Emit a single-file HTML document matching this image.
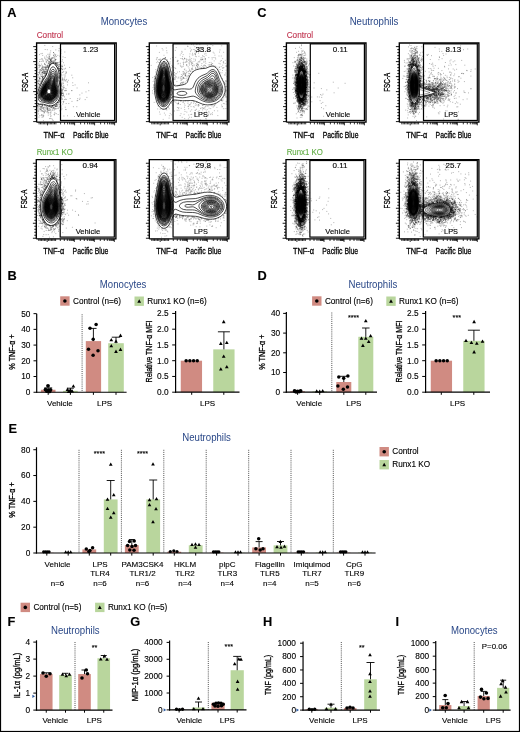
<!DOCTYPE html>
<html><head><meta charset="utf-8"><style>
html,body{margin:0;padding:0;background:#fff;width:520px;height:732px;overflow:hidden}
svg{display:block;will-change:transform}
text{font-family:"Liberation Sans",sans-serif;stroke:#000;stroke-width:0.12px}
.c{stroke-width:0.3px}
.n{stroke:none}
</style></head><body>
<svg width="520" height="732" viewBox="0 0 520 732">
<rect width="520" height="732" fill="#fff"/>
<rect x="0" y="0" width="520" height="1.1" fill="#000"/>
<rect x="0" y="730.9" width="520" height="1.1" fill="#000"/>
<rect x="0" y="0" width="1.1" height="732" fill="#000"/>
<rect x="518.9" y="0" width="1.1" height="732" fill="#000"/>
<text x="7.3" y="16.9" font-size="12.8" font-weight="bold">A</text>
<text x="257.2" y="16.9" font-size="12.8" font-weight="bold">C</text>
<text x="7.5" y="280" font-size="12.8" font-weight="bold">B</text>
<text x="257.5" y="280" font-size="12.8" font-weight="bold">D</text>
<text x="8.6" y="433" font-size="12.8" font-weight="bold">E</text>
<text x="7.6" y="626.3" font-size="12.8" font-weight="bold">F</text>
<text x="130.2" y="626.4" font-size="12.8" font-weight="bold">G</text>
<text x="263" y="626.3" font-size="12.8" font-weight="bold">H</text>
<text x="395.4" y="626.2" font-size="12.8" font-weight="bold">I</text>
<text x="124" y="24.8" font-size="10" text-anchor="middle" fill="#2a4888" class="n" textLength="46.5" lengthAdjust="spacingAndGlyphs">Monocytes</text>
<text x="374" y="24.5" font-size="10" text-anchor="middle" fill="#2a4888" class="n" textLength="48.7" lengthAdjust="spacingAndGlyphs">Neutrophils</text>
<text x="36.7" y="37.9" font-size="9" fill="#c1344f" style="stroke:#c1344f" textLength="26.4" lengthAdjust="spacingAndGlyphs">Control</text>
<text x="286.7" y="37.9" font-size="9" fill="#c1344f" style="stroke:#c1344f" textLength="26.4" lengthAdjust="spacingAndGlyphs">Control</text>
<text x="36.7" y="154.9" font-size="9" fill="#62ad45" style="stroke:#62ad45" textLength="36.1" lengthAdjust="spacingAndGlyphs">Runx1 KO</text>
<text x="286.7" y="154.9" font-size="9" fill="#62ad45" style="stroke:#62ad45" textLength="36.1" lengthAdjust="spacingAndGlyphs">Runx1 KO</text>
<path d="M44.8 45.4h0m7.9 1.1h0m-7.5 3h0m2.1.2h0m8.5.2h0m3.4-1.4h0m2 1.4h0m-10.5 1h0m8.1-.1h0m2 .6h0m-19.8 2.3h0m1.3-.3h0m7.9-.5h0m3.3-.4h0m.1 0h0m.6 1.2h0m6.8-.5h0m3.8-1.2h0m-25.3 2.6h0m3.2.8h0m3.7.5h0m1.5-1.6h0m1.4-.1h0m.8.7h0m3.4.7h0m.2.2h0m.4-1.2h0m1.2.7h0m.4-.9h0m2.1 1h0m-13.1 1.7h0m2.3.1h0m1.2.6h0m.7-1.7h0m.5 1.6h0m0-1.5h0m.2.5h0m2.7 1h0m1.4-.1h0m.9-1.2h0m1.1-.4h0m.7.6h0m3.3-.5h0m3.3.8h0m2.1.6h0m-25.1 2.1h0m1.4-.6h0m.8-.3h0m.5 1.1h0m2.1-1.5h0m1 .8h0m1.3.3h0m1.7-.7h0m.3.7h0m.1-.6h0m0-.6h0m.9 1.4h0m0-1h0m.3 1.1h0m.3.1h0m.1-.1h0m.2-1.5h0m.4 1h0m.3-.6h0m.4-.5h0m0-.1h0m.9.2h0m1.6 0h0m.4-.2h0m.3 1.8h0m0-.3h0m.9-.1h0m6.3.4h0m-22.9 1.8h0m.2-.1h0m1.9-.1h0m1.4-.7h0m.1.9h0m2.7-1.6h0m.1 1.9h0m.6-.5h0m.7-.8h0m.4-.3h0m.8 1.5h0m.2-.7h0m.8.7h0m.2-.1h0m.8-1.3h0m0 .3h0m.1-.1h0m.5.7h0m.3-1.3h0m.1 1.3h0m.1.3h0m.3-1.4h0m.1.9h0m.6.7h0m.5-.6h0m.6-.4h0m.1.7h0m.5-1.3h0m.2 1h0m.8-1.1h0m.2-.1h0m4.5 1.9h0m.5-.7h0m1.5.2h0m-23.2 1.8h0m5.7.2h0m2.2-.7h0m1.5 1.1h0m.6-.2h0m.1-.4h0m.1-.3h0m.1 0h0m.9-.6h0m.1 1.3h0m.4-1.5h0m.2 0h0m.1.2h0m0 .9h0m.1.6h0m.3.1h0m.5-.5h0m.1-1.3h0m.3 1h0m.2-.7h0m.9.9h0m0-.8h0m.3.3h0m.3 0h0m0-.3h0m.4-.1h0m.2.5h0m.6.7h0m.4-1.5h0m.1 1.5h0m0-.9h0m.1 1h0m.1-.5h0m.1.2h0m.1-1h0m0 1.4h0m.1-.2h0m.5-.9h0m0 .3h0m.7.4h0m.4-.8h0m.2.2h0m.2.2h0m1.1-.6h0m4.4.3h0m-24.5 2.5h0m.1.5h0m.2-.8h0m.8.8h0m.4.1h0m.9-1.7h0m.8 1.3h0m2.3-1.2h0m.4 0h0m.5.3h0m1.9 1.2h0m.2-.1h0m.3-.6h0m1.1.7h0m.5-.5h0m.1.5h0m0-.8h0m.1-.3h0m0 .5h0m.1.2h0m0-1.3h0m.5.5h0m.1-.1h0m.2.1h0m4.7-.2h0m.6.2h0m.2.8h0m.7-1.3h0m.1.3h0m.1 0h0m.1.8h0m.1 0h0m.3.6h0m.3-.8h0m.3.6h0m.8-.8h0m.3.1h0m.3-.4h0m.5 1.3h0m.8-.1h0m1.5-.4h0m2.2 0h0m-25.3 2.4h0m.3-.8h0m2.6 1.1h0m.3-1.5h0m.1.9h0m.1-.1h0m1 .2h0m.2-.7h0m.7.9h0m.5-.6h0m.2-.1h0m.3.6h0m.4-1.5h0m0 1.5h0m.4-1.5h0m.4 1.2h0m.2 0h0m.1.1h0m.5-.5h0m.3-.2h0m.2.7h0m.2-1.2h0m.1 1.3h0m.2.5h0m.1-.3h0m.2-.9h0m.3-.5h0m.2.1h0m7.4.1h0m.2.4h0m.7.8h0m.6 0h0m.1.2h0m.3-1.1h0m0-.1h0m.9-.1h0m1.5-.5h0m.1.1h0m.2.6h0m1.2-.2h0m.2.3h0m7 .6h0m-31.9 2.2h0m0-1.4h0m2.4 1.3h0m.3.2h0m1-1h0m0 1.2h0m.3-1.6h0m.9 1.6h0m.3-1.4h0m0 1.3h0m0-.6h0m.2.1h0m1.2.4h0m1-.4h0m0-1h0m.1.8h0m.6-1.1h0m0 1.3h0m.2-.5h0m.1.6h0m.9-.2h0m10.5-1.1h0m.5.9h0m0-.4h0m.4-.3h0m.1.9h0m.2-.5h0m.1 0h0m.3.2h0m.1-.2h0m.5-.4h0m.9 1.4h0m0-1h0m.2 0h0m.5-.4h0m.8 1h0m.1.4h0m.6-.7h0m1.7 0h0m.8-.7h0m-25.9 3.4h0m0-1.5h0m1 .6h0m.4 0h0m.6-.2h0m.8 1.3h0m.5-.1h0m.6-1.8h0m.3 1.5h0m.1-.4h0m.1-.4h0m.1.5h0m.5.2h0m.5.5h0m.5-.3h0m.2-.6h0m.4.2h0m.1-.3h0m.2.5h0m.6-1.3h0m.4.1h0m11.6.1h0m.1-.3h0m0 1.7h0m.2-1.3h0m.3-.2h0m0 .2h0m0 .9h0m.1-.8h0m3.9.9h0m2.4.3h0m-27.7.8h0m1.1.8h0m.2-.8h0m.1-.4h0m.2 1.8h0m1.7-1.2h0m.3.6h0m.4-.5h0m.1-.3h0m.3-.4h0m.1.8h0m.6.1h0m.2.2h0m.4-.3h0m.2.6h0m0 .4h0m0-1.9h0m.3.4h0m0 .7h0m.4.8h0m.4-1.7h0m0 1.2h0m.2-.6h0m.5 1.1h0m.1-.1h0m.3-.4h0m0 .4h0m.3-.6h0m.1-.6h0m12.3.2h0m.2.7h0m.1-.2h0m.8.4h0m.6-.1h0m1.2-1.3h0m.8.1h0m2.5 1.5h0m.7-1h0m.3-.1h0m-28.7 1.7h0m.5.6h0m.5-.3h0m2.2.4h0m.1-.8h0m1.4.1h0m0 1.2h0m2.5 0h0m.4-1.6h0m.1 1.8h0m0-.1h0m.1-.2h0m.1.2h0m.3-1h0m.1-.5h0m.4 0h0m12.9 1.3h0m.3.2h0m.2-1.4h0m.6-.4h0m.6.4h0m.8.6h0m2.2-.1h0m1.2 1h0m6.6-.7h0m-33.6 1.9h0m1 .1h0m.8-.1h0m1.1-.8h0m.5.2h0m.4.1h0m.2-.2h0m.3 1.1h0m.1-.7h0m0 .7h0m.2-.3h0m.2.2h0m.5-.9h0m.1-.3h0m1-.1h0m.1.9h0m0 .4h0m14.2.4h0m.1-.7h0m.1 0h0m.2-.4h0m.4.7h0m.1-.7h0m2-.7h0m.4 1.6h0m2.6-.5h0m7.9.7h0m-33.6 1.8h0m.4-.9h0m.1-.6h0m.3.3h0m.1.1h0m.2.6h0m2-.3h0m.2-.8h0m.2 1.2h0m.1 0h0m0 .2h0m.3-.8h0m.6 0h0m0 .4h0m.1 0h0m.2-.7h0m15.1-.2h0m1 .5h0m0-.3h0m.2.4h0m0-.6h0m.9 1h0m1.4-.6h0m0 1.2h0m.4-.3h0m1.2.3h0m.1-1.4h0m.5 1.5h0m1.9-.4h0m-28.7 2.2h0m.1.2h0m.3-.8h0m.1-.5h0m1.4.9h0m0-.7h0m.2.5h0m1.6.4h0m0-.1h0m.3-1h0m.2-.5h0m.1.1h0m.1 1.1h0m.1-.8h0m.1.6h0m16.5-.6h0m.4.7h0m.1.4h0m2.5-.6h0m.2-.8h0m1.6.8h0m1.5.1h0m.6-.7h0m1.2 1.5h0m1.3-1.5h0m-30.3 3.3h0m.5-.1h0m.3-.4h0m1.5 0h0m.2.5h0m.5-1.5h0m.1.7h0m.1-.5h0m.1.7h0m.6-1h0m17.5.3h0m.4.9h0m.5-.7h0m.3 1.1h0m.1-1.6h0m.1 1.1h0m.8.8h0m.3-1.1h0m1.2.9h0m.1-.7h0m4.3-.9h0m5.1.7h0m15.8 0h0m-49.7 1.3h0m.4 1.7h0m.1-1.3h0m.2.4h0m.1-.4h0m.5 1h0m.5-.4h0m0-1h0m19.4.9h0m.8-.3h0m.2-.7h0m0 1.8h0m.3 0h0m.1-.6h0m.4-.4h0m1.9.9h0m3.8-.8h0m5.5.6h0m2.1-.6h0m-37.4 2.1h0m1.1.7h0m.2-.4h0m0-1.2h0m21.5.5h0m0-.5h0m.4.2h0m.1 1.3h0m.3-.9h0m1.4 0h0m1 1.2h0m.1-.8h0m.4.6h0m-26.4 1.4h0m.3.6h0m.4-.4h0m22.1-1.1h0m.2.2h0m0 .8h0m.1-.8h0m0 .7h0m.1-.6h0m.8 1.2h0m.3 0h0m.3.1h0m.5-1.7h0m.5 1.2h0m2.5-.7h0m11.2-.6h0m-39.1 3.1h0m22.9-.3h0m0 .2h0m.2-.1h0m.5-.9h0m0 .8h0m.6.9h0m.4-1h0m2.3-.2h0m0 .4h0m1.1-.6h0m.2.3h0m5.6-.1h0m0 .2h0m14.2 1.2h0m2.8-1.2h0m-28 3.1h0m.1-.3h0m.2.1h0m.2-1.5h0m.2.8h0m.1.3h0m.1-.2h0m.3-.7h0m.1 1.3h0m.3-.1h0m.2-.3h0m.8-.1h0m5.7.8h0m12.9-.8h0m-21.4 2.4h0m0-.6h0m.1-.4h0m.2-.5h0m.1.4h0m.1 1.1h0m.2-1.2h0m0 .3h0m.3.9h0m.5.4h0m.3-.1h0m.8-.7h0m.2.1h0m.1-1.2h0m3.1.1h0m2-.1h0m11.2.9h0m-19.3 1.4h0m.2 1.2h0m.1-.9h0m0 .4h0m0 .3h0m.9 0h0m2-1.3h0m.8.9h0m22.4.5h0m-27 2.2h0m0-1h0m.3.6h0m.1.6h0m.2-.8h0m0-.1h0m.2-.9h0m.4 1.1h0m.7-.2h0m.2 0h0m.4.3h0m2 .3h0m1.3-.4h0m.5.4h0m4-1h0m7.5.2h0m1.9.7h0m.4-1.2h0m5.2 1.4h0m-26.1 1.1h0m0 .2h0m.1-.5h0m.2 1h0m.3.3h0m.2-1.2h0m.4-.3h0m.2 0h0m.1.7h0m2.6.6h0m.6-.2h0m8.2.1h0m5.1-.7h0m.6-.1h0m-40 2.9h0m.5.4h0m17.9-.3h0m.6.3h0m.6-1.4h0m.1-.1h0m.2 0h0m.2.6h0m.1-.5h0m.1.1h0m.4.4h0m.2-.9h0m1.1.1h0m.9.6h0m.2-.6h0m2.7.4h0m2.7.9h0m2.6 0h0m-31.2 2h0m.1.2h0m.2-.4h0m.2-1.2h0m.5 0h0m.2.7h0m.8-.3h0m.1 1.2h0m.9-1.4h0m.1.1h0m.4-.1h0m.8.1h0m.2 1.2h0m.4-.5h0m0 .7h0m0-1.5h0m.2 1.5h0m.2-.2h0m1.3-1.1h0m.5.9h0m.1 0h0m.5-.2h0m.7.2h0m1.3.1h0m2.2.4h0m.6 0h0m2.3-.1h0m.1-.2h0m.2 0h0m.3.2h0m.1-.4h0m.7-.3h0m.5.1h0m.1.3h0m1 0h0m.4-.5h0m0 .7h0m.3-.9h0m.3.2h0m.2-.6h0m.2-.4h0m.3.9h0m.1-.2h0m1.6 0h0m1.1.3h0m.1-.9h0m2.8 0h0m-25.1 2.2h0m.5.2h0m0 1.2h0m1.8-1h0m.1 0h0m.6.1h0m.2.7h0m.5-.7h0m.4-.3h0m0-.5h0m.2 1.1h0m.9.8h0m.3-.3h0m.6.1h0m1-.6h0m.4.2h0m1.2-.8h0m.2 1.2h0m.4-1.6h0m.3 1.3h0m.2.4h0m.1-1.7h0m1 .5h0m.3.1h0m.3 0h0m.1-.6h0m.5.4h0m.9.5h0m0 .2h0m.4-.6h0m.2.7h0m.3.4h0m0-.5h0m.5-.8h0m.3.4h0m0-.5h0m.7 1.3h0m.6.3h0m0-1h0m.2.9h0m.2-.2h0m.7-1.2h0m.8.3h0m.1-.2h0m.1.1h0m.1-.2h0m.6-.1h0m.3-.2h0m.4 0h0m.5-.1h0m.6 1.8h0m1-1.3h0m.7.9h0m.4-.2h0m.7.6h0m.2-1.8h0m4 1.2h0m8.1-.5h0m3.4 0h0m-38.4 2.4h0m1.5-.8h0m.1.7h0m.1.5h0m.6-.5h0m.1.7h0m.6-.6h0m.1-1.1h0m1.2.4h0m.8.7h0m.4-.7h0m.3 1.3h0m1.7-1.1h0m1.2.5h0m0 .2h0m.2-.7h0m.2.3h0m0 .4h0m.5-1h0m.2 1.6h0m.7-.8h0m.7-.8h0m.4 1.5h0m.6-.6h0m1.8.6h0m.3-1.5h0m1.2.3h0m.2-.2h0m.3 1.3h0m.8-1.1h0m.5.2h0m.3.2h0m1-.5h0m1.2.1h0m2.9 1.2h0m.8-.9h0m3.8.5h0m.4.2h0m-28.1 1.3h0m.6.8h0m.2-1h0m2.3.3h0m.8-.6h0m.2.4h0m.2.3h0m.8.3h0m.4.4h0m.6-.9h0m.5 1h0m.6-.9h0m.1-.9h0m.7 1.2h0m1.4-.9h0m.1 1.3h0m.4-.7h0m.6-.4h0m1-.3h0m.7.2h0m.8 1.3h0m1.1-1.4h0m1.9-.2h0m5.8.6h0m-21.2 3.1h0m5.5-.8h0m.4-.8h0m2.6 0h0m1.1.9h0m.4-.6h0m1.6.1h0m.7.3h0m3.9-.6h0m.2 1.2h0m1.4.1h0m4.2-.1h0m-20.7 2h0m1.9-1.1h0m0 .8h0m.1 0h0m1.4-.2h0m.4.6h0m4.6-.6h0m2-.8h0m.8 1.6h0m3-1.5h0m.4.5h0m3.7-.4h0m9.3 1.3h0m-28.5 1.3h0m3 .1h0m1-.2h0m.3-.7h0m7.3-.1h0m13.3-.2h0m10.6.5h0m5.8-.1h0m-30.8 2.2h0m1-.2h0m1.3.3h0m.6 1.1h0m-9 .8h0m9.8-.2h0" stroke="#000" stroke-opacity="0.5" stroke-width="0.6" stroke-linecap="square" fill="none"/>
<path d="M37.3 94.2l.8-2.8 1.4-4 3.1-6.2 3.7-6.2 2.3-6.8.9-2 1-1.6 1.2-1 1.2-.3 1.2.3 1.5 1.4 1.5 2.4 1.1 2.4.6 2.4.2 2.4 0 6.6 1.4 6.6.4 3.3-.3 3.9-1.1 3.8-1.5 2.8-1.7 1.9-2.1 1.4-2.1.8-1.5.1-1.8-.1-5.4-1.5-4.2 0-1.2-.6-.6-.7" fill="none" stroke="#000" stroke-width="0.7"/>
<path d="M51.4 103.7l-1.5.1-1.8-.3-4.1-1.1-2.8-.5-1.2-.4-.9-.8-.5-.9-.2-1.2-.1-1.8.3-2.4.6-2.4.9-2.8 1.3-2.6 2.3-4.2 4.1-6 .9-2.2 1.4-4.1.7-1.6 1.2-1.4 1.2-.3 1.2.6 1 1.2 1 1.8.7 2 .4 3 0 6.7 1.5 6.5.3 4-.3 2-.5 2.2-.8 1.8-.9 1.5-1.2 1.4-1.2 1-1.5.7-1.5.5Z" fill="none" stroke="#000" stroke-width="0.7"/>
<path d="M50.5 102.5l-1.5-.1-1.8-.3-4.8-1.3-1.5-.6-.7-.8-.6-1.2-.3-1.4.1-1.6.8-3.8 2.3-5.2 2.1-3.6 4-5.4 2.8-6.6.9-1 .9-.2.9.3.9 1 .8 1.5.4 1.4.3 2.8 0 6.1 1.6 6.7.2 1.9-.1 2.1-.3 1.8-.5 1.8-.7 1.4-1.1 1.6-1.2 1.2-1.2.7-1.2.5-1.5.3Z" fill="none" stroke="#000" stroke-width="0.7"/>
<path d="M51.1 101.6l-1.8.1-1.8-.3-4.2-1.2-1.5-.6-.9-.7-.5-.9-.4-1.2 0-1.8.3-2.2.7-2 2.2-4.8 1.9-3 3.9-5.2 2.7-5.5.6-.7.9-.4.9.4.6.7.9 2.4.2 2.3 0 5.6 1.6 6.6.2 3.6-.7 3.4-1.3 2.4-1 1.2-1.1.8-1.2.6-1.2.4Z" fill="none" stroke="#000" stroke-width="0.7"/>
<path d="M50.2 101l-1.8-.1-1.8-.4-3-.9-1.5-.7-.9-.9-.4-.9-.2-1.3 0-1.4.3-1.8.7-2.2 2.3-4.8 1.8-2.6 3.7-4.6 2.6-4.6.6-.6.6-.2.6.2.6.8.6 1.8.3 7.2 1.6 6.6.2 1.8-.1 1.8-.7 3-.7 1.3-.9 1.3-.9.8-1.2.7-2.4.7Z" fill="none" stroke="#000" stroke-width="0.7"/>
<path d="M50.2 100.4l-1.8-.1-1.8-.3-2.4-.8-1.5-.7-.9-.9-.5-.8-.3-1.6.1-1.4.4-1.8.7-2.2 2.4-4.4 1.7-2.4 3.4-3.9 2.3-3.6.6-.5.6-.2.7.6.5 1.6.3 6 1.7 6.6.2 1.8 0 1.8-.7 2.6-1.5 2.4-1.8 1.5-1.2.5-1.2.2Z" fill="none" stroke="#000" stroke-width="0.7"/>
<path d="M49.9 100.1l-1.8-.1-1.8-.4-2.1-.8-1.5-.8-.7-.6-.5-1.2-.2-1.2 0-1.2.4-1.8.8-2.2 2.4-4.4 1.4-2.1 3.4-3.7 2.3-3 .9-.6.6.3.5 1.3.5 6 1.8 6.6 0 3-.7 2.6-1.5 2.3-1.8 1.4-1.2.4-1.2.2Z" fill="none" stroke="#000" stroke-width="0.7"/>
<path d="M49.9 99.8l-1.8-.1-1.8-.4-2-.7-1.3-.8-.8-.7-.4-.9-.2-1.2 0-1.6.4-1.8.8-2 2.6-4.7 1.5-1.9 4.8-5.2.6-.5.6-.1.3.4.4.8.7 5.4 1.6 5.8.2 1.8-.1 1.8-.7 2.6-1.4 2.2-1.9 1.3-2.1.5Z" fill="none" stroke="#000" stroke-width="0.7"/>
<path d="M49.9 99.5l-1.5-.1-1.8-.3-2.1-.8-1.2-.7-.9-.8-.4-1-.2-1.2 0-1.2.4-1.8.8-2 1.2-2.4 1.5-2.3 1.8-2.2 3.6-3.5.9-.7.6-.1.6.9.8 4.9 1.6 5 .3 2.2-.1 1.8-.7 2.4-1.3 2-1.8 1.3-2.1.6Z" fill="none" stroke="#000" stroke-width="0.7"/>
<path d="M49.9 99.2l-1.5-.1-1.8-.4-1.8-.6-1.2-.6-.8-.7-.5-1-.2-1.2 0-1.2.4-1.8.8-2 2.4-4.4 1.5-1.8 1.5-1.5 2.4-1.9.9-.4.6.4.3.6.9 3.8 1.4 4.2.4 2.2 0 2-.6 2.4-1.3 2.2-1.7 1.2-2.1.6Z" fill="none" stroke="#000" stroke-width="0.7"/>
<path d="M49.6 98.9l-1.5-.1-1.8-.4-1.5-.6-1.2-.7-.6-.7-.4-.8-.3-1.2.1-1.2.4-1.8.7-1.8 1.2-2.4 1.3-2 1.5-1.7 1.5-1.4 1.8-1.2.9-.3.6.4.3.6 2.3 7 .4 2.2 0 2-.6 2.4-1.2 1.9-1.8 1.3-2.1.5Z" fill="none" stroke="#000" stroke-width="0.7"/>
<path d="M49.6 98.6l-1.5-.1-1.5-.4-1.5-.5-1.2-.7-.7-.7-.4-1-.2-2 .4-1.8.7-1.8 1.1-2.2 1.4-2 1.3-1.6 1.5-1.3 1.5-.9.9-.1.6.3.3.6 2.2 6 .6 2.4 0 2-.7 2.4-1.2 1.8-1.5 1.1-2.1.5Z" fill="none" stroke="#000" stroke-width="0.7"/>
<path d="M49.6 98.3l-1.5-.1-1.5-.4-2.4-1.1-.6-.6-.5-.9-.2-.8 0-1.2.4-1.8.6-1.8 1.1-2.2 1.2-1.8 1.3-1.4 1.2-1.1 1.5-.8.9-.2.6.4.6.9 1.8 4.7.7 2.3 0 2.2-.4 2-1.2 2-1.5 1.1-2.1.6Z" fill="none" stroke="#000" stroke-width="0.7"/>
<path d="M49.3 98l-2.7-.5-2.2-1.1-.6-.6-.5-.8-.1-2.2.3-1.4.7-1.8 2.1-3.7 1.2-1.3 1.2-1.1 1.2-.6.9-.1.6.2.6.8 1.7 4 .8 2.4.1 2.4-.5 2-1.2 1.9-1.5 1-2.1.5Z" fill="none" stroke="#000" stroke-width="0.7"/>
<path d="M49.6 97.7l-2.4-.3-2.4-1-.6-.6-.6-.8-.2-1.8.2-1.6.7-1.8 2-3.5 2.1-2.2 1.2-.6.9-.2.6.2.6.6 1.5 3 .9 2.7.3 2.4-.5 2.2-1 1.6-1.5 1.2-1.8.5Z" fill="none" stroke="#000" stroke-width="0.7"/>
<path d="M49.3 97.4l-2.4-.4-2.1-1.1-.9-1.3-.2-1.8.3-1.4.5-1.6 1.8-3.1 2.1-2.2.9-.5.9-.2.6.2.6.5 1.5 2.7 1 2.6.2 2.4-.5 2.2-1 1.5-1.5 1.1-1.8.4Z" fill="none" stroke="#000" stroke-width="0.7"/>
<path d="M50.8 96.8l-2.1.2-1.5-.2-1.2-.5-1.5-1.2-.4-.7-.2-1 .1-1.2.4-1.4 1.6-3.3 1-1.3 1.1-1 .9-.6.9-.3 1.1.5 1 1.3 1.3 2.9.5 2.4-.1 1.8-.5 1.4-.9 1.2-1.5 1Z" fill="none" stroke="#000" stroke-width="0.7"/>
<path d="M50.5 96.5l-2.1.2-2.1-.6-1.5-1.1-.6-1.6.1-1.2.2-1.1 1.5-3.1 1.8-2.2.9-.6.9-.3.6 0 .6.3.9 1.1 1.3 2.7.6 2.4-.2 1.8-.6 1.4-1 1.2-1.3.7Z" fill="none" stroke="#000" stroke-width="0.7"/>
<path d="M50.5 96.2l-2.1.2-2.1-.7-1.3-1.1-.5-1.4.1-1.2.3-1.2 1.4-2.8 1.8-2 1.5-.7.6.1.6.4.9 1.2 1.1 2.2.5 2.2-.1 1.4-.5 1.6-1 1.1-1.2.7Z" fill="none" stroke="#000" stroke-width="0.7"/>
<path d="M50.2 95.9l-1.8.1-1.8-.5-1.2-.9-.6-1.4.3-2.1 1.2-2.7 1.5-1.8 1.5-.8.6 0 .6.3.9 1 1.1 2.1.5 2.2-.1 1.4-.6 1.6-.9 1-1.2.5Z" fill="none" stroke="#000" stroke-width="0.7"/>
<path d="M50.2 95.6l-1.8.1-1.8-.6-1.1-1-.4-1.3.3-2 1-2.2 1.4-1.6.9-.6.6-.1 1 .3 1.1 1.2.9 1.8.4 1.8-.1 1.4-.5 1.3-.7.9-1.2.6Z" fill="none" stroke="#000" stroke-width="0.7"/>
<path d="M49.9 95.3l-1.8 0-1.5-.6-.9-.9-.3-1.2.3-1.8 1.1-2.2 1.3-1.4 1.2-.4.9.2 1 1.1.8 1.5.4 1.8-.1 1.4-.6 1.3-.9.8-.9.4Z" fill="none" stroke="#000" stroke-width="0.7"/>
<path d="M49.6 95l-1.5-.1-1.2-.5-.9-1-.2-.8.1-1.5.8-1.9 1.1-1.3 1.2-.6.9.1.9.8.9 1.6.4 1.6-.1 1.2-.5 1.2-.7.7-1.2.5Z" fill="none" stroke="#000" stroke-width="0.7"/>
<path d="M50.2 94.4l-1.2.2-1.5-.3-.9-.7-.5-1 .1-1.5.7-1.6.9-1.1 1.2-.6.9.2.6.5.9 1.3.3 1.3 0 1.1-.3 1-.6.8-.6.4Z" fill="none" stroke="#000" stroke-width="0.7"/>
<path d="M49.6 94.1l-1.2 0-.9-.3-.7-.6-.3-1 .1-1.1.6-1.4.9-1 .9-.4.9.3.6.6.6 1.1.2 1.1 0 .8-.4 1-.5.6-.8.3Z" fill="none" stroke="#000" stroke-width="0.7"/>
<path d="M49.9 93.5l-.9.2-.9-.2-.6-.3-.5-1 0-.8.2-1 .6-.8.9-.6.6 0 .6.3.9 1.5 0 1.6-.3.6-.6.5Z" fill="none" stroke="#000" stroke-width="0.7"/>
<rect x="60.5" y="43.85" width="54.1" height="76.6" fill="none" stroke="#000" stroke-width="1.2"/>
<path d="M36.6 122.15V42.95H116.2V122.15H36.6" fill="none" stroke="#000" stroke-width="1.35"/>
<line x1="33.2" y1="46.6" x2="36.6" y2="46.6" stroke="#000" stroke-width="0.9"/>
<line x1="34.6" y1="49.6" x2="36.6" y2="49.6" stroke="#000" stroke-width="0.9"/>
<line x1="34.6" y1="52.6" x2="36.6" y2="52.6" stroke="#000" stroke-width="0.9"/>
<line x1="34.6" y1="55.6" x2="36.6" y2="55.6" stroke="#000" stroke-width="0.9"/>
<line x1="34.6" y1="58.6" x2="36.6" y2="58.6" stroke="#000" stroke-width="0.9"/>
<line x1="33.2" y1="61.6" x2="36.6" y2="61.6" stroke="#000" stroke-width="0.9"/>
<line x1="34.6" y1="64.6" x2="36.6" y2="64.6" stroke="#000" stroke-width="0.9"/>
<line x1="34.6" y1="67.6" x2="36.6" y2="67.6" stroke="#000" stroke-width="0.9"/>
<line x1="34.6" y1="70.6" x2="36.6" y2="70.6" stroke="#000" stroke-width="0.9"/>
<line x1="34.6" y1="73.6" x2="36.6" y2="73.6" stroke="#000" stroke-width="0.9"/>
<line x1="33.2" y1="76.6" x2="36.6" y2="76.6" stroke="#000" stroke-width="0.9"/>
<line x1="34.6" y1="79.6" x2="36.6" y2="79.6" stroke="#000" stroke-width="0.9"/>
<line x1="34.6" y1="82.6" x2="36.6" y2="82.6" stroke="#000" stroke-width="0.9"/>
<line x1="34.6" y1="85.6" x2="36.6" y2="85.6" stroke="#000" stroke-width="0.9"/>
<line x1="34.6" y1="88.6" x2="36.6" y2="88.6" stroke="#000" stroke-width="0.9"/>
<line x1="33.2" y1="91.6" x2="36.6" y2="91.6" stroke="#000" stroke-width="0.9"/>
<line x1="34.6" y1="94.6" x2="36.6" y2="94.6" stroke="#000" stroke-width="0.9"/>
<line x1="34.6" y1="97.6" x2="36.6" y2="97.6" stroke="#000" stroke-width="0.9"/>
<line x1="34.6" y1="100.6" x2="36.6" y2="100.6" stroke="#000" stroke-width="0.9"/>
<line x1="34.6" y1="103.6" x2="36.6" y2="103.6" stroke="#000" stroke-width="0.9"/>
<line x1="33.2" y1="106.6" x2="36.6" y2="106.6" stroke="#000" stroke-width="0.9"/>
<line x1="34.6" y1="109.6" x2="36.6" y2="109.6" stroke="#000" stroke-width="0.9"/>
<line x1="34.6" y1="112.6" x2="36.6" y2="112.6" stroke="#000" stroke-width="0.9"/>
<line x1="34.6" y1="115.6" x2="36.6" y2="115.6" stroke="#000" stroke-width="0.9"/>
<line x1="34.6" y1="118.6" x2="36.6" y2="118.6" stroke="#000" stroke-width="0.9"/>
<line x1="33.2" y1="121.6" x2="36.6" y2="121.6" stroke="#000" stroke-width="0.9"/>
<path d="M39.1 122.15v2.2M40.5 122.15v2.2M41.9 122.15v2.2M43.3 122.15v2.2M44.7 122.15v2.2M46.1 122.15v2.2M47.5 122.15v3.2M48.9 122.15v2.2M50.3 122.15v2.2M51.7 122.15v2.2M53.1 122.15v2.2M54.5 122.15v2.2M55.9 122.15v2.2M60.6 122.15v2.2M64.6 122.15v2.2M67.6 122.15v2.2M69.6 122.15v2.2M71.1 122.15v2.2M72.1 122.15v2.2M73.1 122.15v2.2M73.9 122.15v2.2M74.6 122.15v3.2M80.6 122.15v2.2M84.6 122.15v2.2M87.6 122.15v2.2M89.6 122.15v2.2M91.1 122.15v2.2M92.1 122.15v2.2M93.1 122.15v2.2M93.9 122.15v2.2M94.6 122.15v3.2M100.6 122.15v2.2M104.6 122.15v2.2M107.6 122.15v2.2M109.6 122.15v2.2M111.1 122.15v2.2M112.1 122.15v2.2M113.1 122.15v2.2M113.9 122.15v2.2M114.6 122.15v3.2" stroke="#000" stroke-width="0.8"/>
<text x="90.55" y="51.8" font-size="8" text-anchor="middle">1.23</text>
<text x="88.25" y="116.95" font-size="8" text-anchor="middle" textLength="24.6" lengthAdjust="spacingAndGlyphs">Vehicle</text>
<text transform="translate(27.7,82.35) rotate(-90)" x="0" y="0" font-size="9.8" text-anchor="middle" textLength="18.9" lengthAdjust="spacingAndGlyphs" class="c">FSC-A</text>
<text x="43.5" y="137.5" font-size="9.2" textLength="21.1" lengthAdjust="spacingAndGlyphs" class="c">TNF-&#945;</text>
<text x="72.9" y="137.5" font-size="9.2" textLength="35.8" lengthAdjust="spacingAndGlyphs" class="c">Pacific Blue</text>
<path d="M172.8 45.8h0m18.9-1.3h0m1.9.3h0m3.2-.2h0m3 0h0m7.6.8h0m3.5-.9h0m1.9 1.1h0m8.9.2h0m-65.1.2h0m19.6 1.6h0m11.3-1.4h0m.5.2h0m6.8.3h0m4.5 1.2h0m-37.1.7h0m4.1-.6h0m18.8 1.2h0m5.1-1.1h0m1.5 1.6h0m2.1-.2h0m.9.4h0m3-.9h0m3.1.9h0m.3-1.1h0m.5-.3h0m.3-.1h0m6.6 1.2h0m11.5.3h0m-57 .1h0m3.7.7h0m8.6-.3h0m6.5.9h0m8.8.3h0m.3-1.3h0m4.1 1.4h0m.6-1.2h0m2.7-.2h0m1 .4h0m4.2.9h0m3.7-.3h0m1.5-.2h0m-49.3 1.3h0m7.6.4h0m14.3.5h0m.9-1.1h0m7.7 1.7h0m2.6-.6h0m2.5.4h0m.1.2h0m1-1.3h0m.4-.3h0m2 .8h0m7.4.2h0m7.3-1.1h0m.9 1h0m5.4-1.1h0m4.1.2h0m-59.6 3h0m16.3-.3h0m2.9-.4h0m9.1.3h0m.7.1h0m2.2-.9h0m.3.6h0m7.1 1h0m2-1.7h0m1.5 1.2h0m8.8 0h0m-57.5 2.5h0m8.1-.1h0m0-.1h0m7.2 0h0m3-.1h0m6.9-.8h0m7-.3h0m5.8-.1h0m1 .5h0m2.5-.4h0m2.1 1.6h0m1.1 0h0m1.1-1.5h0m1.2.4h0m4.4.8h0m3.3 0h0m1.8-.1h0m1.4.3h0m3.7-1.8h0m2.3 0h0m-64.9 3.6h0m.3-1.5h0m1.7 1.5h0m1.3.2h0m.3 0h0m.2-.8h0m4.7-1h0m2.3 1.8h0m3.3-1h0m10.4-.3h0m1.4.3h0m.2.1h0m1.1.9h0m.9-1.6h0m.1.5h0m.2 0h0m1.5.3h0m.7.4h0m2.9.2h0m0-1.6h0m1.7.6h0m2.2.4h0m1.6.3h0m5.1.1h0m.9.5h0m.3-.2h0m.7-.3h0m.2.3h0m.4-.6h0m2.2.3h0m.1-1h0m0 .2h0m.1 1.3h0m6.8-.9h0m3.5 0h0m7-.4h0m-65 2.7h0m2.9.1h0m.5-.8h0m6.3.5h0m1 .8h0m1.7-.1h0m3.2-1.8h0m3.9 1.3h0m.3-.9h0m.1 1.2h0m.7-.9h0m7.9.9h0m.5-1.2h0m.5 1.3h0m1.4-1.7h0m.5.3h0m.4 1.6h0m.8-1.8h0m.1 1.4h0m1-.5h0m2.6.3h0m1.5-.6h0m3.4.8h0m1.1-.7h0m3.9.4h0m1.5.5h0m8.8-.8h0m6.2.3h0m1-.7h0m2.2 1.3h0m1.7-1.5h0m-68.5 2.3h0m2.1-.1h0m.9 0h0m9 .5h0m1.1.3h0m8.4 0h0m2 0h0m2.9-.6h0m.3 1.2h0m.1-1.8h0m1.5.3h0m1-.2h0m2.8.7h0m.5.9h0m1.8-1.3h0m.2.5h0m.6.4h0m.6-1.3h0m.1 1.6h0m3.6.2h0m.7-.6h0m1.1-1.1h0m1.6-.2h0m2.2 1.5h0m2-1.2h0m1.9 1h0m3.5-.8h0m1.8-.1h0m.6 1.4h0m.9-.3h0m6.4-.2h0m1.2.6h0m3.1-1.8h0m.3.9h0m1.7.4h0m-74.1 2h0m7.7-.2h0m10.8-1h0m2.2 1.2h0m6.1-1.4h0m2.3 1.2h0m3.2-.4h0m3-.3h0m.1 1.1h0m.4-.6h0m2.4.1h0m2-.7h0m.9 1.2h0m.3.3h0m1.4 0h0m.1-1h0m2.3.5h0m.3.1h0m.6-1.2h0m.6.2h0m0-.5h0m.3.7h0m.3 1h0m2.9-.4h0m2 .1h0m1.2-.3h0m.4.5h0m.4.2h0m2.9-.9h0m1.4-.1h0m.2.3h0m1.3-.6h0m.1 0h0m.7.9h0m1.6.4h0m9.1-.6h0m3.9.5h0m-68.9.9h0m12.2.1h0m1.3 1.2h0m1.3-.9h0m.2-.6h0m1.2 1.2h0m6.8-1.3h0m1.1 1.1h0m.1-1.1h0m1.3.1h0m4.9.3h0m4.2 1.2h0m3.2-.5h0m1.6-1.1h0m.3.9h0m.2-1h0m.4 1.4h0m1.8-.6h0m2 .8h0m1.2-1.3h0m.7 1.1h0m.6-.3h0m2-.5h0m8.6-.8h0m.6.9h0m1.3.2h0m2.4 0h0m.3.3h0m1.7-.8h0m1.4 1.3h0m1.2-.4h0m1.9-1.5h0m.7.6h0m-70.6 2.9h0m2.3-1.3h0m17.1-.2h0m.5.6h0m8.7 1.1h0m.4-.7h0m4.2-.9h0m.5 1.6h0m2-.7h0m.4-.2h0m.4.1h0m.5.7h0m2.9-1.2h0m.2.5h0m1.8.2h0m3.2-1.1h0m.6.3h0m1.7-.3h0m14.9 1.1h0m2 .5h0m3-1.4h0m-67.1 3.1h0m1.1-.7h0m14.3 1.2h0m1.7-.7h0m.2-.9h0m.2 0h0m6 1.5h0m3.4 0h0m.8-.1h0m2.4-1.2h0m1.8 1.5h0m.5-.5h0m1-.9h0m.7 1h0m.5 0h0m.3-1.2h0m1.5 1.2h0m.5.2h0m26.1 0h0m3.5-1.2h0m3.6-.3h0m-70.2 2.6h0m16.7.3h0m.6 0h0m1.3-.5h0m1.1 1.2h0m1-.1h0m1-1.6h0m5.7 1h0m.8.5h0m.3-.9h0m.9 1.2h0m.3-.1h0m.6-1.8h0m.3.8h0m2.3.8h0m.8.1h0m30.8-.8h0m1.6-.1h0m3.6.2h0m-69.2 1.4h0m16.7-.1h0m.7-.1h0m.5.9h0m.7.3h0m6.4-.8h0m1.1 1h0m.5-1.4h0m.8.2h0m1.2 1.4h0m.1-1.7h0m.3 1.3h0m.1.4h0m.2-.8h0m2.4.6h0m.8-.3h0m36-.5h0m.1.3h0m-72.3 2.5h0m1.6-.8h0m.3-.5h0m20.6 1.2h0m.3-1.1h0m1 .6h0m1.9.2h0m1.8-.1h0m1.1-.5h0m.4.1h0m1.2.5h0m.5.5h0m.3-.1h0m2.3-1.6h0m.9 1h0m1.2-.6h0m39 .3h0m-72.6 2.5h0m.2-.8h0m.4-.4h0m.2.2h0m17.4.7h0m.8.6h0m.2-1h0m.2.7h0m.5-1.2h0m.3 1.6h0m.8-.7h0m2.6-.7h0m2.2.1h0m.8 1.6h0m.2-1.1h0m.9.6h0m.7-.9h0m.9-.2h0m.3.2h0m2 .1h0m1.2 1.3h0m.5-.8h0m34.6-.4h0m-69.3 2.9h0m.9-1.5h0m.6 1.7h0m18.6-.8h0m3.7.6h0m4.2-1h0m2.1 1.2h0m3.4-1.1h0m37 1h0m1.8 0h0m.3-1.2h0m1.1.6h0m.4.3h0m-53.6 1h0m7.1 1h0m.1-.3h0m.7-.6h0m.9.3h0m.4.9h0m0-1.2h0m.9.1h0m1.5-.6h0m39.3 1.1h0m.2-.5h0m.6 1h0m-71.8 1.5h0m.2-.1h0m21.3-.5h0m2.5 1.1h0m.8-.3h0m1.1.1h0m.7-.7h0m.6-.6h0m.9.4h0m1.5 0h0m42.2.2h0m-72.3 2.9h0m.7-.9h0m71.7.1h0m.8-.1h0m.8-.4h0m-73.2 3.2h0m0-1.4h0m71.4.9h0m-72.7 1.8h0m2 1h0m71.2-.4h0m.1-.4h0m0-.7h0m.4-.1h0m-73.6 2.9h0m72.8.7h0m.2-1.4h0m-71.4 1.6h0m70.1 1.3h0m1 0h0m.1-1h0m-1.6 3.6h0m1.4-1.8h0m.7 1h0m.3-.2h0m-4.3 2.9h0m-65.7 2.1h0m15.3-.2h0m1-1.2h0m.9-.2h0m.7.4h0m.1 1h0m2-1.3h0m4.6 1.1h0m.2-.9h0m2.6 1.2h0m1.9-.9h0m2.5.8h0m4.9-1h0m.6.6h0m.8.6h0m2.8 0h0m24.2-1.2h0m.2-.3h0m.1-.1h0m.9.6h0m.6-.9h0m3.1 1.2h0m.1.7h0m-72.1.5h0m17.1.7h0m.5-.2h0m4-.8h0m1.3 1.3h0m1.1.1h0m.2-.3h0m.1.3h0m.1-1.4h0m4.4.4h0m1.4 1.3h0m3.5-.5h0m3 .1h0m.4-1h0m2.2.8h0m1.9.4h0m1.2-1h0m26.8.8h0m1 .3h0m-66.4 2.1h0m14.9-.9h0m5.1-.5h0m2.3.1h0m4.7.8h0m3.9-.3h0m.6-.2h0m.8-.1h0m5 .6h0m1.1-.4h0m1.7.8h0m.1-1.1h0m.4-.1h0m.5.8h0m3.5.1h0m.4-.2h0m.9-.8h0m6.7.4h0m1-.1h0m.2 1.2h0m1-.9h0m1.6.3h0m.4-.3h0m.8-.9h0m6 .9h0m4.6-.9h0m-59.4 3.8h0m1.2-.9h0m.3.5h0m9.1 0h0m1.4 0h0m5.7-.3h0m3.7-.9h0m.1.4h0m2.7-.1h0m2.4.1h0m.9.4h0m4.1-1h0m4.2 1.6h0m2.5-.6h0m.7-.6h0m2.1-.1h0m5.3.7h0m.8-.9h0m2.9 1.2h0m5.2-.5h0m.2-.5h0m-64.6 2.5h0m2.4.3h0m3 .3h0m2.2 0h0m1-.5h0m.2-.5h0m.1.4h0m2.6-.1h0m9.4-.3h0m2.6-.2h0m3.5 1.3h0m3.9-.9h0m3.1 1.1h0m4.8-.5h0m4-.7h0m.7-.6h0m1.4 1.9h0m.6-1.8h0m.1.5h0m1.1-.6h0m.7 1.2h0m2.1.4h0m1.9-1.4h0m1.6.4h0m12.7.1h0m1.8-.1h0m1.9-.1h0m-60.3 1.5h0m7.7 1h0m2.7-.7h0m1.7-.1h0m6.1 1.3h0m5.4-.3h0m4.7-.8h0m.3-.3h0m2.7 1.4h0m1.1-.8h0m7.1.4h0m2.5.3h0m5.6-.7h0m3.3.2h0m-58.2 1.1h0m4.9 1.1h0m5.8.3h0m10.8.3h0m5.8-1.6h0m8.2 1h0m8.2.4h0m5.8-.7h0m2.1.9h0m1.4-.9h0m-52.4 1.4h0m5.3.8h0m4 .7h0m1.9-.9h0m8.9.8h0m3.9-1.3h0m4.6.7h0m2.2-.5h0m.8-.2h0m12.4.9h0m4.3.5h0m.2-1.3h0m2 .2h0m1.8 0h0m5.4 1h0m-35.6 1.7h0m7.2-.1h0m2 .1h0m-28.2 2.1h0m5.9-1.3h0m15.6.4h0m3.7.3h0m11.9 1h0m5.5-1.3h0m.4.6h0m18.8 1.4h0" stroke="#000" stroke-opacity="0.45" stroke-width="0.6" stroke-linecap="square" fill="none"/>
<clipPath id="cf2"><rect x="149.3" y="42.95" width="23.75" height="79.2"/></clipPath><g clip-path="url(#cf2)">
<path d="M163.8 100.4l-1.2-.2-.9-.6-.9-1-.8-1.5-1.2-3.9-.3-2.4-.1-2.7.2-3 .5-3 2.5-8.5 1.3-3.1.6-.6.6-.1.6.3.6.9 1 3 1.9 9 .4 3.2.1 3-.3 4-1.1 3.6-.8 1.5-.9 1.1-.9.7-.9.3ZM211.5 95l-2.4.2-1.2-.3-1.2-.5-1-.6-.8-1-.6-.8-.4-1.2-.1-2.2.4-1.2.5-.8 1.7-1.6 2.4-1 2.1-.2.9.2.9.4.9.8.8 1 1 2.2.1 2-.7 2.1-1.4 1.6-1.9.9Z" fill="#000" fill-opacity="0.08"/>
<path d="M164.4 99.9l-1.2.1-.9-.3-1-.9-1-1.4-.7-1.8-.6-2.2-.5-4.8.4-4.4 1.1-4.8 2.6-7.5.6-1 .9-.4.6.3.6 1 .9 2.9 1.9 8.5.5 5.4-.3 4-.8 3.2-1.5 2.8-.7.7-.9.6ZM210.3 94.7l-2.1-.2-2-1.1-1.3-1.6-.5-2 .3-1.7 1.1-1.9 1.8-1.2 2.4-.5 1.8.3 1.5 1 1.2 1.8.5 2-.2 1.8-1.2 1.8-1.5 1-1.8.5Z" fill="#000" fill-opacity="0.08"/>
<path d="M164.4 99.5l-1.2.2-.9-.4-.9-.8-.9-1.3-.7-1.6-.6-2.2-.5-4.4.2-3.9.9-4.3 2.5-7.6.7-1.3.8-.8.6.2.6.7.9 2.4 2 8.6.5 5.4-.2 3.8-.8 3.4-1.5 2.6-.6.7-.9.6ZM210.9 94.1l-1.8 0-1.8-.6-1.4-1.3-.8-1.4 0-1.8.6-1.6 1.3-1.3 1.8-.8 1.8-.1 1.5.5 1.3 1.1.9 1.8.1 1.8-.5 1.6-1.2 1.2-1.8.9Z" fill="#000" fill-opacity="0.08"/>
<path d="M164.4 99.2l-1.2.1-.9-.3-.9-.8-.8-1.1-.6-1.5-.6-2.2-.6-4.4.3-4.2.8-4 2.5-7.2.8-1.3.6-.5.6.2.6.8.9 2.5 1.8 7.3.6 5.5-.2 3.9-.8 3.2-1.4 2.7-1.5 1.3ZM210.9 93.5l-1.5.1-1.5-.5-1.2-.9-.9-1.4-.1-1.6.6-1.4 1-1.1 1.5-.7 1.5-.2 1.5.5 1.2 1.1.6 1.2.2 1.6-.5 1.4-.9 1.1-1.5.8Z" fill="#000" fill-opacity="0.08"/>
<path d="M164.1 98.9l-.9.1-.9-.4-.9-.8-.8-1.4-.8-1.8-.4-1.8-.4-4.2.2-3.8.9-4 2.5-6.8.6-1 .6-.5.6.2.5.7 1 2.8 1.7 6.8.5 5.4-.2 3.8-.8 3-1.3 2.4-.8.9-.9.4ZM210.6 92.9l-1.5 0-1.2-.5-.9-.9-.5-1.1 0-1.2.5-1.1.9-.9 1.2-.5 1.2-.1 1.2.4.9.8.6 1.2.1 1.2-.4 1.2-.9.9-1.2.6Z" fill="#000" fill-opacity="0.08"/>
<path d="M164.1 98.6l-.9.1-.9-.4-.9-.9-.8-1.2-1.1-3.4-.4-4.2.3-3.8.9-4 2.3-6.1.6-1 .6-.4.6.2.6.9 1.2 3.6 1.3 5.6.5 4.8-.2 3.6-.8 3-.7 1.4-.7 1.2-.6.5-.9.5ZM210.9 92l-.9.2-.9-.1-.9-.5-.6-.6-.3-.8 0-1 .5-.8.7-.6.9-.4 1.2.1.9.5.5.6.3 1 0 .8-.5 1-.9.6Z" fill="#000" fill-opacity="0.08"/>
<path d="M164.1 98.3l-.9.1-.9-.4-.9-.9-.6-1-1.1-3.3-.4-4.2.2-3.8.9-3.6 2.2-5.8.6-1 .6-.4.6.2.6 1 1.4 4.2 1.1 4.8.3 4.2-.2 3.6-.8 3-1.2 2.2-.6.6-.9.5ZM210.6 90.8l-.9.2-.9-.5-.2-.7.4-.8 1-.4.9.6.2 1-.5.6Z" fill="#000" fill-opacity="0.08"/>
<path d="M164.1 97.8l-.9 0-.9-.4-.7-.6-.7-1.2-1-3-.4-4 .3-3.8.9-3.6 1.9-4.7.6-.8.6-.4.6.2.6 1 1.3 3.7 1 4.2.3 4-.3 3.6-.7 2.6-1.1 2.2-1.4 1Z" fill="#000" fill-opacity="0.08"/>
<path d="M164.1 97.1l-.9.1-.6-.3-.9-.7-.6-1.1-1-2.9-.3-3.6.2-3.5.8-3.3 1.8-4 .6-.8.6-.3.6.3.6 1 1.1 2.8.9 3.6.3 3.7-.2 3.3-.6 2.6-1.2 2.2-1.2.9Z" fill="#000" fill-opacity="0.08"/>
<path d="M163.8 96.5l-.9-.1-.6-.4-1.2-1.6-.8-2.8-.2-3.2.2-3.3.9-3.3 1.4-2.9.6-.6.6-.3.6.4.6.8 1 2.6.7 3.3.3 3.3-.2 3-.6 2.4-1.2 2-1.2.7Z" fill="#000" fill-opacity="0.08"/>
<path d="M163.5 95.9l-.6-.2-.6-.4-1.1-1.9-.7-2.3-.2-3 .3-3 .8-2.8 1.2-2.3.6-.6.6-.2.6.4.5.6 1 2.4.6 3 .2 3-.2 2.8-.7 2.4-1.1 1.6-.6.4-.6.1Z" fill="#000" fill-opacity="0.08"/>
<path d="M164.1 95.1l-.6.1-.6-.1-.6-.5-.6-.8-.7-2.2-.4-2.6.2-3 .6-2.6.9-2 .6-.8.6-.3.9.3.9 1.5.8 2.7.3 3-.1 2.4-.4 2.2-.9 1.9-.9.8Z" fill="#000" fill-opacity="0.08"/>
<path d="M164.1 94.4l-.6.1-.6-.2-.9-1-.7-1.9-.4-2.4.2-2.8.5-2.4 1-1.9.9-.6.9.4.9 1.5.5 2.2.3 2.4 0 2-.4 2.2-.7 1.4-.9 1Z" fill="#000" fill-opacity="0.08"/>
<path d="M163.5 93.8l-.9-.5-.7-1.1-.5-1.8-.2-2 .2-2.2.6-2 .6-1.3.9-.7.9.5.6 1.1.6 2.2.2 2.4-.2 2-.5 1.8-.7 1.2-.9.4Z" fill="#000" fill-opacity="0.08"/>
<path d="M163.8 92.9l-.9-.2-.6-.8-.5-1.5-.2-1.8.1-1.8.4-1.7.6-1.3.8-.6.6.3.7.9.5 1.8.2 1.9-.1 1.7-.4 1.6-.6 1.1-.6.4Z" fill="#000" fill-opacity="0.08"/>
<path d="M163.8 92l-.6-.1-.6-.6-.4-1.1-.2-1.6.3-2.6.6-1.3.6-.4.6.3.4.8.4 1.2.2 1.5-.1 1.4-.3 1.3-.3.6-.6.6Z" fill="#000" fill-opacity="0.08"/>
</g>
<path d="M164.7 109.1l-1.8.1-1.8-.8-1.6-1.4-1.6-2.4-1.2-2.8-1.1-3.8-.7-3.6-.3-3.6 0-4.2.2-4 .5-3.2.8-4 2.4-8.6 1-3 1.3-2.8 1.5-1.7 1.5-.6 1.5.3 1.5 1.3 1.4 2.3 1.1 3 1.2 4.5 1.5 6.5 1.4 7.5.7 1.3 1.1.5 2.1-.1 4.5-.7 2.4-.7 1.9-.8.8-.8.6-.9 1.7-4.9 1.7-3 2.3-2.5 1.5-1 1.5-.7 3.6-1 6-.5 4.2-1.8 2.1-.4 1.5.2 1.2.5 1.2.9 1.1 1.2 1.4 2.3 2.6 6 2.6 5.2 1.1 3.2.4 2.8 0 2-.3 1.8-1.1 3.4-1.8 3-2.7 2.6-2.7 1.7-2.7 1.1-3 .7-3.3.2-2.4-.2-2.7-.6-6.9-2.8-2.4-.7-2.4-.1-8.1.2-7.8-.7-1.5.1-1.2.5-.9.9-2.4 3.9-1.5 1.9-1.2 1.1-1.5.7Z" fill="none" stroke="#000" stroke-width="0.7"/>
<path d="M164.4 106.7l-1.5 0-1.8-.8-1.3-1.3-1.3-2.2-1.2-2.6-.8-3-.6-3.6-.2-3.4.2-6.2 1.1-6.4 3.3-11.6 1.2-2.4 1.4-1.5 1.2-.4 1.2.5 1.2 1.2 1.1 2.2 1.5 5.2 1.7 9 1.4 8 .6 1.6.6.6.6.3 1.2-.1 3.6-.6 2.7-.3 3 0 4.8.3 2.1-.4.9-.6.9-1.2 1.9-4.6 1.4-2.4 1.5-1.8 1.8-1.4 2.1-1.2 4.2-1.7 1.2-.8 2.7-2.5 1.8-.9 1.2-.1 1.2.3 1.2.9.9 1.2 1.2 2.2 1.8 5.2 2.5 5.4.7 2 .3 2.4-.3 3-1.1 3-1.8 2.6-2.4 2-2.1 1.2-2.1.7-2.7.5-2.4 0-2.7-.4-2.7-1-2.4-1.2-4.2-2.6-2.1-.8-1.8 0-5.7 1.2-3.6.4-3.6-.2-5.7-1-1.2.4-.9 1-2.9 5-1.3 1.9-1.2 1.1-1.5.7Z" fill="none" stroke="#000" stroke-width="0.7"/>
<path d="M164.1 105.5l-1.5-.1-1.5-.9-1.4-1.5-1.2-2-.9-2.4-.8-3.4-.4-3-.2-3.8.2-4.2.6-4 3.1-12 .8-2.3 1.1-1.8.9-1 1.2-.4 1.2.5.9 1 .9 1.7.8 2.3 2.4 12 1.8 12.6-.1 1-.6 1.4-2.4 5.2-1.2 2-1.9 2.2-.9.6-.9.3ZM210 101l-2.7-.2-2.4-.5-2.4-1.1-2.1-1.3-2.7-2.3-1.7-2.2-.7-1.4 0-1.8.6-3.4 1-2.6 1-2.1 1.4-1.9 2.6-2 5.1-2.5 3.9-3.7 1.2-.5.9-.1.9.3.9.6.9 1.2.7 1.4 1.8 5.1 2.8 6.2.5 2.4 0 2.2-.4 2-.8 1.8-1.2 1.8-1.3 1.5-1.8 1.3-1.8.9-2.1.6-2.1.3ZM183.6 95.3l-2.4.1-2.4-.4-1.5-.9-.3-.9.5-.6 1-.6 2.7-.6 1.8 0 1.5.2 1 .4 1 .6.3.6-.3.9-1.1.7-1.8.5Z" fill="none" stroke="#000" stroke-width="0.7"/>
<path d="M164.4 104.3l-1.5 0-1.2-.5-1.4-1.4-1.2-1.8-1.1-2.6-.7-2.8-.5-3.2-.1-3.4.1-3.5.5-3.9 3.2-12.3.8-2.1.9-1.6 1-.9.9-.2.9.3 1 1.2.9 1.8.7 2 2.4 12.7.9 9.3-.1 1.8-.3 1.8-2 4.8-1 1.8-1 1.3-.9.8-1.2.6ZM210.6 99.8l-2.4 0-2.4-.5-2.4-1.1-2.2-1.4-1.7-1.8-1.4-2.2-.5-2 0-2.2.4-2 .6-1.8 1-1.8 1.2-1.6 2.3-1.7 4.5-2.3 3.6-3.5.9-.5.9 0 .9.3.6.5 1.1 1.9 1.6 4.6 2.6 5.9.5 2 0 2.2-.3 1.8-.6 1.5-1 1.5-1.2 1.3-1.5 1.1-1.5.8-1.8.7-1.8.3Z" fill="none" stroke="#000" stroke-width="0.7"/>
<path d="M163.5 103.4l-1.2-.3-1.3-.9-1.1-1.6-1.1-2-.8-2.4-.5-2.4-.3-3-.1-3 .3-3.6.5-3.4 3-11 .6-1.8.8-1.5.9-.9.9-.2.9.4.9 1.1.8 1.7.6 2 2.3 12.4.5 3.8.1 4.3-.2 2.3-.4 1.8-.8 2.4-1 2.2-1 1.5-1.1 1.1-1 .7-1.2.3ZM211.2 98.6l-2.4.1-2.1-.4-2.1-.8-1.8-1.1-1.7-1.8-1.2-1.8-.6-1.7-.1-2.1.2-1.6.6-1.8.7-1.4 1.2-1.6 2.1-1.5 4.5-2.3 3-2.7 1.2-.4.9.4.9 1.1 1.7 4.2 2.1 4.2.7 2.5.2 2.3-.2 1.6-.6 1.4-.7 1.2-1 1.2-1.3 1.2-1.2.7-1.5.6-1.5.3Z" fill="none" stroke="#000" stroke-width="0.7"/>
<path d="M163.8 102.5l-1.2-.2-1.2-.7-1.2-1.4-1-2-.7-2-.6-2.4-.3-2.7-.1-3 .2-3.3.5-3.4 2.9-10.8.7-1.7.8-1.5.6-.6.9-.3.9.5.6.7.7 1.5.6 2 2.4 12 .3 3.6.2 3.4-.5 4.2-.6 2-.8 2.2-.9 1.5-1.1 1.3-.9.7-1.2.4ZM211.2 97.7l-2.1.1-2.1-.4-1.8-.7-1.7-1.1-1.5-1.5-.8-1.5-.6-1.8-.1-1.8.3-1.8.6-1.6.8-1.2 1.2-1.3 1.8-1.2 3.6-1.7 2.7-1.6.9-.2.7.4.8.8 3.2 5.8 1 2.7.1 2.3-.2 1.6-.5 1.2-1.5 2-2.1 1.6-2.7.9Z" fill="none" stroke="#000" stroke-width="0.7"/>
<path d="M164.4 101.9l-1.2.1-1.2-.4-1.2-1.1-1-1.7-.9-2-.6-2.4-.5-2.8-.1-3 .2-3.5.4-3 2.9-10.9.7-1.8.7-1.3.6-.6.9-.3.9.5.6.8 1.1 3.1 2.3 11.4.4 3.2.1 3.4-.3 3.8-1.1 4-1.7 3-1.1 1-.9.5ZM211.5 97.1l-1.8.2-2.1-.3-1.8-.6-1.5-.9-1.5-1.4-.9-1.5-.5-1.5-.2-1.9.3-1.8.5-1.4.8-1.2 1.2-1.2 2.7-1.7 4.2-1.7 1.2-.2.9.4.6.5 2.7 4.2 1.1 2.7.3 2.4-.5 2.4-1.4 2-1.9 1.6-2.4.9Z" fill="none" stroke="#000" stroke-width="0.7"/>
<path d="M163.8 101.6l-1.2-.2-1.2-.8-1-1.2-.9-1.8-.7-2-.6-2.4-.3-5.1.2-3 .5-3.3 2.8-10.1 1.2-2.9.6-.7.9-.3.9.6.6.8 1.1 3.2 2.1 10.6.4 3.2.1 3.6-.1 2.4-.4 2.2-1.3 3.6-1.6 2.4-.9.7-1.2.5ZM209.7 96.8l-1.5-.2-1.6-.4-1.4-.8-1.3-1-1-1.2-.7-1.6-.3-1.4 0-1.6.4-1.4.5-1.2.9-1.2 1-1 1.4-.8 1.8-.8 2.7-.9 1.2-.1.9.3.9.8 2.2 3.1 1.1 2.7.3 1.5-.1 1.2-.3 1.2-.5 1.1-1.5 1.9-1.2.8-1.2.5-2.7.5Z" fill="none" stroke="#000" stroke-width="0.7"/>
<path d="M164.4 101l-1.2.1-1.2-.4-1-.9-1-1.6-.8-2-.6-2.1-.4-2.7-.1-2.8.1-3.2.5-3 2.7-9.8 1.2-3 .6-.8.9-.3.6.3.6.7.6 1.3.6 2 2 9.8.5 3.4.1 3-.3 4.2-.9 3.2-.6 1.6-1 1.4-1 1.1-.9.5ZM210.6 96.2l-1.5 0-1.5-.3-1.5-.6-1.2-.8-1-1.1-.8-1.2-.5-1.4-.1-1.6.3-1.4.4-1.2.8-1.2 1-1 1.4-.8 1.5-.7 1.8-.5 1.5-.2.9.2.9.4 1.8 2 1.4 2.6.4 1.6 0 1.2-.5 2-1.3 2-1.8 1.3-2.4.7Z" fill="none" stroke="#000" stroke-width="0.7"/>
<path d="M164.1 100.7l-1.2 0-.9-.5-1.1-1-.9-1.6-.8-2-.5-2.2-.4-2.3-.1-2.7.2-3.3.5-3 2.6-9 1.2-3 .8-.8.6-.2.6.3.6.8 1.1 3.2 2 9.8.5 6-.4 4.2-.9 3.4-.8 1.5-.9 1.2-.9.8-.9.4ZM211.2 95.6l-1.2.1-1.5-.1-1.5-.4-1.2-.7-.9-.8-.9-1.1-.6-1.2-.3-1.6.1-1.2.3-1.2.7-1.2.7-.8 1.2-1 1.2-.6 3-.8 1.8.3.9.5.9.8 1.5 2.2.7 2.4-.2 2.2-.5 1.2-.6.8-1.5 1.3-2.1.9Z" fill="none" stroke="#000" stroke-width="0.7"/>
<path d="M163.8 100.4l-1.2-.2-.9-.6-.9-1-.8-1.5-1.2-3.9-.3-2.4-.1-2.7.2-3 .5-3 2.5-8.5 1.3-3.1.6-.6.6-.1.6.3.6.9 1 3 1.9 9 .4 3.2.1 3-.3 4-1.1 3.6-.8 1.5-.9 1.1-.9.7-.9.3ZM211.5 95l-2.4.2-1.2-.3-1.2-.5-1-.6-.8-1-.6-.8-.4-1.2-.1-2.2.4-1.2.5-.8 1.7-1.6 2.4-1 2.1-.2.9.2.9.4.9.8.8 1 1 2.2.1 2-.7 2.1-1.4 1.6-1.9.9Z" fill="none" stroke="#000" stroke-width="0.7"/>
<path d="M164.4 99.9l-1.2.1-.9-.3-1-.9-1-1.4-.7-1.8-.6-2.2-.5-4.8.4-4.4 1.1-4.8 2.6-7.5.6-1 .9-.4.6.3.6 1 .9 2.9 1.9 8.5.5 5.4-.3 4-.8 3.2-1.5 2.8-.7.7-.9.6ZM210.3 94.7l-2.1-.2-2-1.1-1.3-1.6-.5-2 .3-1.7 1.1-1.9 1.8-1.2 2.4-.5 1.8.3 1.5 1 1.2 1.8.5 2-.2 1.8-1.2 1.8-1.5 1-1.8.5Z" fill="none" stroke="#000" stroke-width="0.7"/>
<path d="M164.4 99.5l-1.2.2-.9-.4-.9-.8-.9-1.3-.7-1.6-.6-2.2-.5-4.4.2-3.9.9-4.3 2.5-7.6.7-1.3.8-.8.6.2.6.7.9 2.4 2 8.6.5 5.4-.2 3.8-.8 3.4-1.5 2.6-.6.7-.9.6ZM210.9 94.1l-1.8 0-1.8-.6-1.4-1.3-.8-1.4 0-1.8.6-1.6 1.3-1.3 1.8-.8 1.8-.1 1.5.5 1.3 1.1.9 1.8.1 1.8-.5 1.6-1.2 1.2-1.8.9Z" fill="none" stroke="#000" stroke-width="0.7"/>
<path d="M164.4 99.2l-1.2.1-.9-.3-.9-.8-.8-1.1-.6-1.5-.6-2.2-.6-4.4.3-4.2.8-4 2.5-7.2.8-1.3.6-.5.6.2.6.8.9 2.5 1.8 7.3.6 5.5-.2 3.9-.8 3.2-1.4 2.7-1.5 1.3ZM210.9 93.5l-1.5.1-1.5-.5-1.2-.9-.9-1.4-.1-1.6.6-1.4 1-1.1 1.5-.7 1.5-.2 1.5.5 1.2 1.1.6 1.2.2 1.6-.5 1.4-.9 1.1-1.5.8Z" fill="none" stroke="#000" stroke-width="0.7"/>
<path d="M164.1 98.9l-.9.1-.9-.4-.9-.8-.8-1.4-.8-1.8-.4-1.8-.4-4.2.2-3.8.9-4 2.5-6.8.6-1 .6-.5.6.2.5.7 1 2.8 1.7 6.8.5 5.4-.2 3.8-.8 3-1.3 2.4-.8.9-.9.4ZM210.6 92.9l-1.5 0-1.2-.5-.9-.9-.5-1.1 0-1.2.5-1.1.9-.9 1.2-.5 1.2-.1 1.2.4.9.8.6 1.2.1 1.2-.4 1.2-.9.9-1.2.6Z" fill="none" stroke="#000" stroke-width="0.7"/>
<path d="M164.1 98.6l-.9.1-.9-.4-.9-.9-.8-1.2-1.1-3.4-.4-4.2.3-3.8.9-4 2.3-6.1.6-1 .6-.4.6.2.6.9 1.2 3.6 1.3 5.6.5 4.8-.2 3.6-.8 3-.7 1.4-.7 1.2-.6.5-.9.5ZM210.9 92l-.9.2-.9-.1-.9-.5-.6-.6-.3-.8 0-1 .5-.8.7-.6.9-.4 1.2.1.9.5.5.6.3 1 0 .8-.5 1-.9.6Z" fill="none" stroke="#000" stroke-width="0.7"/>
<path d="M164.1 98.3l-.9.1-.9-.4-.9-.9-.6-1-1.1-3.3-.4-4.2.2-3.8.9-3.6 2.2-5.8.6-1 .6-.4.6.2.6 1 1.4 4.2 1.1 4.8.3 4.2-.2 3.6-.8 3-1.2 2.2-.6.6-.9.5ZM210.6 90.8l-.9.2-.9-.5-.2-.7.4-.8 1-.4.9.6.2 1-.5.6Z" fill="none" stroke="#000" stroke-width="0.7"/>
<path d="M164.1 97.8l-.9 0-.9-.4-.7-.6-.7-1.2-1-3-.4-4 .3-3.8.9-3.6 1.9-4.7.6-.8.6-.4.6.2.6 1 1.3 3.7 1 4.2.3 4-.3 3.6-.7 2.6-1.1 2.2-1.4 1Z" fill="none" stroke="#000" stroke-width="0.7"/>
<path d="M164.1 97.1l-.9.1-.6-.3-.9-.7-.6-1.1-1-2.9-.3-3.6.2-3.5.8-3.3 1.8-4 .6-.8.6-.3.6.3.6 1 1.1 2.8.9 3.6.3 3.7-.2 3.3-.6 2.6-1.2 2.2-1.2.9Z" fill="none" stroke="#000" stroke-width="0.7"/>
<path d="M163.8 96.5l-.9-.1-.6-.4-1.2-1.6-.8-2.8-.2-3.2.2-3.3.9-3.3 1.4-2.9.6-.6.6-.3.6.4.6.8 1 2.6.7 3.3.3 3.3-.2 3-.6 2.4-1.2 2-1.2.7Z" fill="none" stroke="#000" stroke-width="0.7"/>
<path d="M163.5 95.9l-.6-.2-.6-.4-1.1-1.9-.7-2.3-.2-3 .3-3 .8-2.8 1.2-2.3.6-.6.6-.2.6.4.5.6 1 2.4.6 3 .2 3-.2 2.8-.7 2.4-1.1 1.6-.6.4-.6.1Z" fill="none" stroke="#000" stroke-width="0.7"/>
<path d="M164.1 95.1l-.6.1-.6-.1-.6-.5-.6-.8-.7-2.2-.4-2.6.2-3 .6-2.6.9-2 .6-.8.6-.3.9.3.9 1.5.8 2.7.3 3-.1 2.4-.4 2.2-.9 1.9-.9.8Z" fill="none" stroke="#000" stroke-width="0.7"/>
<path d="M164.1 94.4l-.6.1-.6-.2-.9-1-.7-1.9-.4-2.4.2-2.8.5-2.4 1-1.9.9-.6.9.4.9 1.5.5 2.2.3 2.4 0 2-.4 2.2-.7 1.4-.9 1Z" fill="none" stroke="#000" stroke-width="0.7"/>
<path d="M163.5 93.8l-.9-.5-.7-1.1-.5-1.8-.2-2 .2-2.2.6-2 .6-1.3.9-.7.9.5.6 1.1.6 2.2.2 2.4-.2 2-.5 1.8-.7 1.2-.9.4Z" fill="none" stroke="#000" stroke-width="0.7"/>
<path d="M163.8 92.9l-.9-.2-.6-.8-.5-1.5-.2-1.8.1-1.8.4-1.7.6-1.3.8-.6.6.3.7.9.5 1.8.2 1.9-.1 1.7-.4 1.6-.6 1.1-.6.4Z" fill="none" stroke="#000" stroke-width="0.7"/>
<path d="M163.8 92l-.6-.1-.6-.6-.4-1.1-.2-1.6.3-2.6.6-1.3.6-.4.6.3.4.8.4 1.2.2 1.5-.1 1.4-.3 1.3-.3.6-.6.6Z" fill="none" stroke="#000" stroke-width="0.7"/>
<rect x="173.05" y="43.85" width="54.25" height="76.6" fill="none" stroke="#000" stroke-width="1.2"/>
<path d="M149.3 122.15V42.95H228.9V122.15H149.3" fill="none" stroke="#000" stroke-width="1.35"/>
<line x1="145.9" y1="46.6" x2="149.3" y2="46.6" stroke="#000" stroke-width="0.9"/>
<line x1="147.3" y1="49.6" x2="149.3" y2="49.6" stroke="#000" stroke-width="0.9"/>
<line x1="147.3" y1="52.6" x2="149.3" y2="52.6" stroke="#000" stroke-width="0.9"/>
<line x1="147.3" y1="55.6" x2="149.3" y2="55.6" stroke="#000" stroke-width="0.9"/>
<line x1="147.3" y1="58.6" x2="149.3" y2="58.6" stroke="#000" stroke-width="0.9"/>
<line x1="145.9" y1="61.6" x2="149.3" y2="61.6" stroke="#000" stroke-width="0.9"/>
<line x1="147.3" y1="64.6" x2="149.3" y2="64.6" stroke="#000" stroke-width="0.9"/>
<line x1="147.3" y1="67.6" x2="149.3" y2="67.6" stroke="#000" stroke-width="0.9"/>
<line x1="147.3" y1="70.6" x2="149.3" y2="70.6" stroke="#000" stroke-width="0.9"/>
<line x1="147.3" y1="73.6" x2="149.3" y2="73.6" stroke="#000" stroke-width="0.9"/>
<line x1="145.9" y1="76.6" x2="149.3" y2="76.6" stroke="#000" stroke-width="0.9"/>
<line x1="147.3" y1="79.6" x2="149.3" y2="79.6" stroke="#000" stroke-width="0.9"/>
<line x1="147.3" y1="82.6" x2="149.3" y2="82.6" stroke="#000" stroke-width="0.9"/>
<line x1="147.3" y1="85.6" x2="149.3" y2="85.6" stroke="#000" stroke-width="0.9"/>
<line x1="147.3" y1="88.6" x2="149.3" y2="88.6" stroke="#000" stroke-width="0.9"/>
<line x1="145.9" y1="91.6" x2="149.3" y2="91.6" stroke="#000" stroke-width="0.9"/>
<line x1="147.3" y1="94.6" x2="149.3" y2="94.6" stroke="#000" stroke-width="0.9"/>
<line x1="147.3" y1="97.6" x2="149.3" y2="97.6" stroke="#000" stroke-width="0.9"/>
<line x1="147.3" y1="100.6" x2="149.3" y2="100.6" stroke="#000" stroke-width="0.9"/>
<line x1="147.3" y1="103.6" x2="149.3" y2="103.6" stroke="#000" stroke-width="0.9"/>
<line x1="145.9" y1="106.6" x2="149.3" y2="106.6" stroke="#000" stroke-width="0.9"/>
<line x1="147.3" y1="109.6" x2="149.3" y2="109.6" stroke="#000" stroke-width="0.9"/>
<line x1="147.3" y1="112.6" x2="149.3" y2="112.6" stroke="#000" stroke-width="0.9"/>
<line x1="147.3" y1="115.6" x2="149.3" y2="115.6" stroke="#000" stroke-width="0.9"/>
<line x1="147.3" y1="118.6" x2="149.3" y2="118.6" stroke="#000" stroke-width="0.9"/>
<line x1="145.9" y1="121.6" x2="149.3" y2="121.6" stroke="#000" stroke-width="0.9"/>
<path d="M151.8 122.15v2.2M153.2 122.15v2.2M154.6 122.15v2.2M156 122.15v2.2M157.4 122.15v2.2M158.8 122.15v2.2M160.2 122.15v3.2M161.6 122.15v2.2M163 122.15v2.2M164.4 122.15v2.2M165.8 122.15v2.2M167.2 122.15v2.2M168.6 122.15v2.2M173.3 122.15v2.2M177.3 122.15v2.2M180.3 122.15v2.2M182.3 122.15v2.2M183.8 122.15v2.2M184.8 122.15v2.2M185.8 122.15v2.2M186.6 122.15v2.2M187.3 122.15v3.2M193.3 122.15v2.2M197.3 122.15v2.2M200.3 122.15v2.2M202.3 122.15v2.2M203.8 122.15v2.2M204.8 122.15v2.2M205.8 122.15v2.2M206.6 122.15v2.2M207.3 122.15v3.2M213.3 122.15v2.2M217.3 122.15v2.2M220.3 122.15v2.2M222.3 122.15v2.2M223.8 122.15v2.2M224.8 122.15v2.2M225.8 122.15v2.2M226.6 122.15v2.2M227.3 122.15v3.2" stroke="#000" stroke-width="0.8"/>
<text x="203.18" y="51.8" font-size="8" text-anchor="middle">33.8</text>
<text x="200.88" y="116.95" font-size="8" text-anchor="middle" textLength="13.8" lengthAdjust="spacingAndGlyphs">LPS</text>
<text transform="translate(140.4,82.35) rotate(-90)" x="0" y="0" font-size="9.8" text-anchor="middle" textLength="18.9" lengthAdjust="spacingAndGlyphs" class="c">FSC-A</text>
<text x="156.2" y="137.5" font-size="9.2" textLength="21.1" lengthAdjust="spacingAndGlyphs" class="c">TNF-&#945;</text>
<text x="185.6" y="137.5" font-size="9.2" textLength="35.8" lengthAdjust="spacingAndGlyphs" class="c">Pacific Blue</text>
<path d="M49.6 165.8h0m4-.1h0m8.2-1.1h0m-16.2 2h0m2.5-.1h0m.1 1.1h0m1.6-1.6h0m-6.7 2.5h0m1.2.3h0m2.6 0h0m.3 1.1h0m7.6-1.8h0m2.1 1.8h0m.3-.9h0m5 .8h0m-21.8 1.3h0m5.7.3h0m.4-1.3h0m.3 1.3h0m.7-.9h0m.5 1.2h0m1.9-1.4h0m1.5 1.3h0m.2-.4h0m1.2-.6h0m1-.3h0m-12 3.6h0m.2-.2h0m3.2-.8h0m1.1.7h0m2.5.3h0m1.7-1.1h0m.2.7h0m1.5-1h0m.7.5h0m.3.7h0m.2-.7h0m.1-1h0m1 1.9h0m.2-.2h0m.2-.7h0m.3-.8h0m2.3.8h0m-14.2 2.3h0m2.6 0h0m1.3-.4h0m.9-.6h0m.4.1h0m.8 1.2h0m.1-.1h0m1.1-1.3h0m.1.2h0m.2-.3h0m.7 1.3h0m.7-.2h0m.4.5h0m.3-.4h0m.1.1h0m.1-.6h0m0-.6h0m.2.3h0m.2 1h0m.2-.2h0m1.2.1h0m.1-.7h0m2.2-.2h0m2 .6h0m2.9-1.1h0m4.5.9h0m-25.6 2.4h0m1.5.5h0m1 .1h0m.6 0h0m1.6-.5h0m1 .1h0m.8-.1h0m1.1-1h0m.6-.4h0m0 1.8h0m.6-.8h0m1.2-.8h0m.3.9h0m.1-.4h0m.1.2h0m.2-.9h0m.1 1.4h0m.1.3h0m.2.1h0m.1-1.3h0m.1.4h0m.1-.3h0m0 .8h0m.2.2h0m.1-.8h0m.4 1.1h0m.1-.8h0m.5.6h0m.2 0h0m.3-.3h0m.3-.2h0m0 .4h0m.1-.8h0m.2-.6h0m.5 1.4h0m.9-1.6h0m.3.3h0m0 .8h0m.5-.6h0m.6-.4h0m1.9 1.3h0m.2.2h0m4.2-1.1h0m-22.7 3.1h0m.2-1.1h0m.2.3h0m0 .8h0m.1-.7h0m2-.6h0m0 1.6h0m1.1-.3h0m2.2-1.1h0m.1.8h0m.1.3h0m.4-1h0m.2.9h0m.3.1h0m.6-.3h0m.4-1h0m0-.3h0m.4 1.8h0m.2-.1h0m.6-1h0m0 1.2h0m.1-1.1h0m.2 0h0m0-.1h0m0 .4h0m.2.2h0m0-1h0m.1 0h0m.1.1h0m.1-.2h0m.1.7h0m1.1-.6h0m.4-.1h0m.4.3h0m.3-.1h0m.1-.1h0m.1.1h0m.3-.3h0m1 .6h0m0-.6h0m.1.7h0m.6-.6h0m0 .8h0m.6.1h0m0-.5h0m.4.6h0m.6 0h0m.1.5h0m1.7 0h0m.9-.2h0m4.9-.7h0m-24.1 3h0m1.7-1.8h0m1.5 1.4h0m.9-.9h0m.1.3h0m1.1 0h0m.1.4h0m.1.3h0m.1-1h0m.4 1.4h0m1.7-1.1h0m.2.7h0m.3.1h0m0-.7h0m7.7.1h0m0-.6h0m.2.3h0m.1-.4h0m0 .8h0m.5.7h0m1.6-1.6h0m2.2 1.6h0m-20.9 1.3h0m.5-1h0m2.2.2h0m.5 1h0m1.3.5h0m.2-1.2h0m.6.2h0m.5.8h0m.2-.8h0m.7 0h0m.6.6h0m0 .3h0m.3-1.7h0m.6 1.5h0m8.9-.6h0m0-.7h0m.2.9h0m.2.6h0m1.2-.3h0m2.1-1.1h0m.3 1.6h0m-23 .3h0m.9.2h0m1.3.4h0m.2-.6h0m.8.5h0m.2-.1h0m.4-.2h0m.7.5h0m1.4-.4h0m.2.9h0m.4-.3h0m.5.1h0m.1.4h0m.6-.2h0m1-.6h0m.2.7h0m.3.4h0m.1-1.6h0m.6-.2h0m9.9 1.2h0m.2-.2h0m0-.1h0m.4.6h0m.4-1.2h0m.4.4h0m.9.4h0m.4.4h0m-23.3 1h0m3.8.9h0m1.4-.7h0m0 .7h0m.1.3h0m.8-1.7h0m.6.1h0m.5.4h0m0-.3h0m.4 1.3h0m.1 0h0m.5-.4h0m.5-1h0m.1.9h0m.1-.1h0m.1-.1h0m.1-.3h0m0 .6h0m12.3-.7h0m.2.1h0m0 .7h0m.3-1.2h0m.1 1h0m.2 0h0m.2.3h0m0-.3h0m3.9 0h0m-26.5 1.1h0m1.2.6h0m.2.3h0m.3-.8h0m.4 1.4h0m4.1-1h0m.3.1h0m.1 1h0m.4-.3h0m.2.4h0m.3-.8h0m0-.5h0m0 1.3h0m.1-.5h0m.5-1.2h0m.3.7h0m.3-.8h0m12.7 0h0m.3.7h0m.3.5h0m0 .3h0m.5-1.5h0m0 1.3h0m.1-.5h0m1.5.3h0m.3.7h0m1.5-.6h0m-25 2.1h0m.5-.5h0m.6-.6h0m1.1 1.2h0m.7-1.1h0m.1-.2h0m.9 1.5h0m.2.1h0m.3-1h0m.6.3h0m.6 0h0m0 .6h0m15.5-.5h0m.4-.3h0m.4-.9h0m0 1.3h0m.3-1h0m.9-.1h0m1 .7h0m2.3.4h0m.7-1.1h0m10.1.9h0m.1-1.1h0m-37.8 3.4h0m1.6-.6h0m.6-.6h0m.6 1.6h0m.1-.6h0m.4-.2h0m0-.7h0m1.7 1.1h0m.1-1.4h0m.1.5h0m.3.6h0m.2-.3h0m15.8-.8h0m.1.5h0m.1.3h0m0 .4h0m.1-1.2h0m.2.8h0m.1.9h0m.3-1.3h0m0-.2h0m.4.4h0m.1-.4h0m0 1.7h0m.1-1.8h0m.9.5h0m.6 1h0m.8-1.4h0m.3 1.1h0m2.7-1.1h0m18.3 1.4h0m-46.8 2.2h0m2.3-.5h0m.5-1h0m.1 1.1h0m.4-.9h0m.1 1h0m.3-1.5h0m0 1.2h0m.4-.5h0m.2 0h0m.3.2h0m0 .7h0m.1-1.1h0m17.9-.3h0m.1 1.5h0m1.9-1.1h0m1 1.2h0m.7-.9h0m6.9.9h0m1.1 0h0m-34.2 1.7h0m.7-.1h0m1.8-1.3h0m.1 1.5h0m.3.3h0m.3-1h0m.3.7h0m.5-1.2h0m18.9.9h0m0-1.2h0m.1 1.8h0m.1-1.2h0m.5 1.1h0m.1-.2h0m.3-.4h0m.3 0h0m.1.7h0m2.8-.4h0m.5-.7h0m27 .9h0m-54.9 2.1h0m1.6-.3h0m.2-1h0m1.2 1.2h0m.2.1h0m.2-.1h0m.2-.8h0m0-.8h0m.2.8h0m19.6.1h0m.1.1h0m.1-.3h0m.1-.3h0m.1 1.2h0m.1-1.6h0m.2 0h0m.1 1.6h0m0-.5h0m.2-.5h0m0 .9h0m0-.5h0m.1.4h0m0-.1h0m.1.1h0m.4.1h0m1.1-1h0m1.2-.3h0m2.6 1.3h0m8.8-1.1h0m.6.5h0m14.4-1h0m-53.5 2.9h0m.4-.4h0m.3.4h0m.3.2h0m.1.2h0m.5-.9h0m.1 1.2h0m.1.1h0m.6-.9h0m.7-.7h0m.2.9h0m.2-1h0m0 .4h0m19.9-.2h0m.3 1h0m.2.4h0m.3-1.4h0m.4.4h0m.1 1.3h0m.2-1.4h0m.4 1.2h0m.7-1.5h0m0 1.7h0m1.6-1.2h0m1.5-.5h0m15.7 1.2h0m5.4.1h0m-50.3.6h0m.1 0h0m2.2 1.1h0m0-.6h0m.6.6h0m.1-.9h0m21.1.1h0m.2 1.4h0m.2 0h0m.1-1h0m.2.8h0m.1-.2h0m0 .2h0m.1-.5h0m.6 0h0m0 .3h0m1.8.4h0m23.2.1h0m-50.6.6h0m.2.6h0m1.7-.4h0m0 1.2h0m.1 0h0m.3-.5h0m.1-.2h0m.3-.8h0m0 .9h0m.1.5h0m.1-1.6h0m21.5-.2h0m.1 0h0m.4.7h0m0 .3h0m.6.9h0m1.2-.3h0m0-1.3h0m.5-.1h0m.5 1.3h0m21.4-1.4h0m-49.2 3.1h0m.8-1h0m.5.8h0m.2-.3h0m.5.8h0m.6-.5h0m0 .7h0m.2.2h0m.1-1h0m.1-.7h0m.1-.1h0m21.1-.1h0m.8.6h0m0 1.1h0m.5 0h0m.3-1.3h0m.3 1.4h0m.2-1.2h0m-26 3.2h0m.7-.9h0m.2.8h0m.4-1.7h0m.4 1.9h0m.1-.1h0m.2-.5h0m.4-.1h0m.5 0h0m0-.5h0m.1.9h0m21.2 0h0m.2-.1h0m.3-.8h0m.5-.2h0m.3.2h0m.2 1.1h0m.3-1.4h0m.1 1.2h0m.4.3h0m0-.5h0m.8-.3h0m-27 2.2h0m.3-.8h0m.3 1.2h0m1.5-.3h0m.3-.5h0m.2-.1h0m.1-.8h0m.1 1.3h0m20.5.3h0m.1-1h0m.2-.2h0m0 1.3h0m0-1.2h0m.2-.4h0m.1-.1h0m.6.1h0m1.2 1.1h0m3.7-1h0m5.1-.1h0m2.8 1.3h0m-36.7 1.3h0m.3 1h0m.5-.6h0m.1.2h0m.1-.5h0m1.2.3h0m.1.5h0m0-1.4h0m.1.6h0m.2.9h0m20.1-.5h0m.1-.1h0m.2-1.1h0m.1.9h0m.2.1h0m.5-.4h0m.5 0h0m.1 0h0m.1.1h0m.1 1.2h0m1.1-1.8h0m2.8 1.1h0m-29.6 2.3h0m1.5.3h0m.3-.8h0m.2.7h0m.1.1h0m.1-.2h0m.3-.1h0m.1-.7h0m.2.3h0m.3.8h0m.1-1.4h0m.1.2h0m.3 1h0m0-.5h0m.2-.1h0m.1.2h0m.1.3h0m0-1h0m0 .9h0m.3.3h0m18.9.1h0m.4-1.9h0m0 1.2h0m.2-1.2h0m.3.1h0m.1.9h0m.7-.3h0m2.4-.7h0m.7.6h0m3 .6h0m9.9-.5h0m.1.7h0m-38.2 1.9h0m.2-1h0m.3 1.4h0m.1-.8h0m.1-.7h0m.7 1.7h0m.1-1.4h0m18.3.8h0m.9-1.1h0m.5 0h0m2.6.5h0m-25.5 2.1h0m2-.8h0m1.3 1.3h0m.2-1.1h0m.2 1.5h0m.2-.3h0m.1-.1h0m.1-.3h0m.3.9h0m.3 0h0m.1-.2h0m15.4 0h0m.2-.1h0m.1 0h0m.5-1.4h0m.1.5h0m.1.3h0m.1-.3h0m0 .9h0m0-1.1h0m.2-.2h0m.2.7h0m.7.9h0m.3-.4h0m.4-.8h0m.5.6h0m.6-1.1h0m.2.9h0m.6.5h0m.6-.4h0m.2-.6h0m-25.6 1.8h0m1.1.1h0m.6 1.1h0m2-1.3h0m.1.8h0m.4-.6h0m.3-.5h0m0 1.3h0m.7.2h0m.2.2h0m.1-.4h0m13.6.4h0m.2-1h0m.8 0h0m.1-.5h0m.2 1.1h0m2.8-.7h0m.5.9h0m.3-.7h0m.1-.2h0m.7 1.3h0m0-1.9h0m3.6.7h0m-28 2.8h0m.9-1.3h0m.3 1.3h0m1.3 0h0m.1-.1h0m.1-.5h0m.1-.7h0m.5 1.3h0m.9-.9h0m.3-.5h0m.1.5h0m.3 1.1h0m0-1.2h0m.1-.3h0m0 .5h0m.2.1h0m.5.9h0m.2-.5h0m.2.5h0m.1-1.2h0m10.9.7h0m.2.4h0m.7-1.1h0m0 .4h0m.8.5h0m0 .4h0m0-.1h0m0-1.1h0m.2.4h0m.2-.2h0m.1-.8h0m.1 1.7h0m2.6-.1h0m.4-1.6h0m.2 1.5h0m1.3-.7h0m31.9.2h0m-52.3 2.1h0m2.2-.8h0m.5.8h0m.4-.8h0m.1.3h0m.4.5h0m.2 0h0m.3-.6h0m.2.5h0m.3.1h0m.2-.3h0m1 .2h0m.2 0h0m.3.5h0m.3.4h0m0-.6h0m.1.2h0m.7.2h0m.4-.1h0m.2.2h0m1.6-.2h0m.3-.2h0m.9.1h0m.1-.2h0m.4.3h0m.6-1h0m.2.6h0m.6 0h0m.1-.9h0m.1.8h0m.1-1h0m.2 1.1h0m0-.6h0m0 .4h0m0 .9h0m.5-1h0m.6 0h0m.7-.6h0m.1.9h0m4.2-.6h0m.4 0h0m1-.2h0m-24.8 1.9h0m3.2.3h0m2.6.4h0m.1-.7h0m0-.2h0m1.1 1.5h0m0-.7h0m.5-.4h0m0 .9h0m1.5.5h0m2.6-.9h0m.3.2h0m.7-.3h0m.3.6h0m.6.1h0m.6-.9h0m.1.3h0m.1-.8h0m.1 0h0m.1.1h0m0-.1h0m2.6.6h0m.9-.1h0m.9 1.1h0m.6-.7h0m1.2-.9h0m13 1.1h0m-31.3.9h0m1.1.8h0m4-.4h0m1.2-.3h0m1.2.6h0m.2.9h0m1.9-.6h0m.3-.6h0m.1.6h0m.1-.2h0m.5.8h0m1.7-1h0m0 .2h0m1.1.1h0m.1.7h0m.3-.6h0m.5-.7h0m3.6.7h0m7.3-1.1h0m-22.1 3.3h0m2-.9h0m2.1.1h0m.7-.2h0m.8.1h0m.8-.4h0m1.7 1.4h0m1.1-1.2h0m5.1 1.1h0m.3-1.4h0m-6.9 2.7h0m2.7-.7h0m1.2 1.6h0m7-1h0m-19.1 2h0m2.4.1h0m2.2-.1h0m-5.4 1.8h0m6.6.8h0m3.9-.4h0" stroke="#000" stroke-opacity="0.5" stroke-width="0.6" stroke-linecap="square" fill="none"/>
<clipPath id="cf3"><rect x="36.3" y="159.6" width="23.9" height="79.2"/></clipPath><g clip-path="url(#cf3)">
<path d="M52.3 216.5l-1.2.1-1.2-.3-1.2-.8-1-1.2-.9-1.5-.6-2.1-.4-2.1-.1-2.1.5-3.6.6-1.8.7-1.5 1-1.5 1.4-1.5 1.8-1.5.9-.4.6.1.6.7 1.7 4.1 1 3.9.3 3.6-.4 3.3-.9 2.7-1.4 2.2-.9.7-.9.5Z" fill="#000" fill-opacity="0.08"/>
<path d="M52 216.1l-1.2.1-1.2-.5-1.1-.8-.9-1.2-.7-1.5-.6-1.8-.3-1.8 0-2.1.4-3.6.7-1.8.7-1.4 1.2-1.6 1.2-1.2 1.5-1.1.9-.2.6.3.6.7 1.6 3.6.9 3.6.3 3.6-.4 3-1 2.7-1.4 2-.9.7-.9.3Z" fill="#000" fill-opacity="0.08"/>
<path d="M51.4 215.8l-1.2-.2-.9-.5-.9-.8-.8-1.2-.7-1.5-.4-1.8-.3-3.6.5-3.3 1.3-3 1-1.4 1.2-1.1 1.2-.8.9-.3.9.4.6.7 1.3 2.8 1 3.6.3 3.6-.5 3.3-1.2 2.7-1.5 1.8-.9.4-.9.2Z" fill="#000" fill-opacity="0.08"/>
<path d="M52.3 215.2l-1.2.2-.9-.2-1.2-.7-.9-1.1-.8-1.5-.5-1.5-.4-3.6.5-3.6 1.2-3 .9-1.2 1.2-1.1 1.2-.7.9-.2.6.2.6.5 1.5 2.8.8 3 .3 3.3-.3 3-.7 2.4-1.3 2-1.5 1Z" fill="#000" fill-opacity="0.08"/>
<path d="M52 214.9l-1.2.1-.9-.3-.9-.7-.7-.9-1.2-2.7-.4-1.8-.1-1.8.4-3.3 1.1-2.7.9-1.3.9-.9 1.2-.8.9-.2.9.3.6.5 1.2 2.1.9 3 .3 3.3-.3 3-.8 2.4-1.3 1.8-1.5.9Z" fill="#000" fill-opacity="0.08"/>
<path d="M51.4 214.6l-.9-.1-.9-.5-.9-.8-.6-1-1-2.7-.2-3 .4-3 1.1-2.6.9-1.2.9-.8.9-.5.9-.2.9.4.6.6 1.2 2.2.8 3 .2 3-.4 2.7-1 2.4-1.4 1.6-1.5.5Z" fill="#000" fill-opacity="0.08"/>
<path d="M52 214.1l-.9.1-.9-.2-.8-.6-.7-.7-.6-1.1-.6-1.5-.4-3 .3-3 1-2.6 1.5-1.9.9-.6.9-.2 1.2.4 1.2 1.6 1 2.7.4 3-.3 2.7-.7 2.4-1 1.5-1.5 1Z" fill="#000" fill-opacity="0.08"/>
<path d="M51.7 213.8l-.9-.1-.6-.2-.9-.6-.6-.8-1-2.3-.4-3 .4-2.7.9-2.4.7-1 .9-.8 1.5-.6 1.2.5 1.2 1.7.8 2.6.3 2.7-.3 2.7-.8 2.1-1.1 1.5-1.3.7Z" fill="#000" fill-opacity="0.08"/>
<path d="M52.3 213.1l-.6.3-.9 0-.9-.5-.6-.5-1.2-2-.5-2.7.1-2.7.7-2.4.6-1 .9-1 1.5-.8 1.2.3 1.1 1.3.9 2.1.4 2.4-.1 2.4-.5 2.1-.9 1.7-1.2 1Z" fill="#000" fill-opacity="0.08"/>
<path d="M52 212.8l-.9.1-.6-.1-1.2-.9-1.1-2.1-.4-2.4.2-2.4.7-2.2 1.2-1.7.9-.6.6-.2 1.2.4.9 1 .9 2.1.3 2.4-.1 2.1-.5 2.1-.9 1.5-1.2.9Z" fill="#000" fill-opacity="0.08"/>
<path d="M52.3 212.2l-.6.2-.9 0-1.2-.7-.9-1.6-.6-2.4.1-2.4.6-2.1 1.1-1.6.6-.4.9-.3.6 0 .6.4.8 1 .7 1.6.3 2 0 2.1-.4 1.8-.8 1.5-.9.9Z" fill="#000" fill-opacity="0.08"/>
<path d="M51.7 212l-1.2-.2-1.2-1.1-.6-1.5-.3-2.1.2-2.1.6-1.8 1-1.3 1.2-.5.9.2.9 1 .7 1.8.3 2.1-.1 1.8-.5 1.8-.8 1.2-1.1.7Z" fill="#000" fill-opacity="0.08"/>
<path d="M52 211.3l-.6.2-.6-.1-.9-.6-.9-1.6-.3-1.8 0-1.8.6-1.8.9-1.3 1.2-.5.9.3.8.9.6 1.5.2 1.5-.1 1.8-.3 1.4-.6 1.1-.9.8Z" fill="#000" fill-opacity="0.08"/>
<path d="M52 210.8l-.9.2-1-.6-.8-1.3-.3-1.7.1-1.8.5-1.6.9-1.1.9-.4.9.4.6.8.4 1 .3 1.5 0 1.5-.4 1.5-.6 1.1-.6.5Z" fill="#000" fill-opacity="0.08"/>
<path d="M51.4 210.4l-.9-.3-.6-.7-.5-1.1-.1-1.5.2-1.5.4-1 .6-.8.9-.3.6.2.7.7.4 1.2.2 1.5-.1 1.2-.4 1.2-.7.9-.7.3Z" fill="#000" fill-opacity="0.08"/>
<path d="M51.7 209.7l-.6 0-.8-.5-.4-.9-.2-1.2 0-1.2.5-1.2.6-.7.6-.2.6.3.5.6.4 1.8-.3 2.1-.4.6-.5.5Z" fill="#000" fill-opacity="0.08"/>
</g>
<path d="M52 225.4l-1.2.1-1.2-.2-2.1-1-2.1-1.9-1.6-2.4-1.5-3.3-1-3.3-.5-3.9-.1-3.9.2-3 .5-3.3.8-3 1.2-3 3.8-6.4 2.9-5.9 1.6-1.7 1.5-.5 1.5.4 1.2 1.2 1 1.8.9 2.4 1.7 8.9 1.7 7.3.4 3.6.1 3.3-.2 3.3-.7 3.3-.8 2.7-1.2 2.7-1.6 2.4-1.6 1.6-1.8 1.2-1.8.5Z" fill="none" stroke="#000" stroke-width="0.7"/>
<path d="M52.6 222.8l-2.1.1-1.8-.6-1.8-1.3-1.8-2.2-1.3-2.7-1-3-.6-3.3-.1-3.6.2-3 .4-2.7.7-2.4 1-2.4 3.7-6 2.9-6.3 1.3-1.4 1.2-.3.9.3.9.9.8 1.4.7 2.1 1.5 8.2 1.6 7.1.4 3 .1 2.7-.2 2.7-.5 2.7-.7 2.4-1 2.4-1.1 1.8-1.3 1.6-1.5 1.1-1.5.7Z" fill="none" stroke="#000" stroke-width="0.7"/>
<path d="M52.3 221.2l-1.8.1-1.8-.7-1.8-1.4-1.4-1.9-1.1-2.4-.9-3-.4-3-.1-3 .6-4.5.5-2.1.9-2.1 1.1-2.1 2.6-3.9 2.7-5.9.9-1 .6-.4.6-.1.9.5.6.6.6 1.2.6 1.8 1.2 6.9 1.7 7.5.3 2.7 0 2.7-.2 2.4-.4 2.4-.6 2.1-.9 2.1-1.1 1.7-1.2 1.3-1.2.9-1.5.6Z" fill="none" stroke="#000" stroke-width="0.7"/>
<path d="M52.6 220.1l-1.8.2-1.5-.4-1.6-1.1-1.5-1.8-1.1-2.1-.9-2.7-.5-3-.1-3 .6-4.5 1.3-3.9 1-1.8 2.8-4.1 2.4-5.2.9-1 .9-.3.6.3.6.6 1 2.5 1.1 6.3 1.7 7.2.3 2.7.1 2.4-.6 4.5-.6 2.1-.8 1.8-.8 1.5-1.1 1.3-1.2.9-1.2.6Z" fill="none" stroke="#000" stroke-width="0.7"/>
<path d="M51.4 219.4l-1.5-.2-1.5-.8-1.3-1.4-1.2-1.8-.9-2.4-.6-2.4-.3-2.7.1-2.4.5-3.6 1.3-3.6 1.1-1.8 2.6-3.6 2.3-4.7.6-.7.9-.3.6.4.4.5.8 2.4 1 5.1 1.8 7.5.3 2.7-.1 2.7-.7 4.2-.6 1.8-.9 1.8-1.1 1.4-1.2 1.1-1.2.6-1.2.2Z" fill="none" stroke="#000" stroke-width="0.7"/>
<path d="M52.3 218.5l-1.5.1-1.5-.5-1.5-1.1-1.1-1.5-.9-1.8-.7-2.4-.4-2.4-.1-2.7.5-3.9 1.2-3.5 1.1-1.9 2.8-3.6 2.1-3.9.9-.7.6.2.3.4.7 1.9 2.7 11.1.4 2.7 0 2.4-.4 3.9-1.2 3.3-.9 1.5-1 1.2-.9.7-1.2.5Z" fill="none" stroke="#000" stroke-width="0.7"/>
<path d="M51.4 218.2l-1.5-.2-1.2-.7-1.2-1.2-1-1.5-.8-2.1-.6-2.1-.3-2.4 0-2.4.6-3.6 1.3-3.3 1.1-1.8 2.7-3.3 1.8-3 .9-.7.6.3.6 1.2 2.6 9.7.6 3.6.1 3.3-.7 3.9-.6 1.8-.8 1.5-.9 1.3-.9.8-1.2.7-1.2.2Z" fill="none" stroke="#000" stroke-width="0.7"/>
<path d="M52.3 217.7l-1.5.1-1.2-.4-1.4-1-1.2-1.5-.9-1.8-.6-2.1-.4-2.4-.1-2.4.6-3.9 1.3-3.3 1.1-1.8 2.5-3 1.8-2.5.9-.5.6.5.5 1 2.4 8.1.6 3.3.2 3.3-.5 3.6-1.1 3.1-1.6 2.3-1.1.9-.9.4Z" fill="none" stroke="#000" stroke-width="0.7"/>
<path d="M52 217.3l-1.5 0-1.2-.5-1.2-1-.9-1.2-.9-1.8-.6-2.1-.3-2.1-.1-2.4.5-3.9 1.4-3.3 1.8-2.5 3-3.3.9-.7.6.2.6 1.1 2.1 6.4.8 3.6.2 3.6-.4 3.6-1.1 3-1.6 2.1-.9.7-1.2.5Z" fill="none" stroke="#000" stroke-width="0.7"/>
<path d="M51.7 217l-1.2-.1-1.2-.5-1.2-1-1-1.4-.8-1.8-.5-1.8-.3-2.1 0-2.4.6-3.6.6-1.8.8-1.5 1.2-1.6 2.4-2.5 1.2-1.1.6-.1.6.3.6 1 2 5.5.8 3.6.1 3.6-.5 3.6-1.2 2.8-1.6 2-1.1.7-.9.2Z" fill="none" stroke="#000" stroke-width="0.7"/>
<path d="M52.3 216.5l-1.2.1-1.2-.3-1.2-.8-1-1.2-.9-1.5-.6-2.1-.4-2.1-.1-2.1.5-3.6.6-1.8.7-1.5 1-1.5 1.4-1.5 1.8-1.5.9-.4.6.1.6.7 1.7 4.1 1 3.9.3 3.6-.4 3.3-.9 2.7-1.4 2.2-.9.7-.9.5Z" fill="none" stroke="#000" stroke-width="0.7"/>
<path d="M52 216.1l-1.2.1-1.2-.5-1.1-.8-.9-1.2-.7-1.5-.6-1.8-.3-1.8 0-2.1.4-3.6.7-1.8.7-1.4 1.2-1.6 1.2-1.2 1.5-1.1.9-.2.6.3.6.7 1.6 3.6.9 3.6.3 3.6-.4 3-1 2.7-1.4 2-.9.7-.9.3Z" fill="none" stroke="#000" stroke-width="0.7"/>
<path d="M51.4 215.8l-1.2-.2-.9-.5-.9-.8-.8-1.2-.7-1.5-.4-1.8-.3-3.6.5-3.3 1.3-3 1-1.4 1.2-1.1 1.2-.8.9-.3.9.4.6.7 1.3 2.8 1 3.6.3 3.6-.5 3.3-1.2 2.7-1.5 1.8-.9.4-.9.2Z" fill="none" stroke="#000" stroke-width="0.7"/>
<path d="M52.3 215.2l-1.2.2-.9-.2-1.2-.7-.9-1.1-.8-1.5-.5-1.5-.4-3.6.5-3.6 1.2-3 .9-1.2 1.2-1.1 1.2-.7.9-.2.6.2.6.5 1.5 2.8.8 3 .3 3.3-.3 3-.7 2.4-1.3 2-1.5 1Z" fill="none" stroke="#000" stroke-width="0.7"/>
<path d="M52 214.9l-1.2.1-.9-.3-.9-.7-.7-.9-1.2-2.7-.4-1.8-.1-1.8.4-3.3 1.1-2.7.9-1.3.9-.9 1.2-.8.9-.2.9.3.6.5 1.2 2.1.9 3 .3 3.3-.3 3-.8 2.4-1.3 1.8-1.5.9Z" fill="none" stroke="#000" stroke-width="0.7"/>
<path d="M51.4 214.6l-.9-.1-.9-.5-.9-.8-.6-1-1-2.7-.2-3 .4-3 1.1-2.6.9-1.2.9-.8.9-.5.9-.2.9.4.6.6 1.2 2.2.8 3 .2 3-.4 2.7-1 2.4-1.4 1.6-1.5.5Z" fill="none" stroke="#000" stroke-width="0.7"/>
<path d="M52 214.1l-.9.1-.9-.2-.8-.6-.7-.7-.6-1.1-.6-1.5-.4-3 .3-3 1-2.6 1.5-1.9.9-.6.9-.2 1.2.4 1.2 1.6 1 2.7.4 3-.3 2.7-.7 2.4-1 1.5-1.5 1Z" fill="none" stroke="#000" stroke-width="0.7"/>
<path d="M51.7 213.8l-.9-.1-.6-.2-.9-.6-.6-.8-1-2.3-.4-3 .4-2.7.9-2.4.7-1 .9-.8 1.5-.6 1.2.5 1.2 1.7.8 2.6.3 2.7-.3 2.7-.8 2.1-1.1 1.5-1.3.7Z" fill="none" stroke="#000" stroke-width="0.7"/>
<path d="M52.3 213.1l-.6.3-.9 0-.9-.5-.6-.5-1.2-2-.5-2.7.1-2.7.7-2.4.6-1 .9-1 1.5-.8 1.2.3 1.1 1.3.9 2.1.4 2.4-.1 2.4-.5 2.1-.9 1.7-1.2 1Z" fill="none" stroke="#000" stroke-width="0.7"/>
<path d="M52 212.8l-.9.1-.6-.1-1.2-.9-1.1-2.1-.4-2.4.2-2.4.7-2.2 1.2-1.7.9-.6.6-.2 1.2.4.9 1 .9 2.1.3 2.4-.1 2.1-.5 2.1-.9 1.5-1.2.9Z" fill="none" stroke="#000" stroke-width="0.7"/>
<path d="M52.3 212.2l-.6.2-.9 0-1.2-.7-.9-1.6-.6-2.4.1-2.4.6-2.1 1.1-1.6.6-.4.9-.3.6 0 .6.4.8 1 .7 1.6.3 2 0 2.1-.4 1.8-.8 1.5-.9.9Z" fill="none" stroke="#000" stroke-width="0.7"/>
<path d="M51.7 212l-1.2-.2-1.2-1.1-.6-1.5-.3-2.1.2-2.1.6-1.8 1-1.3 1.2-.5.9.2.9 1 .7 1.8.3 2.1-.1 1.8-.5 1.8-.8 1.2-1.1.7Z" fill="none" stroke="#000" stroke-width="0.7"/>
<path d="M52 211.3l-.6.2-.6-.1-.9-.6-.9-1.6-.3-1.8 0-1.8.6-1.8.9-1.3 1.2-.5.9.3.8.9.6 1.5.2 1.5-.1 1.8-.3 1.4-.6 1.1-.9.8Z" fill="none" stroke="#000" stroke-width="0.7"/>
<path d="M52 210.8l-.9.2-1-.6-.8-1.3-.3-1.7.1-1.8.5-1.6.9-1.1.9-.4.9.4.6.8.4 1 .3 1.5 0 1.5-.4 1.5-.6 1.1-.6.5Z" fill="none" stroke="#000" stroke-width="0.7"/>
<path d="M51.4 210.4l-.9-.3-.6-.7-.5-1.1-.1-1.5.2-1.5.4-1 .6-.8.9-.3.6.2.7.7.4 1.2.2 1.5-.1 1.2-.4 1.2-.7.9-.7.3Z" fill="none" stroke="#000" stroke-width="0.7"/>
<path d="M51.7 209.7l-.6 0-.8-.5-.4-.9-.2-1.2 0-1.2.5-1.2.6-.7.6-.2.6.3.5.6.4 1.8-.3 2.1-.4.6-.5.5Z" fill="none" stroke="#000" stroke-width="0.7"/>
<rect x="60.2" y="160.5" width="54.1" height="76.6" fill="none" stroke="#000" stroke-width="1.2"/>
<path d="M36.3 238.8V159.6H115.9V238.8H36.3" fill="none" stroke="#000" stroke-width="1.35"/>
<line x1="32.9" y1="163.25" x2="36.3" y2="163.25" stroke="#000" stroke-width="0.9"/>
<line x1="34.3" y1="166.25" x2="36.3" y2="166.25" stroke="#000" stroke-width="0.9"/>
<line x1="34.3" y1="169.25" x2="36.3" y2="169.25" stroke="#000" stroke-width="0.9"/>
<line x1="34.3" y1="172.25" x2="36.3" y2="172.25" stroke="#000" stroke-width="0.9"/>
<line x1="34.3" y1="175.25" x2="36.3" y2="175.25" stroke="#000" stroke-width="0.9"/>
<line x1="32.9" y1="178.25" x2="36.3" y2="178.25" stroke="#000" stroke-width="0.9"/>
<line x1="34.3" y1="181.25" x2="36.3" y2="181.25" stroke="#000" stroke-width="0.9"/>
<line x1="34.3" y1="184.25" x2="36.3" y2="184.25" stroke="#000" stroke-width="0.9"/>
<line x1="34.3" y1="187.25" x2="36.3" y2="187.25" stroke="#000" stroke-width="0.9"/>
<line x1="34.3" y1="190.25" x2="36.3" y2="190.25" stroke="#000" stroke-width="0.9"/>
<line x1="32.9" y1="193.25" x2="36.3" y2="193.25" stroke="#000" stroke-width="0.9"/>
<line x1="34.3" y1="196.25" x2="36.3" y2="196.25" stroke="#000" stroke-width="0.9"/>
<line x1="34.3" y1="199.25" x2="36.3" y2="199.25" stroke="#000" stroke-width="0.9"/>
<line x1="34.3" y1="202.25" x2="36.3" y2="202.25" stroke="#000" stroke-width="0.9"/>
<line x1="34.3" y1="205.25" x2="36.3" y2="205.25" stroke="#000" stroke-width="0.9"/>
<line x1="32.9" y1="208.25" x2="36.3" y2="208.25" stroke="#000" stroke-width="0.9"/>
<line x1="34.3" y1="211.25" x2="36.3" y2="211.25" stroke="#000" stroke-width="0.9"/>
<line x1="34.3" y1="214.25" x2="36.3" y2="214.25" stroke="#000" stroke-width="0.9"/>
<line x1="34.3" y1="217.25" x2="36.3" y2="217.25" stroke="#000" stroke-width="0.9"/>
<line x1="34.3" y1="220.25" x2="36.3" y2="220.25" stroke="#000" stroke-width="0.9"/>
<line x1="32.9" y1="223.25" x2="36.3" y2="223.25" stroke="#000" stroke-width="0.9"/>
<line x1="34.3" y1="226.25" x2="36.3" y2="226.25" stroke="#000" stroke-width="0.9"/>
<line x1="34.3" y1="229.25" x2="36.3" y2="229.25" stroke="#000" stroke-width="0.9"/>
<line x1="34.3" y1="232.25" x2="36.3" y2="232.25" stroke="#000" stroke-width="0.9"/>
<line x1="34.3" y1="235.25" x2="36.3" y2="235.25" stroke="#000" stroke-width="0.9"/>
<line x1="32.9" y1="238.25" x2="36.3" y2="238.25" stroke="#000" stroke-width="0.9"/>
<path d="M38.8 238.8v2.2M40.2 238.8v2.2M41.6 238.8v2.2M43 238.8v2.2M44.4 238.8v2.2M45.8 238.8v2.2M47.2 238.8v3.2M48.6 238.8v2.2M50 238.8v2.2M51.4 238.8v2.2M52.8 238.8v2.2M54.2 238.8v2.2M55.6 238.8v2.2M60.3 238.8v2.2M64.3 238.8v2.2M67.3 238.8v2.2M69.3 238.8v2.2M70.8 238.8v2.2M71.8 238.8v2.2M72.8 238.8v2.2M73.6 238.8v2.2M74.3 238.8v3.2M80.3 238.8v2.2M84.3 238.8v2.2M87.3 238.8v2.2M89.3 238.8v2.2M90.8 238.8v2.2M91.8 238.8v2.2M92.8 238.8v2.2M93.6 238.8v2.2M94.3 238.8v3.2M100.3 238.8v2.2M104.3 238.8v2.2M107.3 238.8v2.2M109.3 238.8v2.2M110.8 238.8v2.2M111.8 238.8v2.2M112.8 238.8v2.2M113.6 238.8v2.2M114.3 238.8v3.2" stroke="#000" stroke-width="0.8"/>
<text x="90.25" y="168.45" font-size="8" text-anchor="middle">0.94</text>
<text x="87.95" y="233.6" font-size="8" text-anchor="middle" textLength="24.6" lengthAdjust="spacingAndGlyphs">Vehicle</text>
<text transform="translate(27.4,199) rotate(-90)" x="0" y="0" font-size="9.8" text-anchor="middle" textLength="18.9" lengthAdjust="spacingAndGlyphs" class="c">FSC-A</text>
<text x="43.2" y="254.15" font-size="9.2" textLength="21.1" lengthAdjust="spacingAndGlyphs" class="c">TNF-&#945;</text>
<text x="72.6" y="254.15" font-size="9.2" textLength="35.8" lengthAdjust="spacingAndGlyphs" class="c">Pacific Blue</text>
<path d="M171.1 161.3h0m7.5.5h0m3-.4h0m24.8.1h0m-24.6 1.1h0m5-.5h0m19.1.9h0m-44.2 2.1h0m13.5-1h0m14.1 1.6h0m.3-.2h0m4.3-1.3h0m25.8 1.6h0m.4-1.5h0m.6 1.5h0m-67.3 1.9h0m9.7-1.1h0m.3-.2h0m.6 1h0m13.5-.3h0m7.4.2h0m2.1 0h0m8.6-.9h0m12.8.3h0m.3.3h0m6 .4h0m9.5.1h0m1.9 0h0m-67.2.9h0m4.2 0h0m1.1.9h0m.3-.5h0m.8-.6h0m2.3 1.1h0m2.2-.1h0m4.7.5h0m11.1-.7h0m18.9.3h0m1.5-.7h0m2.1-.5h0m2.4 0h0m4.4.6h0m2.7.8h0m2.3 0h0m-58.9 1.7h0m2.8-.5h0m2.4 1.1h0m1.7-.8h0m16.1-1h0m1.5.1h0m12.8 0h0m6.8 1.1h0m-48.9 1.5h0m4.6-.6h0m.2.9h0m.8-.2h0m.2 1h0m1.9-1.5h0m1.4.9h0m1.4.2h0m.2.5h0m.1-.8h0m2.9 0h0m1.3-.9h0m8 .7h0m7.4 0h0m4.1.3h0m1.2-.6h0m.3 1.2h0m4.1-.5h0m.8.1h0m.4-.9h0m1.8.9h0m1.9-1.2h0m2.3.1h0m1.6-.1h0m14.4.7h0m-60.3 2h0m.3 0h0m1.6-.6h0m6 .2h0m4.1-.3h0m3.7 1.2h0m1.2-.3h0m5.2-.3h0m8.6-.4h0m9.2-.2h0m1.8-.1h0m2.1 1.4h0m-45 .6h0m0 1.8h0m.5-1.4h0m.3-.3h0m.2 1.4h0m0-.6h0m.8-.4h0m8.6-.3h0m.4.3h0m2.5-.4h0m.6-.1h0m.2.3h0m7.4 1.4h0m2.3-.6h0m1.3.4h0m3.8-1.5h0m1 .7h0m3.3.2h0m2.2.3h0m2.4-.7h0m3.9.5h0m3.2-.5h0m1.3.2h0m1.1 1h0m.5-.1h0m3.9-.2h0m.9-.4h0m2.6.2h0m3.2.6h0m.6-.9h0m2.8-.5h0m.1 0h0m1.4-.3h0m-65.1 3.3h0m2.8-1.1h0m12.2.5h0m1.1-.5h0m5.9.6h0m3.7-.1h0m2.1-.1h0m.4 0h0m3.1-.6h0m2.2.4h0m.8.7h0m1.4 0h0m1.1-1.1h0m4-.1h0m.3 1.6h0m.7-.6h0m4.1-.8h0m2.7-.2h0m2.2.6h0m5 1.1h0m.5-.8h0m.3.8h0m6-1.1h0m2.3 1.1h0m1.6-1.2h0m1.4-.3h0m.8.4h0m-69.9 1.7h0m2.8.4h0m12 .4h0m.6-.9h0m9.1-.1h0m3.1-.2h0m3 0h0m.3 1.6h0m2.5-.5h0m1.4-.9h0m1 .7h0m3-.6h0m.7 1.1h0m4-.9h0m3.4 1h0m2.7-.4h0m.5-.1h0m.1.9h0m1-1.1h0m4.2.4h0m11.6-.2h0m-68.3 2.3h0m4 .2h0m12.8-.6h0m1.3.7h0m.1-.5h0m1.8-1h0m4.9.4h0m6.3 1.2h0m2.2-1.3h0m1 .3h0m1.2.7h0m.6-.4h0m.4.1h0m1.5 0h0m.4.2h0m2.1-.7h0m.4.3h0m3.7-.7h0m2.6 1h0m1-.3h0m3 .7h0m1-.2h0m.2-.2h0m3.8.4h0m.6-.7h0m5.6.2h0m2.3-.3h0m6 .1h0m-67.7 1.3h0m14.3 1h0m.6-1.2h0m1.7.9h0m5.6.5h0m1-.6h0m1.1.4h0m4.2-.3h0m2.6-.9h0m.1.7h0m.1.6h0m1.2-.2h0m.2.7h0m.2-.6h0m2.1.5h0m1.2.2h0m.9-.5h0m.2-.2h0m.6 0h0m1.8-1h0m3.6 1.2h0m1.9-.8h0m3.3-.5h0m.4.7h0m.6-.4h0m.2 1.4h0m.9-1h0m6 .9h0m.8-1.3h0m.2 1.1h0m2.3-.1h0m.9-.3h0m8.3.4h0m-69 1.6h0m0 .4h0m.2-1.1h0m14.3 1.2h0m.3-.4h0m2.2-.1h0m2.1-.2h0m8.4.1h0m.8-.4h0m2 .2h0m.4-.5h0m.6 1h0m.4-.9h0m.9 1.5h0m1.4-.6h0m.7.3h0m2.4-.6h0m2.6.4h0m.2-.5h0m2.8.7h0m1-1h0m1.9-.6h0m1.7 1.4h0m4.1-.2h0m.8-1.2h0m1.9.8h0m1-.8h0m.1.8h0m3-.5h0m.7-.2h0m.6-.1h0m.3.9h0m.9 1h0m.5-.6h0m1.1.3h0m3.3.2h0m-66.6.7h0m.4-.5h0m17.2 0h0m2.6.6h0m.9 1.1h0m.1-1h0m4-.5h0m3.9.4h0m1.5 1.3h0m.3-1.6h0m1.2.5h0m.9.7h0m.8.1h0m.1-1h0m2.8 1h0m.5-1.2h0m2.4 1.3h0m2.8-.7h0m.2.9h0m.8-1.2h0m1.6-.2h0m.4-.5h0m1.5.3h0m1.8 1.4h0m1.2-.5h0m1-.5h0m2.2-.2h0m.4.9h0m.2.2h0m.1 0h0m1.5-1.5h0m.7 1.2h0m2.4 0h0m.4-.8h0m2.8.3h0m9.2.2h0m-71.9 1.6h0m17.3-.3h0m.6.5h0m2.7.5h0m.8.3h0m3.3-.4h0m2.2-.2h0m.9-.8h0m3.2 1h0m.1-1h0m.5.8h0m1.3-.6h0m.3.6h0m.2.9h0m.2-1.6h0m1.7-.1h0m.2 1.6h0m.3.1h0m.4-1.8h0m.7.7h0m0 .9h0m.3-.4h0m2-1h0m2.8 1.6h0m4.8-1h0m6.6 0h0m.9-.8h0m.6 1.4h0m.7-1.5h0m1 .7h0m1.1-.4h0m6.3 1.4h0m3.9-1.3h0m-68.7 1.6h0m19.4 1h0m.3.9h0m1.3-1.1h0m1.6-.4h0m.2 1.4h0m2.6-.8h0m1.3-.1h0m1.8 1h0m.5-1.2h0m1.3.2h0m0-.3h0m1.8-.3h0m.3 1.2h0m3.4-.3h0m.1-.5h0m1 .6h0m2.9.3h0m.4-1.5h0m.2 1.6h0m.3-1.4h0m.6 1.2h0m0 .4h0m.4 0h0m1.8-1.1h0m.2.2h0m.8-.1h0m.1.4h0m.9-.4h0m.5-.6h0m1.6.1h0m2.6-.4h0m6.4 0h0m3.3.7h0m.8-.1h0m0-.2h0m3.2.9h0m7.4-.4h0m.5-.3h0m-70.6 3.3h0m.2-1h0m18.2.3h0m.2.4h0m.3-1.5h0m1.4.9h0m.1-.1h0m.9.3h0m1-.6h0m1.1 1.2h0m1.3-.8h0m.3.1h0m1.7 0h0m.9-.9h0m.8.9h0m1.9-.9h0m1.5.8h0m1.4-.9h0m6.4.1h0m24.1 0h0m.3.3h0m1.2-.4h0m.6 1.1h0m1.8-.1h0m2.2-.9h0m.1.6h0m1.8-.2h0m-74.8 1.7h0m.5 1.3h0m22.6-1.6h0m2.9.6h0m1-.6h0m43.4.8h0m1.6 0h0m1.1-.7h0m-1 3h0m.8.5h0m.4-.1h0m-71.6 2.3h0m.4 0h0m71.5-1.6h0m.9.4h0m-74.6 2.2h0m74.1-.8h0m-73.2 2.4h0m1.4 1h0m72.8-1.1h0m-73.9 2.5h0m-.5 2.7h0m-.7 2.2h0m1.2-.2h0m.3-1h0m.6 1.2h0m.6-1.1h0m71.5-.3h0m.6 1h0m-72.9 2.5h0m70.7-.7h0m.1.5h0m.3-1.4h0m.8 1h0m.1.2h0m1.4-.7h0m-75.9 3.1h0m2-1.6h0m1.6.5h0m.5.9h0m17.9.3h0m1.9-1.6h0m.4.1h0m.1 1h0m.9-.6h0m.3.7h0m.4.2h0m2.2-.2h0m0 .3h0m2.8.1h0m1 0h0m39.8-.6h0m.2.4h0m.8.2h0m-70.3.4h0m1.7.5h0m.1.4h0m17.2-.1h0m.5-.4h0m.5-.6h0m.1.1h0m1 .3h0m.8.9h0m.1.2h0m0-.3h0m.2-.5h0m.2-.3h0m.2-.1h0m.4 1h0m.1-1.1h0m2.6.1h0m.2 1h0m.1-1.4h0m.3 1.1h0m.9.5h0m.3-1.5h0m.7 0h0m.6 1.1h0m.1-.5h0m.2.1h0m.5-.6h0m1.8.3h0m1.4 1.3h0m.7-.8h0m.3 0h0m.5-.3h0m0 1.2h0m.8-1.7h0m2.9.1h0m.4 1h0m.1-.5h0m.6.1h0m.5.2h0m.7 0h0m.4.6h0m2.5.2h0m1-.1h0m2-.4h0m.4.4h0m18-.2h0m2.2-.8h0m2.4 1.1h0m.4-.8h0m-70.6 1.3h0m.7.1h0m2 .6h0m16.5-.2h0m.7.9h0m1.3.1h0m3.4-1.6h0m1.7-.3h0m3.4.4h0m0 .4h0m2 .4h0m.6-.1h0m.9-.4h0m.1.6h0m2.6.5h0m.8-.4h0m.3.2h0m.5-.9h0m.9-.6h0m.1.8h0m2.1.1h0m.7-.9h0m1.4 0h0m.4 1.1h0m.2-1.1h0m2 .4h0m.4.9h0m.2-.3h0m.7.2h0m.4.6h0m.1 0h0m1.7-1h0m0-.2h0m.1-.4h0m3.1.5h0m0 1h0m1.5-.2h0m1.2-.3h0m.3.5h0m.9-.5h0m1.1.5h0m1.5-.5h0m2.2.1h0m1.3 0h0m.7-.3h0m.2-.3h0m2.6-.1h0m2.1.2h0m3.6-.9h0m-68.8 2.9h0m15.6 1h0m3.9-.4h0m2.4-1h0m7.8.1h0m1 .8h0m0-1.4h0m3.6.1h0m.2 1.2h0m1.3.4h0m6.1.1h0m.6-.5h0m2.4-.1h0m3.6-.5h0m1.2.5h0m.5.3h0m.7-1.5h0m.8.1h0m.2.2h0m1.2-.2h0m.2.1h0m2.8 1.5h0m4.1-.4h0m.2-.6h0m1.6.5h0m1.1-.1h0m5.7-.6h0m-67.5 1.9h0m1.2 1.3h0m.1 0h0m13.8-1.3h0m.1-.3h0m21.4 1.6h0m.6-.6h0m.2.8h0m2.6-.5h0m.6-.2h0m.3-.1h0m2.8.1h0m8.8-1.1h0m1.4 0h0m10.8.6h0m-62.4 2.6h0m10.1-.2h0m0 .8h0m2-1.7h0m.5-.1h0m1.6 1.1h0m4.9-1.2h0m12.7 1.2h0m2.4-.3h0m16.8 0h0m2.7 1h0m7.9-.1h0m-62.4.2h0m1.1 1.7h0m.1-.9h0m7.9.3h0m.2.1h0m1.6-.4h0m.2.4h0m1.2-.4h0m.8.9h0m25-1h0m3.7.1h0m6.9-.7h0m5 .4h0m.4-.3h0m4 1.5h0m-58.9.4h0m1.5 1h0m2.6-.1h0m.9-.2h0m.4-.5h0m1.4.2h0m0 1.3h0m1.6-1.6h0m.1 1.2h0m-10.3 1.6h0m1.7-.2h0m5.2-.4h0m3.2-.1h0m1-.2h0m.7 1.1h0m.5.7h0m-7.3 1.1h0m2.4.5h0m2.1 0h0m1.7 2.3h0m-5.2 1.4h0m3.5-1.1h0m40.1-.1h0" stroke="#000" stroke-opacity="0.45" stroke-width="0.6" stroke-linecap="square" fill="none"/>
<clipPath id="cf4"><rect x="149.3" y="159.6" width="23.75" height="79.2"/></clipPath><g clip-path="url(#cf4)">
<path d="M164.7 219.4l-1.2.1-1.2-.6-1.2-1.3-.8-1.5-.8-2.1-.6-2.4-.6-5.4.1-3.3.4-3 2.8-12.9 1-2.7.6-.7.9-.4.6.3.6.7 1.1 2.8 2.9 12.9.6 5.4-.3 4.8-1.2 4.5-.7 1.8-.9 1.4-.9 1-1.2.6ZM213 210.1l-1.5.3-1.5-.1-1.5-.6-1.2-.8-.8-1.2-.2-1.2.3-1.2.6-.9.8-.6 1.1-.5 2.1-.4 2.1.5 1.6 1 .9 1.5.1.9-.2.9-1 1.5-1.7.9Z" fill="#000" fill-opacity="0.08"/>
<path d="M164.1 219.1l-1.2-.3-.9-.6-1-1.2-.9-1.8-1.2-4.2-.4-5.1.1-3 .5-3.3 2.6-12 .6-1.9.6-1.1.6-.6.6-.1.6.3.6.7 1 2.7 2.8 12.3.5 3 .1 3-.4 4.8-.6 2.4-.7 2.1-.9 1.7-.9 1.1-.9.8-1.2.3ZM212.4 209.5l-1.2.2-1.2-.2-1.2-.5-.9-.7-.5-.9-.1-.9.2-.9.7-.9 1.5-.8 1.8-.2 1.7.4 1.2.9.6 1.2-.2 1.5-.9 1.1-1.5.7Z" fill="#000" fill-opacity="0.08"/>
<path d="M165 218.5l-1.2.2-.9-.3-1.2-.9-.9-1.4-.8-1.8-.7-2.4-.4-2.7-.2-2.7.1-3.3.3-3 2.7-12 1.1-2.8.6-.7.6-.1.6.3.5.6.9 2.4 2.8 12 .6 5.1-.2 4.5-1 4.2-1.5 3.1-.9 1.1-.9.6ZM212.4 208.6l-1.8.2-.9-.3-.7-.5-.4-.6-.2-.9.2-.6.4-.6 1-.6 1.2-.2 1.2.2.9.6.6.9 0 .9-.5.9-1 .6Z" fill="#000" fill-opacity="0.08"/>
<path d="M164.7 218.2l-1.2.1-.9-.4-.9-.9-1-1.5-.7-1.8-.7-2.4-.5-5.1.1-3 .5-3.3 2.6-11.2.9-2.5.6-.8.6-.1.9.7.9 2.3 2.8 11.6.5 2.7.2 2.7-.3 4.5-1 3.9-.7 1.7-.9 1.4-.9.9-.9.5ZM211.5 207.4l-.6 0-.5-.3-.1-.6.2-.3.7-.3.7.3.3.6-.2.3-.5.3Z" fill="#000" fill-opacity="0.08"/>
<path d="M164.4 217.7l-1.2-.2-.9-.5-.9-1.1-.7-1.3-.7-1.8-.5-2.1-.4-4.5.3-4.5.9-4.5 2.3-8.7.6-1.3.3-.4.6-.2.6.4.7 1.5 2.5 9.3.9 3.9.3 3.9-.3 4.2-1.1 3.9-.7 1.5-.8 1.3-.9.8-.9.4Z" fill="#000" fill-opacity="0.08"/>
<path d="M164.4 217l-.9 0-.9-.5-.9-.9-.7-1.3-1.2-3.6-.4-4.5.2-4.2.9-4.2 2.4-8.3.6-1 .6-.3.6.5.6 1.3 2.4 8.1.8 3.9.3 3.6-.4 4.2-.9 3.6-1.3 2.4-.9.8-.9.4Z" fill="#000" fill-opacity="0.08"/>
<path d="M164.1 216.4l-.9-.2-.9-.6-1.4-2.2-.9-3.3-.4-4.2.3-3.9.9-4.2 2.1-6.4.6-1.1.6-.3.6.6.6 1.3 2.1 6.5.9 3.9.2 3.6-.3 3.9-1.1 3.6-.6 1.2-.9 1.1-.6.5-.9.2Z" fill="#000" fill-opacity="0.08"/>
<path d="M165 215.5l-.9.3-.9-.2-.9-.7-.6-.9-1.2-3-.6-4.2.1-3.9.9-4.2 2-5.6.6-1 .6-.2.6.5.6 1.1 1.6 4.3.9 3.6.4 3.6-.1 3.3-.7 3.3-1 2.4-.7.9-.7.6Z" fill="#000" fill-opacity="0.08"/>
<path d="M164.7 215l-.9.2-.6-.2-.8-.7-.7-1-1.1-2.9-.4-3.9.2-3.9.8-3.9 1.7-4.2.6-.8.6-.2.6.4.6 1 1.5 3.7.8 3.4.4 3.3-.2 3.3-.7 3-1.2 2.4-1.2 1Z" fill="#000" fill-opacity="0.08"/>
<path d="M164.7 214.4l-.9.1-.6-.2-.6-.5-.7-1-1-2.7-.5-3.6.2-3.6.8-3.7 1.5-3.4.6-.7.6-.2.6.3.6.8 1.2 2.8.8 2.9.4 3.3-.2 3.3-.6 2.7-1 2.3-1.2 1.1Z" fill="#000" fill-opacity="0.08"/>
<path d="M164.4 213.8l-.6 0-.8-.4-1.1-1.5-.8-2.4-.4-3.3.2-3.3.8-3.4 1.2-2.6.6-.6.6-.2.6.3.6.8 1 2.1.8 3 .3 3-.2 3-.6 2.7-1 1.9-1.2.9Z" fill="#000" fill-opacity="0.08"/>
<path d="M164.1 213.1l-.6-.1-.6-.4-.9-1.3-.7-2.4-.3-3 .3-3.3.7-2.8.9-1.8.6-.6.6-.2.6.3.6.7.9 2 .7 2.7.2 3-.2 2.7-.7 2.4-.9 1.5-.6.5-.6.1Z" fill="#000" fill-opacity="0.08"/>
<path d="M164.4 212.3l-.6.1-.6-.3-.9-1.2-.7-2-.3-2.7.1-2.7.7-2.7.8-1.8.6-.6.6-.1.9.6.9 1.7.6 2.2.3 2.5-.1 2.4-.5 2.1-.9 1.8-.9.7Z" fill="#000" fill-opacity="0.08"/>
<path d="M164.1 211.6l-.9-.3-.9-1.4-.5-1.9-.2-2.4.2-2.4.6-2.1.8-1.4.9-.4.9.6.7 1.5.6 2.1.1 2.4-.1 2.1-.5 1.8-.8 1.3-.9.5Z" fill="#000" fill-opacity="0.08"/>
<path d="M164.1 210.8l-.9-.4-.6-1-.5-1.7-.1-2.1.1-1.8.5-1.9.6-1.1.3-.3.6-.2.7.5.7 1.2.4 1.6.2 2-.1 1.8-.4 1.6-.6 1.2-.9.6Z" fill="#000" fill-opacity="0.08"/>
<path d="M164.1 209.8l-.6-.2-.6-.9-.4-1.3-.1-1.8.2-1.8.3-1.2.6-1 .6-.2.6.4.6 1.1.4 2.7-.1 1.5-.3 1.3-.6 1.1-.6.3Z" fill="#000" fill-opacity="0.08"/>
</g>
<path d="M165.3 228.1l-1.8.2-1.8-.6-1.8-1.7-1.6-2.4-1.3-3-1.2-3.9-.8-4.5-.4-4.5 0-5.1.6-5.1 3-15.6 1-3.3 1-2.4 1.3-1.8 1.4-1.1 1.5-.2 1.2.5 1.2 1.1 1.3 2.1 1.5 4.2 2 8.7.9 3.3 1.2 2.8 1.2 1.2.9.2.9 0 7.2-1.7 11.4-1.3 9-1.8 3-.2 3 .1 2.4.3 2.7.8 2.4.9 2.1 1.2 1.8 1.3 1.6 1.6 1.4 1.8 1 1.8.7 2.1.2 2.4-.3 2.4-.8 2.1-1.2 2.1-1.7 1.8-2.1 1.6-2.4 1.2-2.1.8-2.4.5-2.4.2-2.7 0-3.9-.6-6.6-1.9-2.4-.4-11.4-.6-3-.4-4.8-1.1-1.2 0-1.2.7-.9 1.3-2.6 5.9-1.6 3-1.8 2-1.8 1Z" fill="none" stroke="#000" stroke-width="0.7"/>
<path d="M165.3 225.7l-1.8.2-1.5-.5-1.5-1.3-1.6-2.3-1.3-3-.9-3.3-.8-4.2-.3-3.9.1-4.2.4-4.8 3-15.3.9-3 .9-2.1 1.1-1.5 1.2-.8 1.2-.2 1.2.6.9 1 1.1 1.8 1.2 3.6 1.9 9.1 1.5 5.5 1.5 3.9.6.9.6.4 1.2 0 3.9-1.9 3.3-.9 3.6-.5 8.4-.4 2.4-.5 7.2-2.2 2.4-.5 2.7-.1 2.4.2 2.1.5 2.1.7 1.8.9 1.8 1.3 1.4 1.3 1.1 1.5.9 1.8.5 2.1-.1 2.4-.7 2.1-1.2 2.1-1.9 1.8-2.1 1.4-2.7 1.1-2.7.5-3.3.1-3.3-.6-3-.9-5.4-2.2-2.7-.7-2.4-.2-6.3-.1-3.6-.4-3-.9-3.9-1.8-.9 0-.9.7-.9 1.7-2.6 7.1-1.6 3.3-1.8 2.4-1.8 1.2Z" fill="none" stroke="#000" stroke-width="0.7"/>
<path d="M165 224.6l-.9.1-.9-.1-1.5-.7-1.5-1.6-1.4-2.3-1.1-3-.8-3-.5-3.6-.3-3.9.1-3.9.5-4.2 3.1-15.6.9-2.7 1-1.8 1.2-1.1 1.2-.4 1.2.5.9.9.9 1.5.8 1.9.8 3.3 1.4 7 2.6 10.4.5 3.3-.2 2.1-.7 3-1.4 5.1-1.3 3.3-1 2.1-1.2 1.7-1.2 1.1-1.2.6ZM213 215.8l-3.6.1-3.6-.7-3.3-1.3-5.4-3-2.4-.8-2.1-.2-6 0-3.3-.5-1.8-.8-1.2-.9-.8-1.2 0-1.2.5-.9.9-.9 2.5-1.2 3.5-.6 6 0 2.4-.3 2.4-.8 5.7-2.6 3-.9 2.1-.3 2.1-.1 2.1.2 2.1.5 1.8.7 1.6.9 1.4 1.1 1.3 1.3.9 1.5.6 1.5.3 1.5 0 1.5-.3 1.5-.6 1.5-1 1.4-1.2 1.2-1.5 1.1-1.5.7-1.8.7-1.8.3Z" fill="none" stroke="#000" stroke-width="0.7"/>
<path d="M164.4 224l-1.5-.2-1.5-1-1.4-1.6-1.1-2.1-1-2.7-.8-3.3-.5-3.3-.2-3.9.2-3.6.4-3.9 3.1-15.3.8-2.4 1-1.8 1-.9 1.2-.4 1.2.5.9 1 .9 1.6.7 2.1 2 9.5 2 8.2.5 3 .1 2.1-.1 2.4-.6 3.3-1.1 4.2-1.3 3.3-1.1 2.1-1.1 1.5-1.2 1-1.5.6ZM212.4 215.2l-1.8.1-2.1-.2-1.8-.4-2.1-.8-3-1.6-5.7-4.2-2.1-1.1-1.5-.2-3.6.4-1.8 0-1.2-.4-.5-.3-.3-.3 0-.6.8-.7 1.5-.4 1.8 0 3.3.4 1.8-.3 1.8-1 6.3-4 2.4-1 2.1-.7 2.1-.3 2.1-.1 2.1.3 2.1.5 3 1.6 1.4 1.2 1 1.2.7 1.2.6 1.5.1 1.2 0 1.5-.4 1.5-.6 1.2-.9 1.2-1.3 1.2-1.5 1-1.5.7-3.3.7Z" fill="none" stroke="#000" stroke-width="0.7"/>
<path d="M164.4 223l-1.5-.2-1.2-.7-1.3-1.5-1.2-2.1-1-2.7-.8-3.3-.4-3.3-.1-3.3.1-3.6.4-3.3 3-15 .7-2.3.9-1.7.9-.9 1.2-.4.9.3 1.1 1.1.8 1.5.7 2.1 3.6 16.5.4 3 .2 2.4-.1 2.4-.6 3.3-.9 3.6-.9 2.7-1.1 2.1-1.1 1.6-1.2 1.1-1.5.6ZM212.4 214.3l-3 0-3-.7-2.8-1.4-2.6-2.1-1.6-2.1-.5-1.8.1-.9.3-.9 1.4-1.8 1.8-1.5 2.4-1.3 2.4-.8 2.4-.4 2.4.1 2.4.5 2.4 1.1 1.8 1.4 1.3 1.8.8 2.1 0 2.1-.6 1.8-1.3 1.8-1.7 1.4-2.4 1.1-2.4.5Z" fill="none" stroke="#000" stroke-width="0.7"/>
<path d="M165 221.8l-1.5.2-1.2-.5-1.3-1.2-1.3-2.1-1-2.4-.7-3-.5-3.3-.2-3 .1-3.3.4-3.6 2.9-14.7.7-2.3.9-1.6.9-.9.9-.2.9.3.9 1 1.3 3.1 3.4 15.6.6 5.4-.1 2.4-.3 2.7-.6 2.7-.9 3-.9 2.1-1 1.6-1.2 1.3-1.2.7ZM213.3 213.2l-2.7.2-2.7-.5-2.7-1.1-2.1-1.7-1.3-1.8-.4-1.2-.1-.9.5-1.8 1.3-1.8 1.6-1.2 1.8-.9 2-.6 2.1-.2 2.1.2 1.8.5 1.8.9 1.5 1.2 1.2 1.6.5 1.5.1 1.8-.5 1.5-.9 1.5-1.3 1.2-1.8 1-1.8.6Z" fill="none" stroke="#000" stroke-width="0.7"/>
<path d="M165 221.3l-1.5.1-1.2-.5-1.2-1.1-1.2-1.9-1-2.4-.7-2.7-.5-3.3-.2-3 .1-3.6.4-3.3 2.9-14.4.7-2.1.7-1.3.9-1 .9-.2.9.4.6.6.8 1.5.6 1.8 3.3 15 .6 5.4-.4 5.1-.6 2.7-.8 2.7-1 2.1-.9 1.5-1 1.1-1.2.8ZM213.3 212.6l-2.4.2-2.7-.4-2.4-1.1-1.8-1.5-1.2-1.8-.3-1.8.5-1.8 1.1-1.5 1.4-1.1 1.8-.8 1.8-.5 1.8-.1 1.8.1 1.8.6 1.5.7 1.3 1.1.9 1.2.6 1.5.1 1.5-.4 1.5-.7 1.2-1.2 1.2-1.5.9-1.8.7Z" fill="none" stroke="#000" stroke-width="0.7"/>
<path d="M164.1 220.9l-1.2-.2-1.2-.8-1.1-1.4-.9-1.8-.9-2.4-.5-2.4-.4-3-.2-3 .2-3.3.3-3 2.9-13.8.6-2 .6-1.3.9-1 .9-.2.9.4.6.7.7 1.3.6 1.8 3.1 14.4.5 3.3.1 2.7-.2 2.7-.4 2.7-.6 2.7-.9 2.4-.9 1.8-1.1 1.5-1.2.9-1.2.3ZM211.2 212.2l-2.7-.4-2.4-1.1-1.8-1.8-.8-1.8.1-1.8 1.1-1.8 2-1.5 2.4-.8 1.5-.2 1.5.1 1.5.3 1.4.6 1.3.9.8.9.6.9.4 1.2 0 1.2-.2 1.2-.7 1.2-.8.9-1.3.9-1.2.5-2.7.4Z" fill="none" stroke="#000" stroke-width="0.7"/>
<path d="M164.7 220.3l-1.2.1-1.2-.6-1.2-1.2-1-1.6-.9-2.4-.6-2.4-.5-2.7-.2-3.3.2-3.3.4-3.3 2.8-13.5.5-1.8.8-1.5.6-.6.9-.3.9.5.6.7 1.1 2.7 3 13.8.5 3 .1 2.7-.3 5.1-1.3 4.8-.9 2.1-1 1.5-.9.9-1.2.6ZM211.5 211.6l-2.1-.2-2.1-.8-1.8-1.4-.9-1.5-.1-1.8.6-1.5 1.5-1.5 1.9-.9 2.7-.4 2.7.6 1.2.6.9.7.7.9.6 1.2.1 1.2-.1.9-.5 1.2-.8.9-.9.7-1.2.6-2.4.5Z" fill="none" stroke="#000" stroke-width="0.7"/>
<path d="M165 219.8l-1.2.2-1.2-.4-1.2-1.1-1-1.5-.9-2.1-.7-2.4-.5-3-.2-3 .1-3.3.4-3.3 2.8-13.2.6-1.9.6-1.2.6-.7.9-.3.6.2.8.9 1 2.7 3.1 13.8.5 5.1-.3 4.8-1.1 4.5-1.6 3.3-.9 1.1-1.2.8ZM211.5 211l-2.1-.2-1.7-.7-1.4-1.2-.9-1.5 0-1.5.5-1.2 1.1-1.2 1.8-.9 2.4-.3 2.4.4 1.8 1.2.7.8.4.9.1 1.8-.3.9-.6.9-1.8 1.3-2.4.5Z" fill="none" stroke="#000" stroke-width="0.7"/>
<path d="M164.7 219.4l-1.2.1-1.2-.6-1.2-1.3-.8-1.5-.8-2.1-.6-2.4-.6-5.4.1-3.3.4-3 2.8-12.9 1-2.7.6-.7.9-.4.6.3.6.7 1.1 2.8 2.9 12.9.6 5.4-.3 4.8-1.2 4.5-.7 1.8-.9 1.4-.9 1-1.2.6ZM213 210.1l-1.5.3-1.5-.1-1.5-.6-1.2-.8-.8-1.2-.2-1.2.3-1.2.6-.9.8-.6 1.1-.5 2.1-.4 2.1.5 1.6 1 .9 1.5.1.9-.2.9-1 1.5-1.7.9Z" fill="none" stroke="#000" stroke-width="0.7"/>
<path d="M164.1 219.1l-1.2-.3-.9-.6-1-1.2-.9-1.8-1.2-4.2-.4-5.1.1-3 .5-3.3 2.6-12 .6-1.9.6-1.1.6-.6.6-.1.6.3.6.7 1 2.7 2.8 12.3.5 3 .1 3-.4 4.8-.6 2.4-.7 2.1-.9 1.7-.9 1.1-.9.8-1.2.3ZM212.4 209.5l-1.2.2-1.2-.2-1.2-.5-.9-.7-.5-.9-.1-.9.2-.9.7-.9 1.5-.8 1.8-.2 1.7.4 1.2.9.6 1.2-.2 1.5-.9 1.1-1.5.7Z" fill="none" stroke="#000" stroke-width="0.7"/>
<path d="M165 218.5l-1.2.2-.9-.3-1.2-.9-.9-1.4-.8-1.8-.7-2.4-.4-2.7-.2-2.7.1-3.3.3-3 2.7-12 1.1-2.8.6-.7.6-.1.6.3.5.6.9 2.4 2.8 12 .6 5.1-.2 4.5-1 4.2-1.5 3.1-.9 1.1-.9.6ZM212.4 208.6l-1.8.2-.9-.3-.7-.5-.4-.6-.2-.9.2-.6.4-.6 1-.6 1.2-.2 1.2.2.9.6.6.9 0 .9-.5.9-1 .6Z" fill="none" stroke="#000" stroke-width="0.7"/>
<path d="M164.7 218.2l-1.2.1-.9-.4-.9-.9-1-1.5-.7-1.8-.7-2.4-.5-5.1.1-3 .5-3.3 2.6-11.2.9-2.5.6-.8.6-.1.9.7.9 2.3 2.8 11.6.5 2.7.2 2.7-.3 4.5-1 3.9-.7 1.7-.9 1.4-.9.9-.9.5ZM211.5 207.4l-.6 0-.5-.3-.1-.6.2-.3.7-.3.7.3.3.6-.2.3-.5.3Z" fill="none" stroke="#000" stroke-width="0.7"/>
<path d="M164.4 217.7l-1.2-.2-.9-.5-.9-1.1-.7-1.3-.7-1.8-.5-2.1-.4-4.5.3-4.5.9-4.5 2.3-8.7.6-1.3.3-.4.6-.2.6.4.7 1.5 2.5 9.3.9 3.9.3 3.9-.3 4.2-1.1 3.9-.7 1.5-.8 1.3-.9.8-.9.4Z" fill="none" stroke="#000" stroke-width="0.7"/>
<path d="M164.4 217l-.9 0-.9-.5-.9-.9-.7-1.3-1.2-3.6-.4-4.5.2-4.2.9-4.2 2.4-8.3.6-1 .6-.3.6.5.6 1.3 2.4 8.1.8 3.9.3 3.6-.4 4.2-.9 3.6-1.3 2.4-.9.8-.9.4Z" fill="none" stroke="#000" stroke-width="0.7"/>
<path d="M164.1 216.4l-.9-.2-.9-.6-1.4-2.2-.9-3.3-.4-4.2.3-3.9.9-4.2 2.1-6.4.6-1.1.6-.3.6.6.6 1.3 2.1 6.5.9 3.9.2 3.6-.3 3.9-1.1 3.6-.6 1.2-.9 1.1-.6.5-.9.2Z" fill="none" stroke="#000" stroke-width="0.7"/>
<path d="M165 215.5l-.9.3-.9-.2-.9-.7-.6-.9-1.2-3-.6-4.2.1-3.9.9-4.2 2-5.6.6-1 .6-.2.6.5.6 1.1 1.6 4.3.9 3.6.4 3.6-.1 3.3-.7 3.3-1 2.4-.7.9-.7.6Z" fill="none" stroke="#000" stroke-width="0.7"/>
<path d="M164.7 215l-.9.2-.6-.2-.8-.7-.7-1-1.1-2.9-.4-3.9.2-3.9.8-3.9 1.7-4.2.6-.8.6-.2.6.4.6 1 1.5 3.7.8 3.4.4 3.3-.2 3.3-.7 3-1.2 2.4-1.2 1Z" fill="none" stroke="#000" stroke-width="0.7"/>
<path d="M164.7 214.4l-.9.1-.6-.2-.6-.5-.7-1-1-2.7-.5-3.6.2-3.6.8-3.7 1.5-3.4.6-.7.6-.2.6.3.6.8 1.2 2.8.8 2.9.4 3.3-.2 3.3-.6 2.7-1 2.3-1.2 1.1Z" fill="none" stroke="#000" stroke-width="0.7"/>
<path d="M164.4 213.8l-.6 0-.8-.4-1.1-1.5-.8-2.4-.4-3.3.2-3.3.8-3.4 1.2-2.6.6-.6.6-.2.6.3.6.8 1 2.1.8 3 .3 3-.2 3-.6 2.7-1 1.9-1.2.9Z" fill="none" stroke="#000" stroke-width="0.7"/>
<path d="M164.1 213.1l-.6-.1-.6-.4-.9-1.3-.7-2.4-.3-3 .3-3.3.7-2.8.9-1.8.6-.6.6-.2.6.3.6.7.9 2 .7 2.7.2 3-.2 2.7-.7 2.4-.9 1.5-.6.5-.6.1Z" fill="none" stroke="#000" stroke-width="0.7"/>
<path d="M164.4 212.3l-.6.1-.6-.3-.9-1.2-.7-2-.3-2.7.1-2.7.7-2.7.8-1.8.6-.6.6-.1.9.6.9 1.7.6 2.2.3 2.5-.1 2.4-.5 2.1-.9 1.8-.9.7Z" fill="none" stroke="#000" stroke-width="0.7"/>
<path d="M164.1 211.6l-.9-.3-.9-1.4-.5-1.9-.2-2.4.2-2.4.6-2.1.8-1.4.9-.4.9.6.7 1.5.6 2.1.1 2.4-.1 2.1-.5 1.8-.8 1.3-.9.5Z" fill="none" stroke="#000" stroke-width="0.7"/>
<path d="M164.1 210.8l-.9-.4-.6-1-.5-1.7-.1-2.1.1-1.8.5-1.9.6-1.1.3-.3.6-.2.7.5.7 1.2.4 1.6.2 2-.1 1.8-.4 1.6-.6 1.2-.9.6Z" fill="none" stroke="#000" stroke-width="0.7"/>
<path d="M164.1 209.8l-.6-.2-.6-.9-.4-1.3-.1-1.8.2-1.8.3-1.2.6-1 .6-.2.6.4.6 1.1.4 2.7-.1 1.5-.3 1.3-.6 1.1-.6.3Z" fill="none" stroke="#000" stroke-width="0.7"/>
<rect x="173.05" y="160.5" width="54.25" height="76.6" fill="none" stroke="#000" stroke-width="1.2"/>
<path d="M149.3 238.8V159.6H228.9V238.8H149.3" fill="none" stroke="#000" stroke-width="1.35"/>
<line x1="145.9" y1="163.25" x2="149.3" y2="163.25" stroke="#000" stroke-width="0.9"/>
<line x1="147.3" y1="166.25" x2="149.3" y2="166.25" stroke="#000" stroke-width="0.9"/>
<line x1="147.3" y1="169.25" x2="149.3" y2="169.25" stroke="#000" stroke-width="0.9"/>
<line x1="147.3" y1="172.25" x2="149.3" y2="172.25" stroke="#000" stroke-width="0.9"/>
<line x1="147.3" y1="175.25" x2="149.3" y2="175.25" stroke="#000" stroke-width="0.9"/>
<line x1="145.9" y1="178.25" x2="149.3" y2="178.25" stroke="#000" stroke-width="0.9"/>
<line x1="147.3" y1="181.25" x2="149.3" y2="181.25" stroke="#000" stroke-width="0.9"/>
<line x1="147.3" y1="184.25" x2="149.3" y2="184.25" stroke="#000" stroke-width="0.9"/>
<line x1="147.3" y1="187.25" x2="149.3" y2="187.25" stroke="#000" stroke-width="0.9"/>
<line x1="147.3" y1="190.25" x2="149.3" y2="190.25" stroke="#000" stroke-width="0.9"/>
<line x1="145.9" y1="193.25" x2="149.3" y2="193.25" stroke="#000" stroke-width="0.9"/>
<line x1="147.3" y1="196.25" x2="149.3" y2="196.25" stroke="#000" stroke-width="0.9"/>
<line x1="147.3" y1="199.25" x2="149.3" y2="199.25" stroke="#000" stroke-width="0.9"/>
<line x1="147.3" y1="202.25" x2="149.3" y2="202.25" stroke="#000" stroke-width="0.9"/>
<line x1="147.3" y1="205.25" x2="149.3" y2="205.25" stroke="#000" stroke-width="0.9"/>
<line x1="145.9" y1="208.25" x2="149.3" y2="208.25" stroke="#000" stroke-width="0.9"/>
<line x1="147.3" y1="211.25" x2="149.3" y2="211.25" stroke="#000" stroke-width="0.9"/>
<line x1="147.3" y1="214.25" x2="149.3" y2="214.25" stroke="#000" stroke-width="0.9"/>
<line x1="147.3" y1="217.25" x2="149.3" y2="217.25" stroke="#000" stroke-width="0.9"/>
<line x1="147.3" y1="220.25" x2="149.3" y2="220.25" stroke="#000" stroke-width="0.9"/>
<line x1="145.9" y1="223.25" x2="149.3" y2="223.25" stroke="#000" stroke-width="0.9"/>
<line x1="147.3" y1="226.25" x2="149.3" y2="226.25" stroke="#000" stroke-width="0.9"/>
<line x1="147.3" y1="229.25" x2="149.3" y2="229.25" stroke="#000" stroke-width="0.9"/>
<line x1="147.3" y1="232.25" x2="149.3" y2="232.25" stroke="#000" stroke-width="0.9"/>
<line x1="147.3" y1="235.25" x2="149.3" y2="235.25" stroke="#000" stroke-width="0.9"/>
<line x1="145.9" y1="238.25" x2="149.3" y2="238.25" stroke="#000" stroke-width="0.9"/>
<path d="M151.8 238.8v2.2M153.2 238.8v2.2M154.6 238.8v2.2M156 238.8v2.2M157.4 238.8v2.2M158.8 238.8v2.2M160.2 238.8v3.2M161.6 238.8v2.2M163 238.8v2.2M164.4 238.8v2.2M165.8 238.8v2.2M167.2 238.8v2.2M168.6 238.8v2.2M173.3 238.8v2.2M177.3 238.8v2.2M180.3 238.8v2.2M182.3 238.8v2.2M183.8 238.8v2.2M184.8 238.8v2.2M185.8 238.8v2.2M186.6 238.8v2.2M187.3 238.8v3.2M193.3 238.8v2.2M197.3 238.8v2.2M200.3 238.8v2.2M202.3 238.8v2.2M203.8 238.8v2.2M204.8 238.8v2.2M205.8 238.8v2.2M206.6 238.8v2.2M207.3 238.8v3.2M213.3 238.8v2.2M217.3 238.8v2.2M220.3 238.8v2.2M222.3 238.8v2.2M223.8 238.8v2.2M224.8 238.8v2.2M225.8 238.8v2.2M226.6 238.8v2.2M227.3 238.8v3.2" stroke="#000" stroke-width="0.8"/>
<text x="203.18" y="168.45" font-size="8" text-anchor="middle">29.8</text>
<text x="200.88" y="233.6" font-size="8" text-anchor="middle" textLength="13.8" lengthAdjust="spacingAndGlyphs">LPS</text>
<text transform="translate(140.4,199) rotate(-90)" x="0" y="0" font-size="9.8" text-anchor="middle" textLength="18.9" lengthAdjust="spacingAndGlyphs" class="c">FSC-A</text>
<text x="156.2" y="254.15" font-size="9.2" textLength="21.1" lengthAdjust="spacingAndGlyphs" class="c">TNF-&#945;</text>
<text x="185.6" y="254.15" font-size="9.2" textLength="35.8" lengthAdjust="spacingAndGlyphs" class="c">Pacific Blue</text>
<path d="M301.5 44.8h0m0 .9h0m-2 1.5h0m-4 1.2h0m5.7.2h0m-2.6 2.7h0m3-.3h0m1.1.4h0m.3-1h0m1.4 1.4h0m-7.8.5h0m5 .7h0m1.3.6h0m1.3.1h0m.4-1.4h0m.8.9h0m-7.6 2.6h0m.7-1.4h0m.1.9h0m.2-.4h0m.5-.1h0m.2-.6h0m.4 1.4h0m.5-1.3h0m.2.3h0m.2.1h0m.3.8h0m.3-1h0m.5 1.1h0m.4-1h0m1.6.9h0m.9.1h0m.9-.7h0m-11.4 2.7h0m3.1 0h0m1.2-1.6h0m0 1.3h0m1.4.3h0m.8.2h0m.1-.1h0m.1-.9h0m.2 1h0m.2.1h0m0-1h0m.1.9h0m.5-.9h0m1.2.2h0m.4.4h0m-6.1 2.4h0m.1 0h0m.4-1.5h0m1 1h0m.6-1.1h0m.1 1.2h0m.3-.1h0m0-.1h0m0-.1h0m.4-.3h0m.3.3h0m.8-.5h0m.1-.5h0m0 1.6h0m.4-1.5h0m.2.1h0m.6.5h0m0 .6h0m.3-.3h0m0-1.2h0m.2.6h0m.4 1.1h0m.1.1h0m.6-1.5h0m.7-.1h0m.1-.2h0m1.6 1h0m-12 2.3h0m.5.1h0m.3.5h0m1.2-1.5h0m.3-.4h0m.8.2h0m.8.3h0m.2 1.2h0m.2-.4h0m0 .5h0m.2.1h0m.1-.1h0m.2-.6h0m.3-.3h0m.1-.5h0m0 1.2h0m.3-.8h0m0-.4h0m.3.7h0m.2.4h0m.1-1.3h0m.5.5h0m.1-.3h0m0-.3h0m.1.5h0m.3 0h0m.9.7h0m0 .3h0m.3-.4h0m.1-1.1h0m.5.2h0m0 .6h0m.6.6h0m.2-1.2h0m.2 1.3h0m0 .1h0m0 .2h0m.1-.4h0m.4 0h0m.8.4h0m.2-1.1h0m1 .4h0m2.2-.5h0m-16.5 2h0m2-.4h0m.1-.1h0m1.2 1.7h0m.4-.1h0m.4-1.8h0m.7.1h0m.2 1.4h0m.5.1h0m0-1h0m0 1.2h0m.4-1.4h0m.4 1.4h0m.1-.3h0m.1-1.5h0m.1.7h0m.2 1.1h0m.2-1.3h0m.1.4h0m.3.4h0m.5-.7h0m0 1.2h0m.1-.8h0m.1.7h0m.1-.5h0m0-.3h0m.1-.1h0m0-.7h0m.1 1.5h0m0-.9h0m.1-.6h0m.2 1.1h0m0 .6h0m0-1.1h0m.2.3h0m.1.4h0m.2.4h0m.3-.6h0m0 .7h0m.1-.8h0m.1.8h0m0-1.7h0m.2-.2h0m.1 1.6h0m0-1.6h0m.1 1.3h0m.3-1.3h0m0 .6h0m.1-.1h0m.6 0h0m.5 0h0m0-.2h0m.4 1.4h0m.1-.8h0m0-.8h0m0 1.2h0m.6.4h0m.2-1.5h0m.3.5h0m.2.7h0m.6-.3h0m0 .6h0m.1-1.5h0m2.6 1.2h0m-13.1 1.3h0m.4.1h0m.1.6h0m.1.2h0m.1-.4h0m.2.5h0m0-1h0m.2.3h0m.2.8h0m.2-1.4h0m0 .3h0m.3.8h0m.2-.4h0m.1-.1h0m.2-.7h0m0 1.2h0m.2-1.5h0m.1 0h0m.1 1.1h0m0 .8h0m0-1.7h0m.3-.1h0m.1.5h0m.2 0h0m.1 1.2h0m.1-.5h0m.5.3h0m.1-.5h0m0 .3h0m0 .3h0m0-.8h0m.1.7h0m0-1h0m.2-.5h0m0 .3h0m0 1.5h0m.2-1.5h0m.1 1.4h0m0-.7h0m.5-.2h0m0 .3h0m0 .1h0m.2-1h0m.2 1.5h0m0-1.2h0m.1.4h0m0 .2h0m.2.4h0m.1-1.6h0m.1 1.4h0m0-1.2h0m.1.7h0m.1-.6h0m0 .8h0m0 .3h0m.3 0h0m0-.9h0m.1 1.4h0m.1-1.4h0m0 .2h0m0-.1h0m.3.5h0m0 .4h0m0 .4h0m.1-1.6h0m.2 1h0m0 .3h0m.3.2h0m.1.1h0m0-1.1h0m.3.2h0m.2.8h0m.2-.8h0m.1-.6h0m.6.5h0m.2-.3h0m.6-.4h0m.1.5h0m1.7 1h0m.9-1.3h0m-15.5 1.6h0m1.6.6h0m.2 1.3h0m.6-1.2h0m.1-.2h0m.2 1.1h0m.7-.5h0m0 .3h0m0-.6h0m.2-.2h0m.2.4h0m.1.3h0m.2.4h0m.1-1.2h0m.1 1.4h0m0-.4h0m.1-1.1h0m0-.1h0m0 1.6h0m.1-.5h0m0 .3h0m0 .1h0m.1-1.3h0m.4.9h0m.1-.5h0m.1-.8h0m.3.6h0m.1 0h0m0 .3h0m0 .5h0m.1.3h0m.1-1.2h0m0 1.1h0m0-.6h0m.1.5h0m.1-.9h0m0 .9h0m.1-.6h0m0 .9h0m.1-1.6h0m0 .6h0m.1.9h0m.1-.7h0m0 .1h0m0 .4h0m.1.1h0m0-1h0m0 1.2h0m.2-.9h0m0-.7h0m0 1.4h0m0-.8h0m.1.2h0m.2-.8h0m.1.6h0m.1-.7h0m0 1.2h0m0-.8h0m.2-.1h0m0 1.2h0m.1-.9h0m0 .2h0m0-.8h0m0 .2h0m0-.1h0m.1 1h0m.1-1.1h0m.1.9h0m0 .2h0m0-1.1h0m.1.5h0m.1-.3h0m0 .3h0m.1.2h0m.1-.3h0m0-.1h0m0 1.3h0m0-.1h0m.1-.5h0m0-1h0m0 .4h0m0 .1h0m.1-.4h0m0 .9h0m.1.4h0m0-1.1h0m0 .3h0m.1.8h0m0-.1h0m0-.8h0m.1.2h0m0-.1h0m0 .3h0m0-1h0m0 .2h0m.1 1.1h0m0 .2h0m0 .2h0m0-.5h0m0-1h0m.1.4h0m0 .5h0m0 .2h0m0 .2h0m.1-1.3h0m.3.7h0m.2-.8h0m.1.8h0m.1-.9h0m.2.7h0m.2-.1h0m.2-.7h0m.1.7h0m.1 1h0m0 .2h0m0-1.8h0m.1 1h0m0 .1h0m.1.5h0m0-.6h0m0-1h0m0 .9h0m.1.3h0m0-.9h0m.1 0h0m.8 1.1h0m.3-1.2h0m.1-.1h0m0 1.2h0m.6-.3h0m0-.3h0m.1-.6h0m.4 1.6h0m.2-.7h0m.4-.4h0m-12.7 3.1h0m.3-1h0m.3-.2h0m.5-.1h0m.5.7h0m.3-.6h0m0 .1h0m0 .3h0m.2.8h0m.4-1.6h0m.2-.1h0m.1 1.3h0m.2-1.4h0m.1.2h0m.1-.2h0m.2 1.3h0m.3.6h0m0-1.1h0m.1.5h0m0-1.1h0m.1 0h0m.1.1h0m.2 1.2h0m.1-.3h0m.1.2h0m0-.5h0m.1 0h0m0 .2h0m0 .2h0m0-1h0m0 .5h0m0-.1h0m.1-.3h0m0 .4h0m.1.8h0m0-.2h0m.1-.2h0m0-.1h0m0-.6h0m0 .9h0m0-1h0m.1.6h0m0 .9h0m0-.1h0m.2-.5h0m.1.3h0m0-.5h0m0-1h0m.1 1.2h0m0 .1h0m0-1h0m0 .6h0m0 .2h0m.1-.1h0m0-.1h0m.1.7h0m0 .2h0m.1-1.5h0m0 .2h0m.1.1h0m.1.5h0m0 .3h0m.1.2h0m0-.7h0m0-.8h0m0 1.3h0m0-.7h0m.1.2h0m.1-.2h0m.1-.7h0m0 1.2h0m0-1h0m0 .3h0m.1.2h0m0 .4h0m0-1h0m0 1.3h0m0 .1h0m.2-1.6h0m0 .1h0m0 1.2h0m0-.8h0m0 1.2h0m0 .1h0m.1 0h0m0-1h0m0-.8h0m0 1.1h0m.1-.8h0m0 1.1h0m0-.6h0m0 1.1h0m0-.7h0m.1-1h0m0 .3h0m.1-.2h0m0 .8h0m.1.7h0m.1-1.8h0m0 .2h0m0 1.3h0m0-1h0m.1.4h0m0 .2h0m.1-.8h0m0 1.3h0m.1 0h0m.1-.7h0m.1.7h0m.1-.8h0m0 .7h0m.1-.3h0m0 .1h0m0 .1h0m.1-1.4h0m0 1.2h0m.1-.2h0m0 .4h0m0-1h0m0 .3h0m0 1.2h0m.1-1.7h0m0 .3h0m.1.1h0m.1 1.1h0m0-1.1h0m.1-.2h0m0 1.5h0m.1-1.5h0m.1-.2h0m0 1h0m.1-.2h0m0-1h0m.1 1.1h0m.1.5h0m0 .2h0m0-.6h0m.1-.3h0m0 .2h0m.3-.7h0m.2-.1h0m0 .4h0m.2.9h0m.1-1.1h0m0 .2h0m.1.4h0m.1-.6h0m0 .7h0m.1-.1h0m.1.1h0m0-1.1h0m.3 1.7h0m.1-.7h0m.1 0h0m0-.8h0m.1 1.4h0m.3-.1h0m.3-1.3h0m.1 1.6h0m.2-.6h0m.1.2h0m.2.3h0m.2-1.2h0m.1-.1h0m.1-.4h0m.6 1.6h0m-13.1.9h0m.1.6h0m.1-.8h0m0 .9h0m.7-.3h0m.2-.5h0m.1 1h0m.1-.8h0m.1.4h0m0 .3h0m0-1.1h0m.7.1h0m.1 1h0m.4-1h0m.1.4h0m0-.4h0m.2-.4h0m.3.1h0m.2 1.4h0m0-1.5h0m.1 1.6h0m0-.4h0m0 .2h0m.1.5h0m.2-.5h0m0-.9h0m0 1.3h0m0-.9h0m0-.7h0m.1 1.4h0m0-1.2h0m.1 1.4h0m0-1h0m0 .3h0m0 .3h0m.1-.3h0m0-.4h0m.1 1.2h0m0-.8h0m0 .1h0m0 .3h0m.2-.5h0m0 .7h0m.1-1.5h0m.1.5h0m.1 1h0m0 .1h0m.1-.8h0m0-.6h0m.1 1.4h0m0-.8h0m.1-.5h0m0 1.2h0m0-.9h0m.1-.2h0m0-.6h0m.1 1.7h0m0-.9h0m0 .2h0m.1.1h0m.1-.5h0m0-.6h0m0 1.2h0m0-.8h0m.1.7h0m0-.1h0m.2-.6h0m0 .6h0m.1 0h0m.1-.4h0m.1.4h0m0-.4h0m.1.2h0m0-.5h0m.1.5h0m0-.4h0m.3-.1h0m.2.1h0m0 .1h0m.3.1h0m0-.6h0m.1.1h0m.1 0h0m.1.6h0m0 .3h0m.1-1h0m.1.5h0m.1.3h0m0-.7h0m.1 1h0m.1-.4h0m0-.7h0m0 .2h0m0 .1h0m.1.1h0m0 .5h0m.1.1h0m0-1h0m.1.2h0m0 .1h0m.1 1.5h0m0-.1h0m0-1.6h0m.1 0h0m0 .6h0m.1.9h0m0-.4h0m.2.1h0m0-.1h0m.1-.8h0m.1.3h0m0-.7h0m.1.6h0m0-.6h0m0 1.3h0m0 .3h0m.1-.2h0m0-1h0m0 .2h0m0-.1h0m.1-.5h0m0 .3h0m.1-.2h0m0 .3h0m0 .1h0m.1 1.2h0m.1 0h0m0-.3h0m0 .2h0m0 .2h0m.1-.6h0m.1-.8h0m.1-.2h0m0 1.3h0m.1-1.5h0m0 1.7h0m0-1h0m0-.6h0m.1 1.4h0m.1-1.4h0m0 1.5h0m.1-1.2h0m0 1.2h0m0 .2h0m0-.7h0m.1-.7h0m0 .3h0m0 .2h0m.1-.6h0m0 1.2h0m0-.2h0m0 .1h0m.1-.9h0m0 .4h0m.2.8h0m0 .2h0m0-1.1h0m0 .3h0m.1.5h0m.1-1.2h0m.1 1.4h0m.1-.8h0m0 .8h0m.1-.5h0m0 .1h0m.1-.2h0m.2.6h0m0-1h0m.1.7h0m.1.1h0m.3-1.2h0m.4 1.4h0m.1-1.3h0m.3 1.3h0m.1-.2h0m1.3 0h0m-14 .9h0m.5-.4h0m.4 0h0m.2 1.1h0m.1-.7h0m.3-.3h0m.3.9h0m.2.4h0m.1-1h0m.4 1.1h0m0-1.1h0m.6-.5h0m.1 1.9h0m.1-.8h0m.1.7h0m.1-.5h0m0-.7h0m0 .4h0m0 .1h0m.1-1.1h0m.1 1h0m0 .2h0m.1.3h0m0-1h0m.1.5h0m0 .2h0m0-.7h0m.1.6h0m0-.2h0m.1-.9h0m0 1.3h0m0 .1h0m.1.5h0m0-1h0m0 .4h0m0-1h0m0 1.2h0m0-.9h0m.1.5h0m0-1.1h0m0 .5h0m.2.4h0m0-.8h0m0 .9h0m0-.7h0m.1.4h0m.3-.4h0m.1-.1h0m3.3 0h0m.1-.2h0m0 .2h0m.1-.2h0m.2.9h0m.1-.2h0m0 .4h0m0-.7h0m.1.9h0m.1-1.2h0m0 1.6h0m0-1h0m.1.7h0m0 .3h0m0-.1h0m.1-.7h0m0-.7h0m0 1.2h0m0 .2h0m.1-.6h0m0-1h0m0 .1h0m0 .2h0m0 .1h0m0 .4h0m.1.2h0m0 .4h0m0 .1h0m0 .4h0m.2-.6h0m0-1h0m0 1.1h0m.2-.1h0m0 .4h0m0-.7h0m0-1h0m.1.5h0m0 .4h0m0-.7h0m.1 1.2h0m0-.7h0m0-.4h0m.1.7h0m0-.7h0m.1 1.3h0m0 .2h0m.1-.9h0m0 .3h0m0-1.1h0m0 .4h0m.1.6h0m.1.4h0m.1-1.2h0m.1-.3h0m.2 1.2h0m.3-.9h0m0 .1h0m.1-.1h0m0 .1h0m.4.1h0m.1.6h0m.2 0h0m.1.1h0m.1-.1h0m.2-.7h0m.2 1.5h0m.4-.7h0m.6-.2h0m10.4.3h0m-25.9 1.8h0m2.3-.8h0m.2 1.1h0m0 .1h0m.2-1.3h0m.1 1.2h0m.1-.2h0m.1-.1h0m0 .5h0m0-.7h0m.2-.3h0m.1 0h0m0 .6h0m.1.4h0m0-1h0m0 .7h0m.1-1h0m0 .4h0m.1 0h0m.1-.6h0m.1 1.2h0m.3-.3h0m0-.5h0m.1.5h0m.2.5h0m.1-.4h0m0-1h0m0 .4h0m.1-.1h0m.1-.2h0m0 1.2h0m0-.7h0m0 .4h0m.1-.5h0m0-.5h0m0 .2h0m.2 1.2h0m0-1.1h0m0 1h0m0-.1h0m.1-1h0m0 1.3h0m0 .1h0m0-.8h0m0-.1h0m0 .6h0m.2-.8h0m0 .3h0m0 .5h0m0-.7h0m.1-.4h0m0 1.2h0m0-1.3h0m0 .2h0m.1 1.2h0m.1-.6h0m0 .4h0m0 .2h0m0-.9h0m.1.5h0m0-1h0m0 .5h0m.1-.5h0m.1.3h0m0 .1h0m.1-.6h0m.1.1h0m4.9.1h0m.1-.2h0m.1 1.3h0m0-1.2h0m0 .5h0m0 .1h0m0 .4h0m.1.2h0m0-.1h0m0-.6h0m0 .1h0m.1 0h0m0-.7h0m.1.8h0m0 .2h0m.1.1h0m.2-.8h0m0 .5h0m0 .4h0m.1-.2h0m.1.7h0m0-1.2h0m.2.7h0m.1.2h0m.1.1h0m0-.8h0m.1.4h0m.1.1h0m0 .2h0m0 .2h0m.1 0h0m.2-.4h0m0-.4h0m0 1.1h0m.1-1.8h0m.1 1.4h0m0-1.5h0m.1.1h0m.1 1.6h0m0-.6h0m.1-.1h0m.1-.8h0m.1.7h0m.1-.1h0m0 .9h0m.1-.4h0m.3-.4h0m.2-.9h0m1.2.1h0m.7.5h0m.3 1.3h0m.7-1.6h0m.2.1h0m-16.1 2.7h0m.7.3h0m.2-.5h0m.3.4h0m.1-.9h0m.3-.4h0m.3 1.9h0m.1-1.2h0m0 .4h0m0 .1h0m.1 0h0m.1-.7h0m.1.5h0m.3.6h0m0 .2h0m.1-.3h0m.1.2h0m.1.2h0m0-.3h0m.1-.3h0m.1-.7h0m.1.4h0m0-.8h0m0 1.3h0m.1-.1h0m.1-.8h0m0-.1h0m.1 1h0m0-1.5h0m0 .4h0m.1.9h0m0-1.1h0m.1.8h0m0-.5h0m.1-.1h0m.1.4h0m0-.2h0m.1.7h0m0-.9h0m0 .1h0m.1.5h0m0-.1h0m0-.8h0m0 .2h0m.1-.1h0m0 .2h0m6 .1h0m.1.3h0m.1.5h0m.1-.3h0m0 .3h0m.1-.4h0m0-.6h0m.1.8h0m0-.8h0m.1.9h0m0-.8h0m.1.5h0m0 .4h0m0-.8h0m.1 1.1h0m0-1.6h0m0 1.3h0m.1-.8h0m0 .2h0m0 1.2h0m0-1.8h0m.1.5h0m0 1.3h0m0-1.1h0m.2.5h0m0-.5h0m.2-.3h0m0 1.4h0m.1-1.7h0m0 .8h0m.1-.3h0m.1 1h0m.1 0h0m.2-1.5h0m.1.4h0m.1.5h0m0-.6h0m.1.1h0m.1-.6h0m.3.4h0m.1 1.2h0m0-.9h0m.1 1.2h0m.4-.5h0m.1.4h0m.3-1.1h0m1.3 1h0m-16.7.3h0m1.5 1.1h0m.1-1h0m.4 1h0m.1-.5h0m.8 1.1h0m0-1h0m.2.9h0m.1-1h0m.1 0h0m.2-.1h0m0 1.2h0m.2-.2h0m.2.3h0m.1-1h0m.1.7h0m0-1.1h0m0 1.3h0m0 .1h0m.1-.6h0m0-.9h0m0 .1h0m.2 1.5h0m0-1h0m0 .9h0m0-.8h0m.1.7h0m0 .1h0m0-1h0m0-.8h0m.1.4h0m0 1.3h0m0-1.1h0m0 .7h0m.1-.9h0m0 .2h0m0 1.3h0m0-1.1h0m0 .3h0m0-1h0m0 .4h0m.1.2h0m.1 1h0m0 .2h0m0-1h0m0-.6h0m.2 1.5h0m0-1.1h0m.1.3h0m0-.4h0m.1.2h0m0-.3h0m0-.1h0m.1-.4h0m6.6.2h0m.1.3h0m.1-.4h0m0 .5h0m.1.2h0m.1-.4h0m0 .9h0m0-.8h0m0 1.2h0m0-1h0m0 1.2h0m0-1h0m.1.8h0m0-.4h0m.1-1h0m0 .2h0m0-.1h0m0 1.5h0m0-1.9h0m0 1.4h0m.1-1.2h0m0 .4h0m0 1.1h0m.1.1h0m0-1h0m0-.6h0m.1-.1h0m.1 0h0m0 .2h0m.1.3h0m0 1.3h0m0-1h0m0 .1h0m.1-.6h0m.1.3h0m.1.4h0m0 .4h0m.1-.5h0m0-1h0m0 1.5h0m.2-.2h0m.1-.5h0m.1.7h0m0 .1h0m0 .2h0m.2-.6h0m.3.4h0m.2-.6h0m.2-.5h0m.2 1.4h0m.1 0h0m.4 0h0m-14.2 1.3h0m.6.5h0m.1-1.1h0m.4 1.1h0m.1-1.2h0m.2.4h0m.1.8h0m.4.1h0m0-.1h0m.4-1.6h0m.1.5h0m0 1.1h0m.1-1.5h0m.1.2h0m0 1.5h0m.1-.2h0m.1-.3h0m0-.4h0m.2-.6h0m0-.1h0m0 .5h0m0 .9h0m.2.2h0m.1-.4h0m0 .2h0m0-1h0m0 .4h0m0 .3h0m.1-.4h0m0 .4h0m0 .4h0m.1-.1h0m0 .2h0m0-1.9h0m0 1.4h0m0 .1h0m.1.3h0m0 .1h0m.1-1.3h0m0 1.3h0m.1-1.5h0m7.3 1.5h0m0-1h0m0-.9h0m.1 1.8h0m0-1.1h0m0 1.2h0m0-1h0m0 .1h0m0-.7h0m0 1.3h0m.1-.9h0m0 .6h0m0-.9h0m.1 1.3h0m0 .2h0m0-1.8h0m.2.8h0m.1.7h0m0-1h0m0-.1h0m.1-.2h0m.2 1.4h0m0-1.2h0m.1 1.4h0m.1-1.7h0m.1.1h0m.1.3h0m0 .2h0m.3.8h0m0-1.6h0m.1.1h0m.2 1.4h0m.1-.6h0m0 .6h0m.1-1.2h0m.2 1.1h0m.3-1h0m.1 1.5h0m.1-1.8h0m0 .3h0m.1 1.3h0m2.3-.1h0m-16.8 1.9h0m.5.1h0m.2-1h0m.1.1h0m.8.2h0m.1-.6h0m.1 1h0m.2-.9h0m.2 1.4h0m.1-.7h0m.1-.6h0m0 1.2h0m0-1h0m.1-.3h0m.1.9h0m.2-.9h0m0 .6h0m.1.6h0m0 .2h0m0-1.8h0m.1 1.2h0m.1.2h0m0-.7h0m.2.9h0m0-1.3h0m.1.1h0m0 .4h0m0 .2h0m0-.7h0m.1 1.3h0m0-1.1h0m.1.3h0m0 .1h0m0-.6h0m.1.7h0m.1-.1h0m0-.8h0m0 .5h0m.1.9h0m0-.8h0m0 1.1h0m.1-1.6h0m0 1.3h0m0-1.1h0m0 1.2h0m.1-.5h0m0-.6h0m0 1.4h0m.1-1.8h0m0 .3h0m7.4.6h0m.1.2h0m.1.7h0m0-1.9h0m0 1.4h0m0-.9h0m0-.1h0m.1 1.4h0m0 .1h0m0-1.5h0m.1 1h0m0-.1h0m0 .3h0m0-.7h0m.1-.1h0m0-.7h0m0 .3h0m0 .3h0m.1.8h0m0 .3h0m.1-1.1h0m.1.3h0m0 .5h0m.1.1h0m.1-1.6h0m0 1.4h0m0-.1h0m0-.5h0m.1-.3h0m0 .4h0m0 .1h0m.1.8h0m.2-.9h0m.2-.8h0m.1 1.3h0m.1-.5h0m0-.7h0m0 .4h0m.1 1h0m.1-1.3h0m.2-.3h0m0 1.4h0m.1-1.2h0m0 .2h0m.3 1.5h0m.1-.2h0m.2-1.3h0m0 .2h0m.6.6h0m5.6-.4h0m19.1-.6h0m11.8 1.1h0m-50.7.9h0m.2.7h0m.4.3h0m.4-.3h0m.3.7h0m0-1.1h0m.1-.4h0m0 .5h0m0 .3h0m.1.3h0m.1-.7h0m.1.6h0m.1-.5h0m.1.7h0m.1 0h0m.2.3h0m.3 0h0m.1-.6h0m0 .8h0m0-.1h0m.1.2h0m.1-1.7h0m0 .1h0m0 .8h0m.1.3h0m0-.7h0m0-.1h0m.1 1h0m0 .2h0m0-.1h0m0-.7h0m.1.3h0m0 .6h0m0-1.1h0m0 .3h0m.1-1.1h0m0 1.4h0m.1-1.4h0m7.5 1.1h0m0-.1h0m0-.8h0m0 1.2h0m0-.8h0m0-.1h0m0 .4h0m.1 0h0m0 .4h0m0-.7h0m0 .1h0m.1-.6h0m0 1.6h0m.1-.3h0m0-.5h0m.1.6h0m.1-.9h0m.1.8h0m0 .5h0m.1-1.6h0m0 1.4h0m.1-.2h0m0 .1h0m0-.8h0m.3-.4h0m0 1.2h0m0-.9h0m0 .4h0m.2-.2h0m.1.7h0m0-1h0m0 .1h0m.2-.2h0m.4-.5h0m.1 1.1h0m0 .5h0m.1-1h0m.1 1h0m.1-1.2h0m0 1.1h0m.1-1.3h0m.3.2h0m.8.3h0m-14.8 2.8h0m.2.4h0m.8-.5h0m.4-1.4h0m0 .3h0m.1 1.2h0m.1-.4h0m.2-1.1h0m.4 1.9h0m.1-1.4h0m.1.7h0m0 .3h0m.1-1.3h0m.2 1.5h0m0-1h0m.2-.6h0m0-.1h0m0 1.3h0m0-.8h0m.1-.1h0m0 .4h0m0-.1h0m.2.5h0m0-.8h0m0 1.2h0m0 .2h0m0-.9h0m.1 1h0m0-1h0m.1-.5h0m0 .2h0m0 .4h0m.2.3h0m0 .3h0m.1-1.1h0m0 .5h0m7.4.9h0m0-1h0m.1-.8h0m0 .2h0m0 .6h0m.1-.9h0m.1.2h0m0 .3h0m0 1.2h0m0-1.1h0m0 1.3h0m.1-.8h0m0 .3h0m0 .3h0m0-1h0m0-.1h0m0 1.3h0m0-.1h0m0-.8h0m0-1h0m0 .9h0m0 .3h0m0-1h0m.1 1h0m0 .2h0m0-1.1h0m.1.3h0m0 1.3h0m0-.9h0m0 .3h0m.1.3h0m0-1.6h0m0 1.2h0m.2.6h0m.1-.2h0m.1-.4h0m.1.6h0m0-.2h0m.1-.7h0m.1 0h0m0 .5h0m0-.1h0m.2-.7h0m.1.7h0m0-.8h0m.1.8h0m0 .5h0m.2-.7h0m.1-1.1h0m.1.8h0m.1-.1h0m1 .5h0m.1-1.1h0m.6.6h0m.1.5h0m0 .4h0m-16.7 1.8h0m1-.5h0m1.2-.3h0m.1.6h0m.2.6h0m.4-.3h0m.1-.4h0m.2.2h0m0-.8h0m.2-.3h0m.1 1.3h0m0-1h0m0-.1h0m.2 1.1h0m.2-.4h0m.1-.6h0m0 1.1h0m0 .3h0m.1-1.4h0m.2.5h0m0-.8h0m.1 1.3h0m0-.7h0m.1.4h0m.1-1.2h0m0 .2h0m0 1.4h0m.1-.8h0m.1-.5h0m0 1.4h0m.1-.8h0m0-.9h0m0 1.2h0m0-.8h0m0 .9h0m.1-1.3h0m.1 1.5h0m0-1.4h0m.1.8h0m0-.1h0m0-.7h0m0 1.2h0m0 .2h0m0-1h0m0 .2h0m.2 1.1h0m7.1-.4h0m0 .3h0m0-.8h0m.1.1h0m0-.2h0m0 .1h0m.1.7h0m0-1h0m0 1.2h0m0-1h0m0 .2h0m0-.9h0m.1.5h0m0 1.1h0m0-.9h0m.1.6h0m0-.5h0m.1-.6h0m0 1.3h0m.1-1.4h0m0 .2h0m0 1.2h0m0-1.1h0m.1.9h0m.1-.3h0m0-.8h0m.1 1.1h0m0-.8h0m.1.3h0m0 .1h0m0-1h0m0 1.3h0m.5.3h0m.2-.1h0m.1-1.3h0m.1.2h0m.2.9h0m.2.4h0m0-1.4h0m.4-.2h0m.1.9h0m.5 0h0m.4.4h0m5.3-1.4h0m7.4.6h0m5.4 1.3h0m11.4-1.9h0m-43.3 3.3h0m.2.6h0m.2-1.4h0m0 1.2h0m.2-.8h0m0-.5h0m.1.1h0m0 .3h0m0 .1h0m.1-.1h0m0-.1h0m.1.8h0m.1-1h0m.4-.3h0m.2.2h0m0 .5h0m.1-.8h0m0 1.2h0m0 .2h0m0-.9h0m0 .4h0m.1-.1h0m0 .1h0m.1.5h0m0-.4h0m.1-.9h0m0 .3h0m0 1.3h0m0-1h0m.2.5h0m0 .4h0m.1-.6h0m0-1h0m0 1.2h0m0 .1h0m.1.2h0m0 .1h0m.1-1.7h0m0 1.2h0m0-1h0m.1 1.6h0m0-.7h0m0-.7h0m.1-.3h0m0 1.3h0m.1.5h0m0-1h0m0 .3h0m.1-.2h0m0 .4h0m0 .2h0m.2-.1h0m0 .1h0m0-.6h0m.1.3h0m6.5.5h0m.2-.2h0m0-.9h0m0 1.2h0m.1-.8h0m0-1h0m0 1.2h0m0 .1h0m0 .3h0m0-1.1h0m0 .4h0m0-1h0m.1.3h0m0-.1h0m0 .2h0m0 1.4h0m0-1.8h0m.1.6h0m.1.8h0m.1 0h0m0-1h0m0 1.2h0m0-1h0m0 .7h0m0 .2h0m.1-1.2h0m0 1.6h0m.1-.3h0m0 .3h0m0-1.1h0m0 .4h0m0-1h0m.1 1.4h0m0-1.3h0m0-.1h0m.2.9h0m.2-.1h0m0-.5h0m0-.1h0m.1.7h0m.1.8h0m.1-.3h0m.1-.3h0m0 .4h0m.1-1.6h0m.2 1.1h0m.1.1h0m.5-.1h0m0 .2h0m.1-1.3h0m.1 1.3h0m.3-.3h0m.3.3h0m0-1.2h0m.2 1.2h0m.2.1h0m.7 0h0m-15.8 1h0m2 .6h0m0-1h0m.4.1h0m0 1.2h0m.1-.4h0m.1-.5h0m0 .7h0m.2-.8h0m.3.4h0m.1.8h0m0-1h0m.2.4h0m.1.5h0m.1-.2h0m.1-.6h0m0 .6h0m.1 0h0m0-.6h0m.1.9h0m.1 0h0m.2-1.4h0m0 .1h0m0 1.3h0m.2-.1h0m0-.7h0m.1-.2h0m.1-.4h0m0 1.2h0m0-.1h0m0-1h0m0 1.6h0m.1-1.7h0m0 .4h0m0 .5h0m.1-.8h0m0 1.6h0m0-1.1h0m0-.6h0m.1 1.6h0m0-1h0m.1 1h0m0-.6h0m0-.1h0m0 .5h0m.1.3h0m0-.1h0m0-.4h0m5.8.3h0m.1-.5h0m0 .7h0m.1-1.4h0m0 1.2h0m.1-1h0m.2 1.2h0m0-.7h0m.1-.9h0m0 1.4h0m0-1.7h0m.1 1.4h0m.1.1h0m.1.4h0m0-1h0m0 .3h0m0-.9h0m.1 1.4h0m0-1.1h0m0 .6h0m.1.2h0m0-1.1h0m0 .2h0m0 1.2h0m0-1.5h0m.2 1.5h0m0-1.6h0m0 1.5h0m.1-.6h0m0-.4h0m.1-.1h0m.5.1h0m.3.3h0m.4.2h0m.1.5h0m.1-.7h0m.2-.4h0m.6.2h0m.1.9h0m26-.8h0m-39.7 1.8h0m1.1 1.1h0m.4-.6h0m.4-.9h0m.1 1h0m0-.1h0m.1.7h0m.1-.6h0m.2-.1h0m0-.1h0m0 .2h0m.1-.9h0m.2 1.1h0m.1-.6h0m0-.7h0m.1-.1h0m.1.6h0m.1-.1h0m.1.4h0m0-.9h0m.1 1.2h0m0-1h0m0 .4h0m.1-.6h0m.2 1.1h0m0-.1h0m.1-.3h0m0 .1h0m0 .6h0m0-.8h0m.1 1.2h0m0-1.1h0m0-.7h0m0 1.4h0m0 .2h0m.1.2h0m0-1.1h0m.1 1.1h0m0-1h0m0-.7h0m0 1.3h0m0-1h0m.1 1.5h0m0-.8h0m.1-.5h0m.1.5h0m0-.5h0m.1.5h0m0-.1h0m0 .8h0m0 .1h0m.1-.8h0m.1.5h0m4.7.3h0m0-.2h0m.1-.4h0m.2-.2h0m0 .5h0m.1.1h0m0-1.1h0m0 1.3h0m.1-1.4h0m0 1.1h0m0-.8h0m.1-.1h0m0-.7h0m.1.3h0m0 .1h0m0 1.3h0m0 .1h0m.1-.3h0m0-.1h0m0-.8h0m0-.5h0m.1.8h0m.1 0h0m0 .2h0m.1-.1h0m.2-.8h0m.3.7h0m0-.8h0m0 .3h0m.1.4h0m.1-.8h0m0 1.7h0m0-.7h0m.1 0h0m0-.5h0m0 .9h0m0 .2h0m0-.8h0m.1-.6h0m0 .2h0m.1.4h0m.1.7h0m0-1.1h0m.1.5h0m.2-.4h0m.1-.2h0m0 .4h0m0 .1h0m.1.7h0m0 .2h0m.1-1.4h0m.1 1.3h0m.1-.8h0m0 .7h0m.2-1.1h0m.8 1.5h0m.1-1.4h0m.1.6h0m.1.7h0m.1-.1h0m1.2-.4h0m11.2-.7h0m1.4.6h0m1.1-1.1h0m-27.7 2.3h0m.2.2h0m.6.7h0m.3-1.3h0m.1.7h0m.1-.7h0m.1 1.7h0m0-.9h0m.2.4h0m.1.1h0m.1-.2h0m0 .5h0m.3.1h0m0-1.1h0m.1.9h0m.2-1h0m0 1.1h0m.1-1.4h0m0 .2h0m0 .9h0m.1.1h0m0 .1h0m.1.2h0m0-.8h0m0-.8h0m.2.1h0m0 1.5h0m.2-.6h0m0 .3h0m0-1.2h0m.1.6h0m0-.8h0m.1.5h0m0 1.2h0m0-.5h0m.1-1.2h0m.1 1.4h0m0-.5h0m.1-.4h0m0-.1h0m.1 1.1h0m0-.9h0m0-.6h0m.1 1.4h0m0-.7h0m.1-.3h0m0 1.5h0m0-1h0m0 .1h0m.1.7h0m0 .2h0m0-.1h0m0-1.5h0m.1.3h0m.1.6h0m0 .2h0m0-.3h0m.1.2h0m.1.5h0m.1-.2h0m.1.3h0m0-.1h0m0-.1h0m2.8.1h0m.1.1h0m.2-.1h0m.1-.7h0m.1.8h0m0-1h0m.2.9h0m0-.7h0m0 .6h0m.1-.6h0m0-.9h0m0 .1h0m.1 1.1h0m0 .1h0m0-1h0m0 .1h0m0 1.3h0m.1-1.6h0m0 .3h0m.1-.4h0m0 .1h0m0 1.4h0m.1-.5h0m0-1h0m0 .5h0m0 .1h0m.1.4h0m0-1h0m0-.1h0m.1.2h0m0 .4h0m0 .4h0m.1.1h0m0-.5h0m.1.2h0m.1.8h0m0-.9h0m.1.3h0m.1-.7h0m.2 1.5h0m0-1.6h0m.1.5h0m0-.5h0m.1 1h0m0-.7h0m.1 0h0m0 .7h0m0-.6h0m.1-.6h0m0 1.4h0m0-.6h0m.3.2h0m.1-.1h0m0-.9h0m.1 1.2h0m.1.3h0m.1-1.2h0m.2 1.5h0m.1-.1h0m.2.1h0m.1-.5h0m0-1.1h0m.2.2h0m.8 1.2h0m.6-.7h0m.4-.7h0m1.3.8h0m2-.1h0m5.6-.1h0m1.9.1h0m2.4.4h0m-28.1.6h0m1.8.5h0m.8.2h0m1.1-.3h0m0 1.1h0m0 .2h0m.1-1h0m.1 0h0m.1-.6h0m.2 1.7h0m0-1h0m.2-.3h0m0 .4h0m0 .7h0m.1-.2h0m.1-.1h0m.1-.4h0m0-.7h0m0 1.2h0m.5-.5h0m0 .1h0m.1-.7h0m.1 1.5h0m0-1.8h0m.1 1.9h0m0-1.7h0m.1 1.3h0m0 .4h0m0-.8h0m.1-1h0m0 .2h0m0 1.5h0m.1-1.3h0m.1-.3h0m0 .3h0m0 .2h0m.1.3h0m0-1h0m.1.9h0m.1-.7h0m0 1.2h0m0-.9h0m.1.6h0m0-.9h0m0 1.2h0m.1-1.4h0m.1 1.5h0m.1-.6h0m0-.7h0m0 .4h0m0 .1h0m.1 0h0m0 .6h0m.1-1.2h0m0 1.4h0m0-1.1h0m0 .6h0m.1-.7h0m0 1.5h0m0-1.1h0m0 1.2h0m0-1h0m0 .3h0m.1.3h0m0-.1h0m0 .3h0m0-.8h0m.1.8h0m.1-1.1h0m0-.1h0m.1.7h0m0-.4h0m.1-.1h0m0 .7h0m0-.8h0m.1 0h0m0 1.2h0m0 .1h0m0-.4h0m.1-.6h0m.1.7h0m.1.2h0m0-.1h0m0-1h0m0 .5h0m.2-.1h0m0 .1h0m0-.6h0m.1-.1h0m0 .3h0m.1.8h0m0-1h0m.1 1h0m0-.8h0m.1.1h0m.1-.3h0m0 .2h0m.1-.4h0m0 1.3h0m0-.5h0m.1 0h0m0-.8h0m0 1.4h0m0-.9h0m.1.9h0m0-1.7h0m.1 1.6h0m0-1.1h0m0 1.2h0m0-1.7h0m0 1.2h0m.1-.1h0m.1-.1h0m0-1.1h0m0 .4h0m.1.5h0m0-.6h0m0 .1h0m.1.3h0m0 .6h0m.1-.3h0m.1.5h0m0 .3h0m.1-.5h0m0-.1h0m.1-.3h0m.1.6h0m0-1.1h0m.1 1.1h0m.1-1.3h0m0 1.6h0m.1-1.7h0m.1.5h0m0-.1h0m0 .2h0m0 .2h0m.1 0h0m.2.4h0m.1-.8h0m.2 1.2h0m.1-.2h0m0-.1h0m0 .4h0m.1 0h0m0-1.1h0m.2.4h0m.1.4h0m.2-.4h0m0-.8h0m0 .9h0m0-1h0m0 .8h0m.2.3h0m.1.1h0m.2-.2h0m0-.6h0m0-.1h0m.2 1.2h0m0-1.7h0m.2.5h0m.1-.1h0m.1.5h0m0 .8h0m.2-.5h0m0 .4h0m.2-.1h0m1.2-.1h0m.5-.4h0m2.2-.6h0m-13.7 3.2h0m.2-1h0m.1-.2h0m.1-.2h0m.1.1h0m.1 1.3h0m.1.1h0m.1-1.7h0m.2 1.4h0m.1-.9h0m.2 1.3h0m0-1.7h0m.1 1.3h0m0-1h0m0 1.3h0m.3-.6h0m.1-.6h0m.1-.4h0m0 1.2h0m0-1h0m0 1.2h0m0-.7h0m.3-.6h0m0 .7h0m.1.8h0m0-.5h0m0-.9h0m.1 1.6h0m0-1.1h0m0-.7h0m.1.6h0m0 1.1h0m.2-.3h0m0-.9h0m0-.4h0m.1.6h0m.1-.8h0m0 1.9h0m.1-1.8h0m0 .1h0m.1-.1h0m0 1.2h0m0 .1h0m0 .4h0m.1-1.2h0m.1.5h0m0-.7h0m0 .6h0m.1-.1h0m.2-.7h0m.1 1.4h0m.1-1.6h0m0 .1h0m.1.6h0m0 .6h0m0-.9h0m0 1.2h0m0-1h0m.1-.2h0m0 1.3h0m0-1.4h0m.1-.1h0m.1-.2h0m0 1.1h0m.1.7h0m0-1.8h0m0 1.2h0m0-.9h0m0 .1h0m.1.5h0m.1.1h0m0-.9h0m0 1.3h0m0-.9h0m0 .2h0m.1.3h0m0 .1h0m.1.4h0m0-.6h0m.1 0h0m.1.4h0m0 .2h0m0-.7h0m.1.5h0m0-.9h0m.1 1.5h0m0-1.8h0m.2.1h0m0 1.4h0m.1-1.1h0m0 .4h0m.1-.2h0m0 .1h0m0 .4h0m.1-1h0m0 1.4h0m.1-.5h0m.1.3h0m0-.9h0m0 1.3h0m.2-1.7h0m.1.1h0m.1-.2h0m0 1.3h0m0-.9h0m.1-.3h0m0 1.6h0m0-.7h0m.1.8h0m.1-1.3h0m0 .6h0m.1-.6h0m0 .2h0m0 1.2h0m0-1.9h0m.1.5h0m.1-.1h0m0-.1h0m.2.4h0m.1 0h0m.1 0h0m0 .1h0m.2-.8h0m.2.6h0m.1.9h0m0-1.1h0m.3 1.1h0m.2-.4h0m.1.2h0m0 .2h0m.2-.2h0m.1-.5h0m.2-.6h0m0 .2h0m.2.8h0m.1-.1h0m.3.5h0m.1-.8h0m.4-.7h0m.2 1.5h0m.1 0h0m.2-1h0m0 .5h0m.9-1h0m3.7 1.7h0m8.3-1.1h0m-26.6 2.6h0m1.4.2h0m.2-1.1h0m3 .1h0m0-.1h0m.5.9h0m.1-1h0m.2 1.2h0m.1-.5h0m0-.8h0m.2.9h0m0-.1h0m.1.4h0m0-.1h0m.1-1.3h0m0 1.3h0m.1-.6h0m0-.3h0m.1.3h0m0 .4h0m.2 0h0m.2.4h0m0-.2h0m.1-.9h0m.2.1h0m.1-.2h0m0 1.2h0m.1.1h0m.1-1.1h0m0 .4h0m.1.7h0m0-.9h0m.1-.7h0m.1.8h0m.1-.5h0m.3.2h0m.3-.4h0m.1.3h0m.1.2h0m.1 1.3h0m0-1.8h0m.1.7h0m.1-.6h0m0-.2h0m.1 1.2h0m.1-.7h0m.1.4h0m.1.3h0m.1.1h0m0-.9h0m.1-.1h0m.1-.2h0m0 1.7h0m.1-1.7h0m0-.1h0m0 .4h0m0 .3h0m.2-.7h0m.2 1.9h0m.1-.5h0m0-.6h0m.1.1h0m0 .2h0m0 .2h0m.1-.7h0m.1 1.3h0m.1-.9h0m0 .5h0m.1-.4h0m0 .4h0m.2-.5h0m0-.9h0m0 .1h0m.1 1.3h0m0 .1h0m.1-.4h0m0 .2h0m.2-.3h0m.3-1h0m0 1.2h0m.1-1.1h0m.1 1.7h0m.1-.3h0m.1-.9h0m.2.1h0m0 1.1h0m.1 0h0m0-1.8h0m0-.1h0m1.2.5h0m.3.8h0m.1-1.3h0m.5 1.1h0m.6-.9h0m13.1 1.2h0m1.5-1h0m-25.8 3.2h0m1.6-.6h0m0 .5h0m.3-.2h0m.1-1.1h0m.1.1h0m.2.5h0m.1-.1h0m.3.7h0m.4.2h0m.1-.3h0m.1-.2h0m.1-1h0m.2-.1h0m0 1.2h0m.1-.8h0m0 1.5h0m.1-1h0m.3.2h0m.1-.1h0m.2-.3h0m.2.4h0m0-1.1h0m.1.3h0m.3-.2h0m0 1.2h0m0-.8h0m.1.2h0m.2-.5h0m.1.2h0m.4.6h0m.2-.7h0m0 .5h0m.1-.4h0m.1.5h0m.1-.7h0m.1 0h0m.3 1.6h0m0-.8h0m0 .1h0m.1 0h0m.4-.9h0m.2.5h0m.1.4h0m.1-.6h0m.1 1.3h0m.1-.6h0m.3-.5h0m0-.1h0m.3.7h0m.5-1h0m.8-.3h0m.2 1.3h0m18.9.4h0m-28.9 1.3h0m1.5-.5h0m.1.4h0m.1-.4h0m.2.6h0m.1-.2h0m.4-.6h0m0 1.1h0m.2-.9h0m.1 1.1h0m.2-.9h0m.5.1h0m.1 1.1h0m.1-1.8h0m.1.8h0m.1-.5h0m0 .7h0m.1-.2h0m.1-.7h0m0 1.2h0m.1-.5h0m.3-.3h0m0-.1h0m0-.3h0m.7 1.2h0m.5-.1h0m0-.6h0m0 .4h0m.6 0h0m.2-1.1h0m.4.2h0m4 1h0m.7-1.2h0m1 .3h0m12.1 1.3h0m-24 1.2h0m.1.1h0m.3-.9h0m.3 1.9h0m.7-1.7h0m.1 1.1h0m.1.2h0m.1-1.2h0m0 .3h0m.2.3h0m.5-.6h0m1.3-.1h0m.1 1.6h0m.1-1h0m.2-.6h0m.1.5h0m.2.8h0m.2-1h0m0 .1h0m.5 0h0m.3.1h0m1.1-.2h0m1.1-.1h0m.2 1.2h0m1.1-.9h0m.4 0h0m.3.9h0m0-.2h0m16.5-.6h0m-25.1 2.8h0m.2-.3h0m.1-.8h0m1.8-.1h0m.1.8h0m0-.9h0m1-.1h0m.2.7h0m.4.1h0m.3.8h0m.1-1.6h0m0 .5h0m.2 1.2h0m.6-1.4h0m.4 1.2h0m.3 0h0m.2-.8h0m-8.1 2.9h0m1.5-1.6h0m2 .4h0m1-.4h0m1.4 1.7h0m2.1-.9h0m-3.9 2.3h0m.4-.7h0m.6.1h0m.2.2h0m.1.3h0m.6.5h0m.3-.4h0m-2.3 2.1h0m1.5-.1h0m21.8-1h0m-26.6 1.7h0" stroke="#000" stroke-opacity="0.5" stroke-width="0.6" stroke-linecap="square" fill="none"/>
<clipPath id="cf5"><rect x="286.4" y="42.95" width="23.9" height="79.2"/></clipPath><g clip-path="url(#cf5)">
<path d="M301.8 96.5l-.6.1-.7-.4-.6-1-.6-1.4-.8-4-.3-4.4.2-4.6.7-4.2.6-1.8.6-1.1.6-.6.6-.1.6.3.6.7.9 2.4.7 3.6.3 4.4-.2 4.6-.6 3.6-.8 2.5-.6.9-.6.5Z" fill="#000" fill-opacity="0.12"/>
<path d="M301.8 95.7l-.6.1-.6-.4-.6-.8-.6-1.4-.7-3.6-.3-4.2.2-4.6.7-3.6 1-2.6.6-.6.6-.2.6.4.6.8.8 2.2.6 3.4.3 3.8-.2 4-.5 3.6-.8 2.4-.5.8-.6.5Z" fill="#000" fill-opacity="0.12"/>
<path d="M301.8 95.1l-.6.1-.6-.4-1-2-.7-3.2-.3-4.2.2-4.2.6-3.6.9-2.3.6-.6.6-.2.9.7 1 2.4.6 3.2.2 3.6-.1 3.7-.5 3.3-.9 2.7-.9 1Z" fill="#000" fill-opacity="0.12"/>
<path d="M301.8 94.7l-.6.1-.6-.4-.9-1.8-.7-3.4-.3-3.8.2-4.2.6-3.4.8-2 .6-.7.6-.2.9.7.9 2.2.6 3 .2 3.6-.1 3.7-.5 3-.8 2.5-.9 1.1Z" fill="#000" fill-opacity="0.12"/>
<path d="M301.5 94.4l-.9-.4-1-2-.6-3-.2-3.9.2-3.7.6-3.2.8-2.1.5-.6.6-.2.9.8.9 2.3.5 3 .2 3.7-.2 3.3-.5 3.1-.9 2.2-.9.7Z" fill="#000" fill-opacity="0.12"/>
<path d="M301.5 94.1l-.6-.2-.3-.3-.9-1.9-.6-3.1-.2-3.5.2-3.8.6-3.1.9-2 .3-.3.6-.2.9.8.9 2.3.4 3 .2 3.3-.2 3.3-.5 3-.8 1.9-.9.8Z" fill="#000" fill-opacity="0.12"/>
<path d="M301.8 93.5l-.6.1-.3-.1-.9-1.5-.7-2.8-.3-3.6.1-3.5.6-3.3.9-2.1.3-.3.6-.2.9.8.6 1.4.5 2.8.3 3.2-.1 3-.4 2.8-.6 2.1-.9 1.2Z" fill="#000" fill-opacity="0.12"/>
<path d="M301.8 93.2l-.6.1-.3-.2-.9-1.5-.6-2.6-.3-3.4.1-3.2.5-3.1.9-2.3.3-.3.6-.2.9.9.6 1.5.5 2.5.2 3-.1 3-.4 2.8-.5 1.8-.9 1.2Z" fill="#000" fill-opacity="0.12"/>
<path d="M301.5 93l-.6-.2-.3-.4-.7-1.6-.5-2.5-.2-3.2.2-3.3.5-2.7.7-1.7.3-.3.6-.2.5.3.4.6.6 1.7.4 2.6.2 3-.2 3-.4 2.3-.6 1.7-.3.5-.6.4Z" fill="#000" fill-opacity="0.12"/>
<path d="M301.8 92.4l-.6.1-.3-.2-.7-1.2-.6-2.5-.3-3 .2-3.2.4-2.8.7-1.7.3-.3.6-.2.8.8.6 1.4.4 2.4.2 2.4-.1 2.8-.4 2.4-.6 2-.6.8Z" fill="#000" fill-opacity="0.12"/>
<path d="M301.8 92l-.6.1-.3-.2-.6-1-.6-2.3-.3-3 .1-3 .5-2.7.6-1.5.3-.4.6-.2.6.4.6 1.4.5 2.2.2 2.6-.1 2.4-.3 2.4-.6 2-.6.8Z" fill="#000" fill-opacity="0.12"/>
<path d="M301.5 91.7l-.7-.3-.7-1.6-.4-2.1-.2-2.6.2-2.7.4-2.2.5-1.4.3-.4.6-.2.6.5.6 1.5.4 2.2.2 2.7-.2 2.7-.4 2-.6 1.5-.6.4Z" fill="#000" fill-opacity="0.12"/>
<path d="M301.8 91.1l-.6.2-.3-.3-.6-1.1-.4-1.8-.2-2.5.1-2.6.4-2.4.7-1.7.6-.3.6.6.5 1.4.5 3.8-.3 4.2-.4 1.5-.6 1Z" fill="#000" fill-opacity="0.12"/>
<path d="M301.5 90.9l-.6-.3-.6-1.3-.4-1.9-.1-2.3.1-2.5.4-2 .6-1.3.6-.2.6.5.5 1.6.4 3.9-.4 3.9-.5 1.3-.6.6Z" fill="#000" fill-opacity="0.12"/>
<path d="M301.8 90.2l-.6.2-.6-.8-.5-1.8-.2-2.2.1-2.4.3-1.9.6-1.4.6-.3.6.6.3.8.5 3.4-.3 3.7-.3 1.1-.5 1Z" fill="#000" fill-opacity="0.12"/>
<path d="M301.5 89.9l-.6-.3-.4-1-.3-1.4-.2-2.1.5-3.7.4-1 .6-.4.6.7.3.9.4 3.5-.4 3.3-.3.8-.6.7Z" fill="#000" fill-opacity="0.12"/>
<path d="M301.5 89.4l-.3 0-.3-.3-.3-.7-.3-1.5-.1-1.8.1-2 .3-1.5.3-.7.3-.3.3 0 .5.6.3.9.3 3-.2 2.7-.3.8-.6.8Z" fill="#000" fill-opacity="0.12"/>
<path d="M301.5 88.9l-.3-.1-.3-.3-.3-.7-.3-2.7.3-2.7.3-.9.3-.3.3-.1.3.3.4 1 .3 2.7-.3 2.7-.4.8-.3.3Z" fill="#000" fill-opacity="0.12"/>
<path d="M301.5 88.2l-.3-.1-.3-.4-.4-2.6.4-2.7.3-.5.3-.1.3.3.3.9.2 2.1-.2 1.9-.3.9-.3.3Z" fill="#000" fill-opacity="0.12"/>
<path d="M301.5 87.5l-.3-.1-.3-.6-.2-1.7.2-1.9.3-.6.3-.1.4.7.2 1.9-.2 1.7-.4.7Z" fill="#000" fill-opacity="0.12"/>
</g>
<path d="M302.1 98.3l-.9.2-.6-.3-.9-1.1-.6-1.4-1-4.3-.4-5.4.2-5.8.8-5 .6-1.8.7-1.5.6-.7.9-.3.6.2.7.8.6 1.2.6 1.8.8 3.9.3 5-.1 4.8-.6 4.6-1.1 3.5-.6 1-.6.6Z" fill="none" stroke="#000" stroke-width="0.6"/>
<path d="M301.8 97.4l-.9-.1-.6-.5-.6-1-.6-1.4-.8-4-.3-5 .2-5.4.8-4.2 1.1-2.7.8-.9.6-.1.6.2.6.7 1.1 2.8.8 4.2.2 4.4-.1 4.6-.7 4.2-1 2.8-.6.9-.6.5Z" fill="none" stroke="#000" stroke-width="0.6"/>
<path d="M301.8 96.5l-.6.1-.7-.4-.6-1-.6-1.4-.8-4-.3-4.4.2-4.6.7-4.2.6-1.8.6-1.1.6-.6.6-.1.6.3.6.7.9 2.4.7 3.6.3 4.4-.2 4.6-.6 3.6-.8 2.5-.6.9-.6.5Z" fill="none" stroke="#000" stroke-width="0.6"/>
<path d="M301.8 95.7l-.6.1-.6-.4-.6-.8-.6-1.4-.7-3.6-.3-4.2.2-4.6.7-3.6 1-2.6.6-.6.6-.2.6.4.6.8.8 2.2.6 3.4.3 3.8-.2 4-.5 3.6-.8 2.4-.5.8-.6.5Z" fill="none" stroke="#000" stroke-width="0.6"/>
<path d="M301.8 95.1l-.6.1-.6-.4-1-2-.7-3.2-.3-4.2.2-4.2.6-3.6.9-2.3.6-.6.6-.2.9.7 1 2.4.6 3.2.2 3.6-.1 3.7-.5 3.3-.9 2.7-.9 1Z" fill="none" stroke="#000" stroke-width="0.6"/>
<path d="M301.8 94.7l-.6.1-.6-.4-.9-1.8-.7-3.4-.3-3.8.2-4.2.6-3.4.8-2 .6-.7.6-.2.9.7.9 2.2.6 3 .2 3.6-.1 3.7-.5 3-.8 2.5-.9 1.1Z" fill="none" stroke="#000" stroke-width="0.6"/>
<path d="M301.5 94.4l-.9-.4-1-2-.6-3-.2-3.9.2-3.7.6-3.2.8-2.1.5-.6.6-.2.9.8.9 2.3.5 3 .2 3.7-.2 3.3-.5 3.1-.9 2.2-.9.7Z" fill="none" stroke="#000" stroke-width="0.6"/>
<path d="M301.5 94.1l-.6-.2-.3-.3-.9-1.9-.6-3.1-.2-3.5.2-3.8.6-3.1.9-2 .3-.3.6-.2.9.8.9 2.3.4 3 .2 3.3-.2 3.3-.5 3-.8 1.9-.9.8Z" fill="none" stroke="#000" stroke-width="0.6"/>
<path d="M301.8 93.5l-.6.1-.3-.1-.9-1.5-.7-2.8-.3-3.6.1-3.5.6-3.3.9-2.1.3-.3.6-.2.9.8.6 1.4.5 2.8.3 3.2-.1 3-.4 2.8-.6 2.1-.9 1.2Z" fill="none" stroke="#000" stroke-width="0.6"/>
<path d="M301.8 93.2l-.6.1-.3-.2-.9-1.5-.6-2.6-.3-3.4.1-3.2.5-3.1.9-2.3.3-.3.6-.2.9.9.6 1.5.5 2.5.2 3-.1 3-.4 2.8-.5 1.8-.9 1.2Z" fill="none" stroke="#000" stroke-width="0.6"/>
<path d="M301.5 93l-.6-.2-.3-.4-.7-1.6-.5-2.5-.2-3.2.2-3.3.5-2.7.7-1.7.3-.3.6-.2.5.3.4.6.6 1.7.4 2.6.2 3-.2 3-.4 2.3-.6 1.7-.3.5-.6.4Z" fill="none" stroke="#000" stroke-width="0.6"/>
<path d="M301.8 92.4l-.6.1-.3-.2-.7-1.2-.6-2.5-.3-3 .2-3.2.4-2.8.7-1.7.3-.3.6-.2.8.8.6 1.4.4 2.4.2 2.4-.1 2.8-.4 2.4-.6 2-.6.8Z" fill="none" stroke="#000" stroke-width="0.6"/>
<path d="M301.8 92l-.6.1-.3-.2-.6-1-.6-2.3-.3-3 .1-3 .5-2.7.6-1.5.3-.4.6-.2.6.4.6 1.4.5 2.2.2 2.6-.1 2.4-.3 2.4-.6 2-.6.8Z" fill="none" stroke="#000" stroke-width="0.6"/>
<path d="M301.5 91.7l-.7-.3-.7-1.6-.4-2.1-.2-2.6.2-2.7.4-2.2.5-1.4.3-.4.6-.2.6.5.6 1.5.4 2.2.2 2.7-.2 2.7-.4 2-.6 1.5-.6.4Z" fill="none" stroke="#000" stroke-width="0.6"/>
<path d="M301.8 91.1l-.6.2-.3-.3-.6-1.1-.4-1.8-.2-2.5.1-2.6.4-2.4.7-1.7.6-.3.6.6.5 1.4.5 3.8-.3 4.2-.4 1.5-.6 1Z" fill="none" stroke="#000" stroke-width="0.6"/>
<path d="M301.5 90.9l-.6-.3-.6-1.3-.4-1.9-.1-2.3.1-2.5.4-2 .6-1.3.6-.2.6.5.5 1.6.4 3.9-.4 3.9-.5 1.3-.6.6Z" fill="none" stroke="#000" stroke-width="0.6"/>
<path d="M301.8 90.2l-.6.2-.6-.8-.5-1.8-.2-2.2.1-2.4.3-1.9.6-1.4.6-.3.6.6.3.8.5 3.4-.3 3.7-.3 1.1-.5 1Z" fill="none" stroke="#000" stroke-width="0.6"/>
<path d="M301.5 89.9l-.6-.3-.4-1-.3-1.4-.2-2.1.5-3.7.4-1 .6-.4.6.7.3.9.4 3.5-.4 3.3-.3.8-.6.7Z" fill="none" stroke="#000" stroke-width="0.6"/>
<path d="M301.5 89.4l-.3 0-.3-.3-.3-.7-.3-1.5-.1-1.8.1-2 .3-1.5.3-.7.3-.3.3 0 .5.6.3.9.3 3-.2 2.7-.3.8-.6.8Z" fill="none" stroke="#000" stroke-width="0.6"/>
<path d="M301.5 88.9l-.3-.1-.3-.3-.3-.7-.3-2.7.3-2.7.3-.9.3-.3.3-.1.3.3.4 1 .3 2.7-.3 2.7-.4.8-.3.3Z" fill="none" stroke="#000" stroke-width="0.6"/>
<path d="M301.5 88.2l-.3-.1-.3-.4-.4-2.6.4-2.7.3-.5.3-.1.3.3.3.9.2 2.1-.2 1.9-.3.9-.3.3Z" fill="none" stroke="#000" stroke-width="0.6"/>
<path d="M301.5 87.5l-.3-.1-.3-.6-.2-1.7.2-1.9.3-.6.3-.1.4.7.2 1.9-.2 1.7-.4.7Z" fill="none" stroke="#000" stroke-width="0.6"/>
<rect x="310.3" y="43.85" width="54.1" height="76.6" fill="none" stroke="#000" stroke-width="1.2"/>
<path d="M286.4 122.15V42.95H366V122.15H286.4" fill="none" stroke="#000" stroke-width="1.35"/>
<line x1="283" y1="46.6" x2="286.4" y2="46.6" stroke="#000" stroke-width="0.9"/>
<line x1="284.4" y1="49.6" x2="286.4" y2="49.6" stroke="#000" stroke-width="0.9"/>
<line x1="284.4" y1="52.6" x2="286.4" y2="52.6" stroke="#000" stroke-width="0.9"/>
<line x1="284.4" y1="55.6" x2="286.4" y2="55.6" stroke="#000" stroke-width="0.9"/>
<line x1="284.4" y1="58.6" x2="286.4" y2="58.6" stroke="#000" stroke-width="0.9"/>
<line x1="283" y1="61.6" x2="286.4" y2="61.6" stroke="#000" stroke-width="0.9"/>
<line x1="284.4" y1="64.6" x2="286.4" y2="64.6" stroke="#000" stroke-width="0.9"/>
<line x1="284.4" y1="67.6" x2="286.4" y2="67.6" stroke="#000" stroke-width="0.9"/>
<line x1="284.4" y1="70.6" x2="286.4" y2="70.6" stroke="#000" stroke-width="0.9"/>
<line x1="284.4" y1="73.6" x2="286.4" y2="73.6" stroke="#000" stroke-width="0.9"/>
<line x1="283" y1="76.6" x2="286.4" y2="76.6" stroke="#000" stroke-width="0.9"/>
<line x1="284.4" y1="79.6" x2="286.4" y2="79.6" stroke="#000" stroke-width="0.9"/>
<line x1="284.4" y1="82.6" x2="286.4" y2="82.6" stroke="#000" stroke-width="0.9"/>
<line x1="284.4" y1="85.6" x2="286.4" y2="85.6" stroke="#000" stroke-width="0.9"/>
<line x1="284.4" y1="88.6" x2="286.4" y2="88.6" stroke="#000" stroke-width="0.9"/>
<line x1="283" y1="91.6" x2="286.4" y2="91.6" stroke="#000" stroke-width="0.9"/>
<line x1="284.4" y1="94.6" x2="286.4" y2="94.6" stroke="#000" stroke-width="0.9"/>
<line x1="284.4" y1="97.6" x2="286.4" y2="97.6" stroke="#000" stroke-width="0.9"/>
<line x1="284.4" y1="100.6" x2="286.4" y2="100.6" stroke="#000" stroke-width="0.9"/>
<line x1="284.4" y1="103.6" x2="286.4" y2="103.6" stroke="#000" stroke-width="0.9"/>
<line x1="283" y1="106.6" x2="286.4" y2="106.6" stroke="#000" stroke-width="0.9"/>
<line x1="284.4" y1="109.6" x2="286.4" y2="109.6" stroke="#000" stroke-width="0.9"/>
<line x1="284.4" y1="112.6" x2="286.4" y2="112.6" stroke="#000" stroke-width="0.9"/>
<line x1="284.4" y1="115.6" x2="286.4" y2="115.6" stroke="#000" stroke-width="0.9"/>
<line x1="284.4" y1="118.6" x2="286.4" y2="118.6" stroke="#000" stroke-width="0.9"/>
<line x1="283" y1="121.6" x2="286.4" y2="121.6" stroke="#000" stroke-width="0.9"/>
<path d="M288.9 122.15v2.2M290.3 122.15v2.2M291.7 122.15v2.2M293.1 122.15v2.2M294.5 122.15v2.2M295.9 122.15v2.2M297.3 122.15v3.2M298.7 122.15v2.2M300.1 122.15v2.2M301.5 122.15v2.2M302.9 122.15v2.2M304.3 122.15v2.2M305.7 122.15v2.2M310.4 122.15v2.2M314.4 122.15v2.2M317.4 122.15v2.2M319.4 122.15v2.2M320.9 122.15v2.2M321.9 122.15v2.2M322.9 122.15v2.2M323.7 122.15v2.2M324.4 122.15v3.2M330.4 122.15v2.2M334.4 122.15v2.2M337.4 122.15v2.2M339.4 122.15v2.2M340.9 122.15v2.2M341.9 122.15v2.2M342.9 122.15v2.2M343.7 122.15v2.2M344.4 122.15v3.2M350.4 122.15v2.2M354.4 122.15v2.2M357.4 122.15v2.2M359.4 122.15v2.2M360.9 122.15v2.2M361.9 122.15v2.2M362.9 122.15v2.2M363.7 122.15v2.2M364.4 122.15v3.2" stroke="#000" stroke-width="0.8"/>
<text x="340.35" y="51.8" font-size="8" text-anchor="middle">0.11</text>
<text x="338.05" y="116.95" font-size="8" text-anchor="middle" textLength="24.6" lengthAdjust="spacingAndGlyphs">Vehicle</text>
<text transform="translate(277.5,82.35) rotate(-90)" x="0" y="0" font-size="9.8" text-anchor="middle" textLength="18.9" lengthAdjust="spacingAndGlyphs" class="c">FSC-A</text>
<text x="293.3" y="137.5" font-size="9.2" textLength="21.1" lengthAdjust="spacingAndGlyphs" class="c">TNF-&#945;</text>
<text x="322.7" y="137.5" font-size="9.2" textLength="35.8" lengthAdjust="spacingAndGlyphs" class="c">Pacific Blue</text>
<path d="M409.5 45h0m1.5.5h0m49.6.4h0m-52.1 1h0m3.2 1h0m2.8-.2h0m.2-.5h0m1.6-.2h0m.8-.4h0m4.7.2h0m13.2.6h0m-24.3 1.2h0m.7 0h0m1.3-.3h0m.7.4h0m.4.6h0m1.1.1h0m.4-.6h0m.1.6h0m.7-1h0m.9.3h0m22.3.3h0m8-.8h0m16.2 1.5h0m4.2-.7h0m-58.1 1.9h0m1.3-.8h0m.4.9h0m1.1-.3h0m.3 0h0m1.2.8h0m.4-.2h0m.8-1.1h0m.5-.2h0m.5 1.3h0m0-1.1h0m0 .4h0m1.4.7h0m22 0h0m2.3.1h0m10.1-.4h0m-43.5 2.7h0m2.5-1.6h0m.4 0h0m.9 1.3h0m.2-1.3h0m.9 1.3h0m1 .1h0m.5-1.3h0m.1 1.6h0m.7-.6h0m0 .2h0m.3-.6h0m0-.5h0m.1.5h0m.2-.2h0m.8-.6h0m.2 1.2h0m.2-1.2h0m.2.8h0m2.8.1h0m1.9-.7h0m20.7 1.4h0m-33.1 1.2h0m.2.8h0m.9.1h0m.6-.3h0m0 .5h0m.1-.5h0m0-1.3h0m.5.5h0m1.5 1h0m.3-1.6h0m.1 1.4h0m.3.1h0m.2-.7h0m.5 1h0m.4-1.1h0m.4 1h0m.1-.3h0m1.2.5h0m.5-.6h0m1.8-.2h0m.3-.3h0m1 .8h0m6.2-.9h0m.4.8h0m.9-1.1h0m3.2 1.3h0m12.1-.3h0m2.4-1.4h0m-36.1 2.9h0m.8-.1h0m.3 1h0m.6-1.4h0m.2.2h0m.1 1.3h0m.2-.4h0m.6.2h0m.1-.3h0m.2-.3h0m.3-.9h0m0 .3h0m.1.6h0m1 .5h0m.2-.9h0m.7.8h0m.2-.2h0m.1-.2h0m1.4-.6h0m.2.4h0m0 .3h0m.1-.9h0m.1.7h0m1.8.5h0m2.5.4h0m.9-1.6h0m16.8.6h0m.1.5h0m-32.4 1.7h0m.3-.2h0m1.3.2h0m.4-.6h0m1 .6h0m.2-1.1h0m1.1.9h0m.1.6h0m.4-1.3h0m.2.9h0m.1.1h0m0-.8h0m0 .1h0m.3 1.2h0m.1-1.5h0m.1 1.3h0m.3.4h0m0-1.3h0m.1 1.3h0m.1 0h0m0-1.9h0m.1 1.5h0m.2-.2h0m.2-.1h0m0-.3h0m.3-.9h0m0 .6h0m.1-.1h0m.6-.2h0m.1 1.6h0m.3-1.9h0m.2 1h0m0-.6h0m.1 1.4h0m.1.1h0m.7-1.9h0m.5.9h0m.3-.8h0m.1 1.7h0m.4-.2h0m.3-1.4h0m.4.2h0m0 .4h0m.1-.1h0m.2 1h0m.1-1.7h0m.9.9h0m1.7 0h0m.2.9h0m.6-.2h0m.8-.8h0m7.5.7h0m8.6.2h0m3.2-1h0m8.9 1.2h0m-46.6.5h0m4 .3h0m.7.8h0m1.1-.2h0m.9-.4h0m0-.7h0m.3.4h0m.1 0h0m0 .5h0m.1-.3h0m.6 1.1h0m0-1.9h0m.1 0h0m0 1.2h0m.5-.9h0m.1-.3h0m0 1.1h0m.1-.1h0m.1.3h0m.1-.4h0m.1-.1h0m.2 1.1h0m.1 0h0m.1 0h0m.1-.4h0m.1-.7h0m0-.8h0m.2.7h0m.1.4h0m.2.8h0m.2-.4h0m0-.8h0m.1.8h0m1.2-1.4h0m.1 1.6h0m0 .2h0m0-1h0m.3.6h0m0-.8h0m.4-.7h0m.1.4h0m0 1.3h0m.1-.5h0m.9.6h0m.1-.4h0m.2-1.4h0m.1.4h0m.2.3h0m.1 1.2h0m.1-1.8h0m.8 1.8h0m0-.7h0m1.2-.9h0m.9 1h0m.6-1h0m27.8.7h0m3.3.8h0m1.6-.9h0m6.9-.5h0m-57.2 1.8h0m1.6.8h0m1.3-.1h0m1.6-.5h0m.2.7h0m0-.6h0m.4.7h0m.4-.4h0m.2-.3h0m0-.5h0m.2.2h0m.2 1.4h0m.1-.8h0m0-.7h0m.1 1h0m.1-1h0m.7 1.5h0m.2.3h0m.1-.2h0m.1-.5h0m0-.8h0m.1-.1h0m.2 1.6h0m.1 0h0m.1 0h0m0-.8h0m0-.8h0m0 1.2h0m.2-1.5h0m.1.2h0m.5 1.3h0m.1-.4h0m0 .7h0m0 .1h0m.1-1.2h0m0-.6h0m.1.9h0m0-.8h0m.4 0h0m.1-.2h0m.1 1.8h0m.2-.4h0m.1-1.4h0m.2 1.5h0m.4-.2h0m.5-1.1h0m.1 1.2h0m.3-1.2h0m.4 1.7h0m.1-1.6h0m.1 1.2h0m0-.7h0m0 .1h0m.3.4h0m0-1.1h0m.1.5h0m0 .7h0m.1.4h0m0-1h0m1.4-.1h0m.7.2h0m0 .7h0m.2-.9h0m0 .2h0m.6-.6h0m9.6 1.3h0m3-.4h0m12.8-.7h0m4.8.7h0m-42.6 2.4h0m.5.1h0m.2-.6h0m0-.8h0m.1.3h0m.1.4h0m.4.8h0m0-1h0m.2-.4h0m.1 1.2h0m.1-1h0m.1 0h0m.2 0h0m.2.3h0m.2.4h0m.1.2h0m.1.2h0m.1-.9h0m.1-.6h0m0 .3h0m.2.9h0m.1-1.2h0m.1.3h0m.1.4h0m0-.6h0m.1 1.6h0m0-1.8h0m.1.2h0m0-.1h0m0 .6h0m0 .2h0m.1-1h0m.1.1h0m.1 1.1h0m.1.2h0m.3-.2h0m.2-.6h0m.1.2h0m.1.8h0m.2-1h0m0-.3h0m.1-.3h0m0 1.6h0m0 .2h0m.1-1.6h0m.1.5h0m.2.9h0m.1-.8h0m.2-.2h0m0-.5h0m.1.9h0m.1-.1h0m.1.6h0m0-1h0m0 1.3h0m0-1.7h0m.1.6h0m0 .2h0m.1 0h0m0 .6h0m.1-.3h0m0-1.1h0m.2-.1h0m0 .4h0m.2 1.3h0m.1-.8h0m.1.4h0m.5-.5h0m.1.5h0m0 .3h0m0-.5h0m.1.4h0m0-1h0m.1.6h0m.1-.8h0m0-.3h0m0 .2h0m.1-.1h0m.2.6h0m.1.2h0m0 .9h0m0-1.6h0m0 1.1h0m0 .2h0m.1-1.4h0m0 .2h0m.1 1.3h0m.1-.9h0m0 .5h0m.2-.5h0m.1.2h0m.1.6h0m.1-.1h0m.4-1.1h0m0 1.6h0m0-.1h0m.1-1.3h0m.3.3h0m.8.2h0m0 .3h0m.3-.1h0m.1-.7h0m.2 1.2h0m0-.6h0m.2.3h0m.5-.1h0m.6-.5h0m.1 1h0m.1-1.5h0m.7 1.3h0m10.5-1.3h0m1.4.5h0m2.5.8h0m13.6-.3h0m2.3-.3h0m4.6-.4h0m9 .6h0m-60.1 1.1h0m.4-.3h0m3.5.3h0m.6.1h0m.1-.3h0m0 .6h0m.3-.7h0m.1.6h0m0 .3h0m.4 0h0m.1.9h0m.7-.4h0m.1-.3h0m.1-.6h0m.1.7h0m0-.8h0m.1 1.2h0m.1-1.1h0m.1.1h0m.1 1.2h0m0-1.6h0m0-.1h0m.2 1.8h0m.1-.1h0m0-1.2h0m.1 1h0m0-.1h0m0-.7h0m0 .5h0m0-.1h0m.1-1h0m0 1.2h0m.1-.1h0m0-1h0m.1.5h0m.4-.7h0m2.9-.1h0m0 .2h0m.6.9h0m.1.1h0m.1-.9h0m0 1.4h0m0-.7h0m.3-.6h0m0 1.3h0m0-.8h0m.1-.7h0m0-.1h0m.2.8h0m0 .5h0m.1-.7h0m.1.1h0m0-.7h0m.2-.1h0m0 .2h0m0 1.3h0m0-.1h0m.1-1.3h0m0 .9h0m.2-.5h0m.2-.1h0m0 1.2h0m0 .3h0m.1-1h0m0 .2h0m.2 0h0m0-1h0m.2.1h0m.6-.2h0m.1.3h0m.2-.2h0m.1 1.1h0m.6-.6h0m.1.7h0m.2.1h0m.5.4h0m1.3-.6h0m.4-.5h0m10.6-.4h0m11.4 0h0m.2.7h0m-37.6 1.8h0m.2 1.1h0m.1-.9h0m1-.8h0m.1 1.3h0m.2-1.3h0m.1 1.5h0m.3-1.4h0m.1.2h0m.1-.4h0m.1 1.5h0m0-1h0m.2 1.3h0m.2-1.1h0m.1-.8h0m.2 1.3h0m0-1h0m.1.7h0m.1-.9h0m.3 1.4h0m.2-.5h0m.1-.6h0m.2-.3h0m.1 1.4h0m.2-1.2h0m.1 0h0m5.6.4h0m.1.3h0m.2-.5h0m0 1.2h0m.2-.3h0m.1-.7h0m.1-.6h0m.1 1.3h0m0-.1h0m0 .2h0m0-.8h0m.1.9h0m0 .2h0m0-1.5h0m.6 1.5h0m.1.1h0m.1-.5h0m.4-.5h0m.3-.7h0m0 1.2h0m1 .5h0m.8-.6h0m.1-1.3h0m1 0h0m.3 1.6h0m.6-.3h0m5.5-.8h0m2 0h0m.5 1.4h0m2.7-1.7h0m4.4.1h0m10.1.6h0m4.7.1h0m3.4.3h0m14.5.5h0m4.1-.8h0m-70.9 2.5h0m1.6-.4h0m1.8.5h0m.7-.2h0m0-1.1h0m.1 1.6h0m.1-1.2h0m.1.6h0m.1-.7h0m.1 1h0m.3-.7h0m.1.1h0m.1-.7h0m.2 1.5h0m.3.1h0m.1-1.8h0m0 1.4h0m.2-1.4h0m.2 1.6h0m0-1.1h0m.1-.2h0m.1-.2h0m.1-.1h0m0 .3h0m.2-.3h0m.1.1h0m6.8-.1h0m0 .2h0m.1.3h0m0-.1h0m0 1.4h0m0-1.5h0m.1-.4h0m.1 1.1h0m0 .2h0m.1 0h0m.3.3h0m.1-1h0m.3-.1h0m.1.1h0m0-.1h0m.1 1h0m0-.6h0m.1-.3h0m0-.2h0m.1.3h0m.1.8h0m.1.1h0m0-1.6h0m.1 1.3h0m.1-1.2h0m0 .5h0m.1.3h0m.1 1h0m.6-.7h0m.9-.6h0m4 .7h0m6.6-.8h0m1.6 0h0m8.3.1h0m12.7-.5h0m12.1.3h0m.4.3h0m3.7.8h0m-63.9 1.8h0m.4-.4h0m.4.8h0m.4-.1h0m.3-.8h0m.3.3h0m.3-1.1h0m.1.1h0m0-.1h0m.1 0h0m0 1.5h0m.4-.4h0m0 .3h0m.1-1.1h0m.2-.3h0m.2 1.3h0m0 .3h0m0-1h0m.1.9h0m7.8-1.4h0m0 .2h0m.2.7h0m0-1h0m.1 1.2h0m.1.5h0m0 .2h0m.1-.1h0m.1-1.1h0m.1.7h0m0 .4h0m0-1.1h0m0 .5h0m.1 0h0m.1-.3h0m.1.3h0m0 .1h0m.1-.2h0m.1.3h0m.2.1h0m.2-.1h0m0-.6h0m.9-.2h0m.2 1.1h0m.1-1.4h0m.5.5h0m1.8.1h0m6-.9h0m1.7 1.9h0m.4 0h0m.2-1.5h0m6.6.7h0m.7-.6h0m1.6 1h0m3.2-.2h0m6.2-1.2h0m.5.1h0m1.4.8h0m9.9.5h0m.6-.2h0m1.1.3h0m.4.1h0m-56.8 2h0m.3-.5h0m.5.3h0m.4.3h0m.2-1.2h0m.1-.6h0m.6 1.6h0m.1-.4h0m.1.2h0m.2-.6h0m0 .1h0m.2-.9h0m0 .2h0m0 1.6h0m.1-.3h0m0-.8h0m0-.1h0m.2.4h0m.2-.6h0m0-.4h0m8.4.6h0m.1-.1h0m0-.3h0m.1 1h0m0-.1h0m.3.1h0m.4-1h0m.1.1h0m0 1.3h0m0-.7h0m.1.7h0m.2-.3h0m.1-.6h0m.2.5h0m.2 0h0m.2.5h0m2.4-.9h0m1.7 1.1h0m5.1-.7h0m3-.4h0m5.7-.1h0m2.1-.3h0m.3 1.5h0m.6-1.3h0m4 .7h0m5.4.1h0m.1-.9h0m3.1 1.2h0m.7-1.7h0m-51.2 2h0m1.2.2h0m1.6.4h0m.7.8h0m.6-.1h0m.4.1h0m.1-.8h0m.2.7h0m0 .2h0m0-1.2h0m.2.1h0m.4.9h0m.2-.5h0m0-.8h0m0 1.8h0m.1-.1h0m.2-.1h0m.2-.4h0m0-1h0m0 .2h0m0 1.4h0m.1-.8h0m0-.1h0m9.3.3h0m.1 0h0m.1-1h0m.1-.2h0m0 1.7h0m.1-1.5h0m0 1.6h0m.3.1h0m.3-.8h0m.3-1h0m.4.6h0m.3.5h0m.1.1h0m.1-1.3h0m.1.8h0m.1-.4h0m.6-.4h0m.1 1.7h0m.8-1.2h0m5.4 1h0m1-.5h0m.4.4h0m.5.5h0m2.8-1.4h0m.8-.3h0m.8.2h0m2.9.5h0m3.6.8h0m2.5-.4h0m1.1.6h0m2.4-1.8h0m.2 1.6h0m2.2-.3h0m9.5-.5h0m.1-.4h0m11.9-.4h0m-68.1 2.3h0m3.4 1.1h0m.7 0h0m.1-.5h0m1 .6h0m.2.2h0m.3-1.8h0m0 1.4h0m.2.4h0m.1-.4h0m.1.5h0m.1-.8h0m0-.8h0m0 1.6h0m.1-.5h0m0 .2h0m.1-.4h0m0-.2h0m9.8 0h0m.3.2h0m0 .7h0m0-1.1h0m0 .2h0m.1-.8h0m.1-.1h0m.1.5h0m.2-.1h0m.2.4h0m.3-.5h0m.2 0h0m.1.3h0m.1.3h0m.3.7h0m.3-1.1h0m.5.1h0m1.7.6h0m.4.2h0m.1-.1h0m4.3-1.1h0m6 0h0m.4.6h0m.2-.1h0m.2 0h0m.2-.3h0m1.2.5h0m.3-1h0m.3 1.2h0m.4-.4h0m.3 1.1h0m.1-1.4h0m1.6.9h0m.1.5h0m.9-.9h0m.2.7h0m1.1-.8h0m1.3.2h0m1.4-.6h0m.6.9h0m.2-.2h0m3.9.5h0m.7-.1h0m.7-1.4h0m.4-.1h0m1.6.7h0m2.2.8h0m6.1-1.4h0m-53.8 2.7h0m.1.7h0m.3 0h0m.2.3h0m.1 0h0m0-1.1h0m.1 1h0m.2-.9h0m.2 0h0m0-.4h0m.1-.4h0m.4.3h0m0 .9h0m.1.6h0m0-1.4h0m.2 1h0m0 .3h0m0 .1h0m.1-1.6h0m10 .7h0m0 .3h0m.1-.3h0m.2-.9h0m.1.6h0m.1.9h0m.1-.1h0m0 .1h0m0-1.3h0m.1.9h0m.1-.5h0m0 .2h0m.2-.8h0m0 .2h0m.3.6h0m0-.1h0m.1-.6h0m0 1.4h0m0-1h0m.1-.1h0m.3-.2h0m.2 1.4h0m0-.6h0m1 .2h0m.7-.4h0m3.2-.7h0m.3.2h0m.3.9h0m1.8-.8h0m.8.7h0m.1.3h0m.5-.9h0m0 .9h0m3.4-1.1h0m.2.6h0m2.2-.2h0m.7.2h0m1.4.7h0m1.1-.8h0m1.6.3h0m.1-.1h0m.7-1h0m1.3.8h0m0 .6h0m1.1-1.5h0m.1.4h0m2.2-.3h0m.4.4h0m1.2.5h0m.8.7h0m2.2-.2h0m1.9-.5h0m2.1-.4h0m.2.9h0m3.1-1.3h0m1.1 1.2h0m5.4.2h0m-58.9.9h0m.3-.3h0m1.4 0h0m.1.2h0m.4.6h0m0-.7h0m.3 1.4h0m.2-1.5h0m.2 1.1h0m.1.3h0m0-1h0m.1 1.2h0m.1-.9h0m0-.6h0m.1.3h0m.1.8h0m0 .1h0m0-.8h0m0 .3h0m.1.7h0m.1-.4h0m10.2-.4h0m0-.7h0m0-.1h0m.1.4h0m.3-.3h0m.2 0h0m0 .9h0m0-1h0m0 1.7h0m.1-.8h0m.1.6h0m0 .2h0m0-.8h0m.1.9h0m.1-.7h0m.1-.7h0m.2 1h0m.7-.1h0m.1.3h0m1.1-.6h0m.2.2h0m.3.2h0m.6.4h0m.1 0h0m.1-1.6h0m0 .8h0m.7.1h0m0-1h0m.3 1.7h0m.2-.1h0m.9 0h0m.5-1h0m.2-.8h0m1.5 1.6h0m.8.1h0m.3-1.7h0m.4 1.7h0m.6.1h0m1.1-.9h0m0-.3h0m.7 1.2h0m.5-1.3h0m0 .6h0m.4.8h0m.4-1h0m.3.5h0m1.1-.2h0m.9-.6h0m0 .2h0m0 .4h0m.3-.5h0m.3.9h0m1.2-.6h0m0 .2h0m.2 0h0m.8-.9h0m1 1.3h0m.8-.1h0m.3-1.1h0m.1.3h0m0 .6h0m.1-.1h0m.5 0h0m.3-1.2h0m0 .9h0m.1.6h0m1.1.1h0m.1.3h0m.7-1.2h0m1.2 1h0m.8.1h0m0-.8h0m1.2 0h0m1.1-.5h0m.1 1.2h0m1.9-.2h0m.2-1.1h0m.1.7h0m1.1.6h0m3.5.2h0m3.4-1.6h0m-51.6 3.2h0m.5.1h0m0-.6h0m.4-.5h0m.7.3h0m.1.1h0m0 .3h0m0 .4h0m.1-.7h0m.1-.7h0m0 1.7h0m.1-1.8h0m0 .9h0m.1.2h0m.3.3h0m0 .3h0m.1-.6h0m10.4-.3h0m0 .5h0m0-.9h0m.1.5h0m0 .3h0m0-1.1h0m0 .6h0m.1.4h0m0 .2h0m0-.9h0m.1.8h0m0-.4h0m.1 1h0m.1-1.5h0m.1 1.5h0m0-1h0m.3.4h0m.2-.8h0m0 .5h0m.1.6h0m.1-.8h0m.3.5h0m.2-.7h0m.3.5h0m.1-.8h0m.3 1.1h0m0 .4h0m.2-1.4h0m.1 1.2h0m.1-.3h0m.1-.4h0m.4-.1h0m.5.4h0m.1-.6h0m0 1.2h0m.3-.5h0m.4-.1h0m.6-.6h0m.4-.1h0m.3 1.4h0m.8-1.6h0m.4.3h0m.5-.2h0m.5 1h0m.6-.7h0m0 .1h0m.1 0h0m.8.1h0m.1.9h0m.2.1h0m.2-1.3h0m.1.2h0m.4.6h0m.3-.4h0m.3-.4h0m.7.5h0m.7-1h0m.2 1h0m.1-.6h0m.5 1.2h0m.4-1.2h0m.3 1.4h0m.5-.8h0m.4.3h0m.8-.2h0m.2 0h0m.8 0h0m0-.4h0m1.8.3h0m.1.6h0m0 .2h0m.1-1.9h0m.3 1.4h0m.2-1h0m.2 1.4h0m.3-.3h0m0-1.1h0m.1-.4h0m0 1.4h0m.1-.6h0m.3 1.1h0m.5-1.9h0m.1 1.2h0m.1-.8h0m.3.2h0m.3 0h0m.1.8h0m.5-.2h0m.5-.8h0m.3.3h0m.1.1h0m.7-.2h0m.8.5h0m.4-1.1h0m0 1.1h0m.5-.5h0m.6 1.1h0m.1-1h0m1.2.1h0m.5.3h0m.5-.3h0m.1.8h0m1.2-.2h0m.4.2h0m.2.3h0m1.7-.2h0m.3-.8h0m1 1h0m1.8-1.1h0m-50.4 1.9h0m1.1-.4h0m.4-.2h0m1.1.9h0m.4.8h0m.2-.9h0m.1.9h0m0-.9h0m0-.8h0m.3.9h0m0 .6h0m.3-.4h0m.3.7h0m.2 0h0m0-1.9h0m.1 1.7h0m0-1h0m0-.6h0m0 .3h0m.1-.1h0m.2 1h0m0-1h0m0 .9h0m10.6.2h0m0-1h0m.1 0h0m.1.6h0m0-1h0m0 1.3h0m.1-.8h0m0 .4h0m0 .2h0m.3.1h0m.1-.8h0m0-.4h0m.1.3h0m.1.1h0m.1 1.2h0m.1-1.1h0m.1.2h0m.2-.7h0m.1.4h0m.1-.1h0m.2.7h0m.1-.1h0m.1.6h0m1-.4h0m0-.8h0m.3.8h0m.1.2h0m.4-.1h0m.4-.7h0m0-.1h0m.1 1.2h0m.1.3h0m.4-.7h0m0 .2h0m0 .4h0m.6.1h0m.1-.3h0m.1-.1h0m.2.4h0m.1-.7h0m.2-.3h0m.1.5h0m.2-.9h0m.3.8h0m.2-.8h0m0 .4h0m0 .2h0m.2-.5h0m.1.2h0m.2 0h0m.3.2h0m.5-.2h0m.3 1h0m.1-1.3h0m.2 1.2h0m0 .2h0m.1-1.7h0m.1.8h0m.1.6h0m.2-1h0m0 1.3h0m.1-.1h0m.2-1.2h0m.3.1h0m.3-.1h0m0 1.2h0m.4 0h0m.3-.9h0m.1-.3h0m.1-.6h0m.1 1.6h0m.2-1h0m.2-.3h0m.7.5h0m.2.8h0m.1-.2h0m.1-1.4h0m.2 1h0m.3.5h0m.1.4h0m.3-.5h0m.1-1h0m.3-.2h0m.2 0h0m.4.2h0m.4.1h0m.1 1h0m.1-1h0m.2.8h0m.2-.6h0m.4 1h0m.5-.7h0m.3.9h0m.1-.1h0m0 .1h0m.5-.8h0m0 .6h0m.2-1.2h0m.2-.1h0m.1.5h0m.1-.7h0m0 .5h0m.1-.5h0m.2.5h0m.2.2h0m0 .2h0m.4.7h0m.1-1.2h0m.1-.1h0m.1-.2h0m.1 1.5h0m.3-.2h0m.7-1.3h0m.1 1.3h0m.1-1h0m0 .5h0m.4-1.1h0m.3 1.9h0m.8-1.9h0m.2 1.8h0m.3-1.5h0m0 .3h0m.2.9h0m.8-.4h0m0 .1h0m.3.7h0m.1 0h0m.3-1.8h0m.6.8h0m.1.3h0m.1-.3h0m0 .3h0m1.1-.4h0m.2-.2h0m.3.9h0m.7-1.5h0m1.2.6h0m.2-.2h0m2.5.4h0m.1.2h0m.3.3h0m.2-.2h0m3.1 0h0m.5-.6h0m.3.7h0m-49.8 1.7h0m.7.4h0m.1-.8h0m1.1.5h0m.5.7h0m.1 0h0m.1-.3h0m0-.7h0m.1.6h0m.1-.1h0m.1-1h0m.2.6h0m.1.1h0m0-.4h0m.1 1.3h0m0-1.5h0m0 1.6h0m.1-.7h0m.1.7h0m.1-.2h0m10.6-.8h0m.1.9h0m.1-.2h0m0-.7h0m0-.8h0m0 .9h0m0-.7h0m.1 1.2h0m.3-.3h0m.1.5h0m.1-1.1h0m.1 1h0m.1-.7h0m0-.9h0m.1.8h0m.1-.3h0m.1.9h0m0-.8h0m0 1.1h0m.2-.7h0m.1.5h0m0-.1h0m.1.2h0m.2.1h0m.1.2h0m0-1h0m.1-.9h0m.1.2h0m.1.6h0m.2.3h0m.1-.4h0m.1.1h0m.1-.1h0m0 1.2h0m0-.8h0m.1.2h0m0-.1h0m.1-1h0m.2 1.2h0m0-.7h0m.5 1.2h0m0-1.5h0m0 1.1h0m.2-.6h0m.1.9h0m.1-1.5h0m.6 1h0m0-.1h0m0 .6h0m0-1.1h0m.2.6h0m0-.9h0m.3.5h0m.1.3h0m.3-.1h0m.1-.8h0m.1.4h0m0-.4h0m0 1.4h0m.3-.3h0m.3-.3h0m.2.6h0m0-.6h0m0 .4h0m.1.2h0m.2-1.2h0m.1 0h0m0-.5h0m.1 1h0m0 .2h0m.2.2h0m0 .3h0m.4.2h0m.1-1.6h0m0 .3h0m0 .1h0m.1.6h0m0-1h0m.2 1.6h0m.3-.4h0m.2.1h0m.3-.9h0m.1.8h0m.3.4h0m.1-1.4h0m0 .1h0m0 .1h0m.1-.5h0m0 .2h0m0 .2h0m.3.3h0m.1-.1h0m.2 1h0m.1-.4h0m.1.5h0m.2-.2h0m.3-.3h0m.1-.4h0m.1-1h0m.2 1.4h0m.2-.7h0m.2.9h0m.1-.3h0m.2.5h0m.4-.8h0m0 .5h0m.2-.4h0m.2-.7h0m0 .8h0m.2-.2h0m.3.4h0m0 .2h0m.1-.8h0m.1 1h0m.2-.1h0m.1-1.7h0m0 .2h0m.1.1h0m.1 1h0m.1-.7h0m.1.8h0m.1-.3h0m.1.8h0m0-.1h0m.1-.7h0m.2-.8h0m.1 1h0m0-.5h0m.1.5h0m.2-.4h0m0 .5h0m.4-.8h0m.1 1.1h0m.3-.6h0m0 .2h0m0-.7h0m.1.7h0m.3-1.3h0m0 .7h0m.3.9h0m0-.7h0m.3.5h0m0-.1h0m.1 0h0m0-.5h0m.1 0h0m.3 0h0m.1 0h0m.2.6h0m.1.3h0m0-1.1h0m.3.7h0m0-.7h0m.1.6h0m0-.8h0m.1.2h0m.5.8h0m.3.1h0m.4.4h0m.4-.7h0m.3.6h0m.1-.9h0m.2.9h0m.1-1.7h0m.4.9h0m0 .4h0m.3-1.2h0m.4 1.1h0m0-.8h0m0-.3h0m.3 1h0m.3-.3h0m0-.6h0m.1 1.1h0m.2-.7h0m.5.1h0m.1-.4h0m.1.2h0m.3-.6h0m.1 1h0m1 .9h0m.1 0h0m.2-.4h0m.1.4h0m.9-1.9h0m.1 1h0m.3-.4h0m.2 1.3h0m.8-1.4h0m.2-.5h0m1.2 1.2h0m.8-1h0m1.5.3h0m.6-.2h0m.8.6h0m2.2-.8h0m3.2.5h0m13.4.2h0m.1-.1h0m-66.1 3h0m2.1-1.4h0m.3.3h0m.5-.2h0m.1 1.1h0m.1-.2h0m.1-1.3h0m.1 1.4h0m.3-1.4h0m0 .7h0m.1 1.1h0m.1.1h0m.2-.7h0m.2.7h0m.1-.7h0m.1-.9h0m0 1.4h0m10.5-1.4h0m0-.3h0m.1 1.2h0m0-.9h0m0 1.2h0m.1 0h0m.1-1.2h0m.1.7h0m.2-.4h0m.1.9h0m0 .1h0m.1-.2h0m.1-.7h0m.3.1h0m0 .2h0m0 .2h0m.1.2h0m.2.2h0m0 .3h0m0-1.7h0m0 1.3h0m.1.1h0m0-1h0m0-.3h0m.1 1.4h0m.1-.3h0m.1-1.1h0m.1 1.3h0m.1-.9h0m.2.4h0m0-1h0m.1.9h0m0 .9h0m.1-1.6h0m.4 1.3h0m0-.5h0m.3-.1h0m0 .1h0m0-1h0m.1.8h0m.1-.3h0m0 1.2h0m.1-1.2h0m.1 1h0m0-1h0m.1.6h0m.2-1.2h0m.1.6h0m.1-.3h0m.1.9h0m0 .2h0m.1-.8h0m.1-.5h0m.1.6h0m0 .2h0m.1 1h0m.1-.6h0m0-.7h0m0 1.3h0m0-1.1h0m.1.2h0m.2.3h0m0-1.1h0m.3.2h0m.3-.2h0m.1 1.4h0m0-.1h0m.1-.3h0m0-.1h0m.2-.7h0m0-.3h0m.1 1.7h0m.1-1.8h0m.4.6h0m0 .2h0m0 .4h0m0-.7h0m.1.7h0m.1.3h0m.1.3h0m0-.4h0m0-1.1h0m.1.7h0m.1.7h0m0-.9h0m0-.5h0m.2.6h0m.3.1h0m.2-.2h0m.2.5h0m0 .2h0m0-.7h0m0 .2h0m.2.6h0m.1-1h0m.1 1.3h0m0-1.6h0m.2-.1h0m0-.1h0m0 .4h0m0 .2h0m.1.5h0m0-.1h0m0 .6h0m.1-1.7h0m.1.4h0m0 .2h0m0 1.3h0m.1-1.8h0m.1 1.5h0m0-1.1h0m.1-.4h0m0 1.5h0m.2-.3h0m.1-.9h0m.2.7h0m.1-.1h0m.1.9h0m0-.7h0m.1-.6h0m.1.7h0m.1-.4h0m.1-.6h0m.1.6h0m.1 0h0m.1.7h0m.1-.1h0m.3-1.3h0m.3 1.7h0m.1-1.5h0m.2 1h0m.1-.3h0m.1.6h0m0 .2h0m0-1.7h0m0 1.4h0m.2-1h0m.1.2h0m.1-.6h0m.1 1h0m.1-.7h0m0 .3h0m.2.8h0m0-1.5h0m.1.8h0m.2-.2h0m0 1.2h0m.2-1.9h0m.1 1.2h0m.2.7h0m0-1.5h0m.2-.2h0m0 .1h0m.3 1.6h0m.1 0h0m0-1.3h0m.2.7h0m.1.6h0m.2 0h0m0-1.1h0m0-.5h0m0 1.3h0m.2-.6h0m.2.6h0m.1-.3h0m0-1h0m.1.5h0m0 .9h0m0-.1h0m.1-1.5h0m.2 1.4h0m.1.4h0m.3-1.7h0m.1 1.2h0m.4.2h0m.3-.3h0m.2-.8h0m0 .6h0m.3-.9h0m0 1.6h0m.1-1.4h0m.4 1.5h0m.3-1.9h0m.1.5h0m.2-.3h0m.2 1.2h0m.1-1.1h0m.1 1.6h0m0-1.7h0m.1 1.3h0m.2-.3h0m0-1h0m0 1.4h0m.1.1h0m.1-.1h0m.4-1.1h0m0-.5h0m.1.2h0m.9 1.3h0m.6 0h0m0-.8h0m.2-.5h0m.1 0h0m.1 0h0m.5.5h0m.3-.2h0m.4-.4h0m.1 1.4h0m.3-1.4h0m.3-.1h0m.2.3h0m.2.6h0m.5.6h0m.1-1.3h0m.3.9h0m.7-.7h0m0 .2h0m.1.2h0m.2-.1h0m.5 0h0m.1-.7h0m.3.6h0m0 .2h0m.3.3h0m.1-.1h0m.4-.8h0m.5.7h0m1.1-.4h0m.1.4h0m.3.8h0m.4-.6h0m1.5-.5h0m3.4 0h0m9.4.4h0m-57.2 2.1h0m.5-1.1h0m.3.4h0m.3 1.5h0m.3-.9h0m.4-.8h0m.1 1.1h0m0 .4h0m.1-1.2h0m0 .5h0m.3-.5h0m0 .2h0m.1.7h0m0 .3h0m.1-.1h0m0-1.4h0m.1.4h0m.2-.3h0m.2 1.3h0m9.7-.1h0m.2-.1h0m0 .2h0m.1-.7h0m0 .2h0m.1.6h0m.1-.3h0m0-1.1h0m.2.2h0m0 1.3h0m.1-1.8h0m0 1.5h0m.2-.7h0m.2-.2h0m0 .4h0m.1-.7h0m.1.2h0m0 1.4h0m0-1.3h0m.5-.6h0m0 1.7h0m.1-1.5h0m0 .2h0m.1.7h0m0-1.1h0m0 .6h0m.1 1.2h0m.1-1.8h0m0 .2h0m.3.4h0m.3.3h0m.2.6h0m0-1.4h0m.6 1.1h0m.1-.8h0m0-.1h0m0 .4h0m.1.3h0m0-.3h0m.1-.2h0m.1.6h0m.3.2h0m0-.1h0m.1-.1h0m.2-.1h0m.1.5h0m0-.1h0m.1-.6h0m0-.6h0m.1-.2h0m.1.9h0m.1-.8h0m.1 1.8h0m.2-.7h0m0-.6h0m.2-.2h0m.1.6h0m.1-.7h0m.3-.3h0m.1 1.9h0m.1-1.2h0m0 .8h0m0-.1h0m.1-.1h0m0 .2h0m.1-1.2h0m.1.7h0m0-.7h0m.3-.3h0m.1 1.6h0m0 .2h0m.1-1.5h0m0 1.4h0m.1-.7h0m0-.9h0m0-.1h0m.2 1h0m.1.9h0m.1-.6h0m.2-.7h0m.1.9h0m.2.1h0m.2-.6h0m0-.8h0m.2-.2h0m0 .5h0m.1 0h0m.3.5h0m.9.5h0m0 .1h0m0-.7h0m.1 0h0m.1.5h0m0-1.3h0m.1 1h0m0-.9h0m.1.9h0m.1-.8h0m0 .1h0m.1-.1h0m.2.6h0m0 .2h0m.2 0h0m.1.3h0m.1-1.4h0m0 .2h0m.2.3h0m.1.2h0m0 .3h0m0-.8h0m.2 1h0m0-.6h0m.2.9h0m.1-1.3h0m.1 1.1h0m.1-.4h0m0 .6h0m.1 0h0m.1-1.5h0m0 .4h0m0 .3h0m.1.6h0m0-.6h0m.1.8h0m0-1.1h0m.2.1h0m.1-.2h0m.1.6h0m.2-.3h0m.1.3h0m.1.1h0m0-.1h0m.1-.4h0m0 .6h0m0-.9h0m.1-.2h0m0 .6h0m.2-.3h0m0 .1h0m.1-.2h0m0 1.3h0m.1.4h0m.1-.2h0m.2-1.4h0m0 .8h0m.1-.1h0m.2-.2h0m0 .2h0m.1.6h0m.1-1h0m.4.3h0m0-.8h0m.1.8h0m.6-.7h0m0 .6h0m.1.7h0m.3-.4h0m.3-.2h0m.1.9h0m.2.1h0m.2-1.4h0m0 .2h0m.2.6h0m0-1h0m.3.6h0m.2.2h0m.7 0h0m.1-.8h0m.1 1.5h0m.2-.3h0m.4 0h0m.1-1.4h0m.1 1.5h0m0 .3h0m.1-.9h0m.2.8h0m0-1.6h0m0-.1h0m.1 1.8h0m.2-1.2h0m.2.4h0m.6-.4h0m.2.9h0m.4.2h0m.2-1h0m.1.7h0m.1-.6h0m.2-.3h0m.1 1.2h0m.2-1.2h0m.5-.4h0m.3 1.7h0m.2-.9h0m0 .2h0m.1-.8h0m.1.8h0m.2.6h0m.7-.1h0m1.2-.7h0m2.8-.6h0m.2-.2h0m.3.6h0m.6.9h0m.7-.3h0m1.3-1.2h0m.2 1.6h0m2.4-1.7h0m2.3 1h0m.4-.2h0m8-.6h0m.9.3h0m3.4.3h0m-61.9 1.9h0m1.1.8h0m.2-.3h0m.1-.4h0m.4-.4h0m.4.2h0m.2 1h0m.4-.7h0m0 .9h0m.1 0h0m0-1.7h0m0 1.5h0m.1 0h0m0-.4h0m0-.5h0m.1 1h0m.1-.7h0m0-.1h0m0 .4h0m.2 0h0m0 .4h0m0-.1h0m9.2-.9h0m.2.9h0m.1-.9h0m0-.6h0m.2.1h0m0 .9h0m.1.4h0m.2-.7h0m0-.3h0m0 .2h0m.1-.2h0m0-.5h0m.3 1h0m.5.4h0m0-1h0m.3 1.1h0m0-.6h0m.2.1h0m.1-.3h0m.1-.1h0m0 .3h0m.1-.7h0m0-.1h0m.4 1.7h0m0-1h0m.2-.1h0m.5 1.1h0m0-.1h0m0-1.3h0m0 .2h0m.1-.3h0m.2.8h0m.2.3h0m0 .1h0m.1-.1h0m0 .3h0m0-.9h0m.1.1h0m.1-.2h0m.1.5h0m.1-.7h0m.1-.4h0m.2.3h0m.1 1h0m.2.3h0m0-.2h0m.3.1h0m.1-.7h0m.1.6h0m.3-.8h0m.1.8h0m.3-.7h0m0-.6h0m.1 1.3h0m0-1.1h0m0 1.2h0m0-1.7h0m.1 1.5h0m.1-.1h0m0-1.1h0m.2.2h0m.1 1.3h0m0-1h0m0-.8h0m.1.1h0m0 .1h0m0 1.5h0m0-.9h0m.1-.8h0m0 .9h0m0-.5h0m.1.6h0m.1.1h0m.1.7h0m.9-.7h0m.1-1.1h0m0 1.4h0m.1-1.3h0m.2 1.3h0m.1-.2h0m.1.7h0m.5-1.1h0m0 .4h0m.2.2h0m.1-.3h0m.1-.9h0m.1-.1h0m0 1.5h0m.2-.8h0m.1-.8h0m.2.5h0m.1-.1h0m.1 1.5h0m0-1h0m.2.8h0m0-.1h0m0 .3h0m0-.1h0m.1-1.7h0m.2.3h0m0 1.4h0m.1-1.7h0m.2 0h0m.2.5h0m.2 1h0m.2 0h0m.1-1.3h0m.1-.3h0m0 .3h0m0 1.2h0m.1-.2h0m.2-.9h0m.5.1h0m.3.5h0m.1.1h0m0 .8h0m0-1h0m.4-.8h0m.4.5h0m.2.2h0m.1-.5h0m0-.3h0m.2.5h0m.2-.3h0m.1 1h0m0-1.1h0m.3 1h0m0 .3h0m0 .2h0m.3-.7h0m.1-.4h0m0 .7h0m.1-.2h0m.1.4h0m.3-.3h0m.3-.3h0m.1 1h0m.5-.9h0m0 .3h0m0 .5h0m0-1h0m.3.8h0m0-.5h0m.2-.1h0m0-.9h0m0 1.4h0m0-1h0m.3 1.2h0m.2.2h0m.6-1.3h0m.5.1h0m0-.6h0m.3.7h0m0-.2h0m.2.3h0m.1-.1h0m0 .9h0m.1-.2h0m.7.3h0m.4-.6h0m.1-.8h0m.1.8h0m.1 0h0m0-.7h0m.2-.4h0m0 1.5h0m.1-.1h0m.1-.5h0m.3-.4h0m.1.3h0m.3-.5h0m.4.2h0m0 1.4h0m.1 0h0m.1-1.2h0m.1-.2h0m.4-.4h0m.4 1.8h0m0-1.4h0m.1 0h0m.3-.1h0m.2 0h0m.6-.4h0m.2 1.8h0m.7-.7h0m.7-.4h0m1.2-.6h0m.6.2h0m.1 1.6h0m.1-1h0m0 .9h0m.4.1h0m1.2-.2h0m1.6-.6h0m.3-.8h0m0 .5h0m3.6.5h0m-47 1.3h0m.4 1.1h0m.3-.7h0m.1-.2h0m.1.3h0m.2-.8h0m0 .2h0m0 .2h0m.1.4h0m.3.2h0m.2.5h0m.1-.9h0m0 .2h0m0-.8h0m.1 1.2h0m.1-1h0m.2 1.1h0m.1.3h0m0-.7h0m7.9.1h0m.2-.5h0m.2-.4h0m.1.3h0m0-.3h0m.2-.2h0m.1.5h0m0-.5h0m.1.6h0m0-.6h0m.2.7h0m.2.2h0m.2.1h0m.1-.4h0m.1 1h0m0-.9h0m.1-.5h0m0 .8h0m.2.2h0m.2-.1h0m0-1h0m.1 1.6h0m0-.7h0m0 .4h0m.2-.5h0m.1-.7h0m.1.8h0m.2-.9h0m0 .2h0m.3.6h0m.2.6h0m.1-1.6h0m.3.5h0m.3-.5h0m.1.4h0m0 .2h0m.3.8h0m.2-1.1h0m.5 1.4h0m.1-.2h0m.1-1.1h0m0 .7h0m.1.3h0m0-.2h0m.1-.8h0m.4 1.4h0m.1-1.4h0m0 .3h0m.1-.8h0m.4.6h0m0 .4h0m0-1h0m.2 1.9h0m0-1.1h0m.1.8h0m.4-.8h0m0-.5h0m.5.1h0m.2.4h0m.3-.8h0m.1 1.8h0m.1-1.7h0m.1.9h0m.1.7h0m0-1.5h0m.3 1h0m.2.6h0m.1-1.6h0m.1 1.6h0m.1-.3h0m.1-1.2h0m.1 1.4h0m.2-.3h0m.4.2h0m.2-1.3h0m.2-.3h0m.1.8h0m.1 1.1h0m.4-1.1h0m.4-.5h0m0-.1h0m.1.4h0m.2 0h0m.1.3h0m0-.7h0m.2 1.3h0m.3-1.5h0m.4 1.9h0m.5-1.9h0m.2.6h0m.2.5h0m0 .1h0m.6.1h0m.3-.3h0m.1.2h0m.1-.2h0m.3-1h0m.5 1.6h0m.1.3h0m.4-1h0m.2 0h0m.1-.3h0m.5.7h0m.2-1.3h0m0 .3h0m.2 1h0m0 .5h0m.3-.2h0m.2-1h0m.2.6h0m.4-.5h0m0 .6h0m.2-.9h0m0 .4h0m.4.2h0m.3.6h0m.4-1.6h0m.2 1.6h0m1-.8h0m.3.7h0m0 .4h0m0-1.9h0m.2.9h0m.6.8h0m.1-1.2h0m1.1 1.4h0m.1-1.4h0m.1.3h0m1.1-.6h0m.6.5h0m1.1-.2h0m.3.2h0m1 .6h0m.2-.3h0m.8-.3h0m1.3-.5h0m5.8.5h0m5.1.1h0m-53.3 1.7h0m.2-.3h0m1.5 1.1h0m.3.2h0m.3-.3h0m.5.5h0m.6-.9h0m.2-.4h0m0 1.4h0m.1-1.1h0m.3-.2h0m0 1.1h0m.1-1.1h0m.1 1h0m.1 0h0m0-1h0m.1.5h0m.3.2h0m.1 0h0m.1.1h0m0 .1h0m.1.3h0m.2 0h0m6.2.2h0m.3-.6h0m0 .2h0m.1-.8h0m.4-.3h0m0 1.5h0m0-1h0m.4.9h0m0-1h0m.1-.7h0m.2.9h0m.1-.4h0m.1-.5h0m0 .5h0m.1.2h0m.1 0h0m.1.7h0m.3-.4h0m.1-.3h0m.1.5h0m.1 0h0m.1.1h0m.1-.3h0m0 .4h0m.4 0h0m.3.4h0m.7-1.8h0m.4.4h0m.3.6h0m.2.4h0m.1-.2h0m.4-.9h0m.2-.3h0m.2 1.4h0m.3-.1h0m.2-.9h0m.1 1.1h0m.3-1.5h0m.2 1.7h0m.1.1h0m.3-1.8h0m1.5.2h0m.1-.2h0m.1.1h0m.1.4h0m.1.7h0m.3-1h0m.4.5h0m.2.2h0m.1-.9h0m.2 1.4h0m.2-1.5h0m.2.3h0m.2.6h0m.3.5h0m.1-.6h0m1.1 1.1h0m.2-1h0m0-.8h0m.5 1.6h0m.1-1.4h0m0 .1h0m0 1.2h0m.1-.2h0m0-1h0m.5.6h0m.8.9h0m.3-1.9h0m1.1 1h0m.2.3h0m.2-.1h0m.3-1.2h0m.2.1h0m.1 1.7h0m0-.6h0m.4-.3h0m.6-.2h0m0-.1h0m.7.1h0m.1 0h0m.3 1.2h0m.7-.3h0m.2-.6h0m.3-.1h0m.1-.5h0m.1.7h0m.1-1.1h0m0 .2h0m.4.5h0m.2.6h0m.7-.5h0m.8.9h0m.2-.5h0m.1-.9h0m.6.4h0m.7-.2h0m.4 1.1h0m.2-.9h0m.7-.2h0m.5.5h0m.2 0h0m1.6.3h0m.1-1.1h0m.8-.1h0m2.1.8h0m1.3.3h0m4.6-.7h0m1.7-.3h0m7 1.5h0m4-.7h0m-58.9 2.8h0m.6-1.3h0m.3 1.1h0m.1-.9h0m.5-.6h0m.1 1h0m.4-.9h0m0 1.3h0m.1-.1h0m.1-.6h0m.2.3h0m.3-.3h0m.3-.4h0m.1-.1h0m0-.1h0m.1.6h0m.6 1h0m4.6-.5h0m.2 0h0m0-.5h0m.2-.1h0m0 .1h0m.2.5h0m0-.8h0m.1-.4h0m0 .6h0m.1-.7h0m0 1.3h0m.1.5h0m.1-1.3h0m0 1.2h0m0-.7h0m.3.8h0m0-1h0m0-.6h0m.1 1.5h0m.1-1.5h0m.3 1.2h0m0 .2h0m.5-1.2h0m.2 1.4h0m.2-.5h0m0-.6h0m0 1.2h0m.2-1.2h0m.1-.7h0m.5.4h0m1.4 1.5h0m.1-.8h0m.1.6h0m.6-1.5h0m.1.5h0m1.4-.3h0m.7.3h0m.3-.3h0m.1.1h0m.2-.3h0m.1 1.3h0m.2-.4h0m1.1-.2h0m.1-.7h0m.2.9h0m.5.4h0m.4-.4h0m.1 0h0m.2-.3h0m.3.5h0m1.1.1h0m.4.5h0m.5-1.9h0m.5 1.9h0m.2-1.1h0m.2.1h0m.5.1h0m.2-.9h0m.3.5h0m.2-.6h0m.2.6h0m1.5.4h0m0-1h0m.5 1.6h0m1.3.2h0m.4-1.6h0m.4 0h0m.1 1.6h0m.5-.9h0m0 .6h0m.9-1.4h0m1 .8h0m.4-.2h0m.6 0h0m0-.4h0m.3 1.6h0m.2-.3h0m0-.5h0m1.2-.2h0m1.7-.5h0m.8.5h0m3.7-.8h0m.9 0h0m.4.1h0m.9 1.5h0m-43 2.2h0m2.1-.5h0m.5-1.1h0m.1 1.3h0m.2-1.2h0m.2.7h0m.1-.9h0m.3.8h0m.2.7h0m.2 0h0m0-1h0m0-.7h0m0 1.6h0m.2-.8h0m0 .4h0m.1.6h0m0-1.1h0m.4.1h0m0-.7h0m0 .3h0m0-.1h0m.2 1.3h0m0-1.6h0m.1 1.2h0m0 .4h0m.1-.6h0m0 .2h0m.1-1h0m0 1.6h0m0 .1h0m.1-1.3h0m.1-.4h0m.1.4h0m0-.1h0m.1 1.3h0m0-.9h0m.1.9h0m0 .1h0m0-1h0m.2.1h0m.1.1h0m.2.6h0m.3-.1h0m.2-.4h0m.1.6h0m.3-.3h0m.4.1h0m.3-.4h0m0 .6h0m.5-.5h0m0 .2h0m0-.7h0m.1-.2h0m.2.7h0m.1-.3h0m.1.3h0m0 .2h0m0-1h0m.2.1h0m0-.6h0m.1.1h0m0 1.4h0m.1.4h0m.4-.7h0m.1-.3h0m.4.2h0m0-1.1h0m.1 1.7h0m.1.1h0m0-1.6h0m.1 1.7h0m.2-.9h0m.1-.5h0m0-.2h0m.1.7h0m.3-.1h0m.1-.5h0m.3.4h0m.2 0h0m.6 0h0m.1 1h0m.2-1.5h0m.3.7h0m.2-.5h0m.2-.3h0m1.4.5h0m.5.1h0m.5.7h0m.4-1.3h0m2.2.9h0m0-1h0m.9.8h0m0-.5h0m2.4.1h0m.1.5h0m1.3-.7h0m0 .3h0m.3-.5h0m1.6 0h0m.6.2h0m.3-.1h0m1.2 1.3h0m.2-1.3h0m.1.2h0m.4.7h0m.5-.5h0m.2-.3h0m.2 0h0m1.3 1.2h0m.5-1.3h0m.6.9h0m3.5-.7h0m1.2.8h0m.9-1h0m8.9.1h0m2.6 1.3h0m1.2-1.6h0m1.3.9h0m-49.7 1.9h0m1.5-.2h0m.4.2h0m.2.6h0m.4-.9h0m.2.5h0m.1.5h0m.3.4h0m.1-1.2h0m.2-.6h0m0 1.3h0m0 .2h0m.2-1h0m.1 1.2h0m.1-1.3h0m0 1.2h0m0 .1h0m0-.8h0m.3.8h0m.1-.9h0m.2-.8h0m.1.4h0m.1.3h0m.1 1h0m.1-.7h0m.1.2h0m0-.4h0m.3-.1h0m.4-.4h0m.2 1h0m.3-.6h0m0-.5h0m.2 1.1h0m.1.3h0m.4-1.1h0m0 .3h0m.1-.7h0m.2 1.6h0m.1-1.2h0m.1-.4h0m.1 1.6h0m.1-1h0m0 .4h0m0-1.1h0m.1.4h0m0 .7h0m.1.1h0m.2-.4h0m.2-.9h0m.2.3h0m.1-.3h0m.2 1h0m.3-.1h0m.1-.4h0m.3-.4h0m.2.5h0m.7.4h0m.1-.7h0m1 .5h0m.1-.5h0m1.1-.1h0m1 .5h0m.6.5h0m.6-.3h0m1.7.4h0m.1.4h0m.9-1.3h0m.4 1.2h0m.9-1.3h0m3.4 0h0m1.5 1.2h0m1.1-.2h0m.1-1.2h0m.2 1h0m.2-.4h0m6.8 1h0m4-.3h0m3.7-.2h0m12.5-1h0m-52.4 2.2h0m.4 1.4h0m1.4-1.7h0m.3 0h0m.5-.1h0m.3 1h0m.2-1h0m0 1.2h0m.2-.7h0m.5.1h0m.3.5h0m.4.8h0m.1-1.6h0m.1.6h0m.2.5h0m.3-.8h0m.2-.2h0m.2-.4h0m.1.5h0m.1-.4h0m.1.2h0m.2-.3h0m.1 1.4h0m.1.1h0m.3-.2h0m.1.6h0m0-1.6h0m.5.8h0m.1-1h0m.1.4h0m0 .4h0m0 .1h0m.3-.4h0m0-.1h0m.1 1h0m0-1.4h0m.5 1.8h0m.1-.4h0m.2-.5h0m.3-1h0m.6.2h0m.3 1h0m.3-1.1h0m0 .3h0m.2 1.2h0m.2-1.4h0m0 .2h0m.7 0h0m2.8-.4h0m.9 1.4h0m.2-.7h0m1.2-.1h0m1.5-.4h0m3.2-.1h0m3.7.8h0m.5.2h0m14.2-.3h0m9.5.1h0m1-.1h0m-49.6 1.9h0m1.4.8h0m.8-.1h0m.1.2h0m.5-.1h0m.3-.9h0m.1-.5h0m.3 1.2h0m.6-.8h0m.2.7h0m1 .4h0m.4-1.1h0m0-.4h0m.4 1.4h0m0-1h0m.1.7h0m0 .7h0m.1-1.2h0m.1 0h0m.4-.3h0m0 .4h0m0-.7h0m.1 1.7h0m0-.7h0m.1-.7h0m.2.6h0m.1.1h0m.3-1.1h0m.2.5h0m.2.7h0m.1.1h0m.5-.9h0m.1 1.3h0m.5-.6h0m.1-.4h0m.9.3h0m.2-.8h0m.5-.1h0m.7 1.2h0m1.8-.6h0m.5.4h0m1.6-.4h0m10.7-.5h0m-28.7 1.9h0m1.9.6h0m1.9 1.2h0m.7-.4h0m.6-.3h0m1.3-.5h0m.3 1h0m.1-.1h0m.2-1.5h0m.3 0h0m0 1.3h0m.1 0h0m0-1.2h0m1 1h0m.2 0h0m.8-.8h0m.1 1h0m.4.5h0m.3-.5h0m.4-1.1h0m.2.9h0m23.3.7h0m5.8-1h0m1.4-.1h0m11.5 1h0m-50.4.9h0m1.6-.6h0m.9 1.2h0m.5-1.1h0m.9-.2h0m.9 1.4h0m.5-1h0m.1.7h0m0 .6h0m.2-1.5h0m.9 1.4h0m.5-1.6h0m.4.4h0m.2.2h0m1-.2h0m2.8 0h0m18.9.4h0m.6 1h0m12.9 0h0m.9-1h0m-44.6 2.1h0m5.6-.6h0m.2-.3h0m4.4 0h0m31 1.2h0m-36.4 1.1h0m1.6 1.4h0m.4-1.6h0m.7.2h0m11 .6h0m-19.1 1.1h0m36 1.1h0m14.6.2h0m-41.7 1.2h0m41.6-.4h0" stroke="#000" stroke-opacity="0.5" stroke-width="0.6" stroke-linecap="square" fill="none"/>
<clipPath id="cf6"><rect x="399.3" y="42.95" width="24.2" height="79.2"/></clipPath><g clip-path="url(#cf6)">
<path d="M414.4 100.1l-.9-.2-.8-.7-.7-1.3-.7-1.7-.9-4.8-.4-5.8.3-6 .9-5 .6-2.2.8-1.6.6-.7.9-.5.9.3.9 1.1.8 1.8.6 2.1.9 5.3.3 7.2-.2 4.2-.9 4-.8 2-.7 1.4-.6.7-.9.4Z" fill="#000" fill-opacity="0.12"/>
<path d="M414.7 98.9l-.9 0-.6-.4-.8-1.1-.6-1.6-1-4.4-.4-5.2.2-5.6.8-4.8 1.2-3.4.6-.8.9-.5.9.3.6.7.7 1.3.6 1.8.9 4.8.3 5.4-.1 4.8-.5 3.6-1.3 3.4-.7 1-.8.7Z" fill="#000" fill-opacity="0.12"/>
<path d="M414.7 98l-.9 0-.6-.4-.6-.9-.7-1.5-.9-3.8-.4-5.2.2-5.4.8-4.4 1.1-3 .8-1.1.6-.2.6.1.8.9 1.2 2.7.8 4.2.3 5.1-.1 4.7-.4 3.4-1.1 3-.7 1.2-.8.6Z" fill="#000" fill-opacity="0.12"/>
<path d="M414.7 97.5l-.9 0-.6-.4-.6-.9-.6-1.4-.9-3.7-.3-4.9.1-5 .7-4.2 1.1-3 .8-1.1.6-.3.6.2.6.5.6 1 .6 1.6.8 4.1.4 4.8-.1 4.8-.5 3.2-1 3-.8 1.3-.6.4Z" fill="#000" fill-opacity="0.12"/>
<path d="M414.4 97.1l-.6-.1-.6-.5-.6-.9-.6-1.5-.8-3.7-.3-4.4.2-4.8.7-4 1.1-2.9.6-.8.6-.2.6.1.6.6.6 1 .6 1.7.8 4.1.2 4.8-.1 4.6-.6 3.1-1.2 2.8-.6.7-.6.3Z" fill="#000" fill-opacity="0.12"/>
<path d="M414.7 96.5l-.6.1-.6-.3-.6-.7-.6-1.3-.9-3.5-.3-4.6.1-4.8.7-3.8 1-2.7.6-.8.6-.3.6.2.6.5 1.1 2.5.7 3.6.3 4.2-.1 4.2-.4 3.2-1 2.9-.6.9-.6.5Z" fill="#000" fill-opacity="0.12"/>
<path d="M414.7 96l-.6.1-.6-.3-.6-.8-.6-1.2-.7-3.4-.4-3.8.1-4.5.7-3.9.9-2.7.6-.8.6-.3.6.1.6.7.9 2 .7 3.4.3 4.2 0 3.8-.5 3.4-.8 2.5-.6 1-.6.5Z" fill="#000" fill-opacity="0.12"/>
<path d="M414.4 95.6l-.6-.1-.6-.5-.9-2-.7-3.2-.3-3.8.2-3.9.6-3.7.8-2.3.6-.9.6-.3.6.2.6.6.9 2.2.6 3.3.3 4.2-.1 3.8-.5 3-.9 2.3-.6.8-.6.3Z" fill="#000" fill-opacity="0.12"/>
<path d="M414.7 95l-.6.1-.6-.4-.9-1.5-.8-3-.3-3.6.1-4 .5-3.5.8-2.5.6-.8.6-.3.9.4 1 1.9.6 3 .3 4 0 3.6-.4 3-.8 2.4-1 1.2Z" fill="#000" fill-opacity="0.12"/>
<path d="M414.7 94.5l-.6.1-.6-.3-.9-1.7-.7-2.8-.3-3.2.1-4 .5-3.2.9-2.4.4-.6.6-.4.9.5.9 1.9.6 2.8.3 3.6-.1 3.6-.3 2.7-.8 2.3-.9 1.1Z" fill="#000" fill-opacity="0.12"/>
<path d="M414.4 94.1l-.9-.3-.9-1.8-.6-2.8-.2-3.2.1-3.4.5-3 .8-2.3.9-.7.6.1.3.4.9 2 .5 2.7.3 3.3-.2 3.5-.4 2.8-.8 2-.9.7Z" fill="#000" fill-opacity="0.12"/>
<path d="M414.7 93.5l-.6.1-.3-.1-.9-1.4-.6-2.3-.4-3.2.1-3.4.4-3 .8-2.2.9-.9.6.2.3.4.7 1.4.5 2.3.3 3 0 3-.3 2.8-.6 2-.9 1.3Z" fill="#000" fill-opacity="0.12"/>
<path d="M414.7 93l-.6.1-.3-.1-.9-1.4-.6-2.4-.2-2.6 0-3.4.5-2.9.6-1.7.3-.5.6-.4.6.1.3.4.6 1.3.5 2.3.2 2.6 0 3-.3 2.8-.6 1.8-.7 1Z" fill="#000" fill-opacity="0.12"/>
<path d="M414.4 92.6l-.6-.2-.3-.3-.6-1.3-.5-2.2-.2-2.6.1-2.8.4-2.4.5-1.6.3-.5.6-.5.6.2.3.4.6 1.4.4 2.2.2 2.7-.1 2.7-.3 2.4-.5 1.4-.4.6-.5.4Z" fill="#000" fill-opacity="0.12"/>
<path d="M414.4 92.1l-.6-.2-.8-1.5-.4-1.8-.2-2.6.1-2.8.4-2.4.6-1.5.6-.5.6.3.7 1.5.5 2 .1 2.5 0 2.7-.4 2-.6 1.7-.6.6Z" fill="#000" fill-opacity="0.12"/>
<path d="M414.4 91.5l-.6-.2-.6-1-.5-1.9-.2-2.4.1-2.3.3-2.1.6-1.7.6-.5.6.3.6 1.2.4 1.7.2 2.5-.3 4.1-.6 1.7-.6.6Z" fill="#000" fill-opacity="0.12"/>
<path d="M414.4 90.8l-.6-.2-.6-1.2-.5-3.4.4-3.9.4-1.3.6-.7.6.3.5 1 .3 1.8.2 1.9-.3 3.9-.4 1.1-.6.7Z" fill="#000" fill-opacity="0.12"/>
<path d="M414.4 90.2l-.6-.2-.4-.8-.3-1.4-.2-1.8.3-3.5.3-1.1.6-.6.6.3.3.6.5 3.4-.2 3.3-.3 1-.6.8Z" fill="#000" fill-opacity="0.12"/>
<path d="M414.4 89.4l-.3 0-.3-.3-.3-.6-.4-2.5.3-3 .4-1.1.3-.3.4.2.4.8.4 2.5-.2 3-.4 1-.3.3Z" fill="#000" fill-opacity="0.12"/>
<path d="M414.4 88.4l-.3 0-.3-.4-.4-2 .1-1.9.3-1.1.3-.4.3.1.3.5.3 1.9-.1 2.1-.5 1.2Z" fill="#000" fill-opacity="0.12"/>
</g>
<path d="M414.7 103.1l-.6.1-.6-.2-.9-.8-.9-1.4-.8-2-1.2-5.4-.6-7.2.3-7.4 1.1-6.6.8-2.8.9-2 1-1.3.9-.4.6.1.6.4.9 1.2 1 2.4.9 3 .9 6.3.7 11.7-.3 3-2 5.6-1.2 2.4-.6.7-.9.6Z" fill="none" stroke="#000" stroke-width="0.6"/>
<path d="M414.7 101.3l-.9 0-.9-.6-.9-1.3-.7-1.8-1.2-5-.4-6.4.2-6.8 1-5.8.7-2.4.7-1.5.9-1.2.9-.5.9.3 1 1.1.8 1.8.8 2.8.9 6 .4 8.6-.1 3.6-1 4-1.6 3.7-.6.8-.9.6Z" fill="none" stroke="#000" stroke-width="0.6"/>
<path d="M414.4 100.1l-.9-.2-.8-.7-.7-1.3-.7-1.7-.9-4.8-.4-5.8.3-6 .9-5 .6-2.2.8-1.6.6-.7.9-.5.9.3.9 1.1.8 1.8.6 2.1.9 5.3.3 7.2-.2 4.2-.9 4-.8 2-.7 1.4-.6.7-.9.4Z" fill="none" stroke="#000" stroke-width="0.6"/>
<path d="M414.7 98.9l-.9 0-.6-.4-.8-1.1-.6-1.6-1-4.4-.4-5.2.2-5.6.8-4.8 1.2-3.4.6-.8.9-.5.9.3.6.7.7 1.3.6 1.8.9 4.8.3 5.4-.1 4.8-.5 3.6-1.3 3.4-.7 1-.8.7Z" fill="none" stroke="#000" stroke-width="0.6"/>
<path d="M414.7 98l-.9 0-.6-.4-.6-.9-.7-1.5-.9-3.8-.4-5.2.2-5.4.8-4.4 1.1-3 .8-1.1.6-.2.6.1.8.9 1.2 2.7.8 4.2.3 5.1-.1 4.7-.4 3.4-1.1 3-.7 1.2-.8.6Z" fill="none" stroke="#000" stroke-width="0.6"/>
<path d="M414.7 97.5l-.9 0-.6-.4-.6-.9-.6-1.4-.9-3.7-.3-4.9.1-5 .7-4.2 1.1-3 .8-1.1.6-.3.6.2.6.5.6 1 .6 1.6.8 4.1.4 4.8-.1 4.8-.5 3.2-1 3-.8 1.3-.6.4Z" fill="none" stroke="#000" stroke-width="0.6"/>
<path d="M414.4 97.1l-.6-.1-.6-.5-.6-.9-.6-1.5-.8-3.7-.3-4.4.2-4.8.7-4 1.1-2.9.6-.8.6-.2.6.1.6.6.6 1 .6 1.7.8 4.1.2 4.8-.1 4.6-.6 3.1-1.2 2.8-.6.7-.6.3Z" fill="none" stroke="#000" stroke-width="0.6"/>
<path d="M414.7 96.5l-.6.1-.6-.3-.6-.7-.6-1.3-.9-3.5-.3-4.6.1-4.8.7-3.8 1-2.7.6-.8.6-.3.6.2.6.5 1.1 2.5.7 3.6.3 4.2-.1 4.2-.4 3.2-1 2.9-.6.9-.6.5Z" fill="none" stroke="#000" stroke-width="0.6"/>
<path d="M414.7 96l-.6.1-.6-.3-.6-.8-.6-1.2-.7-3.4-.4-3.8.1-4.5.7-3.9.9-2.7.6-.8.6-.3.6.1.6.7.9 2 .7 3.4.3 4.2 0 3.8-.5 3.4-.8 2.5-.6 1-.6.5Z" fill="none" stroke="#000" stroke-width="0.6"/>
<path d="M414.4 95.6l-.6-.1-.6-.5-.9-2-.7-3.2-.3-3.8.2-3.9.6-3.7.8-2.3.6-.9.6-.3.6.2.6.6.9 2.2.6 3.3.3 4.2-.1 3.8-.5 3-.9 2.3-.6.8-.6.3Z" fill="none" stroke="#000" stroke-width="0.6"/>
<path d="M414.7 95l-.6.1-.6-.4-.9-1.5-.8-3-.3-3.6.1-4 .5-3.5.8-2.5.6-.8.6-.3.9.4 1 1.9.6 3 .3 4 0 3.6-.4 3-.8 2.4-1 1.2Z" fill="none" stroke="#000" stroke-width="0.6"/>
<path d="M414.7 94.5l-.6.1-.6-.3-.9-1.7-.7-2.8-.3-3.2.1-4 .5-3.2.9-2.4.4-.6.6-.4.9.5.9 1.9.6 2.8.3 3.6-.1 3.6-.3 2.7-.8 2.3-.9 1.1Z" fill="none" stroke="#000" stroke-width="0.6"/>
<path d="M414.4 94.1l-.9-.3-.9-1.8-.6-2.8-.2-3.2.1-3.4.5-3 .8-2.3.9-.7.6.1.3.4.9 2 .5 2.7.3 3.3-.2 3.5-.4 2.8-.8 2-.9.7Z" fill="none" stroke="#000" stroke-width="0.6"/>
<path d="M414.7 93.5l-.6.1-.3-.1-.9-1.4-.6-2.3-.4-3.2.1-3.4.4-3 .8-2.2.9-.9.6.2.3.4.7 1.4.5 2.3.3 3 0 3-.3 2.8-.6 2-.9 1.3Z" fill="none" stroke="#000" stroke-width="0.6"/>
<path d="M414.7 93l-.6.1-.3-.1-.9-1.4-.6-2.4-.2-2.6 0-3.4.5-2.9.6-1.7.3-.5.6-.4.6.1.3.4.6 1.3.5 2.3.2 2.6 0 3-.3 2.8-.6 1.8-.7 1Z" fill="none" stroke="#000" stroke-width="0.6"/>
<path d="M414.4 92.6l-.6-.2-.3-.3-.6-1.3-.5-2.2-.2-2.6.1-2.8.4-2.4.5-1.6.3-.5.6-.5.6.2.3.4.6 1.4.4 2.2.2 2.7-.1 2.7-.3 2.4-.5 1.4-.4.6-.5.4Z" fill="none" stroke="#000" stroke-width="0.6"/>
<path d="M414.4 92.1l-.6-.2-.8-1.5-.4-1.8-.2-2.6.1-2.8.4-2.4.6-1.5.6-.5.6.3.7 1.5.5 2 .1 2.5 0 2.7-.4 2-.6 1.7-.6.6Z" fill="none" stroke="#000" stroke-width="0.6"/>
<path d="M414.4 91.5l-.6-.2-.6-1-.5-1.9-.2-2.4.1-2.3.3-2.1.6-1.7.6-.5.6.3.6 1.2.4 1.7.2 2.5-.3 4.1-.6 1.7-.6.6Z" fill="none" stroke="#000" stroke-width="0.6"/>
<path d="M414.4 90.8l-.6-.2-.6-1.2-.5-3.4.4-3.9.4-1.3.6-.7.6.3.5 1 .3 1.8.2 1.9-.3 3.9-.4 1.1-.6.7Z" fill="none" stroke="#000" stroke-width="0.6"/>
<path d="M414.4 90.2l-.6-.2-.4-.8-.3-1.4-.2-1.8.3-3.5.3-1.1.6-.6.6.3.3.6.5 3.4-.2 3.3-.3 1-.6.8Z" fill="none" stroke="#000" stroke-width="0.6"/>
<path d="M414.4 89.4l-.3 0-.3-.3-.3-.6-.4-2.5.3-3 .4-1.1.3-.3.4.2.4.8.4 2.5-.2 3-.4 1-.3.3Z" fill="none" stroke="#000" stroke-width="0.6"/>
<path d="M414.4 88.4l-.3 0-.3-.4-.4-2 .1-1.9.3-1.1.3-.4.3.1.3.5.3 1.9-.1 2.1-.5 1.2Z" fill="none" stroke="#000" stroke-width="0.6"/>
<path d="M419.5 87.6C424 88.5 430 90.5 435.6 92.6C430 94.6 424 96 419.5 96.6Z" fill="#fff" stroke="#000" stroke-width="0.6"/><path d="M419.5 89.6C423 90.3 427 91.5 430 92.6C427 93.7 423 94.5 419.5 95Z" fill="none" stroke="#000" stroke-width="0.4"/>
<rect x="423.5" y="43.85" width="53.8" height="76.6" fill="none" stroke="#000" stroke-width="1.2"/>
<path d="M399.3 122.15V42.95H478.9V122.15H399.3" fill="none" stroke="#000" stroke-width="1.35"/>
<line x1="395.9" y1="46.6" x2="399.3" y2="46.6" stroke="#000" stroke-width="0.9"/>
<line x1="397.3" y1="49.6" x2="399.3" y2="49.6" stroke="#000" stroke-width="0.9"/>
<line x1="397.3" y1="52.6" x2="399.3" y2="52.6" stroke="#000" stroke-width="0.9"/>
<line x1="397.3" y1="55.6" x2="399.3" y2="55.6" stroke="#000" stroke-width="0.9"/>
<line x1="397.3" y1="58.6" x2="399.3" y2="58.6" stroke="#000" stroke-width="0.9"/>
<line x1="395.9" y1="61.6" x2="399.3" y2="61.6" stroke="#000" stroke-width="0.9"/>
<line x1="397.3" y1="64.6" x2="399.3" y2="64.6" stroke="#000" stroke-width="0.9"/>
<line x1="397.3" y1="67.6" x2="399.3" y2="67.6" stroke="#000" stroke-width="0.9"/>
<line x1="397.3" y1="70.6" x2="399.3" y2="70.6" stroke="#000" stroke-width="0.9"/>
<line x1="397.3" y1="73.6" x2="399.3" y2="73.6" stroke="#000" stroke-width="0.9"/>
<line x1="395.9" y1="76.6" x2="399.3" y2="76.6" stroke="#000" stroke-width="0.9"/>
<line x1="397.3" y1="79.6" x2="399.3" y2="79.6" stroke="#000" stroke-width="0.9"/>
<line x1="397.3" y1="82.6" x2="399.3" y2="82.6" stroke="#000" stroke-width="0.9"/>
<line x1="397.3" y1="85.6" x2="399.3" y2="85.6" stroke="#000" stroke-width="0.9"/>
<line x1="397.3" y1="88.6" x2="399.3" y2="88.6" stroke="#000" stroke-width="0.9"/>
<line x1="395.9" y1="91.6" x2="399.3" y2="91.6" stroke="#000" stroke-width="0.9"/>
<line x1="397.3" y1="94.6" x2="399.3" y2="94.6" stroke="#000" stroke-width="0.9"/>
<line x1="397.3" y1="97.6" x2="399.3" y2="97.6" stroke="#000" stroke-width="0.9"/>
<line x1="397.3" y1="100.6" x2="399.3" y2="100.6" stroke="#000" stroke-width="0.9"/>
<line x1="397.3" y1="103.6" x2="399.3" y2="103.6" stroke="#000" stroke-width="0.9"/>
<line x1="395.9" y1="106.6" x2="399.3" y2="106.6" stroke="#000" stroke-width="0.9"/>
<line x1="397.3" y1="109.6" x2="399.3" y2="109.6" stroke="#000" stroke-width="0.9"/>
<line x1="397.3" y1="112.6" x2="399.3" y2="112.6" stroke="#000" stroke-width="0.9"/>
<line x1="397.3" y1="115.6" x2="399.3" y2="115.6" stroke="#000" stroke-width="0.9"/>
<line x1="397.3" y1="118.6" x2="399.3" y2="118.6" stroke="#000" stroke-width="0.9"/>
<line x1="395.9" y1="121.6" x2="399.3" y2="121.6" stroke="#000" stroke-width="0.9"/>
<path d="M401.8 122.15v2.2M403.2 122.15v2.2M404.6 122.15v2.2M406 122.15v2.2M407.4 122.15v2.2M408.8 122.15v2.2M410.2 122.15v3.2M411.6 122.15v2.2M413 122.15v2.2M414.4 122.15v2.2M415.8 122.15v2.2M417.2 122.15v2.2M418.6 122.15v2.2M423.3 122.15v2.2M427.3 122.15v2.2M430.3 122.15v2.2M432.3 122.15v2.2M433.8 122.15v2.2M434.8 122.15v2.2M435.8 122.15v2.2M436.6 122.15v2.2M437.3 122.15v3.2M443.3 122.15v2.2M447.3 122.15v2.2M450.3 122.15v2.2M452.3 122.15v2.2M453.8 122.15v2.2M454.8 122.15v2.2M455.8 122.15v2.2M456.6 122.15v2.2M457.3 122.15v3.2M463.3 122.15v2.2M467.3 122.15v2.2M470.3 122.15v2.2M472.3 122.15v2.2M473.8 122.15v2.2M474.8 122.15v2.2M475.8 122.15v2.2M476.6 122.15v2.2M477.3 122.15v3.2" stroke="#000" stroke-width="0.8"/>
<text x="453.4" y="51.8" font-size="8" text-anchor="middle">8.13</text>
<text x="451.1" y="116.95" font-size="8" text-anchor="middle" textLength="13.8" lengthAdjust="spacingAndGlyphs">LPS</text>
<text transform="translate(390.4,82.35) rotate(-90)" x="0" y="0" font-size="9.8" text-anchor="middle" textLength="18.9" lengthAdjust="spacingAndGlyphs" class="c">FSC-A</text>
<text x="406.2" y="137.5" font-size="9.2" textLength="21.1" lengthAdjust="spacingAndGlyphs" class="c">TNF-&#945;</text>
<text x="435.6" y="137.5" font-size="9.2" textLength="35.8" lengthAdjust="spacingAndGlyphs" class="c">Pacific Blue</text>
<path d="M306.5 161.4h0m-8.9 1.7h0m1.5.3h0m4.1.4h0m3.2-.3h0m.3-.5h0m-10.5 2.1h0m5.8-.1h0m.3-1h0m.1 1.6h0m.6 0h0m.2-.3h0m-7.9 2.4h0m.3-.4h0m4.6 0h0m1.7.5h0m.4-.9h0m.1.9h0m1.2-1.8h0m.2 1.6h0m.6-.9h0m-7.7 2.8h0m3.3-.3h0m.5-1h0m2.3 1.7h0m3.6-.1h0m-12.3.8h0m4.4-.6h0m0 1.6h0m1.4-.3h0m.1-.8h0m.1 1.4h0m.2-1.8h0m.6.8h0m2.4.7h0m2.3-.5h0m-13.7 2.6h0m7.6-.7h0m1-.4h0m.4-.6h0m.3.2h0m.8 1.2h0m.7.5h0m.6-1.7h0m1.9 1.1h0m.2.1h0m.5 0h0m-10.1.8h0m.7 1.6h0m2.1-1.8h0m.8 1.9h0m.1-.9h0m.1.4h0m.3 0h0m.4-1.2h0m.1-.1h0m.3.9h0m0-.8h0m.6-.2h0m.2 1.1h0m.1-1.1h0m0 1.6h0m.2-1.1h0m.8.5h0m0-.8h0m.1 1.6h0m.1-1.1h0m.4 0h0m.4.3h0m.7.2h0m-9.5 1.7h0m.6.6h0m.9-1.1h0m.3.5h0m.8.5h0m.3-1.1h0m.2 1.1h0m1.1-.7h0m.3.2h0m.2-.7h0m.4 1.1h0m.1-.4h0m.1.3h0m.4.7h0m0-.6h0m.1-.4h0m.1-.3h0m.7 1.3h0m.3-1.7h0m.1.8h0m.3-.2h0m.1 0h0m.3 1h0m.1-.7h0m.2.1h0m.1-.9h0m.7.6h0m.2-.9h0m.1 1.5h0m.2-.8h0m.1-.1h0m.6-.2h0m0 .3h0m.3-.5h0m.6.3h0m0 .3h0m2.4-.5h0m-11.5 2.9h0m0 .1h0m.6.6h0m.2-1.7h0m.3 1.2h0m.1-.6h0m.7.6h0m.1-.2h0m.1.6h0m.1-.7h0m.1.3h0m.1-1.3h0m.1 1.6h0m.4-.7h0m.1.1h0m.2-.2h0m.1.7h0m0-.5h0m.1.2h0m.1-.4h0m.2-.2h0m0 .2h0m.1 1h0m.2-.5h0m0 .2h0m.1-.5h0m.1-1.1h0m.3 1.6h0m.1-1h0m.1 1.1h0m.1-.3h0m0-.5h0m.1-.5h0m0 .9h0m.2.3h0m0 .2h0m.1-1.5h0m0 .6h0m.2-.5h0m.1.5h0m0 .1h0m.1 0h0m0 .3h0m.1-.6h0m.2-.1h0m.1.8h0m.1-.5h0m0-.1h0m.1 1h0m.1-.7h0m.4-.3h0m0-.8h0m0 1.4h0m.1-1.2h0m0-.1h0m.2 1.1h0m0 .1h0m.3-.8h0m.3.7h0m.3-.1h0m.2.8h0m.2-1.3h0m.2-.1h0m.3-.5h0m.1.1h0m.1.5h0m-10.3 3.1h0m.7-.9h0m.3.3h0m.4-.3h0m.1 0h0m1.4-.8h0m.1 1.9h0m.4-1.5h0m.4-.3h0m0 1.6h0m.3-.4h0m.1-1h0m0 1.1h0m.1.4h0m.1-.5h0m.1.4h0m0 .2h0m.1-1.6h0m0 .9h0m.1.3h0m.1-.7h0m.1.6h0m.2-1.1h0m.1 1.3h0m.1-1.2h0m0 .1h0m.1-.1h0m.1 1.1h0m0 .2h0m.1-1h0m0 .6h0m0-1h0m0 1.3h0m.3-.1h0m0-.3h0m.4 0h0m.1-.6h0m.1-.5h0m.2.8h0m.2.6h0m.1-1.5h0m.1 1.7h0m0-.8h0m.6-.9h0m.1.8h0m0-.4h0m.3.6h0m0-.9h0m.1.3h0m.1 1.5h0m.2-.5h0m.1-.7h0m.1 1.1h0m.2-.3h0m.1-1h0m0-.1h0m.2.4h0m.3-.1h0m.1.3h0m.7.8h0m.1-.5h0m.4.1h0m1 .1h0m-13.1 1.5h0m1.4-.5h0m.8 1.3h0m.2-.5h0m.1.5h0m0-.5h0m.4-.1h0m.2.7h0m.4-.4h0m.3-.5h0m.1.4h0m.2-1h0m0 1.5h0m.1-1.7h0m.1 1.3h0m0-1h0m0-.3h0m.1.8h0m.2-.3h0m.2.7h0m.2.2h0m0-.9h0m.1.4h0m0 .5h0m0-.8h0m.2.7h0m.2 0h0m0-.5h0m.3.7h0m.1-.7h0m.1.9h0m.1-1.3h0m.1.5h0m0-.7h0m0 .9h0m.1-.9h0m0 .4h0m.1-.6h0m.1 1.1h0m0 .2h0m.1-1.3h0m.1 1h0m0 .2h0m.1.4h0m.2-.3h0m0-.8h0m0 .2h0m0-.9h0m0 1.2h0m0 .1h0m.1-1.2h0m.1.4h0m.1-.3h0m0 1.1h0m.1-.3h0m.2-.7h0m0 1.2h0m0 .4h0m.2-.5h0m.1-.2h0m0 .1h0m0 .2h0m.2-.9h0m.2.1h0m.1.7h0m.1-.6h0m.1-.4h0m.1.2h0m.2-.1h0m0 1.2h0m0-.7h0m.1.5h0m0-.6h0m.1.3h0m0-.9h0m.1.5h0m.3.1h0m0-.5h0m.3.8h0m0 .5h0m.1-1h0m.2.2h0m.1-.9h0m0 1.6h0m0 .3h0m.3-1.2h0m.3 1.2h0m.1-1h0m.1.8h0m.1.2h0m.8-.9h0m.2.2h0m.2.6h0m.1-.4h0m2.1-.3h0m-14.9 1.8h0m.8 0h0m0-.5h0m.3 1h0m.8-1.1h0m.1.2h0m.1.2h0m.4.8h0m.1-.4h0m.1.8h0m.2-.4h0m.2.4h0m.1-1.8h0m0 .4h0m.1-.1h0m.1-.4h0m0 1.3h0m0-.7h0m0 .2h0m.1.3h0m.2-.7h0m0 .6h0m.2.5h0m.1 0h0m0 .1h0m0-1.5h0m0 .2h0m.2-.3h0m.1 1.9h0m.1-.9h0m.3-.2h0m0 1.1h0m.1-.7h0m.1-.3h0m0 .7h0m.1-.2h0m0-.3h0m.2.1h0m.1-.9h0m.1.9h0m.2.2h0m.1-.6h0m.2-.6h0m.1 1.5h0m0-.2h0m.1-.8h0m0-.4h0m.2-.1h0m0 1.6h0m0-.1h0m.1-.8h0m.1-.5h0m.1.9h0m0-.1h0m0-.8h0m.1.8h0m0 .2h0m0-.8h0m0 1.1h0m.1-.2h0m0-1.1h0m0 1.3h0m0-.1h0m0 .2h0m0-.8h0m.1.7h0m0-.6h0m.1.4h0m0-.6h0m.1-.7h0m.1 1.4h0m.1-.6h0m0-1h0m.1 1.8h0m0-1.6h0m.1.8h0m.1.1h0m0-.5h0m.1.5h0m.1.5h0m.1-.6h0m0-1h0m.1.5h0m0 1.1h0m.1 0h0m.2-1.1h0m.4.5h0m.2-.3h0m.1-.7h0m0 .3h0m.1.2h0m.2-.2h0m.8 1.2h0m.1-1h0m0 1.4h0m.2-1.6h0m.1.9h0m.1-1h0m0 .3h0m0 .9h0m.1.4h0m0-.9h0m0-.9h0m0 1.4h0m.1.4h0m0-.8h0m0 .7h0m.6.1h0m.9-1.8h0m.1 1h0m0-.5h0m.1 0h0m.3 1h0m.5-1.3h0m.1.4h0m-14.4 1.4h0m1.1 1.4h0m.9-.6h0m.1.6h0m.1.4h0m.4-.7h0m.2.7h0m.2 0h0m0-1.7h0m0 1.2h0m.4.4h0m.2-.6h0m0-1h0m0 1.2h0m0-.8h0m.1 1.4h0m.3-.9h0m0-.8h0m.1 0h0m.4.6h0m.1-.2h0m0-.3h0m.2 1.5h0m0-.5h0m.1.2h0m.2-1.4h0m.1 1.5h0m.1-1.1h0m.1.3h0m.1-.8h0m0 1.3h0m0-1h0m0 .6h0m.1-.5h0m.1 1h0m.1-.1h0m0 .2h0m0-.5h0m.1-.8h0m0 .3h0m0 .2h0m0 1.2h0m.1-1h0m0-.8h0m.2.2h0m.1.8h0m.1-.5h0m.2.9h0m0-.1h0m0 .2h0m.1-.4h0m0 .6h0m.1 0h0m0-.5h0m0 .3h0m.1.1h0m0-.7h0m.2.1h0m.1-.8h0m0 .1h0m.1 1.1h0m0-1h0m0 1.3h0m.1-.3h0m0-1h0m.1.2h0m.1.6h0m0-.7h0m.1.9h0m0-1h0m0 .9h0m0-.3h0m.1.2h0m0-.7h0m0 .4h0m.1-1h0m.1 1.6h0m.1-1.3h0m.1 1.2h0m.2-.6h0m.1-.9h0m0 1.4h0m0 .1h0m.1-1.5h0m0 .3h0m0 .3h0m.1-.6h0m0 .3h0m0 .4h0m0 .2h0m.1-.9h0m0 1.3h0m0-1h0m.1 1h0m.1-1.3h0m.1 1.6h0m0 .3h0m0-1.7h0m.2 1.5h0m0-.9h0m0 .2h0m.1-.7h0m0 1.3h0m0-.9h0m.1.8h0m0 .2h0m0 .2h0m0-1.1h0m0 .2h0m.1.1h0m.1-.5h0m0 .8h0m.1.1h0m0 .2h0m.1.1h0m0-.9h0m0 .2h0m0-.9h0m.2.1h0m.1.4h0m0-.6h0m0 1.4h0m0 .2h0m.1-.5h0m.1-.3h0m0-.7h0m0 1.3h0m.1-1.2h0m0 1.5h0m.1-.4h0m.1-.1h0m0-.7h0m0 .3h0m.1.3h0m0-.1h0m0-.7h0m0 .9h0m.1-1.3h0m0 1.7h0m.1-.8h0m.1-.7h0m0 1.6h0m0-.8h0m0-1h0m.1.2h0m.2 1.4h0m0-.1h0m0-1h0m.1.1h0m.2-.1h0m.1 1.2h0m.1-.3h0m.1-.6h0m.1.6h0m0-.1h0m.1-.2h0m0 .6h0m0 .1h0m.1-.5h0m.1-.9h0m.1.2h0m.4 1.2h0m.1-.5h0m0-.3h0m.1.9h0m0-1.5h0m.1 1.5h0m.1-.7h0m0-.8h0m.3.9h0m.2.2h0m.2.3h0m.7-.5h0m.3-.6h0m.4 0h0m-15 3.1h0m.2-1.4h0m.6.9h0m.2-.9h0m0 1.1h0m.1-.5h0m.4 0h0m0 .2h0m.2-1.2h0m0 .6h0m.1.3h0m.7 1h0m.1-1.9h0m0 .2h0m.3 1.5h0m.1-.7h0m.3.5h0m.1-.8h0m.1.3h0m.1.9h0m.1-1.6h0m.1 1.5h0m.1-1h0m.1 1.1h0m0-1.9h0m.1.6h0m.1.2h0m0-.6h0m0-.1h0m.2.7h0m.2-.1h0m0 .2h0m.1.2h0m0-.5h0m.2-.4h0m0 .6h0m.1-.2h0m0 .2h0m0 .1h0m.1-.4h0m0 1.3h0m0 .1h0m0-.9h0m.3.6h0m.1-1.4h0m.1 0h0m0 1.2h0m0-.1h0m.2-1.1h0m.1 1.7h0m0-.9h0m0 .2h0m0-.9h0m.1 1.1h0m.1-1.3h0m0 .1h0m0 .4h0m0-.1h0m.1.5h0m.1-1h0m0 .7h0m0 1.2h0m0-1h0m.1.3h0m0-1h0m.2.4h0m0-.1h0m.1-.5h0m0 1.3h0m0 .2h0m0-1h0m0 1.3h0m.1-.2h0m0-.8h0m0 .3h0m0 .1h0m.1.4h0m0-1h0m0 .9h0m0-.7h0m.1-.3h0m.1.3h0m.1.6h0m0-.6h0m0 .9h0m.1-1.1h0m.1-.1h0m0 .8h0m.1-.4h0m0 .1h0m0-1h0m0 .3h0m0 1.2h0m.1-1.3h0m0 .2h0m0 .2h0m.1 0h0m.1-.3h0m0 1.1h0m0-.9h0m.1.2h0m0 .3h0m.2-.6h0m.1 0h0m0 .1h0m0-.4h0m.1 0h0m0 .9h0m0-.4h0m.1-.3h0m.1 1.4h0m.2-.3h0m0 .2h0m0-1.1h0m0-.5h0m.1 1.5h0m0-.1h0m0-.7h0m0 .4h0m.1.7h0m0-1.1h0m0-.7h0m0 1.2h0m0 .2h0m.1.2h0m0 .2h0m.1-1.6h0m0 .2h0m0 1.4h0m0-.8h0m.2.3h0m.1-.2h0m.1-.6h0m0 .7h0m0-.8h0m0 1.3h0m.1-.9h0m.1.3h0m0 .1h0m0-1h0m0 1.2h0m0-.5h0m.1 1h0m0-.1h0m.1-1.7h0m0 1.5h0m.1-.3h0m0-.6h0m0 1.2h0m.1 0h0m0-1.9h0m.1 1.4h0m0-.4h0m.1.6h0m0 .3h0m.1-.4h0m0-.2h0m.1-.9h0m0 1.2h0m0-1.1h0m0 .4h0m.2.8h0m0 .2h0m0-.8h0m0-.8h0m.1.8h0m0-.7h0m.1 1.4h0m0 .1h0m0-.5h0m.1-.9h0m0 .6h0m.1-1h0m0 1.2h0m0 .2h0m0-.9h0m.1-.4h0m0 .2h0m.1.9h0m.5-.7h0m.1 1.2h0m.3-1.5h0m0 .3h0m.1.3h0m.1.6h0m.1-.6h0m0 .5h0m.1.5h0m0-1.8h0m0 1.1h0m.5.7h0m2-.4h0m0-.9h0m20.6.2h0m-36.1 2.7h0m1.3-1h0m.7.2h0m.2 1h0m.2-1.1h0m.4 1.1h0m.3-.9h0m0-.4h0m.1 1.3h0m.4-.1h0m.1-.6h0m.3-.5h0m.1.9h0m.2-.2h0m.1-.4h0m.1-.1h0m0 .1h0m0 .3h0m.1-.9h0m.1.6h0m0 .9h0m.1-1.6h0m0 .3h0m0 .6h0m.1-.9h0m0 1.6h0m0 .1h0m.1-1h0m0 .2h0m0 .2h0m0-.9h0m.1 1.1h0m0 .5h0m.1-1.5h0m0 .2h0m0 1.2h0m.1-.2h0m0-.6h0m.1-.2h0m.1-.7h0m0 1.3h0m.1-.6h0m0 .1h0m0 .2h0m0-.8h0m0-.1h0m.1 1.2h0m.1-1.4h0m0 1.2h0m0 .1h0m0-1h0m0 1.2h0m.1-.9h0m0 1.3h0m0-.6h0m.1-.6h0m0 .6h0m0-1h0m0 .3h0m0-.1h0m.1-.3h0m0 1.3h0m.1-.5h0m0-.6h0m.1.3h0m0 .4h0m0-.8h0m0 1.1h0m0-1h0m0 1.2h0m.1-1.2h0m0 .2h0m.1-.3h0m0 .4h0m.2-.2h0m.1-.4h0m0 .4h0m.1-.1h0m.1-.2h0m2.4-.1h0m.3.4h0m.3-.1h0m0 .3h0m.1-.6h0m0 .5h0m0 .6h0m.1-.1h0m0-1h0m0-.1h0m.1.1h0m0 1.2h0m0-.7h0m.1.5h0m0-1.1h0m.1 1.7h0m0-.1h0m0-.8h0m0 .1h0m0 .6h0m.1-1.1h0m0 1.4h0m0-.9h0m.1.1h0m0-.6h0m.1.8h0m0-.9h0m.1.4h0m0 .9h0m.1-.8h0m0 .3h0m.1.4h0m0-1h0m0 .5h0m0-.9h0m0 1.2h0m.1.4h0m0-.1h0m.1-1.3h0m0 1.2h0m0 .2h0m.1.1h0m0-1.8h0m.1.3h0m0 1.4h0m0-1.1h0m.1 1.2h0m.1-1.3h0m0 .5h0m.2.5h0m0-1.1h0m0 .4h0m.1.3h0m0-1.1h0m.1 1.5h0m0 .4h0m.1 0h0m0-.1h0m0-1.7h0m.1 1.7h0m0-.8h0m.1.5h0m.4.1h0m.1-.5h0m0 .2h0m.1-.3h0m.1.5h0m.2-.4h0m.2-.3h0m.6-.3h0m0-.4h0m.2 1h0m.6.6h0m.4 0h0m-13 .7h0m.6 1.3h0m.2-1.2h0m.1.9h0m0-.5h0m.1-.1h0m.2-.4h0m0 1.1h0m0 .3h0m.1-.9h0m0-.7h0m.1 1h0m0-.8h0m.1.1h0m.1-.3h0m0 1.2h0m.2-.2h0m0-.9h0m.2.1h0m0 1.2h0m.1.3h0m0-1.1h0m0-.8h0m0 .1h0m0 .3h0m.1 1.3h0m0 .2h0m0-1h0m0 .1h0m.1-1h0m.1.1h0m0 .3h0m0 .3h0m.1-.5h0m0 .2h0m0-.1h0m0-.3h0m.1.2h0m0 .2h0m0 .1h0m0 1.3h0m0-1h0m.1.3h0m0-1h0m0 .7h0m.2.4h0m.2-.3h0m0-.7h0m.1.6h0m0-.7h0m.1 1.8h0m0-1.1h0m0 .2h0m0-.8h0m0-.1h0m0 .3h0m.1 1h0m0-.5h0m.1-.1h0m0 .2h0m0-.4h0m.2-.5h0m0 .2h0m.1-.2h0m4.4-.1h0m0 .2h0m.2.4h0m.1 0h0m0-.1h0m.1 0h0m0 .1h0m.1.5h0m0-.7h0m0 .3h0m0 .2h0m.2.5h0m0-.7h0m0 .2h0m0 .2h0m.1-.8h0m0 1.5h0m.1-.9h0m0-.8h0m0 .5h0m0 1.1h0m.1-1.6h0m0 .1h0m0 1.2h0m0-.8h0m.1.1h0m.1-.1h0m0-.6h0m.1.9h0m.1-.3h0m0 1.3h0m0-.6h0m0-.1h0m.1.5h0m0-1h0m0-.4h0m.1 1.1h0m0-.3h0m.1.2h0m.1.5h0m.2-1h0m0 .9h0m.1-1.3h0m0 1.4h0m.1-1h0m0 .1h0m.1-.6h0m.1.1h0m0 .3h0m.1.5h0m0-.7h0m.2-.3h0m.1.5h0m.1 1.2h0m.3-.9h0m.1-.8h0m.1 1.7h0m.4-.9h0m0-.3h0m.3-.6h0m0 .9h0m2.1.1h0m.4-.3h0m-16.3 2.7h0m0 .2h0m.1.1h0m0-.1h0m.1-.6h0m.2-1h0m.5-.1h0m.3 1h0m0 .3h0m.1-1h0m.1.4h0m.2.9h0m.4.3h0m0-.1h0m0-.8h0m.1.8h0m0-1.5h0m.1-.1h0m0-.1h0m.4 1.2h0m0 .3h0m.1-.5h0m.1 0h0m0 .6h0m0-.1h0m.1-.7h0m0-.8h0m.3.4h0m.1-.1h0m.2 1.5h0m0-.8h0m.1.8h0m0-1h0m.1-.7h0m0 .4h0m0 .2h0m.1-.2h0m0 .5h0m0-1h0m.1 1.2h0m0-.6h0m0 1.2h0m.1-1.3h0m0 1.2h0m0-.8h0m.1-.1h0m.1.4h0m0-.1h0m.1.5h0m0-.4h0m0-1.1h0m.1.9h0m0 .1h0m.1-.9h0m.1-.1h0m5.8.6h0m.1-.1h0m.1.4h0m0 .3h0m0 .3h0m0-1h0m.1.8h0m0-.8h0m0 .2h0m0 .9h0m.1-.3h0m0 .4h0m.1-.2h0m0-.6h0m0-1h0m.1 1.5h0m0 .3h0m0-.7h0m0-1.1h0m0 1.4h0m.1-1.2h0m0 1.2h0m.1-.8h0m0-.1h0m0 .5h0m0-.6h0m.1.8h0m.1 0h0m0-.9h0m.1-.4h0m0 .1h0m0 .1h0m.1.2h0m0 .3h0m0 1.2h0m0-1.1h0m.1-.7h0m.1.6h0m0 .4h0m.1-.9h0m0 .6h0m0 .4h0m.1-.4h0m.1-.1h0m.1.6h0m0-.5h0m0 .2h0m.2-.3h0m.1 0h0m.1.9h0m0-.8h0m.1 1.1h0m0-1.8h0m.2.6h0m.3.8h0m0 .2h0m1-1h0m.2.8h0m0-.5h0m.2.5h0m.9-.4h0m-16.3 2.3h0m.5.5h0m1-.1h0m1.1-1.1h0m.2 1.1h0m0-.8h0m.2-.4h0m.1.1h0m0-.6h0m.1 1.4h0m0 .3h0m.2-.5h0m.3-.3h0m.1.2h0m.2 0h0m0 .3h0m.1-1h0m0 .4h0m.1.4h0m0 .3h0m.1.2h0m.1-.4h0m0-1h0m0 .3h0m.1-.7h0m0 1.5h0m.1-1.2h0m.1 0h0m0 1.3h0m0-1.1h0m0 .1h0m0 .4h0m0 .1h0m.1 0h0m.1-.6h0m.1.2h0m0-.1h0m0-.6h0m6.5.5h0m.2.4h0m0 .1h0m0 .2h0m.1-.2h0m0 .3h0m0-.1h0m.1-.4h0m0-.8h0m0 .6h0m0 .9h0m0 .3h0m0-.1h0m0-1h0m.1 1.2h0m0-.9h0m0 .2h0m0-.8h0m0 .4h0m.1.3h0m0-.7h0m.1 1h0m0-.8h0m0-.1h0m.1-.3h0m0 1.4h0m.1-.4h0m.1.2h0m0 .4h0m0 .1h0m0-1h0m.2-.3h0m.1.2h0m.2.2h0m.1.4h0m0 .1h0m.1-.5h0m.1-.5h0m0 .7h0m.2.3h0m.2-1.1h0m.4.9h0m1.2-1.2h0m.2 1.7h0m.6-.4h0m11.1-.4h0m9 .9h0m-37.8 2h0m2-.9h0m.7 0h0m.4.9h0m.2-.6h0m.4.6h0m.3-.2h0m.2-1.5h0m.1.9h0m.1-.1h0m0-1h0m.1.2h0m0 1.4h0m0-.1h0m.1.4h0m0-1.5h0m.2 1.3h0m0-1.7h0m.1 1.6h0m0-.6h0m0 .9h0m.2-1.9h0m0 1.6h0m.2-.1h0m.1.4h0m0-1.9h0m0 1.8h0m.1.1h0m0-.6h0m.1-.7h0m.1-.2h0m0 1.2h0m.2-1.6h0m0 1.6h0m.1-.2h0m0-.8h0m.1 0h0m0 .3h0m0-.9h0m.1 1.8h0m0-1.6h0m.1.4h0m0 .3h0m0-.8h0m0 .9h0m0 .3h0m0-1h0m0-.1h0m7.2 0h0m0 1.5h0m0-1.1h0m0-.6h0m.1.3h0m0 .5h0m.1.3h0m0 .2h0m0 .3h0m.1-1.4h0m0 .3h0m0 .3h0m0 .2h0m.1-.9h0m0 1.4h0m0 .3h0m.1-1.4h0m0 1.5h0m0-.1h0m.1-1.5h0m.1.9h0m0 .5h0m.1-1.2h0m.1 1.3h0m0-1h0m0 .4h0m.1-.4h0m.2.1h0m0 .4h0m0-.1h0m0-1h0m.1 1.2h0m.1-.4h0m0 .5h0m.2-.2h0m0 .4h0m.1-1.5h0m.1 1.3h0m0 .3h0m.1-1.8h0m.1 0h0m.2.1h0m0 1.3h0m.1.2h0m0-1.6h0m.4 1.2h0m0-.1h0m.1-1.1h0m.4 1.4h0m.4.5h0m.3-.1h0m.1-1.3h0m2.4.2h0m8.3-.3h0m-26.1 2.1h0m.1.2h0m.8 1.1h0m0-1.7h0m.2 1.5h0m0-1h0m.7.9h0m.1-.3h0m0 .2h0m0 .2h0m.1-1h0m0 .3h0m0 .4h0m.1-1.2h0m.2 1.7h0m0-1.6h0m0 1.4h0m.1-1.6h0m0 1.7h0m0 .1h0m.1-.9h0m0 .4h0m0-1.1h0m.1 1.4h0m.1-.8h0m0 .6h0m0 .3h0m.1 0h0m.1-1.2h0m0 .3h0m.1-.6h0m0 1.5h0m.2-.3h0m0 .2h0m.2 0h0m0-.8h0m0-.5h0m.1.9h0m0-.1h0m0-.7h0m0 1.4h0m.1-.1h0m0 .2h0m0-1.9h0m0 1.2h0m.1-.5h0m0 .5h0m0-.1h0m0 .2h0m.1 0h0m0 .3h0m0-1.2h0m.1 1.4h0m0-.3h0m.1-.2h0m7.5-1.3h0m.1 1.3h0m0-.1h0m0-.7h0m0 .4h0m.1-.4h0m0 .9h0m.1.3h0m0 .2h0m0-1.7h0m.1.3h0m0 .2h0m0 .7h0m0-1h0m0-.1h0m.1 1.5h0m0-1.1h0m0 .2h0m0 .4h0m.1.6h0m0-.1h0m0-.6h0m0-.9h0m0 .2h0m.1.1h0m0 1.3h0m.2-.9h0m.1-.2h0m.1 1.1h0m.1-1.9h0m.1 1h0m0-1h0m0 1.5h0m.1-1.1h0m0 1.1h0m.1-1.4h0m0 .6h0m.1 1.2h0m0-1h0m.1.3h0m.3.5h0m0-.8h0m.2.1h0m.2-.3h0m0-.7h0m0 .3h0m1.4.2h0m.8 1.4h0m2.2-1.1h0m5-.5h0m11.7 1h0m-35 .9h0m0 .8h0m.8-.8h0m0-.1h0m.3 1h0m.1.4h0m.1-.1h0m.1-.8h0m.6 1h0m.3 0h0m.1.3h0m.1-.8h0m.1.6h0m.1-.3h0m0-1.1h0m.1.3h0m0 1.1h0m.1-.4h0m0-.3h0m.1.8h0m.1-.7h0m.1-.6h0m0-.5h0m0 .2h0m.2.3h0m0-.4h0m0 1.3h0m.1.2h0m0-.5h0m0 .1h0m.1-1.1h0m0 1.5h0m.1-1.1h0m0 1.2h0m0 .2h0m0-.5h0m0 .2h0m.1.1h0m0-.7h0m0 .5h0m.1-.5h0m.1-.1h0m7.7-.3h0m0 1.2h0m0-.9h0m0-.9h0m0 1.5h0m.1.1h0m0-1.1h0m0 .3h0m0 .7h0m.1.3h0m0-.4h0m0 .3h0m.2-.8h0m.1-.9h0m.1 1.3h0m0-1.1h0m.1 1.7h0m0-1.8h0m0 .7h0m.1.2h0m0-1h0m.2.9h0m0 .1h0m.1.4h0m0-.7h0m0-.1h0m.1.6h0m0 .7h0m.1-1.2h0m.1-.7h0m.1.4h0m.2.7h0m.2.2h0m0-1h0m.1.3h0m0-.1h0m.1.6h0m.1 0h0m.1-.3h0m.2 1.1h0m.4-1.1h0m.1.4h0m.3-.5h0m.4.5h0m.4-.7h0m-15.4 2.5h0m.5-1h0m.2 1.7h0m.3-.5h0m0-1h0m.2 1.2h0m0 .3h0m0-.9h0m.3.5h0m.3-.2h0m0-.5h0m.1.4h0m.2-.9h0m0 1.3h0m.1-.5h0m0-.8h0m.1.5h0m0 .3h0m.2.5h0m0-1.3h0m0 .4h0m.1 1.4h0m0-1.9h0m.1.6h0m.1 1.3h0m0-.9h0m0-.8h0m.2 1.7h0m0-1.9h0m0 1.8h0m.1-1.1h0m0-.5h0m.1 1.7h0m.1-.1h0m0-.8h0m.1.8h0m0-1.7h0m.1.9h0m0 .1h0m0 .4h0m0-1.1h0m0 .3h0m.1-.6h0m7.7 1.3h0m0-1.1h0m0 1.3h0m0-1.2h0m.1 1.4h0m0-1h0m0 .4h0m0 .4h0m0-.1h0m.1-1.3h0m0 1.2h0m0-.1h0m0-1h0m0 1.4h0m0-1h0m.1.3h0m0-.6h0m0-.1h0m.1 1.2h0m0-.9h0m.1.5h0m0 .3h0m.1-.3h0m0-.1h0m.1-.5h0m0 .1h0m0 .3h0m.1.1h0m0 .4h0m0-.9h0m0 .2h0m.3.9h0m.1-1h0m0 .4h0m0-.8h0m0-.1h0m0 .2h0m.3.9h0m0-.8h0m.1 1h0m.2-1.3h0m0 1.2h0m.2-.6h0m.3.2h0m.1 1h0m.2-1.1h0m0 .2h0m.1-.4h0m.5.3h0m.6-.1h0m18 .2h0m-35.9 1.6h0m2.9 1.1h0m.4-1.4h0m.1.3h0m.2-.5h0m.2.9h0m.2.4h0m.3-.1h0m.2-.5h0m0 .2h0m.2.2h0m.1-1h0m.2 0h0m.1 1.3h0m0-1h0m0 .3h0m.1-.8h0m.2 1.7h0m0-1h0m0 .3h0m0 .2h0m.1 0h0m0 .2h0m0 .2h0m.1.3h0m0-.6h0m0-1.1h0m0-.1h0m.1 1.1h0m0-.9h0m.1.1h0m0 .9h0m0 .2h0m0 .4h0m.1-1.4h0m.1.9h0m0 .5h0m.1-1.3h0m0-.1h0m0 1.2h0m0-.8h0m.1-.8h0m0 .9h0m.1.4h0m0 .4h0m0-1h0m0 .3h0m.1-1h0m0 .1h0m0 1.2h0m0 .2h0m7.5-.2h0m.1-.3h0m0 .3h0m.1-1h0m0 .3h0m.1 1.2h0m0-.9h0m.1.3h0m.1-.4h0m0-.6h0m0 .2h0m.1 0h0m0-.3h0m.1 0h0m0 .4h0m0 .1h0m0 1.2h0m0-1.9h0m.1.9h0m0 .7h0m.3.1h0m0-1.4h0m.2 1h0m.1-1.2h0m.1 1.5h0m0-.2h0m.2.4h0m0-.4h0m0-1h0m.3.7h0m.1-.3h0m.7.7h0m1.8-.9h0m-16.6 1.7h0m.2-.1h0m.5 1.6h0m.8-.1h0m.2-.8h0m.5 1h0m.2-1.4h0m.1-.5h0m0 .4h0m.1-.3h0m.2.1h0m.1 0h0m.2.6h0m.2.6h0m0 .4h0m.1 0h0m.1.1h0m.1-1.6h0m0 1.5h0m.1-.9h0m0 .2h0m0 .7h0m0-1h0m.1.1h0m0 .6h0m0-.9h0m.1-.6h0m.1.1h0m0 1.2h0m0-.7h0m.1 1.1h0m0 .2h0m.1-1.9h0m.1 1.1h0m0-1h0m0 1.3h0m0 .4h0m.1-.3h0m0-1.1h0m0 .7h0m.1 0h0m0-.4h0m0 1.2h0m0-.1h0m0-1h0m.1.1h0m0-.6h0m0 1.1h0m.1-.6h0m0 .4h0m0-.1h0m7.3-.3h0m0-.8h0m0 1.6h0m0-.9h0m0-.1h0m.1-.5h0m0 .2h0m0 1.2h0m.1-.4h0m0 .8h0m.1-.8h0m0 .3h0m0-.8h0m0 .3h0m.1-.4h0m0 .4h0m.1.4h0m0-.8h0m.1.1h0m0 1.2h0m0-.7h0m.1-.4h0m0 .5h0m0-1h0m.1.2h0m0 .9h0m0-.6h0m0-.1h0m.1.4h0m0-1h0m0 .3h0m.1-.2h0m.1 0h0m0 .2h0m.2.5h0m0 .3h0m.1.6h0m.1-.8h0m0 .1h0m0-.7h0m.3.7h0m.4.7h0m.2-1h0m.1.1h0m.1-.8h0m0 1.2h0m0-1.1h0m15.4 1.5h0m1.4-1.2h0m-33.2 2.1h0m3 0h0m.1-.5h0m.1 1.8h0m.2-.9h0m.4-.9h0m.6 1.9h0m.1-.5h0m.1-.8h0m0-.5h0m.1 1.5h0m.2-.7h0m.1.1h0m0 .3h0m.1-.6h0m0 .6h0m.1.3h0m0-.9h0m.2-.6h0m.1.4h0m0 .4h0m0-.1h0m.2.8h0m0 .3h0m.1-.1h0m.1-.7h0m.1-.8h0m0 1.3h0m0-.1h0m0-.9h0m0 .3h0m0-.8h0m.1.2h0m.1 1.5h0m0-1.1h0m0 .5h0m.1-.6h0m.1-.4h0m.1.6h0m0 .4h0m.1-1.1h0m0 .4h0m0 1.3h0m.1-.4h0m.1.3h0m6.6-.2h0m.1-.9h0m0 .9h0m0-.7h0m.1-.1h0m.1.8h0m0-.1h0m0-.8h0m.1-.3h0m0 .1h0m.1 1.4h0m0-1.1h0m0 .3h0m.1-.7h0m0 .3h0m0 .7h0m.1.6h0m.1-1.5h0m0 .2h0m0 .1h0m0 1.2h0m0-.9h0m0-1h0m0 1.2h0m.1.2h0m0-1.2h0m.1.2h0m.1-.4h0m0 1.3h0m.1.2h0m0 .4h0m.1-1.8h0m0 1.2h0m.1-.2h0m0-.1h0m0 .5h0m.1.2h0m.2-.7h0m0-.7h0m0-.1h0m.1 1.5h0m.3-.9h0m.1-.2h0m0 .1h0m0 .2h0m.1.1h0m.1-.9h0m0 1.7h0m.1-1.4h0m0-.2h0m.1 1.5h0m0-1.2h0m.2 1.2h0m0-.8h0m.2.2h0m.1 0h0m.6.4h0m1.5-.5h0m4.3-1h0m2.5.8h0m10.6.6h0m-34.4 1.3h0m2.5.1h0m.4.8h0m0-.9h0m.1.8h0m.2-.8h0m.1-.6h0m0-.1h0m0 1.6h0m.2-.6h0m.2 0h0m0-.8h0m.1.5h0m.2.7h0m0-.4h0m0-.9h0m.2 1.4h0m0 .2h0m0-.7h0m.1-.5h0m0 .2h0m0-.6h0m0 .1h0m.1.6h0m.1-.2h0m.1 0h0m0 .1h0m0-.3h0m.1-.1h0m.1.3h0m.1 1.1h0m.1-1.5h0m0 1.2h0m0-.8h0m.1-.3h0m0 1.2h0m0-1h0m0 .9h0m0-.8h0m0 .1h0m.1.9h0m.1 0h0m0 .2h0m0 .1h0m.1-1.1h0m.1.9h0m0-.4h0m5.8.6h0m.3-.1h0m0-.4h0m0-.9h0m0 .1h0m.1-.4h0m.1.3h0m.1-.2h0m0 .3h0m0 .5h0m0-1h0m.1.5h0m0 .6h0m.1-.9h0m0 .6h0m0-.7h0m.1.8h0m0-.8h0m.1.1h0m0 .2h0m.1-.1h0m0-.1h0m.1 1.6h0m.1-.9h0m0-.1h0m0-.7h0m.1.3h0m.2-.2h0m.1-.3h0m.1.1h0m0 1.7h0m.1-1.1h0m.1-.2h0m.1-.3h0m.1 1.5h0m.1-.4h0m0-.8h0m0 1.2h0m.2-.2h0m0-.9h0m.2-.4h0m.3.2h0m.5 1h0m.8-.9h0m4.8-.2h0m6.7.7h0m9.1.9h0m-36.7 1.9h0m.1-.5h0m1.1.3h0m0 .3h0m.1-1.8h0m.6 1.5h0m.4-.9h0m.4.5h0m.5-.4h0m.2.6h0m.1.3h0m.4-.2h0m.1-.9h0m.1.6h0m.2.2h0m.1-.1h0m.1.3h0m0-.7h0m0 .9h0m.1-1.3h0m0-.1h0m.1.3h0m.4-.6h0m.1.5h0m0 .4h0m0 .6h0m0 .1h0m0-1h0m.1-.6h0m0 1.6h0m.1-.1h0m.1-.9h0m.1.6h0m.1.3h0m0 .1h0m.1-.2h0m.2.3h0m0-.8h0m0-.9h0m0 .3h0m.1.1h0m0 1.3h0m.1-.7h0m.1-.5h0m0-.5h0m0 .4h0m.1 1.1h0m0 .2h0m0-.9h0m0 .2h0m.1-.1h0m0 .1h0m.1.7h0m.1.1h0m.1 0h0m0-.1h0m0-.1h0m4.6-.6h0m0-.1h0m0 .7h0m.1.2h0m0-.8h0m.1-.1h0m.1.4h0m.1-1h0m0 .4h0m.1.6h0m0-1h0m0 1.5h0m.1-.3h0m0-.9h0m0 .1h0m.1.2h0m0 .2h0m0 .3h0m.1-.1h0m0 .4h0m.1-1.8h0m0 1.3h0m0-.4h0m.1-.6h0m0 .2h0m0 1.3h0m0-.9h0m0-.1h0m0 .2h0m0-1h0m0 1.2h0m0-1.1h0m.1 1.3h0m0-.1h0m.1-.6h0m0 .6h0m0-1.1h0m0 .1h0m.2.1h0m.1-.4h0m0 .2h0m.1.9h0m.1.8h0m0-.6h0m.1.6h0m0-.5h0m.1.4h0m0-.1h0m.1-.3h0m0-.6h0m.2 1.1h0m.2-1.2h0m.1-.4h0m0 .9h0m.1-.7h0m0 .2h0m.7-.6h0m.4.7h0m0-.7h0m.1 1.7h0m.2-1.3h0m.2 1.2h0m.4-1.3h0m.6-.1h0m-13.6 2.2h0m0 1h0m.7.1h0m.2-.2h0m0-1.4h0m.1.7h0m.1-.6h0m0-.1h0m.4 1h0m0 .3h0m.2-.3h0m.2 0h0m.1-.9h0m.2 1.4h0m0-1h0m.1.1h0m.1-.6h0m.1 1h0m0-.1h0m0 .4h0m0-1.1h0m.1.2h0m0-.1h0m.2.6h0m0-.8h0m0 1.2h0m.2-1.1h0m0 .4h0m.1.4h0m.1.1h0m0-1.1h0m0 .6h0m0 .2h0m.1.1h0m0-.8h0m0 1.5h0m0 .1h0m0-1h0m.1-.1h0m0-.3h0m.1.6h0m0-.6h0m0 1.3h0m.1-.1h0m.1 0h0m0-1h0m0 1.3h0m0-1.1h0m.1-.1h0m0 .1h0m.1-.1h0m0 1.3h0m0-1h0m0-.8h0m0 1.1h0m0-1h0m.1 1.2h0m0-.8h0m0 .3h0m0-.8h0m.1 1.6h0m0-.8h0m.1.3h0m.1.4h0m0 .2h0m0-.6h0m.2.4h0m0 .1h0m.1-.3h0m.1.2h0m2.7.1h0m0-.1h0m.1.2h0m0-.1h0m.1 0h0m.1-.8h0m0 .2h0m.1.5h0m.1-1.2h0m0 1.2h0m0-1h0m0 .5h0m0 .2h0m0-.8h0m.1.4h0m0 .5h0m.1.2h0m0-.8h0m0-.8h0m0 1.2h0m0-.1h0m0 .2h0m0 .2h0m0-1h0m.1-.4h0m0 .1h0m0 1.2h0m0-1h0m0 1.2h0m.1-.7h0m0-.7h0m0 1.3h0m.1-.3h0m0-1.1h0m0 .1h0m0 .4h0m.1 0h0m.2-.3h0m.2 1.5h0m0-1h0m0 .2h0m0 .1h0m0 .2h0m.2-.5h0m.1.7h0m0-.6h0m.1.6h0m0 .1h0m0-.7h0m.1-.2h0m0 .4h0m0 .3h0m.1.5h0m0-.9h0m0 .2h0m.1.3h0m.1-1.2h0m.1.7h0m0-.8h0m0 .3h0m.1.6h0m.1-.2h0m.2.1h0m0 .2h0m0-.1h0m0-.5h0m.1-.4h0m.1 1.1h0m.1-.8h0m.3.2h0m0 .8h0m.1.3h0m.4-.2h0m0-.8h0m0-.5h0m.3.6h0m.1-.9h0m.1.6h0m.3.7h0m.6.3h0m.3-1h0m9.7.8h0m1.3-.6h0m-24.6 1.6h0m1 .4h0m.1-.2h0m.3-.3h0m.2.8h0m.1-1.1h0m0 .7h0m.1.4h0m.2-.9h0m.1.7h0m0 .1h0m.1.6h0m.3-.9h0m.1.9h0m.1-1.3h0m.1 1.4h0m.2-.1h0m0-.5h0m0-.8h0m.2 1.5h0m0-1.6h0m.1.7h0m.2.8h0m.2-.3h0m0-.9h0m.1 1.4h0m0-1h0m.1.1h0m.1-.8h0m0 .1h0m0 1.4h0m.1-.1h0m0-.7h0m.1.6h0m.1-.9h0m0-.6h0m0 .9h0m0-.6h0m.2.1h0m.1 1.5h0m0-1.9h0m.1.3h0m0 1.5h0m0-.6h0m.1-.5h0m0-.5h0m0 1.1h0m.1-.8h0m0 .3h0m0-.6h0m.1 1h0m0 .5h0m.1.2h0m0-.9h0m.2-.2h0m0 .7h0m0-.9h0m0 .3h0m.1-.3h0m0-.5h0m0 1.2h0m.1-1.2h0m0 1.8h0m0-1.1h0m.1-.5h0m0 1.2h0m.1.1h0m0-1h0m0 1.3h0m0-.1h0m.1-1.5h0m0 1.2h0m0-.8h0m.1-.2h0m0 .1h0m.1-.2h0m0 1.3h0m0-1.1h0m0 .3h0m.1.8h0m0 .2h0m.2-.9h0m0 .4h0m.1-1h0m.2.6h0m.2-.4h0m0-.2h0m0 .3h0m.1 1.2h0m.2-.2h0m0-.4h0m.1.1h0m0-1h0m.1.7h0m0 .1h0m0-.8h0m.1.8h0m.1-1h0m0 1.2h0m0-.9h0m.2.1h0m.1-.6h0m0 1.3h0m0-1.1h0m0 .3h0m0 .4h0m.1-.1h0m.1.2h0m.1.6h0m.1-1h0m0 .9h0m0-1h0m.1.3h0m0-.2h0m.1.6h0m0-1.1h0m.1 1.7h0m0-1.3h0m.1-.5h0m0 .2h0m0 1.3h0m0-1h0m0 1.3h0m0-1.1h0m.1.2h0m0 .6h0m0-1h0m.1-.3h0m0 1.3h0m.1-1.4h0m0 1.5h0m.1-1.4h0m0 1.4h0m.1-1.3h0m.1.1h0m.1 1.3h0m0 .1h0m.1-1.6h0m.3 1.1h0m0 .4h0m0-.7h0m.2-.6h0m.1-.4h0m0 .3h0m0 .2h0m.1.6h0m0 .4h0m.3-.8h0m.1.3h0m0 .8h0m.2-1.3h0m.1.1h0m.1 1h0m0-1.6h0m0 1.3h0m.1-1.2h0m.2.9h0m0-.9h0m.1 1.6h0m0-1h0m.1.7h0m.3.2h0m.3-1.4h0m.1 1.4h0m.4-.4h0m.8-1.2h0m.8 1.9h0m.3-.5h0m6.2.5h0m15.8-1.5h0m-36.2 3.5h0m.1-1.2h0m.3-.7h0m0 1.7h0m.2-.2h0m.1-.3h0m.6-.5h0m.1-.5h0m.3 1.4h0m.1-1.5h0m.3.8h0m.2-.1h0m.1 0h0m.3-.4h0m.2.3h0m0 .9h0m.7-.3h0m.2-.4h0m.1-.4h0m.1 1.2h0m0-1.7h0m.1.5h0m0 .7h0m0-1.1h0m0 .3h0m.1 1.4h0m.1-.1h0m0-1.7h0m.1 1.8h0m.1-1.2h0m0 .2h0m0 .3h0m.2-.9h0m0 1.5h0m0-1.1h0m.1.7h0m0-1h0m0 .2h0m0 .2h0m.1-.4h0m0 .4h0m.1-.7h0m.1 1h0m0-.4h0m.1.8h0m.1-.8h0m0 .9h0m0 .4h0m.1-1.5h0m0 .1h0m0 1.3h0m0-1h0m.1.8h0m0 .1h0m0-.7h0m0-.8h0m.1.7h0m.1-.4h0m0 .6h0m.1-.6h0m0 1.3h0m.1-1.6h0m0 .3h0m0-.5h0m.1.5h0m0 1.3h0m0-.5h0m0-1h0m.1.3h0m0 1.2h0m0-1.1h0m0-.4h0m0 1.3h0m.2-.3h0m0-.7h0m.1 1h0m0-1h0m0 .8h0m.1.4h0m.1-.7h0m0-1h0m0 1.2h0m0 .5h0m0-.1h0m.1-.6h0m0-.3h0m0 1.1h0m0-1h0m.1-.9h0m.1.4h0m0 1.3h0m.1-1.1h0m0 1.1h0m.1-.5h0m0-.7h0m0 1.2h0m0 .1h0m.1-1h0m0-.8h0m.1 1.2h0m0 .3h0m0-.9h0m0 .3h0m.1.1h0m0-1h0m.1 1.3h0m.1-1.3h0m.1.1h0m0 1.3h0m.1.2h0m0-.9h0m0 .6h0m.1.2h0m0-1h0m.1.6h0m0 .3h0m.1-.4h0m.1.5h0m0-.7h0m.1 1h0m.1-1.8h0m0 1.5h0m0-.1h0m0-.8h0m.1.1h0m.1 1.2h0m.1-1.5h0m.1 1.3h0m.1-1.6h0m0 1.2h0m.1.2h0m.1-1.4h0m0 1.4h0m.1-1.2h0m.1.4h0m0 .2h0m0-.6h0m.1-.2h0m0 .2h0m.1 1.3h0m0-.6h0m.4-.5h0m.1.4h0m.2 0h0m0-.3h0m.1.1h0m.4.9h0m.2-.3h0m.3 0h0m0-1h0m.6 1.2h0m0-.8h0m.7-.4h0m12.5-.2h0m-26.7 3.2h0m2.6-1.1h0m.4.9h0m.1.1h0m.1-1.2h0m.6 1.5h0m.1.1h0m0-.8h0m0-.7h0m.7 1.7h0m.9-1.6h0m0 1.3h0m0-.8h0m.2 1h0m.1-1.7h0m.2.6h0m.1.8h0m0 .3h0m.1-1.4h0m.2.4h0m.1.1h0m0 .2h0m.1.3h0m0-1.1h0m0 .5h0m.2.7h0m.1.4h0m.1-1.1h0m0-.6h0m.1.6h0m.1-.6h0m0 1.2h0m.2.6h0m.1-1.8h0m.1.3h0m0 1.2h0m.1 0h0m0 .3h0m.1-1h0m0 .2h0m0 .6h0m.1-.2h0m.1.1h0m0-1.2h0m.1.5h0m.1-.8h0m.2.6h0m0 1.1h0m.1-.7h0m0-.8h0m0-.3h0m.1.1h0m.5 1.3h0m.1.5h0m.1-1.6h0m.1 1.1h0m.2-1.4h0m.2.3h0m.1 1.2h0m.1-1.1h0m.1-.2h0m.3 1.6h0m.2-1.3h0m.3.9h0m.2-1.1h0m.1 1.5h0m0-1.7h0m.2.7h0m0-.7h0m0 .3h0m0 1.2h0m.1-.5h0m0-.8h0m.3-.1h0m.1.8h0m0 .5h0m.7.3h0m.1-1.1h0m.1-.4h0m.4.6h0m3.4-.5h0m24.4.2h0m-39.7 1.4h0m.9 0h0m2.1.2h0m.2 1.1h0m0-.9h0m0 .5h0m.2-.7h0m.2.4h0m.6.5h0m0 .2h0m.1.4h0m0-1.4h0m.2.8h0m.1.2h0m0-.5h0m.2-.1h0m.2.1h0m.1-.8h0m.1.6h0m0 .6h0m.1.1h0m.2-.2h0m0-.1h0m.4-.2h0m.1 0h0m0 .4h0m.1.1h0m.1-1.1h0m0 .2h0m0 .5h0m.1-.8h0m.2 1.1h0m.2-.1h0m0-.9h0m0 .5h0m.1.8h0m0-.9h0m.1.3h0m.1.7h0m.2.2h0m.1-.3h0m0-.8h0m0 1.2h0m.4-.4h0m.1-.2h0m.1-.1h0m0-.6h0m.5.7h0m0 .5h0m0-.9h0m.3.4h0m0 .1h0m.4-1.2h0m.1.4h0m0 1.2h0m.2-.9h0m.2-.9h0m.1.6h0m.3 0h0m.1 0h0m.3-.5h0m26.8.7h0m-35.9 1.6h0m.7 1.3h0m.3-1.4h0m.1.3h0m.1 1h0m.2-.1h0m.1-1.4h0m1.8.4h0m.1-.3h0m.1.2h0m.5 0h0m.4 0h0m.1-.1h0m.1.2h0m.3-.5h0m0 1h0m.1-.2h0m.1-.6h0m.2.3h0m.1-.5h0m.1 1.4h0m0-.5h0m.4.4h0m.3.3h0m.1-.5h0m.3.6h0m.4-.4h0m.1.4h0m0 .1h0m.1-1.5h0m.6 1.1h0m.4-.3h0m.6-1h0m.2 1.1h0m.1-.2h0m0-.8h0m.7-.1h0m0 .5h0m1 1.3h0m-10.2 1h0m1.5-.8h0m.2 1.5h0m.1-.9h0m.2.8h0m1.3-.7h0m.5-.6h0m0 1.1h0m.1-1.2h0m.1-.1h0m.3.1h0m0 .2h0m.6 1.1h0m.1-1.4h0m.4 1.8h0m.3-.1h0m0-.8h0m.2-.9h0m.2 1.4h0m.1-.8h0m0-.6h0m.4 1.2h0m.8-.3h0m.7-.9h0m.2.9h0m.3.7h0m.5-.3h0m-10.8 2.3h0m2.4-.3h0m.2.6h0m1.9-1.1h0m.5.4h0m1.5-.1h0m.1-1h0m1.5 1.1h0m.4-1.1h0m.4.6h0m4-.3h0m-10.1 3.3h0m2.6-.5h0m.2-.5h0m.1-.1h0m.2.2h0m.4.2h0m.2-1h0m.5.3h0m.2.1h0m6.6-.4h0m-12.1 2.4h0m2.6-.4h0m1.4.5h0m0 .3h0m.8-.3h0m1.6.8h0m.1-.1h0m.5-.4h0m.5-.8h0m1.3 0h0m-1.9 2.4h0" stroke="#000" stroke-opacity="0.5" stroke-width="0.6" stroke-linecap="square" fill="none"/>
<clipPath id="cf7"><rect x="286" y="159.6" width="23.9" height="79.2"/></clipPath><g clip-path="url(#cf7)">
<path d="M301.4 216.2l-.6.1-.6-.3-.7-.8-.6-1.5-.9-3.9-.4-4.5.2-4.8.7-4.5.5-1.9.6-1.3.6-.7.6-.3.6.1.6.6 1.1 2.6.8 3.9.3 4.2-.2 4.5-.5 3.9-.9 3-.6 1-.6.6Z" fill="#000" fill-opacity="0.12"/>
<path d="M300.8 215.5l-.6-.3-.6-.7-.9-2.4-.6-3.5-.3-4.2.2-4.2.7-3.9.9-2.5.6-.8.6-.3.6.2.6.6 1 2.5.7 3.9.3 4.5-.3 4.5-.7 3.6-1 2.3-.6.6-.6.1Z" fill="#000" fill-opacity="0.12"/>
<path d="M301.4 214.7l-.6.2-.6-.3-1-1.8-.8-3.3-.4-4.2.1-4.2.6-3.9.9-2.6.6-.8.6-.4.6.2.6.7.8 2 .7 3 .3 3.9-.1 3.9-.5 3.6-.8 2.7-1 1.3Z" fill="#000" fill-opacity="0.12"/>
<path d="M301.4 214.3l-.6.2-.6-.3-.9-1.7-.8-3.3-.4-3.9.2-4.2.5-3.6.8-2.4.6-.9.6-.3.9.4 1 2 .6 3 .4 3.9-.1 3.9-.5 3.3-.8 2.7-.9 1.2Z" fill="#000" fill-opacity="0.12"/>
<path d="M301.1 214l-.6-.1-.6-.5-.8-1.8-.6-3-.3-3.6.2-3.9.6-3.6.9-2.4.9-.8.6.2.3.3 1 2.1.6 3 .3 3.9-.2 3.6-.5 3.3-.9 2.5-.9.8Z" fill="#000" fill-opacity="0.12"/>
<path d="M301.4 213.5l-.6.2-.6-.3-.9-1.7-.6-2.8-.3-3.6.1-3.9.5-3.5.9-2.4.9-.8.6.2.3.3.9 2 .6 2.7.2 3.3 0 3.6-.4 3-.7 2.4-.9 1.3Z" fill="#000" fill-opacity="0.12"/>
<path d="M301.4 213.1l-.3.2-.6-.1-.6-.7-.4-.9-.7-2.7-.3-3.6.1-3.6.4-3.3.9-2.4.9-.8.6.2.3.3.8 1.8.6 2.7.2 3 0 3.3-.4 3-.6 2.2-.9 1.4Z" fill="#000" fill-opacity="0.12"/>
<path d="M301.1 212.9l-.6-.1-.3-.3-.9-1.8-.5-2.7-.2-3 .1-3.3.4-3 .8-2.2.9-.9.6.2.3.4.7 1.6.6 2.7.2 3.3-.1 3.3-.5 3-.6 1.8-.9 1Z" fill="#000" fill-opacity="0.12"/>
<path d="M300.8 212.5l-.5-.3-.4-.5-.6-1.6-.5-2.7-.1-3 .1-3 .5-2.8.6-1.7.3-.5.6-.4.6.2.3.4.8 1.8.5 2.7.1 3.3-.2 3.3-.5 2.7-.7 1.6-.3.3-.6.2Z" fill="#000" fill-opacity="0.12"/>
<path d="M301.4 211.9l-.3.2-.6-.1-.8-1.3-.6-2.4-.3-2.7.1-3.3.4-3 .6-1.9.3-.5.6-.4.6.2.3.3.6 1.4.4 2.1.3 2.7 0 3-.4 2.7-.6 2.1-.6.9Z" fill="#000" fill-opacity="0.12"/>
<path d="M301.1 211.7l-.6-.1-.3-.3-.6-1.3-.5-2.3-.2-2.7.1-3 .4-2.4.5-1.7.3-.5.6-.5.6.2.3.4.6 1.5.4 2.1.2 2.7-.1 3-.4 2.4-.6 1.8-.7.7Z" fill="#000" fill-opacity="0.12"/>
<path d="M300.8 211.3l-.6-.5-.7-1.6-.3-2.1-.2-2.7.1-2.7.5-2.4.6-1.5.6-.5.3 0 .5.5.6 1.5.5 2.4.1 2.7-.2 2.7-.3 2.1-.6 1.5-.3.4-.6.2Z" fill="#000" fill-opacity="0.12"/>
<path d="M301.1 210.8l-.6-.1-.7-1.2-.5-2.1-.2-2.4.1-2.7.4-2.4.6-1.5.6-.6.6.3.6 1.2.5 2.1.2 2.4-.1 2.4-.3 2.1-.6 1.9-.6.6Z" fill="#000" fill-opacity="0.12"/>
<path d="M300.8 210.4l-.6-.5-.6-1.6-.4-3.9.1-2.1.4-2.1.5-1.4.6-.5.6.2.6 1.3.4 2.2.2 2.4-.2 2.4-.4 2.1-.6 1.3-.6.2Z" fill="#000" fill-opacity="0.12"/>
<path d="M301.1 209.9l-.6-.1-.6-1.2-.5-3.6 0-2.1.3-2.1.5-1.4.6-.7.6.3.5 1.2.5 3.6-.1 2.4-.2 1.8-.4 1.2-.6.7Z" fill="#000" fill-opacity="0.12"/>
<path d="M301.1 209.5l-.6-.2-.5-1-.5-3.3.1-2.1.2-1.8.4-1.2.6-.7.6.4.3.6.4 1.5.2 2.1-.3 3.8-.3 1-.6.9Z" fill="#000" fill-opacity="0.12"/>
<path d="M300.8 208.9l-.5-.6-.3-.9-.3-3 .3-3 .3-.9.5-.7.3.1.3.3.3.7.3 1.4.1 2.1-.1 2.1-.3 1.4-.3.7-.6.3Z" fill="#000" fill-opacity="0.12"/>
<path d="M301.1 208.3l-.3.1-.3-.3-.3-.7-.4-2.4.2-3 .4-1.2.4-.4.3.1.5.9.4 2.4-.2 3-.4 1.1-.3.4Z" fill="#000" fill-opacity="0.12"/>
<path d="M301.1 207.6l-.3.1-.3-.3-.3-.9-.2-1.5.2-2.7.3-.9.3-.3.3.1.3.4.4 2.2-.1 2.1-.3 1.3-.3.4Z" fill="#000" fill-opacity="0.12"/>
<path d="M301.1 206.9l-.3.1-.3-.5-.3-1.5.2-2.1.4-1 .3 0 .3.7.2 1.2-.1 1.8-.4 1.3Z" fill="#000" fill-opacity="0.12"/>
</g>
<path d="M301.1 218.3l-.9-.3-.6-.6-.6-1-.7-1.8-.9-4.5-.3-5.4.2-5.7.8-4.8 1.2-3.3.6-.9.9-.5.9.3.6.7 1.2 3 .9 4.6.3 5.4-.2 5.4-.8 4.8-1.1 3.1-.6.9-.9.6Z" fill="none" stroke="#000" stroke-width="0.6"/>
<path d="M301.4 217l-.9.1-.6-.5-.6-.8-.6-1.5-.9-4.2-.4-4.8.2-5.4.7-4.5 1.1-3.3.8-1 .6-.3.6.1.6.6.6 1 .6 1.7.8 3.9.4 5.1-.1 4.8-.6 4.2-1.1 3.4-.6.9-.6.5Z" fill="none" stroke="#000" stroke-width="0.6"/>
<path d="M301.4 216.2l-.6.1-.6-.3-.7-.8-.6-1.5-.9-3.9-.4-4.5.2-4.8.7-4.5.5-1.9.6-1.3.6-.7.6-.3.6.1.6.6 1.1 2.6.8 3.9.3 4.2-.2 4.5-.5 3.9-.9 3-.6 1-.6.6Z" fill="none" stroke="#000" stroke-width="0.6"/>
<path d="M300.8 215.5l-.6-.3-.6-.7-.9-2.4-.6-3.5-.3-4.2.2-4.2.7-3.9.9-2.5.6-.8.6-.3.6.2.6.6 1 2.5.7 3.9.3 4.5-.3 4.5-.7 3.6-1 2.3-.6.6-.6.1Z" fill="none" stroke="#000" stroke-width="0.6"/>
<path d="M301.4 214.7l-.6.2-.6-.3-1-1.8-.8-3.3-.4-4.2.1-4.2.6-3.9.9-2.6.6-.8.6-.4.6.2.6.7.8 2 .7 3 .3 3.9-.1 3.9-.5 3.6-.8 2.7-1 1.3Z" fill="none" stroke="#000" stroke-width="0.6"/>
<path d="M301.4 214.3l-.6.2-.6-.3-.9-1.7-.8-3.3-.4-3.9.2-4.2.5-3.6.8-2.4.6-.9.6-.3.9.4 1 2 .6 3 .4 3.9-.1 3.9-.5 3.3-.8 2.7-.9 1.2Z" fill="none" stroke="#000" stroke-width="0.6"/>
<path d="M301.1 214l-.6-.1-.6-.5-.8-1.8-.6-3-.3-3.6.2-3.9.6-3.6.9-2.4.9-.8.6.2.3.3 1 2.1.6 3 .3 3.9-.2 3.6-.5 3.3-.9 2.5-.9.8Z" fill="none" stroke="#000" stroke-width="0.6"/>
<path d="M301.4 213.5l-.6.2-.6-.3-.9-1.7-.6-2.8-.3-3.6.1-3.9.5-3.5.9-2.4.9-.8.6.2.3.3.9 2 .6 2.7.2 3.3 0 3.6-.4 3-.7 2.4-.9 1.3Z" fill="none" stroke="#000" stroke-width="0.6"/>
<path d="M301.4 213.1l-.3.2-.6-.1-.6-.7-.4-.9-.7-2.7-.3-3.6.1-3.6.4-3.3.9-2.4.9-.8.6.2.3.3.8 1.8.6 2.7.2 3 0 3.3-.4 3-.6 2.2-.9 1.4Z" fill="none" stroke="#000" stroke-width="0.6"/>
<path d="M301.1 212.9l-.6-.1-.3-.3-.9-1.8-.5-2.7-.2-3 .1-3.3.4-3 .8-2.2.9-.9.6.2.3.4.7 1.6.6 2.7.2 3.3-.1 3.3-.5 3-.6 1.8-.9 1Z" fill="none" stroke="#000" stroke-width="0.6"/>
<path d="M300.8 212.5l-.5-.3-.4-.5-.6-1.6-.5-2.7-.1-3 .1-3 .5-2.8.6-1.7.3-.5.6-.4.6.2.3.4.8 1.8.5 2.7.1 3.3-.2 3.3-.5 2.7-.7 1.6-.3.3-.6.2Z" fill="none" stroke="#000" stroke-width="0.6"/>
<path d="M301.4 211.9l-.3.2-.6-.1-.8-1.3-.6-2.4-.3-2.7.1-3.3.4-3 .6-1.9.3-.5.6-.4.6.2.3.3.6 1.4.4 2.1.3 2.7 0 3-.4 2.7-.6 2.1-.6.9Z" fill="none" stroke="#000" stroke-width="0.6"/>
<path d="M301.1 211.7l-.6-.1-.3-.3-.6-1.3-.5-2.3-.2-2.7.1-3 .4-2.4.5-1.7.3-.5.6-.5.6.2.3.4.6 1.5.4 2.1.2 2.7-.1 3-.4 2.4-.6 1.8-.7.7Z" fill="none" stroke="#000" stroke-width="0.6"/>
<path d="M300.8 211.3l-.6-.5-.7-1.6-.3-2.1-.2-2.7.1-2.7.5-2.4.6-1.5.6-.5.3 0 .5.5.6 1.5.5 2.4.1 2.7-.2 2.7-.3 2.1-.6 1.5-.3.4-.6.2Z" fill="none" stroke="#000" stroke-width="0.6"/>
<path d="M301.1 210.8l-.6-.1-.7-1.2-.5-2.1-.2-2.4.1-2.7.4-2.4.6-1.5.6-.6.6.3.6 1.2.5 2.1.2 2.4-.1 2.4-.3 2.1-.6 1.9-.6.6Z" fill="none" stroke="#000" stroke-width="0.6"/>
<path d="M300.8 210.4l-.6-.5-.6-1.6-.4-3.9.1-2.1.4-2.1.5-1.4.6-.5.6.2.6 1.3.4 2.2.2 2.4-.2 2.4-.4 2.1-.6 1.3-.6.2Z" fill="none" stroke="#000" stroke-width="0.6"/>
<path d="M301.1 209.9l-.6-.1-.6-1.2-.5-3.6 0-2.1.3-2.1.5-1.4.6-.7.6.3.5 1.2.5 3.6-.1 2.4-.2 1.8-.4 1.2-.6.7Z" fill="none" stroke="#000" stroke-width="0.6"/>
<path d="M301.1 209.5l-.6-.2-.5-1-.5-3.3.1-2.1.2-1.8.4-1.2.6-.7.6.4.3.6.4 1.5.2 2.1-.3 3.8-.3 1-.6.9Z" fill="none" stroke="#000" stroke-width="0.6"/>
<path d="M300.8 208.9l-.5-.6-.3-.9-.3-3 .3-3 .3-.9.5-.7.3.1.3.3.3.7.3 1.4.1 2.1-.1 2.1-.3 1.4-.3.7-.6.3Z" fill="none" stroke="#000" stroke-width="0.6"/>
<path d="M301.1 208.3l-.3.1-.3-.3-.3-.7-.4-2.4.2-3 .4-1.2.4-.4.3.1.5.9.4 2.4-.2 3-.4 1.1-.3.4Z" fill="none" stroke="#000" stroke-width="0.6"/>
<path d="M301.1 207.6l-.3.1-.3-.3-.3-.9-.2-1.5.2-2.7.3-.9.3-.3.3.1.3.4.4 2.2-.1 2.1-.3 1.3-.3.4Z" fill="none" stroke="#000" stroke-width="0.6"/>
<path d="M301.1 206.9l-.3.1-.3-.5-.3-1.5.2-2.1.4-1 .3 0 .3.7.2 1.2-.1 1.8-.4 1.3Z" fill="none" stroke="#000" stroke-width="0.6"/>
<rect x="309.9" y="160.5" width="54.1" height="76.6" fill="none" stroke="#000" stroke-width="1.2"/>
<path d="M286 238.8V159.6H365.6V238.8H286" fill="none" stroke="#000" stroke-width="1.35"/>
<line x1="282.6" y1="163.25" x2="286" y2="163.25" stroke="#000" stroke-width="0.9"/>
<line x1="284" y1="166.25" x2="286" y2="166.25" stroke="#000" stroke-width="0.9"/>
<line x1="284" y1="169.25" x2="286" y2="169.25" stroke="#000" stroke-width="0.9"/>
<line x1="284" y1="172.25" x2="286" y2="172.25" stroke="#000" stroke-width="0.9"/>
<line x1="284" y1="175.25" x2="286" y2="175.25" stroke="#000" stroke-width="0.9"/>
<line x1="282.6" y1="178.25" x2="286" y2="178.25" stroke="#000" stroke-width="0.9"/>
<line x1="284" y1="181.25" x2="286" y2="181.25" stroke="#000" stroke-width="0.9"/>
<line x1="284" y1="184.25" x2="286" y2="184.25" stroke="#000" stroke-width="0.9"/>
<line x1="284" y1="187.25" x2="286" y2="187.25" stroke="#000" stroke-width="0.9"/>
<line x1="284" y1="190.25" x2="286" y2="190.25" stroke="#000" stroke-width="0.9"/>
<line x1="282.6" y1="193.25" x2="286" y2="193.25" stroke="#000" stroke-width="0.9"/>
<line x1="284" y1="196.25" x2="286" y2="196.25" stroke="#000" stroke-width="0.9"/>
<line x1="284" y1="199.25" x2="286" y2="199.25" stroke="#000" stroke-width="0.9"/>
<line x1="284" y1="202.25" x2="286" y2="202.25" stroke="#000" stroke-width="0.9"/>
<line x1="284" y1="205.25" x2="286" y2="205.25" stroke="#000" stroke-width="0.9"/>
<line x1="282.6" y1="208.25" x2="286" y2="208.25" stroke="#000" stroke-width="0.9"/>
<line x1="284" y1="211.25" x2="286" y2="211.25" stroke="#000" stroke-width="0.9"/>
<line x1="284" y1="214.25" x2="286" y2="214.25" stroke="#000" stroke-width="0.9"/>
<line x1="284" y1="217.25" x2="286" y2="217.25" stroke="#000" stroke-width="0.9"/>
<line x1="284" y1="220.25" x2="286" y2="220.25" stroke="#000" stroke-width="0.9"/>
<line x1="282.6" y1="223.25" x2="286" y2="223.25" stroke="#000" stroke-width="0.9"/>
<line x1="284" y1="226.25" x2="286" y2="226.25" stroke="#000" stroke-width="0.9"/>
<line x1="284" y1="229.25" x2="286" y2="229.25" stroke="#000" stroke-width="0.9"/>
<line x1="284" y1="232.25" x2="286" y2="232.25" stroke="#000" stroke-width="0.9"/>
<line x1="284" y1="235.25" x2="286" y2="235.25" stroke="#000" stroke-width="0.9"/>
<line x1="282.6" y1="238.25" x2="286" y2="238.25" stroke="#000" stroke-width="0.9"/>
<path d="M288.5 238.8v2.2M289.9 238.8v2.2M291.3 238.8v2.2M292.7 238.8v2.2M294.1 238.8v2.2M295.5 238.8v2.2M296.9 238.8v3.2M298.3 238.8v2.2M299.7 238.8v2.2M301.1 238.8v2.2M302.5 238.8v2.2M303.9 238.8v2.2M305.3 238.8v2.2M310 238.8v2.2M314 238.8v2.2M317 238.8v2.2M319 238.8v2.2M320.5 238.8v2.2M321.5 238.8v2.2M322.5 238.8v2.2M323.3 238.8v2.2M324 238.8v3.2M330 238.8v2.2M334 238.8v2.2M337 238.8v2.2M339 238.8v2.2M340.5 238.8v2.2M341.5 238.8v2.2M342.5 238.8v2.2M343.3 238.8v2.2M344 238.8v3.2M350 238.8v2.2M354 238.8v2.2M357 238.8v2.2M359 238.8v2.2M360.5 238.8v2.2M361.5 238.8v2.2M362.5 238.8v2.2M363.3 238.8v2.2M364 238.8v3.2" stroke="#000" stroke-width="0.8"/>
<text x="339.95" y="168.45" font-size="8" text-anchor="middle">0.11</text>
<text x="337.65" y="233.6" font-size="8" text-anchor="middle" textLength="24.6" lengthAdjust="spacingAndGlyphs">Vehicle</text>
<text transform="translate(277.1,199) rotate(-90)" x="0" y="0" font-size="9.8" text-anchor="middle" textLength="18.9" lengthAdjust="spacingAndGlyphs" class="c">FSC-A</text>
<text x="292.9" y="254.15" font-size="9.2" textLength="21.1" lengthAdjust="spacingAndGlyphs" class="c">TNF-&#945;</text>
<text x="322.3" y="254.15" font-size="9.2" textLength="35.8" lengthAdjust="spacingAndGlyphs" class="c">Pacific Blue</text>
<path d="M407.7 163h0m5.8-1h0m3.5 1.5h0m.3-.6h0m.1-.3h0m-9.9 2.2h0m2.8.4h0m.7-1.1h0m.7 1.7h0m.3-1.8h0m.6 1.3h0m4.6-.1h0m3.2-.3h0m18.4.4h0m5.1-1h0m1.5 1.2h0m1.6-.2h0m-38.6 2.1h0m2.4.5h0m.6-1.3h0m1 .1h0m1.3-.7h0m.5 1.6h0m.1-.3h0m1.6.2h0m.4-1.3h0m1.1 0h0m.6 1.5h0m.3-1.2h0m21.3.5h0m11.4-.8h0m-42.7 2.2h0m.1.4h0m1.8.3h0m1 .8h0m.3-1.3h0m.2 1.2h0m1.8-.5h0m1.1.1h0m.7.5h0m.3-.3h0m1.2-.1h0m.2-.5h0m.7-.3h0m.1.1h0m14.1-.4h0m5.5 1h0m1.8-.4h0m.7.7h0m5.3-.1h0m.5-.6h0m2.4.7h0m-44.7 2.2h0m3.3-1.3h0m.4 1.1h0m.2-.2h0m1.1-.2h0m1.1-.7h0m1.7-.5h0m.6 1.3h0m.3-1.1h0m.8.5h0m2 .6h0m.9-1h0m4.7 0h0m1.8.8h0m17.5-1.1h0m6.3.1h0m12.6 1.5h0m-49.3 1.5h0m.1.6h0m.2-1.3h0m.1 0h0m.1.2h0m.1-.5h0m.4 1.6h0m.1-.3h0m1.3-.1h0m.3.5h0m0-.8h0m.1-.4h0m.4-.6h0m.2 1.4h0m.5-1h0m.5 1.2h0m.4.1h0m.5-1.7h0m.9 1.1h0m0 .5h0m.3-.2h0m0-1.1h0m.1 1.2h0m.1-1.1h0m.8.8h0m.6-.2h0m2.2.2h0m1.2-.1h0m17.2-.9h0m13.4.8h0m1.7-.6h0m7.7 1.4h0m7.8-1.1h0m-63.4 2.6h0m1.9-1.1h0m1.2.7h0m.9-.5h0m0 1.4h0m.5-1.1h0m.1.4h0m.2-.9h0m.2-.3h0m.7 1.5h0m0-.8h0m.3-.5h0m0 .7h0m.6.7h0m.1-.7h0m.2.1h0m.5.7h0m.3-.1h0m.2-1.6h0m.1 1.7h0m0-.4h0m.2-.5h0m.2.4h0m.1 0h0m.4.1h0m0 .5h0m.1 0h0m.2-1.7h0m.1.7h0m.4-.1h0m0-.3h0m.1-.4h0m1 .6h0m.2.7h0m.1-1.3h0m1.3 1.7h0m12.8-1.6h0m9.2.3h0m25.7-.2h0m3.4.6h0m-62.7 3.1h0m.6-1.6h0m.8.8h0m.2.4h0m0 .2h0m.2-1.1h0m.2.7h0m.2.1h0m1.9.2h0m.3-1.6h0m.2.9h0m.7.8h0m0-1.5h0m.2-.2h0m.3 1.1h0m.3.8h0m.2-.8h0m.2-.1h0m.1.3h0m.1-.1h0m.3.6h0m0-1.7h0m.1 1.5h0m.1-.9h0m.1 0h0m.1 1.1h0m0-.3h0m.2-.9h0m.1 1h0m.7.1h0m.3-1.2h0m.2.3h0m.1.3h0m0 .8h0m.2-1.9h0m1.3.4h0m.4.1h0m.1.9h0m.4-.6h0m.5.3h0m.1-.7h0m1.2 1.3h0m.9-1.7h0m18.4.1h0m26.5 1.5h0m-59.5 2.2h0m1.9-1.5h0m.7 1.6h0m.4-.9h0m.1.2h0m.2.2h0m.7-1.1h0m.2.7h0m.1.6h0m.8-.7h0m.3.1h0m.1-1h0m.1 1.5h0m.1-1.3h0m.1 1.5h0m.2-1h0m.3.4h0m0-.6h0m.2-.1h0m.6.3h0m.1.1h0m.2.2h0m0 .3h0m.2-.7h0m.3.8h0m0 .4h0m.2 0h0m.3-1.1h0m.2-.4h0m.2 1.6h0m0-.7h0m0-.7h0m.4.4h0m0-.6h0m.1 1.6h0m.4-1.1h0m.3.4h0m.1 0h0m.1-.9h0m.1 1.2h0m.1.4h0m.2-1.7h0m.3 1.3h0m.2.2h0m.2-.5h0m0-.5h0m.3.6h0m0-1h0m.2 1.5h0m.4-.4h0m.3.2h0m.3-1.5h0m.5 1.1h0m1.2.5h0m6.5-1.7h0m5.4.8h0m13.9 1h0m11.1-.6h0m7.4.6h0m1.6-1.4h0m-59.3 2.6h0m.4-.4h0m.5 1.2h0m.1-1.6h0m.2 1h0m.1.3h0m.2.4h0m.8-1h0m.5-.3h0m.1-.5h0m.3 1.3h0m.3-.2h0m.2-.1h0m.4-.9h0m.5.7h0m.1.1h0m.2-.1h0m.2.6h0m0-1.5h0m.1 1.2h0m.1 0h0m.1 0h0m.1.2h0m0-.8h0m0-.6h0m.3.9h0m0 .9h0m.2-.2h0m.3-.3h0m.4.2h0m0-.5h0m.2.1h0m.1-.7h0m0 .3h0m0-.7h0m.9 0h0m0 .5h0m.1 1.1h0m.1-1.1h0m.3.9h0m.5.2h0m0-.1h0m.1.1h0m1.1.3h0m.1-.3h0m.2-.7h0m.2.4h0m.5.1h0m1.9-1.3h0m1.1 1.4h0m.9.3h0m8.2-.9h0m2.9-.6h0m7.6.4h0m5.8.2h0m4.5-.9h0m7.2.7h0m.3.7h0m1.6-1.4h0m10.8 1.1h0m-65.3 1.6h0m.5.5h0m.3-.9h0m1.1 1.6h0m1.3-.4h0m.1.2h0m.1-1h0m.1-.2h0m.1.7h0m.1-.3h0m.2.6h0m.1-.8h0m.2 1.1h0m.1-1.1h0m.1.1h0m.4-.7h0m0 1.4h0m.2.3h0m.3-.6h0m.4-.4h0m.3-.8h0m.1.4h0m0 .3h0m.1 0h0m.1-.4h0m0-.1h0m.1.8h0m.1.2h0m.1.1h0m.2-.6h0m0 .2h0m0-.7h0m.1 1.3h0m.2-1.3h0m.3 1h0m0 .2h0m0-1h0m.2 1.4h0m0 .1h0m.2-.9h0m0 .4h0m0-.5h0m.1.7h0m0-.6h0m.1-.8h0m.1.5h0m.1-.2h0m0 1.4h0m0-1.1h0m.2.4h0m.2.7h0m0-1.1h0m0 .4h0m.1.6h0m0-.6h0m0-.9h0m0 1.3h0m.3-.6h0m0 .9h0m.1-.9h0m.1.1h0m0-.4h0m.1-.6h0m.1 0h0m0 1.7h0m0-.8h0m.1.4h0m0 .1h0m.1-.1h0m.3-.8h0m.2-.2h0m0 1.3h0m.2-1h0m.2.7h0m.1-.5h0m.1-.1h0m0 .3h0m.5-.4h0m.3 1.2h0m.4-.8h0m.4.4h0m1.6-.4h0m.2-.9h0m.2 1.5h0m.1-.5h0m.5-.1h0m.8.5h0m6.8-.5h0m6.4-.7h0m12.6.2h0m18 .9h0m-59.6 1.4h0m1.5.9h0m.5-.2h0m.4-.8h0m.1.8h0m.4 0h0m.3-.9h0m.1.1h0m0-.2h0m.1.6h0m.3-.7h0m.4.9h0m.2.1h0m.3.4h0m.2-1.6h0m0 1h0m.1.2h0m0 .4h0m0-1h0m.3.1h0m.2-.3h0m0 1.2h0m.5-1.9h0m.1 1.4h0m.4.2h0m0-.3h0m.2.4h0m.1-1.1h0m0 .2h0m.1.7h0m.3-.8h0m.1-.5h0m.1.6h0m.2-.5h0m.1.3h0m0-.5h0m.1.5h0m.2.4h0m.1-.3h0m.1.1h0m.1-.8h0m0 .2h0m.1 0h0m.7 1h0m0-.8h0m.2-.1h0m0 1.1h0m0-.7h0m.1.1h0m.2-.2h0m0 1.2h0m0-.8h0m.1.6h0m0-.9h0m0 .3h0m.2-.6h0m0 .6h0m0 .3h0m0-1h0m0 1.2h0m.2-1.5h0m0 1.5h0m.4-1.5h0m.1 1.3h0m0-.8h0m.1 1.4h0m0-.7h0m.3-1h0m.1 1.3h0m.2-1h0m0 1.2h0m.1-.6h0m.1-.8h0m.1.4h0m.4.1h0m.1.6h0m.1-.1h0m0-1h0m.1 1.6h0m0-1.7h0m0 1.3h0m.2-1.3h0m.1 1.4h0m.3-1.4h0m.6.8h0m1.4.3h0m.3-.5h0m1.2.1h0m1.9-.1h0m12.4-.6h0m0 1.3h0m.8-.7h0m3.4.3h0m4.9.5h0m.8-1.5h0m.1.2h0m1.6.3h0m3.2-.2h0m.7.6h0m2.9-.2h0m10.9.1h0m4.4-.1h0m-65 1.4h0m1.2 1.2h0m0-.6h0m.5 0h0m.4.1h0m.1-.2h0m1.3 1.1h0m.1-1.2h0m.3 1h0m.1-1.3h0m0 1.1h0m.3-.6h0m.2-.6h0m.1.7h0m0 .2h0m.1-.9h0m.1 0h0m0 .3h0m.2.8h0m.1-1h0m.1.2h0m.2 1.2h0m.1-.7h0m.3-.9h0m.3 1.6h0m0-.8h0m.1.6h0m.1-1h0m.1.3h0m0 .1h0m.1-.9h0m4.3.2h0m.3-.1h0m.3.2h0m0-.3h0m.3.2h0m.1 1.2h0m.1-.5h0m.1.2h0m0 .1h0m.2-1.1h0m0 1.3h0m.4-1.1h0m.4 1.1h0m.1-.7h0m0 1.2h0m0-.9h0m.1.4h0m.2-.1h0m.1-.7h0m.8 1h0m.3-.4h0m.6-.2h0m.9.5h0m2.4.3h0m3.6-.7h0m1.8-.1h0m0-.5h0m1.6.8h0m3.5.4h0m1.9-1.6h0m5.3 1.3h0m.5.1h0m1.4-.9h0m1.5-.3h0m5.8.3h0m6.3.2h0m14.1.6h0m2.3-1h0m-65.1 3.2h0m.5-.9h0m.2.9h0m.1-.4h0m.6-.9h0m0 1.4h0m.1-1.5h0m.1.7h0m.5-.6h0m0 .8h0m.1.3h0m0 .2h0m.1-1.1h0m.2.4h0m.1 0h0m.2-.3h0m.1 0h0m5.9-.3h0m0 .3h0m.2.7h0m.1-.6h0m.2.6h0m0 .1h0m0 .4h0m0 .1h0m.1-1.1h0m.3-.3h0m.2-.3h0m.1.9h0m0 .1h0m.1.6h0m.2-.3h0m.1-.6h0m.2.1h0m.1-.9h0m0 .6h0m.3 0h0m.2.9h0m.4-.5h0m.2-.9h0m.2-.2h0m.2 1.1h0m.3.5h0m1.4.2h0m11.9-.8h0m.1-1h0m4.8 1.6h0m4.5-1.2h0m1.2 1.1h0m5.3-1.3h0m2.5.9h0m.7.1h0m3.4-1.2h0m7.8 1.6h0m-59.6 1.5h0m3.1-.9h0m.8 1.6h0m.1-1.6h0m.1-.1h0m.1 1.5h0m.1-.3h0m.3-1.3h0m0 1h0m.1-.1h0m.1-.2h0m.1-.5h0m.1 1.2h0m.1-.3h0m.1-.1h0m.2-.7h0m0 .2h0m.2-.5h0m.1.2h0m.1.1h0m0-.1h0m7.4.6h0m0-.6h0m.2 1.3h0m.1-.4h0m0-.4h0m.1.3h0m.1-.6h0m.5.2h0m.1 1h0m0-.7h0m.2.4h0m0-.7h0m0 .6h0m.8.5h0m.1.2h0m0-1.4h0m.6.9h0m2.1-.9h0m.2.5h0m1.6-.3h0m2.5 1h0m1-1.1h0m.3-.5h0m5 1.7h0m1.1 0h0m4.6-.3h0m1 .4h0m.3-1.7h0m6.9 1.4h0m5.4.3h0m.3-1.1h0m3.6 1.1h0m1.3-.1h0m3.8-1h0m11.7.2h0m-71.9 1.3h0m4.7.8h0m.2.1h0m.1-.7h0m.9.1h0m.5.4h0m.1.5h0m.6-.9h0m.3.3h0m0 .2h0m.1-.8h0m.1 0h0m0 .6h0m0-.1h0m.1.6h0m.2-1.4h0m0 1.4h0m.1.4h0m0-1h0m.2.3h0m0-.8h0m.1.1h0m.1 0h0m8.4.3h0m0 .4h0m.1-1.1h0m.1.9h0m0 .8h0m.1.2h0m.2-.2h0m.2.2h0m.1-1.7h0m.1.9h0m.1.2h0m.1-.5h0m0-.8h0m.1.9h0m.2.9h0m.1-.4h0m.2-.8h0m1.1.8h0m.8-1.3h0m0 1.3h0m3.8-.5h0m.3.4h0m2.9-.7h0m1.5.4h0m.1.2h0m.5-.9h0m1.1 1.5h0m2.9-1.4h0m.4-.3h0m.5 1h0m1.7.7h0m1.9-.6h0m.4.7h0m.4-.7h0m.1.2h0m2.6.2h0m.8-.9h0m2.5.2h0m1 .7h0m.2-.3h0m.5-.7h0m.2.5h0m.1-.6h0m1.6.7h0m3.6-.6h0m1.2 1.2h0m2-1.1h0m10.4-.1h0m-62.2 1.9h0m1.2-.3h0m.2.9h0m.1.2h0m.2.1h0m.4-1.2h0m.7 1.7h0m.1-.9h0m.1.1h0m.7-.2h0m.1.8h0m.1-1.1h0m.3 0h0m.1.2h0m.2-.8h0m.1.1h0m9.1.8h0m0-.1h0m.1 1.1h0m0-1h0m0 .4h0m.1.2h0m0-.6h0m.3-.7h0m.1.4h0m.1-.4h0m.5.3h0m.1-.3h0m.1 1h0m.3-.3h0m.4.8h0m0 .1h0m.1.1h0m.2-.9h0m.9.9h0m.2-.9h0m2.4.2h0m4.7-.7h0m1.8.2h0m2.8.5h0m1-1h0m.4.2h0m.7.5h0m1.5.4h0m1.5 0h0m.6.5h0m.1-.6h0m1.9.5h0m2.6-1.7h0m.1.8h0m.4 1h0m.8 0h0m.6.1h0m1-1.6h0m.5 1.4h0m1.5.1h0m3.3-1.4h0m1.6.6h0m4.1-.4h0m.9-.1h0m11.2.6h0m7.4.3h0m-72.7 1.5h0m.3 0h0m.4.6h0m.8-1h0m.4 1.2h0m.4-1.5h0m.1 1.5h0m.1-1.3h0m.2.7h0m.1.8h0m.2-1.1h0m.1-.3h0m0 1.2h0m.4-1.4h0m.1.8h0m0-.4h0m.1-.4h0m.1.8h0m.1.5h0m0 .2h0m.2-1h0m.1-.3h0m.1.6h0m.2-.9h0m9.9.2h0m0 1.3h0m.2 0h0m.2-1.4h0m0 1.6h0m.2-.4h0m.5.3h0m0-1.7h0m.2 1.2h0m.3.1h0m0 .3h0m.1-.1h0m.7-.9h0m.1.5h0m1 .5h0m.8.1h0m.5-1.6h0m1.5 1.2h0m1.1.5h0m.1 0h0m2.7-.7h0m.5-.7h0m1.2.9h0m1.7-.5h0m.6.4h0m1-.9h0m.6-.4h0m.1.8h0m1.2.6h0m.4.5h0m.1-1.7h0m.4.8h0m.3.7h0m.2-.6h0m0-.2h0m.2-.6h0m0-.1h0m.2 1.2h0m.4-1h0m.2-.4h0m.6 1.7h0m.8-1.2h0m.3.1h0m.2 1h0m.5-1.1h0m.1 1h0m.3-.9h0m.8.4h0m.2.7h0m3.4-.1h0m.7-.3h0m.6.6h0m.5-1.5h0m.3 1.2h0m.2-1h0m2.5.2h0m.8-.8h0m.7.9h0m1.6 0h0m1.8-.6h0m-52.6 1.8h0m1.5.6h0m2.1.5h0m0-1h0m.1 1h0m.6 0h0m.3-1h0m.1.6h0m.4.5h0m.5.3h0m0 .2h0m.1-.3h0m.1.3h0m.1-1.1h0m0 .8h0m10.1-1.4h0m.2-.1h0m0 .4h0m.2 1.2h0m.5 0h0m.2-.4h0m.3-.4h0m.1-.1h0m.2 1.1h0m0-1.6h0m.2 1.5h0m.1-.6h0m.1-1.1h0m.2 1h0m.1-.5h0m.9.4h0m1 .7h0m.3-1.2h0m1.2.4h0m.6.1h0m.8.3h0m0-.5h0m.6-.7h0m.5.1h0m.4.4h0m.4-.4h0m.7.6h0m1 1.1h0m.3.1h0m1.4-.5h0m.3.4h0m.1-1.4h0m1.2 1.5h0m.6-.2h0m.2-.4h0m.3-.7h0m.5-.5h0m.3 0h0m0 1.3h0m.1-.3h0m.5-.6h0m.5-.5h0m.1.7h0m.3-.5h0m.1 1.3h0m.1-1.1h0m.1-.1h0m.4 1.5h0m.2-1.4h0m.1.4h0m.5-.2h0m.2 1.2h0m.4.1h0m0-.5h0m.1.5h0m.4-.9h0m.2-.8h0m.3 1.2h0m.2-1.1h0m.4.1h0m.1 1.2h0m.1.3h0m.6-.4h0m0 .2h0m.1-1.4h0m.4.7h0m.3.9h0m.1-1.8h0m0 1.3h0m.4.5h0m.7-.4h0m.7-.5h0m.1-.7h0m1.3.1h0m.1.9h0m.1-.2h0m.8-.1h0m1.2.4h0m.2 0h0m.3-.2h0m.2-1h0m0 .8h0m.1-.3h0m.2 1.1h0m.6-.1h0m.4.2h0m.2-1.9h0m.6.7h0m.3-.2h0m1.4-.3h0m.4.5h0m.4.4h0m.6.1h0m.1.3h0m.1-.4h0m.2-.7h0m.1 1h0m1.4.4h0m1-1.5h0m2.9 0h0m.4.1h0m.9 1.1h0m6.9 0h0m6.7-.4h0m-70.6.9h0m2.7 1.5h0m.4-1.2h0m.5 1.3h0m.7-1.3h0m0 .5h0m.1.4h0m0 .7h0m.1-1.5h0m.1.7h0m.1-.6h0m.3-.2h0m.1 1h0m.2-.2h0m.1.8h0m0-.6h0m0 .2h0m0-.8h0m.1-.3h0m10.5.1h0m.1.5h0m.1-.2h0m.1.9h0m0-.5h0m0-1.1h0m.2 1.3h0m0 .3h0m.3 0h0m.1-1.7h0m0 .3h0m.2 1.6h0m.2-.1h0m.1-.7h0m.2.1h0m0-.6h0m.2 1.2h0m.2-.9h0m.4-.4h0m.2.6h0m.9.6h0m0-1.6h0m.8 0h0m.1 1.8h0m.6-.4h0m.2-.9h0m.1.7h0m.1.4h0m0-1.7h0m.4.4h0m.1 1.2h0m.2-1.4h0m.9 1.5h0m.4-1.7h0m0 1.6h0m.2-1.5h0m.2 1.2h0m1.4-.9h0m.1-.4h0m.5 1.6h0m.4.2h0m0-1.1h0m.9 1h0m.3-1.1h0m.1-.1h0m.5-.5h0m.5.2h0m.3-.2h0m.1 1.8h0m.5-.3h0m.3-.2h0m0-1.2h0m1.5 0h0m0 1.2h0m.3.4h0m.4-1.3h0m.1 1h0m.4-1.2h0m.1-.1h0m.2 1.8h0m.3-.2h0m.3-1.2h0m.3.2h0m.1.2h0m.1.8h0m.2-.1h0m.2-.4h0m.1.7h0m0-.7h0m.1-.6h0m0 .2h0m.3.9h0m.1 0h0m.1-1.2h0m.5-.5h0m0 .4h0m.3 0h0m.3 1.3h0m.1-.4h0m.3-.8h0m.2 1h0m.3-.3h0m.2-.5h0m.4-.5h0m.1.9h0m0-1h0m0 .4h0m.4 1.2h0m.1-1.4h0m.1-.3h0m.1 1.7h0m0-1.7h0m.6 1.4h0m.2-1.2h0m0 .2h0m0 1.3h0m.4.2h0m.2-.7h0m.1.1h0m.1-.7h0m0 .3h0m.5-.5h0m.2 1.3h0m.2.2h0m.1-.4h0m0 .3h0m.2-1.2h0m.3-.2h0m.1 1.1h0m0 .1h0m.1-.4h0m.3.5h0m.4-.8h0m0 .7h0m.3-.8h0m.2.5h0m.3.5h0m.1.1h0m.2-.2h0m.1.1h0m0-.7h0m.2 0h0m0-.7h0m0 .2h0m0 1.2h0m.2-1.3h0m.1-.2h0m.4-.3h0m.2.3h0m0 .5h0m.2.5h0m.4-.7h0m.2 1h0m0-1h0m0 1.2h0m.4-.3h0m.1-1.4h0m1 .4h0m.1.6h0m0-.1h0m.4.8h0m.1 0h0m.3-1h0m.2 1.1h0m.1-1.5h0m2 .9h0m.5-.6h0m1 .7h0m0 .2h0m.4.2h0m0-1h0m.2-.2h0m.5.5h0m5.4-.4h0m5.9-.4h0m1.1.1h0m-62.9 2.5h0m.3.5h0m.5-.2h0m.2-.5h0m.6.4h0m.6.4h0m.4 0h0m.2.2h0m.2 0h0m.1-.2h0m0 .2h0m.1-1.1h0m10.8-.5h0m.7.3h0m.3.6h0m.1-1h0m.6.3h0m.3 1.6h0m.2-1.7h0m.1.7h0m.8-.8h0m.1.8h0m0 .2h0m.7.6h0m.1-.1h0m0 .3h0m.1-.8h0m.2.8h0m.2-.3h0m.1-.2h0m.1.3h0m0-.6h0m0-1.1h0m.3.5h0m0 .1h0m0 .8h0m.3.4h0m.2-.8h0m.6-.7h0m.8.3h0m.2-.5h0m.1 1.7h0m.2 0h0m.2-1.1h0m.1.5h0m.4-.7h0m.3.1h0m.1-.4h0m.1 1.2h0m.3.2h0m0-1.2h0m.4 1.4h0m.1-.9h0m.2-.6h0m.1 1.6h0m.5-.8h0m.1.7h0m.3-.8h0m.3.4h0m0 .2h0m.1.3h0m0-1.9h0m.2 1.2h0m.1.7h0m0-.5h0m.2-.3h0m.6.6h0m.1-1.5h0m.1-.2h0m.1 1.3h0m.1-1.2h0m.1 1.6h0m.1-.3h0m.3.3h0m.2-.1h0m0 .3h0m.1-1.9h0m.1.9h0m0-.5h0m.1 1.4h0m.2-.8h0m.1.5h0m.1-1.1h0m.1.9h0m0-.1h0m0-1h0m.3.2h0m0 .7h0m.1-.7h0m.1.3h0m.1.8h0m0 .4h0m0-.1h0m0-.6h0m.1-.5h0m.1.7h0m.4-1.4h0m.1 1.2h0m0 .1h0m.3.2h0m.1.1h0m.6-.1h0m.2-.2h0m.4-.6h0m.4.4h0m0-1.1h0m.7 1.2h0m.3-1h0m0 .5h0m.1-.5h0m0 .1h0m.1.1h0m0 .7h0m.1-1.1h0m0 .5h0m.3.7h0m0-.8h0m0 .2h0m.3-.3h0m.2.1h0m.9.4h0m.1-.3h0m0 .2h0m.1-.7h0m.1.7h0m0-.7h0m.1 0h0m.4.9h0m.2 0h0m0 .1h0m.1-.2h0m.1-.8h0m.6.7h0m.1-.2h0m.3-.4h0m.1.2h0m0 .7h0m.3-.2h0m.5.1h0m.1-.3h0m.2.4h0m.1-.1h0m.1-.9h0m.1.6h0m.6-.4h0m.1.2h0m.1.2h0m.1-.1h0m0 .1h0m.1 0h0m.1-.6h0m0 .4h0m.4.3h0m.1.8h0m.1-1.5h0m0 1.5h0m.1-.1h0m.1-1h0m.2.9h0m0 .2h0m.1-.5h0m.1.7h0m.2-1.2h0m.1-.2h0m.1 1.3h0m.1-.8h0m0-.7h0m.1 1.5h0m0-1h0m.3.6h0m.1-.2h0m.1-.6h0m.2.5h0m.1.8h0m.1-.9h0m.1.8h0m.1-1.1h0m.2.4h0m0 .3h0m.1 0h0m.1.6h0m0-1.5h0m.2 1.5h0m.1-.5h0m.2-.6h0m.3 0h0m0 1.2h0m.3-1.5h0m.1-.2h0m0 1.3h0m.2.1h0m0-.5h0m.2.5h0m.1.2h0m.5-.9h0m.1-.3h0m.5.5h0m.1-.6h0m.6.6h0m.3-1.1h0m.2 1.1h0m.3-.1h0m0 .1h0m.1 0h0m0 .2h0m.1-.9h0m0 .3h0m.4.2h0m0-.4h0m.7.5h0m.1.8h0m.4-.5h0m0-.5h0m.5 1h0m.1-.6h0m0-1.1h0m0 1.3h0m.2-1.3h0m0 1.3h0m.3-.6h0m.4.3h0m0-.4h0m.1-.6h0m.1 1.5h0m0-1.4h0m.1.5h0m0 1.1h0m0-1.8h0m.4.6h0m1.6.1h0m2.3-.3h0m.3.2h0m.2 1.3h0m1.7-1.3h0m4.6-.3h0m-62.4 3.1h0m.8-1.1h0m.6-.2h0m.3 0h0m.1 1.4h0m.5-.4h0m.7-1.1h0m0 .3h0m.2.7h0m.1.4h0m.2-.6h0m0-.6h0m.2.4h0m.1.5h0m0-1.1h0m.1.1h0m.1.7h0m.2.7h0m0-.6h0m11.2.3h0m.1 0h0m.1-.8h0m0 .9h0m.1-.1h0m.1-.8h0m.1.8h0m.1-.6h0m0 1.1h0m.2-.3h0m0-.5h0m.1-.7h0m.2.5h0m0 .2h0m0 .2h0m0 .2h0m.1.5h0m0-1.4h0m0 1.1h0m.3.3h0m.1-1.4h0m.3-.4h0m0 1.9h0m.6-1.6h0m0 .3h0m0 1.2h0m.1-1.1h0m0 .5h0m.1.3h0m0-.6h0m0 .4h0m.3.3h0m.1-1.6h0m.4 1.5h0m.4-.1h0m0 .2h0m.1.2h0m.2-1.6h0m.1 1.3h0m0-1h0m.1.7h0m.1-.3h0m0 .1h0m0 .2h0m.1-.4h0m.1 1.1h0m.1-.9h0m0-.4h0m.2-.5h0m.1.3h0m.2.1h0m.1 1.3h0m.1.1h0m.1-1h0m0 .7h0m.4.1h0m0-.7h0m.2-1h0m.1.5h0m0 .9h0m.6-.8h0m.1.7h0m.1-.7h0m.1.6h0m.1.7h0m.1-1.2h0m0 .6h0m.1-1.1h0m.3 1.3h0m.1-.3h0m.5-.5h0m.1.6h0m.2-.5h0m0-.7h0m.3 0h0m.1.4h0m0 .3h0m0-.7h0m.1.8h0m0 .5h0m.3-.4h0m.1-.4h0m0 .7h0m.1 0h0m.3-1.3h0m.2 1.2h0m.1-1.1h0m0 .3h0m.2 0h0m.3.4h0m0 .1h0m.1-.1h0m.1-.1h0m.1-.1h0m.1 0h0m.6-.5h0m.4-.1h0m14.4.1h0m.2 0h0m.4.1h0m.2 0h0m.2-.2h0m.2.5h0m.1.2h0m.3-.5h0m0 .3h0m.2-.5h0m.1 1.1h0m.3-.3h0m.1 0h0m0-.8h0m0 1.2h0m.1 0h0m.2.6h0m0-.6h0m.2-.1h0m.1-1h0m.1 1h0m0-.4h0m.2.4h0m0 .7h0m.2-1.5h0m.2-.2h0m0 .6h0m0 .4h0m.3.7h0m.1 0h0m.1-1.5h0m.2 1.5h0m.3-1h0m0 1h0m.6-1.7h0m0 .3h0m.5.2h0m.3 1h0m.5-1.6h0m.2.1h0m0 .4h0m.1-.3h0m.1 1.5h0m.2-1.5h0m0 .4h0m.1.2h0m.2 1.1h0m.2-.9h0m.6.3h0m.9-1h0m.1 1h0m.1.1h0m.2-1.4h0m.4.3h0m.1.7h0m.5-.4h0m.3.8h0m.1-1h0m1.9 0h0m1 .9h0m.3-.6h0m.3.3h0m.3.5h0m.6-.7h0m2.5.1h0m1.6-.5h0m.9 1h0m-61.4.8h0m1.2.1h0m.3.4h0m.7-.4h0m.2.3h0m0 .3h0m.1-.3h0m0 .6h0m.1-1.1h0m.2 1.6h0m.1-.3h0m.1.2h0m.1-.5h0m.1-.6h0m.1 1.4h0m.1-1.8h0m0 1.3h0m11.2-1.2h0m.1-.1h0m.1.4h0m0 .4h0m.3-.5h0m0 1.5h0m.1-1.4h0m0-.4h0m.1.4h0m.2 1.1h0m0-.4h0m.2-.6h0m.1-.3h0m0 .9h0m0-.8h0m.2.5h0m0 .5h0m0 .5h0m0-.1h0m.1-1.6h0m0 1.3h0m.1.3h0m.2-1.6h0m0 .6h0m.4 0h0m.2-.3h0m0-.1h0m0 .8h0m.2-1h0m.3 1.2h0m.2.4h0m0-.7h0m0-1h0m0 .4h0m.1.5h0m0 .9h0m.1-1.8h0m0 .8h0m.1 0h0m.3.2h0m.1-1h0m.1 1.6h0m.2 0h0m0-.1h0m.2-.4h0m.2-1.2h0m.1 1.5h0m.1.3h0m0-.2h0m.1-1.6h0m.1 1.6h0m.1-.7h0m0 .6h0m0-.9h0m.1.6h0m.1-.8h0m.1 0h0m0-.3h0m.4.7h0m0 .3h0m.2-.5h0m.2-.1h0m.1.2h0m.3-.1h0m.1 0h0m.3-.1h0m.4-.5h0m.2.1h0m22.3.2h0m.2-.1h0m.2.7h0m.1-.1h0m0-.8h0m.1 1.2h0m0-.8h0m0 .2h0m.2.9h0m.1-.6h0m0 .6h0m.2-1.2h0m.4.7h0m0 .9h0m.1-.7h0m0-1.2h0m.4 1.4h0m.1.1h0m.1.4h0m.3-.6h0m0-.8h0m.2 0h0m.2.2h0m.2.7h0m.1.5h0m.3-.1h0m0-1h0m0-.1h0m.2-.6h0m.1 1.2h0m0-.2h0m.3.4h0m.3.1h0m.2-.5h0m.1-.7h0m.4 1.1h0m.8 0h0m.1.3h0m.1-.6h0m0-1.1h0m.5.1h0m0 .8h0m.5-.6h0m.1 1.1h0m.3-1.4h0m.6.9h0m.1-.2h0m0 .3h0m.1.4h0m.7-.6h0m2.8-.7h0m.9.4h0m4.9.4h0m-66 1.3h0m1.4.3h0m2.9.1h0m.9-.2h0m.2 1.3h0m.3-1.8h0m.2.5h0m.1.1h0m.1.3h0m.1-.2h0m0 .3h0m.1.2h0m.5-.6h0m.1.9h0m.3.2h0m0 .1h0m0-1h0m.2-.2h0m0 .3h0m.2.9h0m0-.4h0m.1-1.1h0m.2 1.6h0m11.1-.2h0m.1-1.6h0m0 .1h0m.1.4h0m.2.7h0m.1.2h0m.1-.5h0m.1-1h0m0 1.9h0m0-1.1h0m.3 0h0m.1.3h0m.1-1h0m.2.4h0m0 1.3h0m.4-.3h0m.2 0h0m.2-1.3h0m0 1.6h0m.1-1.5h0m0 1.4h0m.1.2h0m.6-.3h0m0-.8h0m.2-.7h0m.2 1.2h0m.1.1h0m.3-1.2h0m.4-.2h0m.1 0h0m26.2.4h0m.2 1.1h0m0-1.3h0m.2 1.5h0m0-.8h0m.3.2h0m0 .3h0m0-1.1h0m0 1.3h0m.1 0h0m0 .1h0m0-1.1h0m0 1.2h0m0-.8h0m.2-.2h0m.1-.1h0m.2 1.2h0m0-1.9h0m.1.2h0m0 1.4h0m0-.7h0m.1.7h0m.2-1.5h0m0 1.4h0m0-.6h0m.2.9h0m0-.7h0m.1-1h0m0 1.7h0m0-1.1h0m0 .3h0m.2-.7h0m.3 1h0m.1-1h0m.8.8h0m0 .1h0m.2.7h0m.6-1.1h0m.2.2h0m.2.1h0m.3.8h0m0-.9h0m.1.8h0m.2-.3h0m.1.1h0m.1.2h0m.2-.4h0m.3-1.3h0m.6.6h0m.8.7h0m.5.1h0m.7.2h0m.1-.7h0m0-1h0m0 1.3h0m.1.4h0m.1-.6h0m1.1-.6h0m0 .2h0m.3 1.1h0m1.9-.4h0m1.2-.8h0m.2 1.3h0m.6-.3h0m2.8-.2h0m-63.1.9h0m.8 1.6h0m1.5 0h0m.2-.3h0m.2-1.5h0m.4 1.7h0m.5-.6h0m.3-1h0m.3 1.3h0m.2-.2h0m.2-1.3h0m.1.5h0m10.4 1.3h0m.2-.4h0m.2-.7h0m.1.2h0m.1.8h0m0-1h0m0 .2h0m.1-.5h0m.2 0h0m.1.8h0m.2-1.2h0m.1 1.5h0m0 .1h0m.1 0h0m.1-1.6h0m.1.5h0m.1.3h0m0-.7h0m.1 1.4h0m.1.2h0m.1 0h0m.1-.3h0m.3-.1h0m0 .1h0m.1-1.3h0m.1 1h0m.1.1h0m.1-.9h0m0 1.1h0m.1-.1h0m.3.2h0m.1-1.4h0m0 .1h0m0 1.2h0m.1-.7h0m.4-.5h0m.1 1.3h0m.1-.1h0m0 .5h0m0-.8h0m.2-.1h0m.1.8h0m.7 0h0m26-.1h0m.2.1h0m.1-.3h0m.1-.9h0m.1-.4h0m0 1.3h0m.1-.7h0m.1.1h0m0 .4h0m.2-.5h0m.1.2h0m.1-.6h0m.1-.3h0m.1.5h0m.2-.5h0m.1.8h0m.1 1h0m.1-.8h0m.2.6h0m0-1.7h0m.2.5h0m0 .5h0m0-.4h0m.1-.4h0m.2.6h0m0 .1h0m.1 0h0m.4-.2h0m.1-.2h0m.2 1.2h0m.1-.5h0m.1-.9h0m0 1.6h0m.5-.3h0m.1.2h0m0-1.1h0m.4.7h0m.1 0h0m.5.4h0m.3-.1h0m.2-1.1h0m.6-.6h0m.9.9h0m.2.7h0m.4-.4h0m1.6-.8h0m.1-.2h0m.3 1.2h0m.1-1.3h0m.2.6h0m.2.4h0m5.1-.5h0m0 .2h0m7.9-.1h0m-70.6 2.3h0m2.7-.6h0m.2 1.5h0m.2-1.4h0m.7 0h0m.4-.3h0m.4 1.7h0m.3 0h0m.4-.5h0m.1-.6h0m.5.4h0m.2.4h0m.1-1.1h0m.2.3h0m.4 1.1h0m0-.3h0m8.8 0h0m.1.2h0m.2-.7h0m.1.2h0m.1-.8h0m0 1.2h0m.2-1.7h0m.1 0h0m.1.8h0m0 .9h0m.1.2h0m.2-1.3h0m0 .9h0m.1-1.1h0m.1.7h0m0 .6h0m.1-.1h0m.2-1.4h0m.2 1h0m.1-.2h0m0-.9h0m0 .4h0m.1 0h0m0 .3h0m.1.9h0m.1-.8h0m0 .5h0m.5-.8h0m.3.8h0m0-.7h0m.5 0h0m.1 1h0m.2.2h0m0-1.8h0m.4.2h0m.1.8h0m.1.8h0m.1-.2h0m0-1.2h0m.4.9h0m.2-.1h0m0-.7h0m0 .3h0m0 .3h0m.1-1.2h0m0 .1h0m0 1.4h0m.2.4h0m.2-.5h0m.2-.8h0m.1 1.2h0m0-1.5h0m.1 1.3h0m0 .1h0m.2.2h0m.1-.8h0m.1-.4h0m0-.2h0m.3.5h0m0 .2h0m.2.1h0m.1.5h0m.3-.3h0m0 .4h0m0-.8h0m.1.4h0m.3-.1h0m.2.1h0m.1.3h0m22.5-.2h0m.3.2h0m.1 0h0m.1-.3h0m.1-.4h0m.2-.1h0m.5-.2h0m0 .5h0m.1-.9h0m.3.5h0m.1-.3h0m.4 1.3h0m.1-1.7h0m0-.1h0m0 .4h0m.2.3h0m.2-.7h0m0 1h0m.1-.9h0m.1-.1h0m0-.1h0m.2.1h0m.1.2h0m0 1.3h0m.1-.9h0m0 .6h0m.1-.5h0m.4 0h0m.2.1h0m.1-.8h0m.1 1.3h0m0-.8h0m.1.2h0m.2-.7h0m.1 1.4h0m0-1h0m.1 1h0m.1-1.4h0m.2.6h0m.1.2h0m0 .9h0m0-1.3h0m0-.1h0m.1.4h0m.2 0h0m.3 0h0m.4-.6h0m.3 1.4h0m0-1.6h0m1.1.9h0m1.9-.1h0m.3-.8h0m.7 1.7h0m.7-1.3h0m1.3.6h0m.8-.1h0m2.2-.2h0m-59.2 2.9h0m1.3-.3h0m.1.6h0m.5 0h0m.2-1.5h0m.1.6h0m.2-.2h0m.2.9h0m.1-1.6h0m.1 1.8h0m.5-.1h0m.2-.4h0m.6-1.4h0m.1.5h0m0 1.4h0m.2-.5h0m.3-.5h0m.2-.3h0m.2 1.2h0m0-.6h0m.1.6h0m6.4.1h0m.1-.4h0m.3-.3h0m0 .2h0m.4-.3h0m.1.4h0m.2-.4h0m.1-.8h0m.4-.1h0m0 1.1h0m.2.5h0m.2-1.6h0m0 .1h0m.4.2h0m0 .3h0m.1.6h0m.2-.5h0m1 .1h0m.5-.8h0m.1.4h0m.1.5h0m.2-.8h0m.1.7h0m.3-1h0m0 1.8h0m.1-.5h0m.2-1.2h0m.1.1h0m.1 1.3h0m.1-.2h0m.2-.9h0m.1 1h0m.2.1h0m.2-1.3h0m.1-.1h0m0 1.5h0m.1-1.3h0m.1 1h0m.1-.7h0m.1 1h0m0-1.6h0m0 1.3h0m.1.1h0m.1-.1h0m.4-1.3h0m.1.9h0m.2.5h0m0-.8h0m.2 1.2h0m.3-1.8h0m0 .7h0m.1 0h0m.2.9h0m.1-.1h0m.1.2h0m0-1.1h0m.3-.1h0m.1.8h0m.1.1h0m.2-.8h0m.1-.5h0m.2 1.3h0m0-1h0m.2 1.1h0m0-.8h0m.2-.3h0m.3 1.3h0m.1.1h0m.1-.3h0m.1-1.3h0m.1 1.3h0m.3-1h0m0 1.3h0m.1-1.6h0m0 .6h0m.1.3h0m.1.1h0m0 .3h0m0 .1h0m0-1h0m.2 1.1h0m.2-.6h0m.1.8h0m.2-.7h0m.4.1h0m0 .3h0m.2.2h0m.1-.5h0m.1-.4h0m.2.8h0m0 .1h0m.1-.6h0m.3.6h0m.1 0h0m.3-.7h0m0 .4h0m.1-.1h0m.1-.1h0m0 .2h0m0-.1h0m.1-.1h0m.2.2h0m1 .1h0m.4.3h0m.4-.1h0m13.5-.3h0m.3.3h0m.2-.6h0m.2.4h0m.1.3h0m0-.4h0m.3-.3h0m.2.7h0m.1-.7h0m0 .3h0m0 .3h0m0-.9h0m.2.3h0m0-.4h0m.1.6h0m.1.2h0m.1-.9h0m0 .4h0m.4-1h0m.1.1h0m.1-.2h0m0 1.5h0m.4-.3h0m0-.3h0m.1 1h0m.1-1.5h0m.1.6h0m0-.8h0m.1 1h0m0-1.1h0m.1.7h0m.1-.4h0m.2 1.5h0m.1-1.1h0m.1 0h0m0 .9h0m.3-1.2h0m0 1.4h0m.1-1.5h0m.1.4h0m.1-.2h0m.1.1h0m.4-.2h0m0 .4h0m.4.8h0m.3-1.4h0m.1.9h0m.5-.2h0m.1-.8h0m.4 1.3h0m0-1h0m.3.1h0m.1.4h0m0-1h0m.1 1.8h0m.2-.1h0m.4-.5h0m.4-1h0m.1.8h0m.1-.9h0m.3.6h0m.2.8h0m0 .2h0m.2-1.4h0m.5.2h0m.9-.4h0m1.1.1h0m2 1.2h0m1.2-.1h0m.6.1h0m2.3-1.2h0m1 1.2h0m3.1-.1h0m6.9-.8h0m-69.3 3h0m.5-1.4h0m1.5 1h0m.3-.6h0m.4-.2h0m.1-.2h0m.5 1.1h0m.1.6h0m0-.1h0m.3-1.1h0m.1-.5h0m.1.2h0m.1 1.4h0m0-.8h0m.5.9h0m.1-1.1h0m.1-.5h0m0 1.4h0m.1-1.6h0m.2 1.3h0m0 .1h0m.2-.2h0m.3.3h0m.1-.2h0m.2.4h0m2.9.1h0m.5.1h0m.2-.6h0m.1.3h0m.5-.4h0m0 .7h0m.1-.2h0m.2-.3h0m.2-.9h0m0 .2h0m.1.9h0m0-1h0m.2.8h0m0-.7h0m.1-.6h0m0 .5h0m.2.6h0m.1 0h0m.3-.5h0m.6 0h0m.1.6h0m.8-1.3h0m.2.6h0m0-.6h0m.1.6h0m0 .2h0m.1.9h0m.1.1h0m.4-1.5h0m0-.3h0m.2 0h0m.7 0h0m.5.8h0m.6.6h0m.5-.9h0m.2.4h0m0-.1h0m.1-.8h0m.2 1.1h0m.1 0h0m0-.5h0m.1-.1h0m.3 1h0m.3-1h0m.2.9h0m0-.9h0m1.2 0h0m.6-.5h0m.3.4h0m.1 0h0m.2-.2h0m.4 1.4h0m.1-.9h0m.1.9h0m0 .2h0m0-.7h0m.3-.6h0m.1.4h0m0-.2h0m0 .1h0m.2 1.1h0m.3-1h0m.2 0h0m.2.6h0m.2.3h0m0-.7h0m.1.1h0m0 .2h0m0 .1h0m0-1.1h0m0 1.3h0m.4-1.1h0m.1-.3h0m.1 1h0m.5-1h0m.2 0h0m0 .2h0m.3 1h0m.4-.1h0m.2-1.3h0m0 1.3h0m.1-.7h0m0-.1h0m.1-.3h0m.1 0h0m.1-.3h0m0 1.1h0m.1-1.1h0m.2.7h0m.1 0h0m.2-.6h0m0 1.3h0m.1-.8h0m0-.5h0m.2.6h0m0 .3h0m0-1h0m.2 1.2h0m.1-1.2h0m.2 1.5h0m.1-.8h0m0 1.2h0m.1-.7h0m.6-.3h0m0-.8h0m.2.5h0m0 .3h0m.1.2h0m0-.9h0m.1.8h0m.1.8h0m0-.1h0m0-1.5h0m.1-.2h0m0 1.4h0m.1-.6h0m0 .3h0m0 .7h0m.1-1.3h0m0 .3h0m.2-.4h0m.1.3h0m.1.9h0m.3-1.1h0m.2.7h0m.1.6h0m.1-1.3h0m0 .4h0m.1-.3h0m.1-.2h0m.1.4h0m.1.2h0m0-.4h0m0 1.1h0m.3-1h0m.1-.1h0m.3.2h0m.1.4h0m.1.1h0m0-.5h0m.4.8h0m.3-1h0m.2.3h0m.3.9h0m.3-.6h0m1 .2h0m0 .4h0m.1 0h0m.2 0h0m.5-.5h0m0 .2h0m.2-.4h0m.2.8h0m.1-1.1h0m0 .2h0m0 .9h0m.1-.4h0m.1-.3h0m.3.7h0m.1-.4h0m.1-.6h0m.1.4h0m.2-.2h0m0 .2h0m.2-.6h0m0 .2h0m.1.5h0m0-.7h0m0 .3h0m.1-.1h0m.1 1h0m0-.5h0m.5-.3h0m.2-.2h0m.2 1h0m.1-.6h0m.1-.1h0m.1-.1h0m.3-.4h0m.1.1h0m0 .4h0m.1-.6h0m.1 0h0m.4 1.3h0m.2-.6h0m.1-.9h0m.4.5h0m.1-.8h0m.1.6h0m0 .2h0m0 .6h0m.1-.5h0m.1-.3h0m0-.7h0m0 1.7h0m.4-1.7h0m.1.6h0m.2-.6h0m.5 1h0m0 .2h0m.2-.1h0m.2-.1h0m0 .2h0m.1-.9h0m.2.1h0m.1.6h0m0-.9h0m.4.8h0m.4.6h0m0 .2h0m0-1.4h0m.1.6h0m0-.8h0m.2 1.3h0m.2-.2h0m0-.8h0m.1.7h0m.1.8h0m0-.8h0m.3-1.1h0m0 .6h0m.7-.3h0m0 .2h0m0-.4h0m.1.6h0m0-.5h0m.1 1.1h0m.3.4h0m0-.3h0m.5-.4h0m.1.3h0m.2.5h0m.1-1.6h0m0 .5h0m.2-.3h0m.2-.3h0m.1.3h0m.1-.1h0m.3 1.1h0m.3-1.3h0m0 .2h0m.1 1.2h0m.3-1.4h0m.1.2h0m.2-.1h0m.8.3h0m.1-.1h0m.2 1.5h0m1.6-.5h0m3-1h0m1.7-.4h0m.1 1.6h0m.3-.2h0m1.2-1.3h0m.2.7h0m4.1-.5h0m11.1.6h0m-72.5 1.5h0m2 1.3h0m2.3-1.1h0m1.3-.6h0m.1 1.8h0m.5-.6h0m.4-.4h0m.5.8h0m0-1h0m0 .2h0m.1-.6h0m.4 1.2h0m0 .3h0m.3.2h0m.2-1.3h0m.1-.5h0m.4 0h0m.3.5h0m0-.3h0m.1 0h0m.4 1.1h0m.1.3h0m.2-1h0m.3-.6h0m.1.4h0m.1.5h0m.1-.6h0m0-.1h0m.1.9h0m0 .3h0m0-1.1h0m.1.2h0m0 .3h0m.2 0h0m.4-.5h0m.1 1.5h0m0-1.9h0m.4.3h0m.3 1.3h0m.1-.4h0m.5-.8h0m.2 1.5h0m.1-.4h0m.2-.5h0m.3-.5h0m0 .8h0m.1-1.3h0m.5 0h0m.2.1h0m.2 1.2h0m.2-.7h0m.2.8h0m.1-1.2h0m1.5.9h0m1-.4h0m.3-.5h0m.2 0h0m.3 1.2h0m.3-1.2h0m.8-.1h0m.4 1.7h0m.1-.6h0m.3-.9h0m0 .5h0m.1-.4h0m.3 1.1h0m.1.2h0m.3-1.7h0m0 1.2h0m.2-.8h0m.5 0h0m.9.2h0m.2 0h0m.2 1.1h0m.7-1.4h0m.1.6h0m0 .6h0m.3-1.5h0m.2.7h0m0 .2h0m.4.4h0m.1.3h0m.3-.1h0m.2-1.1h0m.2.5h0m.6.2h0m.1-.4h0m.3.4h0m.1-.4h0m.4-.6h0m.2.4h0m.7 1.3h0m.6.1h0m.1-.7h0m.2 0h0m0-.9h0m.1.4h0m0-.5h0m.1 1.6h0m.1-1.1h0m.1.3h0m1.1.5h0m.2-.1h0m.2-.8h0m.2-.1h0m.3 1.1h0m.1-1h0m.1 0h0m.1-.4h0m.2.6h0m0-.3h0m.3.5h0m1 .3h0m.1.5h0m.1-.1h0m.2-.1h0m.2 0h0m.3-.1h0m.3-1.2h0m.1-.3h0m.4 1.1h0m.4-.6h0m.7 1.1h0m.1.3h0m.1-.8h0m.1.8h0m.2-.5h0m.1-1.1h0m.2-.1h0m0 1.2h0m.3-1.4h0m0 1.6h0m1 0h0m.2-1.2h0m.2-.2h0m0 1.6h0m.5-.8h0m.3-.9h0m.3.9h0m0 .1h0m.3-1h0m.1 0h0m.1.2h0m0 .8h0m.2.1h0m.1-.5h0m0-.6h0m.9-.1h0m0 1.3h0m.1-.9h0m0 1.1h0m.1 0h0m.2-.5h0m.5-.1h0m.5.5h0m.2-.9h0m.5 0h0m.5-.5h0m.1.9h0m0-.8h0m.2 1.7h0m.1-1.4h0m.2 1.4h0m.6-1.5h0m.2.1h0m.4.3h0m.6-.4h0m.1-.1h0m.5 0h0m.4 1.6h0m2.8-.8h0m.2.5h0m.2-1.3h0m.2.6h0m.4-.1h0m.1.4h0m1.1.8h0m.9-.4h0m1.4 0h0m-49.4 1.3h0m.6-.1h0m0 .6h0m.3-.6h0m.3-.7h0m.6 1.6h0m0-.9h0m.2.3h0m.5-.1h0m.2.3h0m0-.5h0m.4.7h0m0-1.4h0m.2.4h0m.1.2h0m.1.1h0m.4-.1h0m1.1-.5h0m0 .2h0m.1.6h0m.3.9h0m.2-1.4h0m.3 1.3h0m.1-1.3h0m.1 1.5h0m0-1h0m.7-.6h0m.9-.3h0m0 1.3h0m0-.5h0m1.3.9h0m.1.2h0m.1-.4h0m.2-.5h0m0 .3h0m2.5-1.3h0m.2 1.3h0m1.9.2h0m1.4-1h0m.6.7h0m1.1.2h0m.1-.7h0m1.1.8h0m.2-.5h0m.1-.8h0m1.3 1.2h0m1-1.4h0m.4 1.1h0m.1.8h0m.1-.4h0m1.4-1.5h0m.1.4h0m.2.1h0m.6-.5h0m.1.2h0m.3.2h0m.7.7h0m.6-1.1h0m1 .1h0m.1.7h0m.8-.2h0m0 1.2h0m.4-1.3h0m.2 1.2h0m.5.2h0m.2-1h0m.4 0h0m.3 1h0m.1-.4h0m0-1.1h0m.2 1.4h0m.1-.4h0m.2.3h0m0-.2h0m0 .3h0m.3-1.2h0m.1 1.2h0m.2-.9h0m.2.4h0m.4-1.1h0m.1 1h0m.4-.3h0m.2-.3h0m.8.7h0m.3.4h0m.7-1.1h0m.3-.1h0m.3-.3h0m1.5 0h0m.1.3h0m.5.3h0m.8 1h0m.8-1.6h0m3.3 1.5h0m.6-1.3h0m2.1 1.3h0m.4-1.4h0m2.2.5h0m.5-.3h0m.3.7h0m1-1.1h0m2.5 1.6h0m3.2-.6h0m.6.5h0m-58.9 1.5h0m4.3-.2h0m.6.6h0m.2.3h0m.4-1.2h0m0 .3h0m.9-.8h0m0 .5h0m.2.2h0m1.1-.7h0m.4.6h0m.1.1h0m.2.6h0m.6.3h0m0 .2h0m1.2-1.4h0m0 .5h0m.3-.4h0m.3-.6h0m.1.8h0m.1-.4h0m0 .4h0m.1.2h0m1.3-.3h0m.6-.6h0m.9.6h0m1.4-.4h0m.3 1.4h0m.1-1.7h0m3.9.3h0m1.5 1.6h0m0-.5h0m4.2-.1h0m.8-.3h0m.9-.9h0m.5.9h0m3.3-.8h0m.8.9h0m.8-.8h0m.1 0h0m.2-.2h0m.7.5h0m.2 0h0m0-.4h0m.1 1.3h0m.4-.9h0m.3.8h0m1-.1h0m.7-.4h0m.4-.8h0m.1.1h0m.4 1.2h0m.9-.5h0m.2 0h0m.9-.3h0m.2-.3h0m1-.3h0m.1.1h0m1.8.8h0m2.8.1h0m15.3-.8h0m-59.2 1.8h0m1.9 1.8h0m.1.1h0m.4-.5h0m1.2-.4h0m.3 0h0m2.4 0h0m1.2-1h0m.1.1h0m.7.3h0m.1.1h0m.2 0h0m.1-.5h0m.1.9h0m2.3-.9h0m2.4.4h0m8.1-.3h0m0 1.6h0m2-.7h0m.4.5h0m9.1-.3h0m1.5.7h0m.1-1.1h0m1.3.1h0m1.5 0h0m.8.5h0m1.6.5h0m5.8-.4h0m8.3-.9h0m-51.7 2.8h0m0-1.3h0m.1 1.1h0m.7-.3h0m.7 1h0m1.8-1.1h0m.5.6h0m0 .1h0m.6-1.5h0m.1 1.3h0m0-1.3h0m1 .2h0m.4 1.6h0m.3-1.7h0m19.9 1.3h0m.3-.1h0m2.8-1.1h0m2.9 0h0m2.8-.2h0m1.9 1.5h0m.4-1.5h0m8 1.7h0m7.7-.1h0m-54.2 1.6h0m2.6-.4h0m.6-.3h0m3.1 1.2h0m2.3-1.3h0m1.7.3h0m3.5-.3h0m.7 1.4h0m8.5-1.5h0m4.9.7h0m7 .7h0m6.3-.8h0m4.3.6h0m-48.3 2.3h0m3.4.1h0m5.9-1.4h0m1.9.5h0m1.4.5h0m10-.5h0m14.5.6h0m1.5-.8h0m-31.6 1.3h0m7.6.5h0m20 1.3h0m10.1-1.9h0m-34.4 3.4h0m.1-.9h0m10.1.3h0m-4.8 1.8h0" stroke="#000" stroke-opacity="0.5" stroke-width="0.6" stroke-linecap="square" fill="none"/>
<clipPath id="cf8"><rect x="399.3" y="159.6" width="24" height="79.2"/></clipPath><g clip-path="url(#cf8)">
<path d="M414.1 216.5l-1.2 0-.9-.5-.9-1-.7-1.3-.7-1.8-.5-2.4-.5-5.1.2-6.3 1-5.4.6-2.1.9-1.8.9-1.1.9-.4.9.2.9 1 .9 1.7.9 2.5 1 5.4.7 8.7-.2 3-.9 2.7-1.6 2.7-.8.8-.9.5ZM440.5 215.5l-2.4-.1-2.4-.3-2.7-.8-2.4-.9-1.8-1-1.2-1.1-.5-.9.1-1.2 1-1.2 1.8-1.2 2.7-1.1 3-.9 2.7-.4 2.4 0 2.1.3 2.1.7 1.7 1.1 1.3 1.5.5 1.8-.4 1.8-1 1.5-1.8 1.2-2.1.8-2.7.4Z" fill="#000" fill-opacity="0.12"/>
<path d="M414.4 215.8l-.9.2-.9-.2-.9-.7-.9-1.4-.8-1.8-.5-2.1-.6-4.8.1-6 .9-5.4.7-2.1.8-1.8.9-1.1.9-.5.9.3.9.9.8 1.6.7 2.1 1 5.1.7 7.5-.1 3-.6 2.7-1.5 3-.7.8-.9.7ZM440.8 214.9l-2.1 0-2.4-.3-2.1-.6-2.3-.9-1.6-.9-1-.9-.5-.9.1-1.2 1-1.2 1.4-.9 2.3-1 2.7-.8 2.4-.3 2.1 0 2 .3 1.7.6 1.7 1.1 1 1.3.4 1.5-.2 1.5-.9 1.3-1.5 1.2-1.8.7-2.4.4Z" fill="#000" fill-opacity="0.12"/>
<path d="M413.8 215.6l-.9-.1-.9-.5-.8-1-.7-1.4-1-3.7-.5-4.8.2-5.4.9-5.1.7-2 .8-1.6.7-.8.9-.4.9.2.9 1 .8 1.5.6 1.8 1 4.8.5 7.5-.1 3.3-.8 3-1.4 2.4-.9.9-.9.4ZM441.7 214.3l-2.1.2-2-.2-2.2-.5-2-.7-1.7-.9-1-.9-.6-.9.2-1.2.7-.9 1.4-1 1.8-.8 2.4-.7 2.1-.3 1.8 0 1.8.2 1.6.5 1.4.8 1 1 .5 1.2 0 1.5-.5 1.2-1.3 1.2-1.5.8-1.8.4Z" fill="#000" fill-opacity="0.12"/>
<path d="M414.1 215.2l-.9.1-.9-.4-.9-1-.6-1.1-1.1-3.6-.6-4.8.2-5.7.9-4.8.7-2.1.8-1.5.6-.7.9-.4.9.2.9 1 1.3 3.2 1 4.8.5 6.6-.1 3.6-.7 2.7-1.4 2.7-.6.6-.9.6ZM441.4 214l-1.8.1-2.1-.1-2.1-.6-1.7-.6-1.5-.9-.9-.9-.3-.9.1-.9.8-.9 1.3-.9 1.9-.8 1.8-.5 1.8-.3 1.8 0 1.8.2 1.5.6 1.3.8.8.9.5 1.2-.1 1.2-.6 1.2-1 .9-1.5.8-1.8.4Z" fill="#000" fill-opacity="0.12"/>
<path d="M414.1 214.9l-.9.1-.9-.4-.9-.9-.6-1.2-1.1-3.6-.5-4.5.2-5.4.8-4.8.7-2.1.8-1.4.6-.7.9-.5.9.3.6.6.8 1.4.7 1.8 1 4.8.5 6-.1 3.9-.6 2.7-1.4 2.7-.6.7-.9.5ZM441.4 213.7l-1.8.1-1.8-.1-1.8-.4-1.8-.7-1.1-.7-1-.9-.3-.9.2-.9.7-.9 1.2-.8 1.6-.7 1.7-.5 3.3-.2 1.5.2 1.5.5 1.2.8.9 1 .3.9 0 1.2-.6 1-.9.9-1.5.7-1.5.4Z" fill="#000" fill-opacity="0.12"/>
<path d="M414.1 214.7l-.9.1-.9-.5-.8-.9-.7-1.2-1-3.3-.5-4.5.2-5.1.8-4.8.7-2.1.7-1.3.6-.8.9-.4.9.3.6.6.8 1.3.6 1.8.9 4.2.5 6 0 3.6-.6 3-1.3 2.7-.6.7-.9.6ZM440.8 213.4l-1.5.1-1.8-.2-3-1.1-.9-.6-.8-.9-.2-.6.2-.9.8-.9.9-.6 1.5-.6 1.8-.5 3-.1 1.5.3 1.2.5 1 .7.7.9.2.9-.2 1.2-.7.9-1 .7-1.2.5-1.5.3Z" fill="#000" fill-opacity="0.12"/>
<path d="M414.1 214.4l-.9.1-.9-.4-.6-.7-.7-1.2-1.1-3.3-.5-4.5.2-5.1.7-4.5.6-1.8.8-1.6.6-.7.9-.5.9.3.6.6.6 1 .7 1.8.9 4.2.5 5.7 0 3.9-.6 2.7-1.2 2.7-.6.7-.9.6ZM440.5 213.1l-3-.2-2.5-1-1.3-1.2-.2-.9.2-.6.5-.6 1.2-.8 2.7-.9 2.7-.1 1.2.3 1.2.5.9.7.6.9.2.9-.3.9-.8.9-.9.6-2.4.6Z" fill="#000" fill-opacity="0.12"/>
<path d="M414.1 214.1l-.9.1-.6-.2-.9-.8-.6-1-1.1-3.3-.5-4.5.2-5.1.8-4.5 1.2-3 .6-.8.9-.4.9.3.6.6 1.3 2.7.9 4.2.4 5.1 0 3.9-.6 3-1.1 2.4-.6.7-.9.6ZM441.4 212.6l-2.4.1-2.7-.7-1.5-1-.4-.6 0-.9.4-.6.7-.6 2.3-.9 2.4-.2 2.2.5 1 .6.5.6.3.6 0 .9-.4.8-.6.6-1.8.8Z" fill="#000" fill-opacity="0.12"/>
<path d="M413.5 214l-.9-.3-.6-.5-1.2-2.2-.9-3.3-.3-4.2.2-4.5.8-4.2 1.1-2.7.6-.7.9-.5.9.3.6.6.7 1.2.6 1.8.9 4.5.3 5.4-.2 3.6-.7 2.7-1.3 2.2-.6.5-.9.3ZM440.8 212.2l-2.1 0-2.1-.6-1.1-.9-.2-.6.1-.6.4-.6.8-.6 1.8-.6 2.1 0 1.8.5 1.1 1 .2.6-.1.6-.3.6-.7.6-1.7.6Z" fill="#000" fill-opacity="0.12"/>
<path d="M413.8 213.7l-.9-.1-.6-.3-.6-.7-.7-1.3-.9-3.3-.4-4.2.2-4.5.7-4.2 1.2-2.7.8-.9.6-.2.9.3.6.6 1.2 2.6.8 3.9.4 5.1-.1 3.9-.6 2.7-1.1 2.2-.6.6-.9.5ZM440.8 211.7l-1.8 0-1.5-.4-1-.9 0-.9.7-.7 1.5-.5 1.5-.1 1.5.4.9.9 0 .9-.6.7-1.2.6Z" fill="#000" fill-opacity="0.12"/>
<path d="M413.8 213.4l-.9 0-.6-.4-.6-.7-.7-1.3-.9-3.3-.3-3.9.2-4.5.7-3.9 1.1-2.7.8-.9.6-.2.6.1.8.7 1.1 2.4.9 3.9.4 4.8-.1 3.6-.6 3-1 2.2-.6.6-.9.5ZM439.9 211l-.9-.1-.9-.4-.3-.4.2-.6.7-.4.9-.2.9.1.6.3.4.5-.2.6-.5.4-.9.2Z" fill="#000" fill-opacity="0.12"/>
<path d="M414.1 212.9l-.9.1-.6-.2-1.2-1.6-1-2.9-.4-3.9.1-4.5.6-3.9 1.1-2.7.8-.9.6-.3.6.2.6.4.6.9.6 1.5.8 3.3.4 4.2 0 3.9-.4 2.7-1 2.4-.7.9-.6.4Z" fill="#000" fill-opacity="0.12"/>
<path d="M413.8 212.3l-.6 0-.6-.3-.6-.6-.6-1.1-.8-2.9-.4-3.6.1-3.9.7-3.6 1-2.4.6-.6.6-.3.6.1.6.6 1 2 .8 3.3.3 4.2 0 3.3-.5 2.7-1 2.1-.6.7-.6.3Z" fill="#000" fill-opacity="0.12"/>
<path d="M413.5 211.6l-.6-.1-.6-.5-.9-1.6-.7-2.6-.2-3.3.1-3.6.6-3 .8-2 .6-.8.6-.2.6.1.6.6.9 1.9.7 3.1.3 3.9-.2 3.3-.5 2.3-.9 1.8-.6.5-.6.2Z" fill="#000" fill-opacity="0.12"/>
<path d="M413.8 210.8l-.6 0-.6-.3-.9-1.4-.7-2.3-.3-3 .1-3.3.6-3 .9-2.1.9-.7.9.4.9 1.6.7 2.6.3 3.3-.1 3-.3 2.4-.9 2-.9.8Z" fill="#000" fill-opacity="0.12"/>
<path d="M413.5 210.2l-.9-.4-.9-1.6-.5-2.3-.2-2.4.1-3 .4-2.4.8-1.9.9-.7.9.5.9 1.8.5 2.4.3 3-.2 2.7-.4 2.1-.8 1.6-.9.6Z" fill="#000" fill-opacity="0.12"/>
<path d="M413.8 209.3l-.9-.1-.9-1.2-.5-1.8-.3-2.4.1-2.7.4-2.3.6-1.6.9-.8.6.2.3.3.6 1.1.5 1.9.2 2.4 0 2.4-.2 2.1-.6 1.5-.8 1Z" fill="#000" fill-opacity="0.12"/>
<path d="M413.8 208.5l-.3.1-.6-.2-.6-.9-.5-1.6-.3-2.1.1-2.4.3-2.1.7-1.6.6-.4.6.2.6.9.5 1.8.3 2.1 0 2.1-.3 1.8-.5 1.6-.6.7Z" fill="#000" fill-opacity="0.12"/>
<path d="M413.8 207.4l-.6.2-.6-.6-.5-1.4-.2-1.8 0-1.8.2-1.8.5-1.3.6-.6.6.3.4.7.6 3-.1 3-.3 1.2-.6.9Z" fill="#000" fill-opacity="0.12"/>
<path d="M413.8 206.2l-.3.2-.6-.2-.4-.9-.3-1.5.2-2.7.2-.9.6-.7.3 0 .3.4.6 2.1 0 2.4-.6 1.8Z" fill="#000" fill-opacity="0.12"/>
</g>
<path d="M413.8 218l-1.2-.2-.9-.6-.9-1.1-.9-1.8-.7-2.1-.6-2.4-.4-5.7.3-6.9 1.1-6 .8-2.7.9-1.8 1-1.2.9-.4.6.1.6.4.9 1.1.9 1.9.8 2.3.9 4.5 1.8 13.5-.4 2.1-2.1 3.9-1.9 2.3-1.5.8ZM441.4 216.7l-3 0-3.3-.4-3.6-.9-3.6-1.2-2.2-1.1-1.6-1.2-.9-1.5.1-1.2 1.2-1.5 2.2-1.4 3.2-1.3 4-1.1 3.3-.6 3-.2 3 .3 2.4.7 2.4 1.4 1.7 1.9.7 2.1-.3 2.1-1.1 1.8-1.9 1.6-2.7 1.2-3 .5Z" fill="none" stroke="#000" stroke-width="0.6"/>
<path d="M414.4 217l-1.2.2-.9-.3-.9-.8-.9-1.5-.8-1.8-.6-2.4-.6-5.4.1-6.6 1-6 .9-2.7.9-1.8.9-1.2.9-.4.9.3 1.2 1.3.8 1.8.8 2.4 1 5.1 1 10.5-.1 2.4-1 2.7-1.7 2.7-.8.9-.9.6ZM442.9 215.8l-2.7.3-3-.2-3.3-.6-3.3-1.1-2.5-1.1-1.8-1.2-.9-1.2-.1-.9.2-.6.9-1.2 1.8-1.3 2.7-1.1 3.6-1.1 2.7-.5 2.7-.2 2.4.2 2.4.6 2.1 1.1 1.5 1.4.9 1.8.1 1.8-.7 1.8-1.5 1.5-1.8 1.1-2.4.7Z" fill="none" stroke="#000" stroke-width="0.6"/>
<path d="M414.1 216.5l-1.2 0-.9-.5-.9-1-.7-1.3-.7-1.8-.5-2.4-.5-5.1.2-6.3 1-5.4.6-2.1.9-1.8.9-1.1.9-.4.9.2.9 1 .9 1.7.9 2.5 1 5.4.7 8.7-.2 3-.9 2.7-1.6 2.7-.8.8-.9.5ZM440.5 215.5l-2.4-.1-2.4-.3-2.7-.8-2.4-.9-1.8-1-1.2-1.1-.5-.9.1-1.2 1-1.2 1.8-1.2 2.7-1.1 3-.9 2.7-.4 2.4 0 2.1.3 2.1.7 1.7 1.1 1.3 1.5.5 1.8-.4 1.8-1 1.5-1.8 1.2-2.1.8-2.7.4Z" fill="none" stroke="#000" stroke-width="0.6"/>
<path d="M414.4 215.8l-.9.2-.9-.2-.9-.7-.9-1.4-.8-1.8-.5-2.1-.6-4.8.1-6 .9-5.4.7-2.1.8-1.8.9-1.1.9-.5.9.3.9.9.8 1.6.7 2.1 1 5.1.7 7.5-.1 3-.6 2.7-1.5 3-.7.8-.9.7ZM440.8 214.9l-2.1 0-2.4-.3-2.1-.6-2.3-.9-1.6-.9-1-.9-.5-.9.1-1.2 1-1.2 1.4-.9 2.3-1 2.7-.8 2.4-.3 2.1 0 2 .3 1.7.6 1.7 1.1 1 1.3.4 1.5-.2 1.5-.9 1.3-1.5 1.2-1.8.7-2.4.4Z" fill="none" stroke="#000" stroke-width="0.6"/>
<path d="M413.8 215.6l-.9-.1-.9-.5-.8-1-.7-1.4-1-3.7-.5-4.8.2-5.4.9-5.1.7-2 .8-1.6.7-.8.9-.4.9.2.9 1 .8 1.5.6 1.8 1 4.8.5 7.5-.1 3.3-.8 3-1.4 2.4-.9.9-.9.4ZM441.7 214.3l-2.1.2-2-.2-2.2-.5-2-.7-1.7-.9-1-.9-.6-.9.2-1.2.7-.9 1.4-1 1.8-.8 2.4-.7 2.1-.3 1.8 0 1.8.2 1.6.5 1.4.8 1 1 .5 1.2 0 1.5-.5 1.2-1.3 1.2-1.5.8-1.8.4Z" fill="none" stroke="#000" stroke-width="0.6"/>
<path d="M414.1 215.2l-.9.1-.9-.4-.9-1-.6-1.1-1.1-3.6-.6-4.8.2-5.7.9-4.8.7-2.1.8-1.5.6-.7.9-.4.9.2.9 1 1.3 3.2 1 4.8.5 6.6-.1 3.6-.7 2.7-1.4 2.7-.6.6-.9.6ZM441.4 214l-1.8.1-2.1-.1-2.1-.6-1.7-.6-1.5-.9-.9-.9-.3-.9.1-.9.8-.9 1.3-.9 1.9-.8 1.8-.5 1.8-.3 1.8 0 1.8.2 1.5.6 1.3.8.8.9.5 1.2-.1 1.2-.6 1.2-1 .9-1.5.8-1.8.4Z" fill="none" stroke="#000" stroke-width="0.6"/>
<path d="M414.1 214.9l-.9.1-.9-.4-.9-.9-.6-1.2-1.1-3.6-.5-4.5.2-5.4.8-4.8.7-2.1.8-1.4.6-.7.9-.5.9.3.6.6.8 1.4.7 1.8 1 4.8.5 6-.1 3.9-.6 2.7-1.4 2.7-.6.7-.9.5ZM441.4 213.7l-1.8.1-1.8-.1-1.8-.4-1.8-.7-1.1-.7-1-.9-.3-.9.2-.9.7-.9 1.2-.8 1.6-.7 1.7-.5 3.3-.2 1.5.2 1.5.5 1.2.8.9 1 .3.9 0 1.2-.6 1-.9.9-1.5.7-1.5.4Z" fill="none" stroke="#000" stroke-width="0.6"/>
<path d="M414.1 214.7l-.9.1-.9-.5-.8-.9-.7-1.2-1-3.3-.5-4.5.2-5.1.8-4.8.7-2.1.7-1.3.6-.8.9-.4.9.3.6.6.8 1.3.6 1.8.9 4.2.5 6 0 3.6-.6 3-1.3 2.7-.6.7-.9.6ZM440.8 213.4l-1.5.1-1.8-.2-3-1.1-.9-.6-.8-.9-.2-.6.2-.9.8-.9.9-.6 1.5-.6 1.8-.5 3-.1 1.5.3 1.2.5 1 .7.7.9.2.9-.2 1.2-.7.9-1 .7-1.2.5-1.5.3Z" fill="none" stroke="#000" stroke-width="0.6"/>
<path d="M414.1 214.4l-.9.1-.9-.4-.6-.7-.7-1.2-1.1-3.3-.5-4.5.2-5.1.7-4.5.6-1.8.8-1.6.6-.7.9-.5.9.3.6.6.6 1 .7 1.8.9 4.2.5 5.7 0 3.9-.6 2.7-1.2 2.7-.6.7-.9.6ZM440.5 213.1l-3-.2-2.5-1-1.3-1.2-.2-.9.2-.6.5-.6 1.2-.8 2.7-.9 2.7-.1 1.2.3 1.2.5.9.7.6.9.2.9-.3.9-.8.9-.9.6-2.4.6Z" fill="none" stroke="#000" stroke-width="0.6"/>
<path d="M414.1 214.1l-.9.1-.6-.2-.9-.8-.6-1-1.1-3.3-.5-4.5.2-5.1.8-4.5 1.2-3 .6-.8.9-.4.9.3.6.6 1.3 2.7.9 4.2.4 5.1 0 3.9-.6 3-1.1 2.4-.6.7-.9.6ZM441.4 212.6l-2.4.1-2.7-.7-1.5-1-.4-.6 0-.9.4-.6.7-.6 2.3-.9 2.4-.2 2.2.5 1 .6.5.6.3.6 0 .9-.4.8-.6.6-1.8.8Z" fill="none" stroke="#000" stroke-width="0.6"/>
<path d="M413.5 214l-.9-.3-.6-.5-1.2-2.2-.9-3.3-.3-4.2.2-4.5.8-4.2 1.1-2.7.6-.7.9-.5.9.3.6.6.7 1.2.6 1.8.9 4.5.3 5.4-.2 3.6-.7 2.7-1.3 2.2-.6.5-.9.3ZM440.8 212.2l-2.1 0-2.1-.6-1.1-.9-.2-.6.1-.6.4-.6.8-.6 1.8-.6 2.1 0 1.8.5 1.1 1 .2.6-.1.6-.3.6-.7.6-1.7.6Z" fill="none" stroke="#000" stroke-width="0.6"/>
<path d="M413.8 213.7l-.9-.1-.6-.3-.6-.7-.7-1.3-.9-3.3-.4-4.2.2-4.5.7-4.2 1.2-2.7.8-.9.6-.2.9.3.6.6 1.2 2.6.8 3.9.4 5.1-.1 3.9-.6 2.7-1.1 2.2-.6.6-.9.5ZM440.8 211.7l-1.8 0-1.5-.4-1-.9 0-.9.7-.7 1.5-.5 1.5-.1 1.5.4.9.9 0 .9-.6.7-1.2.6Z" fill="none" stroke="#000" stroke-width="0.6"/>
<path d="M413.8 213.4l-.9 0-.6-.4-.6-.7-.7-1.3-.9-3.3-.3-3.9.2-4.5.7-3.9 1.1-2.7.8-.9.6-.2.6.1.8.7 1.1 2.4.9 3.9.4 4.8-.1 3.6-.6 3-1 2.2-.6.6-.9.5ZM439.9 211l-.9-.1-.9-.4-.3-.4.2-.6.7-.4.9-.2.9.1.6.3.4.5-.2.6-.5.4-.9.2Z" fill="none" stroke="#000" stroke-width="0.6"/>
<path d="M414.1 212.9l-.9.1-.6-.2-1.2-1.6-1-2.9-.4-3.9.1-4.5.6-3.9 1.1-2.7.8-.9.6-.3.6.2.6.4.6.9.6 1.5.8 3.3.4 4.2 0 3.9-.4 2.7-1 2.4-.7.9-.6.4Z" fill="none" stroke="#000" stroke-width="0.6"/>
<path d="M413.8 212.3l-.6 0-.6-.3-.6-.6-.6-1.1-.8-2.9-.4-3.6.1-3.9.7-3.6 1-2.4.6-.6.6-.3.6.1.6.6 1 2 .8 3.3.3 4.2 0 3.3-.5 2.7-1 2.1-.6.7-.6.3Z" fill="none" stroke="#000" stroke-width="0.6"/>
<path d="M413.5 211.6l-.6-.1-.6-.5-.9-1.6-.7-2.6-.2-3.3.1-3.6.6-3 .8-2 .6-.8.6-.2.6.1.6.6.9 1.9.7 3.1.3 3.9-.2 3.3-.5 2.3-.9 1.8-.6.5-.6.2Z" fill="none" stroke="#000" stroke-width="0.6"/>
<path d="M413.8 210.8l-.6 0-.6-.3-.9-1.4-.7-2.3-.3-3 .1-3.3.6-3 .9-2.1.9-.7.9.4.9 1.6.7 2.6.3 3.3-.1 3-.3 2.4-.9 2-.9.8Z" fill="none" stroke="#000" stroke-width="0.6"/>
<path d="M413.5 210.2l-.9-.4-.9-1.6-.5-2.3-.2-2.4.1-3 .4-2.4.8-1.9.9-.7.9.5.9 1.8.5 2.4.3 3-.2 2.7-.4 2.1-.8 1.6-.9.6Z" fill="none" stroke="#000" stroke-width="0.6"/>
<path d="M413.8 209.3l-.9-.1-.9-1.2-.5-1.8-.3-2.4.1-2.7.4-2.3.6-1.6.9-.8.6.2.3.3.6 1.1.5 1.9.2 2.4 0 2.4-.2 2.1-.6 1.5-.8 1Z" fill="none" stroke="#000" stroke-width="0.6"/>
<path d="M413.8 208.5l-.3.1-.6-.2-.6-.9-.5-1.6-.3-2.1.1-2.4.3-2.1.7-1.6.6-.4.6.2.6.9.5 1.8.3 2.1 0 2.1-.3 1.8-.5 1.6-.6.7Z" fill="none" stroke="#000" stroke-width="0.6"/>
<path d="M413.8 207.4l-.6.2-.6-.6-.5-1.4-.2-1.8 0-1.8.2-1.8.5-1.3.6-.6.6.3.4.7.6 3-.1 3-.3 1.2-.6.9Z" fill="none" stroke="#000" stroke-width="0.6"/>
<path d="M413.8 206.2l-.3.2-.6-.2-.4-.9-.3-1.5.2-2.7.2-.9.6-.7.3 0 .3.4.6 2.1 0 2.4-.6 1.8Z" fill="none" stroke="#000" stroke-width="0.6"/>
<rect x="423.3" y="160.5" width="54" height="76.6" fill="none" stroke="#000" stroke-width="1.2"/>
<path d="M399.3 238.8V159.6H478.9V238.8H399.3" fill="none" stroke="#000" stroke-width="1.35"/>
<line x1="395.9" y1="163.25" x2="399.3" y2="163.25" stroke="#000" stroke-width="0.9"/>
<line x1="397.3" y1="166.25" x2="399.3" y2="166.25" stroke="#000" stroke-width="0.9"/>
<line x1="397.3" y1="169.25" x2="399.3" y2="169.25" stroke="#000" stroke-width="0.9"/>
<line x1="397.3" y1="172.25" x2="399.3" y2="172.25" stroke="#000" stroke-width="0.9"/>
<line x1="397.3" y1="175.25" x2="399.3" y2="175.25" stroke="#000" stroke-width="0.9"/>
<line x1="395.9" y1="178.25" x2="399.3" y2="178.25" stroke="#000" stroke-width="0.9"/>
<line x1="397.3" y1="181.25" x2="399.3" y2="181.25" stroke="#000" stroke-width="0.9"/>
<line x1="397.3" y1="184.25" x2="399.3" y2="184.25" stroke="#000" stroke-width="0.9"/>
<line x1="397.3" y1="187.25" x2="399.3" y2="187.25" stroke="#000" stroke-width="0.9"/>
<line x1="397.3" y1="190.25" x2="399.3" y2="190.25" stroke="#000" stroke-width="0.9"/>
<line x1="395.9" y1="193.25" x2="399.3" y2="193.25" stroke="#000" stroke-width="0.9"/>
<line x1="397.3" y1="196.25" x2="399.3" y2="196.25" stroke="#000" stroke-width="0.9"/>
<line x1="397.3" y1="199.25" x2="399.3" y2="199.25" stroke="#000" stroke-width="0.9"/>
<line x1="397.3" y1="202.25" x2="399.3" y2="202.25" stroke="#000" stroke-width="0.9"/>
<line x1="397.3" y1="205.25" x2="399.3" y2="205.25" stroke="#000" stroke-width="0.9"/>
<line x1="395.9" y1="208.25" x2="399.3" y2="208.25" stroke="#000" stroke-width="0.9"/>
<line x1="397.3" y1="211.25" x2="399.3" y2="211.25" stroke="#000" stroke-width="0.9"/>
<line x1="397.3" y1="214.25" x2="399.3" y2="214.25" stroke="#000" stroke-width="0.9"/>
<line x1="397.3" y1="217.25" x2="399.3" y2="217.25" stroke="#000" stroke-width="0.9"/>
<line x1="397.3" y1="220.25" x2="399.3" y2="220.25" stroke="#000" stroke-width="0.9"/>
<line x1="395.9" y1="223.25" x2="399.3" y2="223.25" stroke="#000" stroke-width="0.9"/>
<line x1="397.3" y1="226.25" x2="399.3" y2="226.25" stroke="#000" stroke-width="0.9"/>
<line x1="397.3" y1="229.25" x2="399.3" y2="229.25" stroke="#000" stroke-width="0.9"/>
<line x1="397.3" y1="232.25" x2="399.3" y2="232.25" stroke="#000" stroke-width="0.9"/>
<line x1="397.3" y1="235.25" x2="399.3" y2="235.25" stroke="#000" stroke-width="0.9"/>
<line x1="395.9" y1="238.25" x2="399.3" y2="238.25" stroke="#000" stroke-width="0.9"/>
<path d="M401.8 238.8v2.2M403.2 238.8v2.2M404.6 238.8v2.2M406 238.8v2.2M407.4 238.8v2.2M408.8 238.8v2.2M410.2 238.8v3.2M411.6 238.8v2.2M413 238.8v2.2M414.4 238.8v2.2M415.8 238.8v2.2M417.2 238.8v2.2M418.6 238.8v2.2M423.3 238.8v2.2M427.3 238.8v2.2M430.3 238.8v2.2M432.3 238.8v2.2M433.8 238.8v2.2M434.8 238.8v2.2M435.8 238.8v2.2M436.6 238.8v2.2M437.3 238.8v3.2M443.3 238.8v2.2M447.3 238.8v2.2M450.3 238.8v2.2M452.3 238.8v2.2M453.8 238.8v2.2M454.8 238.8v2.2M455.8 238.8v2.2M456.6 238.8v2.2M457.3 238.8v3.2M463.3 238.8v2.2M467.3 238.8v2.2M470.3 238.8v2.2M472.3 238.8v2.2M473.8 238.8v2.2M474.8 238.8v2.2M475.8 238.8v2.2M476.6 238.8v2.2M477.3 238.8v3.2" stroke="#000" stroke-width="0.8"/>
<text x="453.3" y="168.45" font-size="8" text-anchor="middle">25.7</text>
<text x="451" y="233.6" font-size="8" text-anchor="middle" textLength="13.8" lengthAdjust="spacingAndGlyphs">LPS</text>
<text transform="translate(390.4,199) rotate(-90)" x="0" y="0" font-size="9.8" text-anchor="middle" textLength="18.9" lengthAdjust="spacingAndGlyphs" class="c">FSC-A</text>
<text x="406.2" y="254.15" font-size="9.2" textLength="21.1" lengthAdjust="spacingAndGlyphs" class="c">TNF-&#945;</text>
<text x="435.6" y="254.15" font-size="9.2" textLength="35.8" lengthAdjust="spacingAndGlyphs" class="c">Pacific Blue</text>
<text x="123.1" y="287.5" font-size="10" text-anchor="middle" fill="#2a4888" class="n" textLength="46.5" lengthAdjust="spacingAndGlyphs">Monocytes</text>
<rect x="60.2" y="296.3" width="9.4" height="9.4" fill="#d08b82"/>
<circle cx="64.9" cy="301" r="1.8" fill="#000"/>
<text x="73" y="303.7" font-size="8.2">Control (n=6)</text>
<rect x="134.5" y="296.5" width="9.4" height="9.4" fill="#b9d69d"/>
<path d="M139.2 299.35L141.1 302.77L137.3 302.77Z" fill="#000"/>
<text x="147.3" y="303.9" font-size="8.2">Runx1 KO (n=6)</text>
<line x1="82.1" y1="314.3" x2="82.1" y2="392.25" stroke="#333" stroke-width="0.85" stroke-dasharray="1 1.1"/>
<rect x="40.9" y="389.73" width="14.6" height="2.52" fill="#d08b82"/>
<rect x="63.1" y="390.84" width="14.6" height="1.41" fill="#b9d69d"/>
<rect x="85.8" y="341.1" width="15.3" height="51.15" fill="#d08b82"/>
<rect x="108.2" y="343.2" width="15.6" height="49.05" fill="#b9d69d"/>
<line x1="36.7" y1="313.65" x2="36.7" y2="392.75" stroke="#000" stroke-width="1.2"/>
<line x1="33.5" y1="313.65" x2="36.7" y2="313.65" stroke="#000" stroke-width="1"/>
<text x="30.4" y="316.5" font-size="8.3" text-anchor="end">50</text>
<line x1="33.5" y1="329.37" x2="36.7" y2="329.37" stroke="#000" stroke-width="1"/>
<text x="30.4" y="332.22" font-size="8.3" text-anchor="end">40</text>
<line x1="33.5" y1="345.09" x2="36.7" y2="345.09" stroke="#000" stroke-width="1"/>
<text x="30.4" y="347.94" font-size="8.3" text-anchor="end">30</text>
<line x1="33.5" y1="360.81" x2="36.7" y2="360.81" stroke="#000" stroke-width="1"/>
<text x="30.4" y="363.66" font-size="8.3" text-anchor="end">20</text>
<line x1="33.5" y1="376.53" x2="36.7" y2="376.53" stroke="#000" stroke-width="1"/>
<text x="30.4" y="379.38" font-size="8.3" text-anchor="end">10</text>
<line x1="33.5" y1="392.25" x2="36.7" y2="392.25" stroke="#000" stroke-width="1"/>
<text x="30.4" y="395.1" font-size="8.3" text-anchor="end">0</text>
<line x1="36.1" y1="392.25" x2="126.6" y2="392.25" stroke="#000" stroke-width="1.2"/>
<line x1="48.2" y1="392.25" x2="48.2" y2="394.85" stroke="#000" stroke-width="1"/>
<line x1="70.4" y1="392.25" x2="70.4" y2="394.85" stroke="#000" stroke-width="1"/>
<line x1="93.4" y1="392.25" x2="93.4" y2="394.85" stroke="#000" stroke-width="1"/>
<line x1="116" y1="392.25" x2="116" y2="394.85" stroke="#000" stroke-width="1"/>
<line x1="48.2" y1="389.73" x2="48.2" y2="387.9" stroke="#000" stroke-width="0.9"/>
<line x1="44.2" y1="387.9" x2="52.2" y2="387.9" stroke="#000" stroke-width="0.9"/>
<circle cx="48" cy="385.8" r="1.9" fill="#000"/>
<circle cx="45.5" cy="389.6" r="1.9" fill="#000"/>
<circle cx="50.5" cy="389.8" r="1.9" fill="#000"/>
<circle cx="47" cy="391.2" r="1.9" fill="#000"/>
<circle cx="49.5" cy="391.4" r="1.9" fill="#000"/>
<circle cx="48.2" cy="390.5" r="1.9" fill="#000"/>
<line x1="70.4" y1="390.84" x2="70.4" y2="388.2" stroke="#000" stroke-width="0.9"/>
<line x1="66.9" y1="388.2" x2="73.9" y2="388.2" stroke="#000" stroke-width="0.9"/>
<path d="M73.4 384.2L75.25 387.53L71.55 387.53Z" fill="#000"/>
<path d="M67.5 387.6L69.35 390.93L65.65 390.93Z" fill="#000"/>
<path d="M70.4 388L72.25 391.33L68.55 391.33Z" fill="#000"/>
<path d="M72.2 389.2L74.05 392.53L70.35 392.53Z" fill="#000"/>
<path d="M68.6 389.6L70.45 392.93L66.75 392.93Z" fill="#000"/>
<path d="M70.4 389L72.25 392.33L68.55 392.33Z" fill="#000"/>
<line x1="93.4" y1="341.1" x2="93.4" y2="328.4" stroke="#000" stroke-width="0.9"/>
<line x1="90.25" y1="328.4" x2="96.55" y2="328.4" stroke="#000" stroke-width="0.9"/>
<circle cx="90" cy="328.2" r="1.75" fill="#000"/>
<circle cx="96.1" cy="324.4" r="1.75" fill="#000"/>
<circle cx="93.2" cy="339.3" r="1.75" fill="#000"/>
<circle cx="88.5" cy="349.3" r="1.75" fill="#000"/>
<circle cx="98" cy="350.8" r="1.75" fill="#000"/>
<circle cx="93.1" cy="355.2" r="1.75" fill="#000"/>
<line x1="116" y1="343.2" x2="116" y2="337.2" stroke="#000" stroke-width="0.9"/>
<line x1="111.75" y1="337.2" x2="120.25" y2="337.2" stroke="#000" stroke-width="0.9"/>
<path d="M111.3 337.9L113.15 341.23L109.45 341.23Z" fill="#000"/>
<path d="M120.5 333.6L122.35 336.93L118.65 336.93Z" fill="#000"/>
<path d="M116 339.4L117.85 342.73L114.15 342.73Z" fill="#000"/>
<path d="M111.3 343.9L113.15 347.23L109.45 347.23Z" fill="#000"/>
<path d="M116 349.6L117.85 352.93L114.15 352.93Z" fill="#000"/>
<path d="M120.5 347.6L122.35 350.93L118.65 350.93Z" fill="#000"/>
<text x="47" y="405.8" font-size="8">Vehicle</text>
<text x="104.5" y="405.8" font-size="8" text-anchor="middle">LPS</text>
<text transform="translate(15,352) rotate(-90)" x="0" y="0" font-size="9.6" text-anchor="middle" textLength="35.3" lengthAdjust="spacingAndGlyphs" class="c">% TNF-&#945; +</text>
<rect x="180.75" y="360.7" width="21.3" height="31.5" fill="#d08b82"/>
<rect x="213.25" y="349.36" width="21.3" height="42.84" fill="#b9d69d"/>
<line x1="175.6" y1="310.95" x2="175.6" y2="392.7" stroke="#000" stroke-width="1.2"/>
<line x1="172.2" y1="313.45" x2="175.6" y2="313.45" stroke="#000" stroke-width="1"/>
<text x="168.6" y="316.3" font-size="8.3" text-anchor="end">2.5</text>
<line x1="172.2" y1="329.2" x2="175.6" y2="329.2" stroke="#000" stroke-width="1"/>
<text x="168.6" y="332.05" font-size="8.3" text-anchor="end">2.0</text>
<line x1="172.2" y1="344.95" x2="175.6" y2="344.95" stroke="#000" stroke-width="1"/>
<text x="168.6" y="347.8" font-size="8.3" text-anchor="end">1.5</text>
<line x1="172.2" y1="360.7" x2="175.6" y2="360.7" stroke="#000" stroke-width="1"/>
<text x="168.6" y="363.55" font-size="8.3" text-anchor="end">1.0</text>
<line x1="172.2" y1="376.45" x2="175.6" y2="376.45" stroke="#000" stroke-width="1"/>
<text x="168.6" y="379.3" font-size="8.3" text-anchor="end">0.5</text>
<line x1="172.2" y1="392.2" x2="175.6" y2="392.2" stroke="#000" stroke-width="1"/>
<text x="168.6" y="395.05" font-size="8.3" text-anchor="end">0.0</text>
<line x1="175" y1="392.2" x2="239.5" y2="392.2" stroke="#000" stroke-width="1.2"/>
<line x1="191.7" y1="392.2" x2="191.7" y2="394.8" stroke="#000" stroke-width="1"/>
<line x1="223.8" y1="392.2" x2="223.8" y2="394.8" stroke="#000" stroke-width="1"/>
<line x1="223.9" y1="349.36" x2="223.9" y2="331.8" stroke="#000" stroke-width="0.9"/>
<line x1="217.9" y1="331.8" x2="229.9" y2="331.8" stroke="#000" stroke-width="0.9"/>
<circle cx="186.15" cy="360.7" r="1.75" fill="#000"/>
<circle cx="189.85" cy="360.7" r="1.75" fill="#000"/>
<circle cx="193.55" cy="360.7" r="1.75" fill="#000"/>
<circle cx="197.25" cy="360.7" r="1.75" fill="#000"/>
<path d="M223.7 319.8L225.55 323.13L221.85 323.13Z" fill="#000"/>
<path d="M220.8 341.6L222.65 344.93L218.95 344.93Z" fill="#000"/>
<path d="M226.8 340.7L228.65 344.03L224.95 344.03Z" fill="#000"/>
<path d="M223.7 354.4L225.55 357.73L221.85 357.73Z" fill="#000"/>
<path d="M220.8 367.2L222.65 370.53L218.95 370.53Z" fill="#000"/>
<path d="M226.8 364.9L228.65 368.23L224.95 368.23Z" fill="#000"/>
<text x="207.5" y="406.3" font-size="8" text-anchor="middle">LPS</text>
<text transform="translate(152,351.5) rotate(-90)" x="0" y="0" font-size="9.8" text-anchor="middle" textLength="62" lengthAdjust="spacingAndGlyphs" class="c">Relative TNF-&#945; MFI</text>
<text x="372.9" y="287.5" font-size="10" text-anchor="middle" fill="#2a4888" class="n" textLength="48.7" lengthAdjust="spacingAndGlyphs">Neutrophils</text>
<rect x="312.1" y="296.3" width="9.4" height="9.4" fill="#d08b82"/>
<circle cx="316.8" cy="301" r="1.8" fill="#000"/>
<text x="324.9" y="303.7" font-size="8.2">Control (n=6)</text>
<rect x="386.3" y="296.5" width="9.4" height="9.4" fill="#b9d69d"/>
<path d="M391 299.35L392.9 302.77L389.1 302.77Z" fill="#000"/>
<text x="399.1" y="303.9" font-size="8.2">Runx1 KO (n=6)</text>
<line x1="331.8" y1="312.5" x2="331.8" y2="392.2" stroke="#333" stroke-width="0.85" stroke-dasharray="1 1.1"/>
<rect x="290.3" y="391.21" width="14.6" height="0.99" fill="#d08b82"/>
<rect x="312.4" y="391.41" width="14.6" height="0.79" fill="#b9d69d"/>
<rect x="336.3" y="382" width="15" height="10.2" fill="#d08b82"/>
<rect x="358.3" y="336.8" width="15" height="55.4" fill="#b9d69d"/>
<line x1="286.35" y1="311.9" x2="286.35" y2="392.7" stroke="#000" stroke-width="1.2"/>
<line x1="283.15" y1="313.4" x2="286.35" y2="313.4" stroke="#000" stroke-width="1"/>
<text x="280.2" y="316.25" font-size="8.3" text-anchor="end">40</text>
<line x1="283.15" y1="333.1" x2="286.35" y2="333.1" stroke="#000" stroke-width="1"/>
<text x="280.2" y="335.95" font-size="8.3" text-anchor="end">30</text>
<line x1="283.15" y1="352.8" x2="286.35" y2="352.8" stroke="#000" stroke-width="1"/>
<text x="280.2" y="355.65" font-size="8.3" text-anchor="end">20</text>
<line x1="283.15" y1="372.5" x2="286.35" y2="372.5" stroke="#000" stroke-width="1"/>
<text x="280.2" y="375.35" font-size="8.3" text-anchor="end">10</text>
<line x1="283.15" y1="392.2" x2="286.35" y2="392.2" stroke="#000" stroke-width="1"/>
<text x="280.2" y="395.05" font-size="8.3" text-anchor="end">0</text>
<line x1="285.75" y1="392.2" x2="377" y2="392.2" stroke="#000" stroke-width="1.2"/>
<line x1="297.6" y1="392.2" x2="297.6" y2="394.8" stroke="#000" stroke-width="1"/>
<line x1="319.7" y1="392.2" x2="319.7" y2="394.8" stroke="#000" stroke-width="1"/>
<line x1="343.8" y1="392.2" x2="343.8" y2="394.8" stroke="#000" stroke-width="1"/>
<line x1="365.8" y1="392.2" x2="365.8" y2="394.8" stroke="#000" stroke-width="1"/>
<circle cx="294.6" cy="391" r="1.9" fill="#000"/>
<circle cx="297.6" cy="391.3" r="1.9" fill="#000"/>
<circle cx="300.6" cy="391" r="1.9" fill="#000"/>
<circle cx="296.1" cy="391.8" r="1.9" fill="#000"/>
<circle cx="299.1" cy="391.6" r="1.9" fill="#000"/>
<path d="M316.7 389.26L318.5 392.5L314.9 392.5Z" fill="#000"/>
<path d="M319.7 389.46L321.5 392.7L317.9 392.7Z" fill="#000"/>
<path d="M322.7 389.06L324.5 392.3L320.9 392.3Z" fill="#000"/>
<line x1="343.8" y1="382" x2="343.8" y2="376.3" stroke="#000" stroke-width="0.9"/>
<line x1="339.8" y1="376.3" x2="347.8" y2="376.3" stroke="#000" stroke-width="0.9"/>
<circle cx="338.8" cy="376.9" r="1.75" fill="#000"/>
<circle cx="343.7" cy="378.3" r="1.75" fill="#000"/>
<circle cx="347.9" cy="376" r="1.75" fill="#000"/>
<circle cx="337.9" cy="386" r="1.75" fill="#000"/>
<circle cx="347.5" cy="386.9" r="1.75" fill="#000"/>
<circle cx="343.3" cy="389.2" r="1.75" fill="#000"/>
<line x1="365.8" y1="336.8" x2="365.8" y2="328" stroke="#000" stroke-width="0.9"/>
<line x1="362.05" y1="328" x2="369.55" y2="328" stroke="#000" stroke-width="0.9"/>
<path d="M365.8 319L367.65 322.33L363.95 322.33Z" fill="#000"/>
<path d="M361.5 336.5L363.35 339.83L359.65 339.83Z" fill="#000"/>
<path d="M365.8 336.5L367.65 339.83L363.95 339.83Z" fill="#000"/>
<path d="M370.6 334L372.45 337.33L368.75 337.33Z" fill="#000"/>
<path d="M368.7 339.7L370.55 343.03L366.85 343.03Z" fill="#000"/>
<path d="M362.9 343.6L364.75 346.93L361.05 346.93Z" fill="#000"/>
<text x="353.5" y="319.5" font-size="7.2" text-anchor="middle">****</text>
<text x="296.3" y="406.3" font-size="8">Vehicle</text>
<text x="353.8" y="406.3" font-size="8" text-anchor="middle">LPS</text>
<text transform="translate(265,352.1) rotate(-90)" x="0" y="0" font-size="9.6" text-anchor="middle" textLength="35.3" lengthAdjust="spacingAndGlyphs" class="c">% TNF-&#945; +</text>
<rect x="430.75" y="360.7" width="21.3" height="31.5" fill="#d08b82"/>
<rect x="463.25" y="340.8" width="21.3" height="51.4" fill="#b9d69d"/>
<line x1="425.6" y1="310.95" x2="425.6" y2="392.7" stroke="#000" stroke-width="1.2"/>
<line x1="422.2" y1="313.45" x2="425.6" y2="313.45" stroke="#000" stroke-width="1"/>
<text x="418.6" y="316.3" font-size="8.3" text-anchor="end">2.5</text>
<line x1="422.2" y1="329.2" x2="425.6" y2="329.2" stroke="#000" stroke-width="1"/>
<text x="418.6" y="332.05" font-size="8.3" text-anchor="end">2.0</text>
<line x1="422.2" y1="344.95" x2="425.6" y2="344.95" stroke="#000" stroke-width="1"/>
<text x="418.6" y="347.8" font-size="8.3" text-anchor="end">1.5</text>
<line x1="422.2" y1="360.7" x2="425.6" y2="360.7" stroke="#000" stroke-width="1"/>
<text x="418.6" y="363.55" font-size="8.3" text-anchor="end">1.0</text>
<line x1="422.2" y1="376.45" x2="425.6" y2="376.45" stroke="#000" stroke-width="1"/>
<text x="418.6" y="379.3" font-size="8.3" text-anchor="end">0.5</text>
<line x1="422.2" y1="392.2" x2="425.6" y2="392.2" stroke="#000" stroke-width="1"/>
<text x="418.6" y="395.05" font-size="8.3" text-anchor="end">0.0</text>
<line x1="425" y1="392.2" x2="490" y2="392.2" stroke="#000" stroke-width="1.2"/>
<line x1="441.3" y1="392.2" x2="441.3" y2="394.8" stroke="#000" stroke-width="1"/>
<line x1="473.8" y1="392.2" x2="473.8" y2="394.8" stroke="#000" stroke-width="1"/>
<line x1="473.9" y1="340.8" x2="473.9" y2="330.2" stroke="#000" stroke-width="0.9"/>
<line x1="467.9" y1="330.2" x2="479.9" y2="330.2" stroke="#000" stroke-width="0.9"/>
<circle cx="436.15" cy="360.7" r="1.75" fill="#000"/>
<circle cx="439.85" cy="360.7" r="1.75" fill="#000"/>
<circle cx="443.55" cy="360.7" r="1.75" fill="#000"/>
<circle cx="447.25" cy="360.7" r="1.75" fill="#000"/>
<path d="M474.1 319.8L475.95 323.13L472.25 323.13Z" fill="#000"/>
<path d="M466 338.7L467.85 342.03L464.15 342.03Z" fill="#000"/>
<path d="M471.4 340.7L473.25 344.03L469.55 344.03Z" fill="#000"/>
<path d="M476.8 341.4L478.65 344.73L474.95 344.73Z" fill="#000"/>
<path d="M482.5 339.4L484.35 342.73L480.65 342.73Z" fill="#000"/>
<path d="M474.1 350.1L475.95 353.43L472.25 353.43Z" fill="#000"/>
<text x="456.8" y="320.4" font-size="7.2" text-anchor="middle">***</text>
<text x="457.5" y="406.3" font-size="8" text-anchor="middle">LPS</text>
<text transform="translate(402,351.5) rotate(-90)" x="0" y="0" font-size="9.8" text-anchor="middle" textLength="62" lengthAdjust="spacingAndGlyphs" class="c">Relative TNF-&#945; MFI</text>
<text x="206.6" y="441.2" font-size="10" text-anchor="middle" fill="#2a4888" class="n" textLength="48.7" lengthAdjust="spacingAndGlyphs">Neutrophils</text>
<rect x="379.5" y="447" width="9.4" height="9.4" fill="#d08b82"/>
<circle cx="384.2" cy="451.7" r="1.8" fill="#000"/>
<text x="392.3" y="454.4" font-size="8.2">Control</text>
<rect x="379.5" y="460" width="9.4" height="9.4" fill="#b9d69d"/>
<path d="M384.2 462.85L386.1 466.27L382.3 466.27Z" fill="#000"/>
<text x="392.3" y="467.4" font-size="8.2">Runx1 KO</text>
<line x1="79" y1="449.8" x2="79" y2="553" stroke="#333" stroke-width="0.85" stroke-dasharray="1 1.1"/>
<line x1="121.4" y1="449.8" x2="121.4" y2="553" stroke="#333" stroke-width="0.85" stroke-dasharray="1 1.1"/>
<line x1="163.8" y1="449.8" x2="163.8" y2="553" stroke="#333" stroke-width="0.85" stroke-dasharray="1 1.1"/>
<line x1="206.2" y1="449.8" x2="206.2" y2="553" stroke="#333" stroke-width="0.85" stroke-dasharray="1 1.1"/>
<line x1="248.7" y1="449.8" x2="248.7" y2="553" stroke="#333" stroke-width="0.85" stroke-dasharray="1 1.1"/>
<line x1="291" y1="449.8" x2="291" y2="553" stroke="#333" stroke-width="0.85" stroke-dasharray="1 1.1"/>
<line x1="333.3" y1="449.8" x2="333.3" y2="553" stroke="#333" stroke-width="0.85" stroke-dasharray="1 1.1"/>
<rect x="39.9" y="552.74" width="13.8" height="0.26" fill="#d08b82"/>
<rect x="61.3" y="552.74" width="13.8" height="0.26" fill="#b9d69d"/>
<rect x="82.4" y="549.39" width="13.8" height="3.61" fill="#d08b82"/>
<rect x="103.8" y="499.42" width="13.8" height="53.58" fill="#b9d69d"/>
<rect x="124.9" y="545.25" width="13.8" height="7.75" fill="#d08b82"/>
<rect x="146.3" y="499.42" width="13.8" height="53.58" fill="#b9d69d"/>
<rect x="167.4" y="551.71" width="13.8" height="1.29" fill="#d08b82"/>
<rect x="188.8" y="545.25" width="13.8" height="7.75" fill="#b9d69d"/>
<rect x="209.7" y="552.61" width="13.8" height="0.39" fill="#d08b82"/>
<rect x="231.1" y="552.74" width="13.8" height="0.26" fill="#b9d69d"/>
<rect x="252.2" y="547.45" width="13.8" height="5.55" fill="#d08b82"/>
<rect x="273.6" y="545.38" width="13.8" height="7.62" fill="#b9d69d"/>
<rect x="294.4" y="552.61" width="13.8" height="0.39" fill="#d08b82"/>
<rect x="315.8" y="552.61" width="13.8" height="0.39" fill="#b9d69d"/>
<rect x="336.7" y="552.61" width="13.8" height="0.39" fill="#d08b82"/>
<rect x="358.1" y="552.61" width="13.8" height="0.39" fill="#b9d69d"/>
<line x1="36.5" y1="447.22" x2="36.5" y2="553.5" stroke="#000" stroke-width="1.2"/>
<line x1="33.3" y1="449.72" x2="36.5" y2="449.72" stroke="#000" stroke-width="1"/>
<text x="30.3" y="452.57" font-size="8.3" text-anchor="end">80</text>
<line x1="33.3" y1="475.54" x2="36.5" y2="475.54" stroke="#000" stroke-width="1"/>
<text x="30.3" y="478.39" font-size="8.3" text-anchor="end">60</text>
<line x1="33.3" y1="501.36" x2="36.5" y2="501.36" stroke="#000" stroke-width="1"/>
<text x="30.3" y="504.21" font-size="8.3" text-anchor="end">40</text>
<line x1="33.3" y1="527.18" x2="36.5" y2="527.18" stroke="#000" stroke-width="1"/>
<text x="30.3" y="530.03" font-size="8.3" text-anchor="end">20</text>
<line x1="33.3" y1="553" x2="36.5" y2="553" stroke="#000" stroke-width="1"/>
<text x="30.3" y="555.85" font-size="8.3" text-anchor="end">0</text>
<line x1="35.9" y1="553" x2="375.6" y2="553" stroke="#000" stroke-width="1.2"/>
<line x1="46.8" y1="553" x2="46.8" y2="555.6" stroke="#000" stroke-width="1"/>
<line x1="68.2" y1="553" x2="68.2" y2="555.6" stroke="#000" stroke-width="1"/>
<line x1="89.3" y1="553" x2="89.3" y2="555.6" stroke="#000" stroke-width="1"/>
<line x1="110.7" y1="553" x2="110.7" y2="555.6" stroke="#000" stroke-width="1"/>
<line x1="131.8" y1="553" x2="131.8" y2="555.6" stroke="#000" stroke-width="1"/>
<line x1="153.2" y1="553" x2="153.2" y2="555.6" stroke="#000" stroke-width="1"/>
<line x1="174.3" y1="553" x2="174.3" y2="555.6" stroke="#000" stroke-width="1"/>
<line x1="195.7" y1="553" x2="195.7" y2="555.6" stroke="#000" stroke-width="1"/>
<line x1="216.6" y1="553" x2="216.6" y2="555.6" stroke="#000" stroke-width="1"/>
<line x1="238" y1="553" x2="238" y2="555.6" stroke="#000" stroke-width="1"/>
<line x1="259.1" y1="553" x2="259.1" y2="555.6" stroke="#000" stroke-width="1"/>
<line x1="280.5" y1="553" x2="280.5" y2="555.6" stroke="#000" stroke-width="1"/>
<line x1="301.3" y1="553" x2="301.3" y2="555.6" stroke="#000" stroke-width="1"/>
<line x1="322.7" y1="553" x2="322.7" y2="555.6" stroke="#000" stroke-width="1"/>
<line x1="343.6" y1="553" x2="343.6" y2="555.6" stroke="#000" stroke-width="1"/>
<line x1="365" y1="553" x2="365" y2="555.6" stroke="#000" stroke-width="1"/>
<circle cx="43.65" cy="551.8" r="1.6" fill="#000"/>
<circle cx="45.45" cy="551.8" r="1.6" fill="#000"/>
<circle cx="47.25" cy="551.8" r="1.6" fill="#000"/>
<circle cx="49.05" cy="551.8" r="1.6" fill="#000"/>
<path d="M65.7 550.16L67.4 553.22L64 553.22Z" fill="#000"/>
<path d="M68.2 550.16L69.9 553.22L66.5 553.22Z" fill="#000"/>
<path d="M70.7 550.16L72.4 553.22L69 553.22Z" fill="#000"/>
<circle cx="213.45" cy="551.8" r="1.6" fill="#000"/>
<circle cx="215.25" cy="551.8" r="1.6" fill="#000"/>
<circle cx="217.05" cy="551.8" r="1.6" fill="#000"/>
<circle cx="218.85" cy="551.8" r="1.6" fill="#000"/>
<path d="M235.5 550.16L237.2 553.22L233.8 553.22Z" fill="#000"/>
<path d="M238 550.16L239.7 553.22L236.3 553.22Z" fill="#000"/>
<path d="M240.5 550.16L242.2 553.22L238.8 553.22Z" fill="#000"/>
<circle cx="298.15" cy="551.8" r="1.6" fill="#000"/>
<circle cx="299.95" cy="551.8" r="1.6" fill="#000"/>
<circle cx="301.75" cy="551.8" r="1.6" fill="#000"/>
<circle cx="303.55" cy="551.8" r="1.6" fill="#000"/>
<path d="M320.2 550.16L321.9 553.22L318.5 553.22Z" fill="#000"/>
<path d="M322.7 550.16L324.4 553.22L321 553.22Z" fill="#000"/>
<path d="M325.2 550.16L326.9 553.22L323.5 553.22Z" fill="#000"/>
<circle cx="340.45" cy="551.8" r="1.6" fill="#000"/>
<circle cx="342.25" cy="551.8" r="1.6" fill="#000"/>
<circle cx="344.05" cy="551.8" r="1.6" fill="#000"/>
<circle cx="345.85" cy="551.8" r="1.6" fill="#000"/>
<path d="M362.5 550.16L364.2 553.22L360.8 553.22Z" fill="#000"/>
<path d="M365 550.16L366.7 553.22L363.3 553.22Z" fill="#000"/>
<path d="M367.5 550.16L369.2 553.22L365.8 553.22Z" fill="#000"/>
<circle cx="86.3" cy="549" r="1.75" fill="#000"/>
<circle cx="90" cy="550.5" r="1.75" fill="#000"/>
<circle cx="92.6" cy="547.8" r="1.75" fill="#000"/>
<circle cx="88.8" cy="551.5" r="1.75" fill="#000"/>
<line x1="110.7" y1="499.42" x2="110.7" y2="480.5" stroke="#000" stroke-width="0.9"/>
<line x1="106.7" y1="480.5" x2="114.7" y2="480.5" stroke="#000" stroke-width="0.9"/>
<path d="M110.75 462.5L112.6 465.83L108.9 465.83Z" fill="#000"/>
<path d="M107.5 497.5L109.35 500.83L105.65 500.83Z" fill="#000"/>
<path d="M113.75 493L115.6 496.33L111.9 496.33Z" fill="#000"/>
<path d="M107.5 506.75L109.35 510.08L105.65 510.08Z" fill="#000"/>
<path d="M113.75 511L115.6 514.33L111.9 514.33Z" fill="#000"/>
<path d="M110.75 515.5L112.6 518.83L108.9 518.83Z" fill="#000"/>
<line x1="131.8" y1="545.25" x2="131.8" y2="539.5" stroke="#000" stroke-width="0.9"/>
<line x1="128.8" y1="539.5" x2="134.8" y2="539.5" stroke="#000" stroke-width="0.9"/>
<circle cx="129.5" cy="541.5" r="1.75" fill="#000"/>
<circle cx="134.2" cy="541" r="1.75" fill="#000"/>
<circle cx="127.6" cy="545.5" r="1.75" fill="#000"/>
<circle cx="132" cy="546.5" r="1.75" fill="#000"/>
<circle cx="135.5" cy="545.5" r="1.75" fill="#000"/>
<circle cx="129.8" cy="550" r="1.75" fill="#000"/>
<circle cx="134" cy="550.2" r="1.75" fill="#000"/>
<line x1="153.2" y1="499.42" x2="153.2" y2="480" stroke="#000" stroke-width="0.9"/>
<line x1="149.2" y1="480" x2="157.2" y2="480" stroke="#000" stroke-width="0.9"/>
<path d="M153 462.25L154.85 465.58L151.15 465.58Z" fill="#000"/>
<path d="M149.5 498L151.35 501.33L147.65 501.33Z" fill="#000"/>
<path d="M156.5 497L158.35 500.33L154.65 500.33Z" fill="#000"/>
<path d="M149.5 503L151.35 506.33L147.65 506.33Z" fill="#000"/>
<path d="M156 507L157.85 510.33L154.15 510.33Z" fill="#000"/>
<path d="M153 520L154.85 523.33L151.15 523.33Z" fill="#000"/>
<circle cx="170.3" cy="551.5" r="1.6" fill="#000"/>
<circle cx="173.8" cy="550.8" r="1.6" fill="#000"/>
<circle cx="177" cy="551.5" r="1.6" fill="#000"/>
<path d="M192 542.86L193.8 546.1L190.2 546.1Z" fill="#000"/>
<path d="M195.5 542.36L197.3 545.6L193.7 545.6Z" fill="#000"/>
<path d="M199 542.86L200.8 546.1L197.2 546.1Z" fill="#000"/>
<path d="M195.5 545.56L197.3 548.8L193.7 548.8Z" fill="#000"/>
<line x1="259.1" y1="547.45" x2="259.1" y2="541.6" stroke="#000" stroke-width="0.9"/>
<line x1="255.6" y1="541.6" x2="262.6" y2="541.6" stroke="#000" stroke-width="0.9"/>
<circle cx="258.7" cy="538.7" r="1.75" fill="#000"/>
<circle cx="255.9" cy="548.8" r="1.75" fill="#000"/>
<circle cx="260.2" cy="550" r="1.75" fill="#000"/>
<circle cx="263" cy="548.8" r="1.75" fill="#000"/>
<line x1="280.5" y1="545.38" x2="280.5" y2="541.5" stroke="#000" stroke-width="0.9"/>
<line x1="277" y1="541.5" x2="284" y2="541.5" stroke="#000" stroke-width="0.9"/>
<path d="M280.4 539.66L282.2 542.9L278.6 542.9Z" fill="#000"/>
<path d="M277 545.06L278.8 548.3L275.2 548.3Z" fill="#000"/>
<path d="M281 545.56L282.8 548.8L279.2 548.8Z" fill="#000"/>
<path d="M284.5 544.56L286.3 547.8L282.7 547.8Z" fill="#000"/>
<text x="99.4" y="456" font-size="7.2" text-anchor="middle">****</text>
<text x="142.5" y="455.5" font-size="7.2" text-anchor="middle">****</text>
<text x="57.5" y="566.7" font-size="8" text-anchor="middle">Vehicle</text>
<text x="57.5" y="586.3" font-size="8" text-anchor="middle">n=6</text>
<text x="100" y="566.7" font-size="8" text-anchor="middle">LPS</text>
<text x="100" y="576.3" font-size="8" text-anchor="middle">TLR4</text>
<text x="100" y="586.3" font-size="8" text-anchor="middle">n=6</text>
<text x="142.5" y="566.7" font-size="8" text-anchor="middle">PAM3CSK4</text>
<text x="142.5" y="576.3" font-size="8" text-anchor="middle">TLR1/2</text>
<text x="142.5" y="586.3" font-size="8" text-anchor="middle">n=6</text>
<text x="185" y="566.7" font-size="8" text-anchor="middle">HKLM</text>
<text x="185" y="576.3" font-size="8" text-anchor="middle">TLR2</text>
<text x="185" y="586.3" font-size="8" text-anchor="middle">n=4</text>
<text x="227.3" y="566.7" font-size="8" text-anchor="middle">plpC</text>
<text x="227.3" y="576.3" font-size="8" text-anchor="middle">TLR3</text>
<text x="227.3" y="586.3" font-size="8" text-anchor="middle">n=4</text>
<text x="269.8" y="566.7" font-size="8" text-anchor="middle">Flagellin</text>
<text x="269.8" y="576.3" font-size="8" text-anchor="middle">TLR5</text>
<text x="269.8" y="586.3" font-size="8" text-anchor="middle">n=4</text>
<text x="312" y="566.7" font-size="8" text-anchor="middle">Imiquimod</text>
<text x="312" y="576.3" font-size="8" text-anchor="middle">TLR7</text>
<text x="312" y="586.3" font-size="8" text-anchor="middle">n=5</text>
<text x="354.3" y="566.7" font-size="8" text-anchor="middle">CpG</text>
<text x="354.3" y="576.3" font-size="8" text-anchor="middle">TLR9</text>
<text x="354.3" y="586.3" font-size="8" text-anchor="middle">n=6</text>
<text transform="translate(14.9,500) rotate(-90)" x="0" y="0" font-size="9.6" text-anchor="middle" textLength="35.5" lengthAdjust="spacingAndGlyphs" class="c">% TNF-&#945; +</text>
<rect x="20.6" y="602.7" width="9.4" height="9.4" fill="#d08b82"/>
<circle cx="25.3" cy="607.4" r="1.8" fill="#000"/>
<text x="33.4" y="610.1" font-size="8.2">Control (n=5)</text>
<rect x="95.1" y="602.7" width="9.4" height="9.4" fill="#b9d69d"/>
<path d="M99.8 605.55L101.7 608.97L97.9 608.97Z" fill="#000"/>
<text x="107.9" y="610.1" font-size="8.2">Runx1 KO (n=5)</text>
<text x="75.3" y="634.3" font-size="10" text-anchor="middle" fill="#2a4888" class="n" textLength="48.7" lengthAdjust="spacingAndGlyphs">Neutrophils</text>
<line x1="75" y1="642" x2="75" y2="710.1" stroke="#333" stroke-width="0.85" stroke-dasharray="1 1.1"/>
<rect x="39.95" y="674.06" width="12.6" height="36.04" fill="#d08b82"/>
<rect x="59.2" y="675.08" width="12.6" height="35.02" fill="#b9d69d"/>
<rect x="78.2" y="674.06" width="12.6" height="36.04" fill="#d08b82"/>
<rect x="97.45" y="658.25" width="12.6" height="51.85" fill="#b9d69d"/>
<line x1="36.5" y1="640.3" x2="36.5" y2="710.6" stroke="#000" stroke-width="1.2"/>
<line x1="33.3" y1="642.1" x2="36.5" y2="642.1" stroke="#000" stroke-width="1"/>
<text x="30.2" y="644.95" font-size="8.3" text-anchor="end">4</text>
<line x1="33.3" y1="659.1" x2="36.5" y2="659.1" stroke="#000" stroke-width="1"/>
<text x="30.2" y="661.95" font-size="8.3" text-anchor="end">3</text>
<line x1="33.3" y1="676.1" x2="36.5" y2="676.1" stroke="#000" stroke-width="1"/>
<text x="30.2" y="678.95" font-size="8.3" text-anchor="end">2</text>
<line x1="33.3" y1="693.1" x2="36.5" y2="693.1" stroke="#000" stroke-width="1"/>
<text x="30.2" y="695.95" font-size="8.3" text-anchor="end">1</text>
<line x1="33.3" y1="710.1" x2="36.5" y2="710.1" stroke="#000" stroke-width="1"/>
<text x="30.2" y="712.95" font-size="8.3" text-anchor="end">0</text>
<line x1="35.9" y1="710.1" x2="112.5" y2="710.1" stroke="#000" stroke-width="1.2"/>
<line x1="46.25" y1="710.1" x2="46.25" y2="712.7" stroke="#000" stroke-width="1"/>
<line x1="65.5" y1="710.1" x2="65.5" y2="712.7" stroke="#000" stroke-width="1"/>
<line x1="84.5" y1="710.1" x2="84.5" y2="712.7" stroke="#000" stroke-width="1"/>
<line x1="103.75" y1="710.1" x2="103.75" y2="712.7" stroke="#000" stroke-width="1"/>
<line x1="46.25" y1="674.06" x2="46.25" y2="672.8" stroke="#000" stroke-width="0.9"/>
<line x1="43.25" y1="672.8" x2="49.25" y2="672.8" stroke="#000" stroke-width="0.9"/>
<circle cx="43" cy="673" r="1.8" fill="#000"/>
<circle cx="46.25" cy="676.25" r="1.8" fill="#000"/>
<circle cx="50" cy="673.75" r="1.8" fill="#000"/>
<line x1="65.5" y1="675.08" x2="65.5" y2="673.3" stroke="#000" stroke-width="0.9"/>
<line x1="62.5" y1="673.3" x2="68.5" y2="673.3" stroke="#000" stroke-width="0.9"/>
<path d="M62.5 672.5L64.35 675.83L60.65 675.83Z" fill="#000"/>
<path d="M66.25 674L68.1 677.33L64.4 677.33Z" fill="#000"/>
<path d="M69.5 672.5L71.35 675.83L67.65 675.83Z" fill="#000"/>
<line x1="84.5" y1="674.06" x2="84.5" y2="670" stroke="#000" stroke-width="0.9"/>
<line x1="81.5" y1="670" x2="87.5" y2="670" stroke="#000" stroke-width="0.9"/>
<circle cx="82" cy="678" r="1.8" fill="#000"/>
<circle cx="86.25" cy="670" r="1.8" fill="#000"/>
<circle cx="87.5" cy="673.75" r="1.8" fill="#000"/>
<line x1="103.75" y1="658.25" x2="103.75" y2="655.5" stroke="#000" stroke-width="0.9"/>
<line x1="100.75" y1="655.5" x2="106.75" y2="655.5" stroke="#000" stroke-width="0.9"/>
<path d="M100.75 657.25L102.6 660.58L98.9 660.58Z" fill="#000"/>
<path d="M104.5 654.25L106.35 657.58L102.65 657.58Z" fill="#000"/>
<path d="M107 657.5L108.85 660.83L105.15 660.83Z" fill="#000"/>
<text x="94.5" y="649.6" font-size="7.2" text-anchor="middle">**</text>
<text x="55.3" y="723" font-size="8" text-anchor="middle">Vehicle</text>
<text x="94.4" y="723" font-size="8" text-anchor="middle">LPS</text>
<text transform="translate(19.6,675.5) rotate(-90)" x="0" y="0" font-size="9.8" text-anchor="middle" textLength="45.5" lengthAdjust="spacingAndGlyphs" class="c">IL-1&#945; (pg/mL)</text>
<path d="M32.4 694.7L35 696.3L32.4 697.9Z" fill="#2c5aa0"/>
<line x1="208.3" y1="642" x2="208.3" y2="709.9" stroke="#333" stroke-width="0.85" stroke-dasharray="1 1.1"/>
<rect x="172.5" y="709.65" width="13.2" height="0.25" fill="#d08b82"/>
<rect x="191.9" y="707.54" width="13.2" height="2.36" fill="#b9d69d"/>
<rect x="211.4" y="702.81" width="13.2" height="7.09" fill="#d08b82"/>
<rect x="230.6" y="670.24" width="13.2" height="39.66" fill="#b9d69d"/>
<line x1="169.6" y1="640.6" x2="169.6" y2="710.4" stroke="#000" stroke-width="1.2"/>
<line x1="166.6" y1="642.4" x2="169.6" y2="642.4" stroke="#000" stroke-width="1"/>
<text x="162.7" y="645.25" font-size="8.3" text-anchor="end">4000</text>
<line x1="166.6" y1="659.27" x2="169.6" y2="659.27" stroke="#000" stroke-width="1"/>
<text x="162.7" y="662.12" font-size="8.3" text-anchor="end">3000</text>
<line x1="166.6" y1="676.15" x2="169.6" y2="676.15" stroke="#000" stroke-width="1"/>
<text x="162.7" y="679" font-size="8.3" text-anchor="end">2000</text>
<line x1="166.6" y1="693.02" x2="169.6" y2="693.02" stroke="#000" stroke-width="1"/>
<text x="162.7" y="695.88" font-size="8.3" text-anchor="end">1000</text>
<line x1="166.6" y1="709.9" x2="169.6" y2="709.9" stroke="#000" stroke-width="1"/>
<text x="162.7" y="712.75" font-size="8.3" text-anchor="end">0</text>
<line x1="169" y1="709.9" x2="246.5" y2="709.9" stroke="#000" stroke-width="1.2"/>
<line x1="179.1" y1="709.9" x2="179.1" y2="712.5" stroke="#000" stroke-width="1"/>
<line x1="198.5" y1="709.9" x2="198.5" y2="712.5" stroke="#000" stroke-width="1"/>
<line x1="218" y1="709.9" x2="218" y2="712.5" stroke="#000" stroke-width="1"/>
<line x1="237.2" y1="709.9" x2="237.2" y2="712.5" stroke="#000" stroke-width="1"/>
<circle cx="176.5" cy="709.3" r="1.7" fill="#000"/>
<circle cx="179.5" cy="709.6" r="1.7" fill="#000"/>
<circle cx="182.5" cy="709.3" r="1.7" fill="#000"/>
<line x1="198.5" y1="707.54" x2="198.5" y2="702" stroke="#000" stroke-width="0.9"/>
<line x1="195" y1="702" x2="202" y2="702" stroke="#000" stroke-width="0.9"/>
<path d="M198.5 696.5L200.35 699.83L196.65 699.83Z" fill="#000"/>
<path d="M193.8 707L195.65 710.33L191.95 710.33Z" fill="#000"/>
<path d="M203 707L204.85 710.33L201.15 710.33Z" fill="#000"/>
<circle cx="213.5" cy="704.2" r="1.8" fill="#000"/>
<circle cx="216" cy="703.2" r="1.8" fill="#000"/>
<circle cx="218.5" cy="703" r="1.8" fill="#000"/>
<circle cx="221" cy="703.3" r="1.8" fill="#000"/>
<circle cx="223.2" cy="704.2" r="1.8" fill="#000"/>
<circle cx="215" cy="706" r="1.8" fill="#000"/>
<circle cx="218" cy="706.2" r="1.8" fill="#000"/>
<circle cx="221.5" cy="705.8" r="1.8" fill="#000"/>
<line x1="237.2" y1="670.24" x2="237.2" y2="656.4" stroke="#000" stroke-width="0.9"/>
<line x1="233.2" y1="656.4" x2="241.2" y2="656.4" stroke="#000" stroke-width="0.9"/>
<path d="M234.7 662L236.55 665.33L232.85 665.33Z" fill="#000"/>
<path d="M238.8 657.2L240.65 660.53L236.95 660.53Z" fill="#000"/>
<path d="M241 657.5L242.85 660.83L239.15 660.83Z" fill="#000"/>
<path d="M237.6 679.6L239.45 682.93L235.75 682.93Z" fill="#000"/>
<path d="M237.6 687.5L239.45 690.83L235.75 690.83Z" fill="#000"/>
<text x="228.8" y="648.7" font-size="7.2" text-anchor="middle">***</text>
<text x="189.3" y="723" font-size="8" text-anchor="middle">Vehicle</text>
<text x="227.4" y="723" font-size="8" text-anchor="middle">LPS</text>
<text transform="translate(137.8,675) rotate(-90)" x="0" y="0" font-size="9.6" text-anchor="middle" textLength="52.7" lengthAdjust="spacingAndGlyphs" class="c">MIP-1&#945; (pg/mL)</text>
<path d="M163.6 708.3L166.2 709.9L163.6 711.5Z" fill="#2c5aa0"/>
<line x1="341.3" y1="642" x2="341.3" y2="710.1" stroke="#333" stroke-width="0.85" stroke-dasharray="1 1.1"/>
<rect x="305.5" y="709.3" width="12.6" height="0.8" fill="#d08b82"/>
<rect x="324.7" y="707.76" width="12.6" height="2.34" fill="#b9d69d"/>
<rect x="343.9" y="708.09" width="12.6" height="2.01" fill="#d08b82"/>
<rect x="364.2" y="679.33" width="12.6" height="30.77" fill="#b9d69d"/>
<line x1="303.05" y1="641.4" x2="303.05" y2="710.6" stroke="#000" stroke-width="1.2"/>
<line x1="300.05" y1="643.2" x2="303.05" y2="643.2" stroke="#000" stroke-width="1"/>
<text x="296" y="646.05" font-size="8.3" text-anchor="end">1000</text>
<line x1="300.05" y1="656.58" x2="303.05" y2="656.58" stroke="#000" stroke-width="1"/>
<text x="296" y="659.43" font-size="8.3" text-anchor="end">800</text>
<line x1="300.05" y1="669.96" x2="303.05" y2="669.96" stroke="#000" stroke-width="1"/>
<text x="296" y="672.81" font-size="8.3" text-anchor="end">600</text>
<line x1="300.05" y1="683.34" x2="303.05" y2="683.34" stroke="#000" stroke-width="1"/>
<text x="296" y="686.19" font-size="8.3" text-anchor="end">400</text>
<line x1="300.05" y1="696.72" x2="303.05" y2="696.72" stroke="#000" stroke-width="1"/>
<text x="296" y="699.57" font-size="8.3" text-anchor="end">200</text>
<line x1="300.05" y1="710.1" x2="303.05" y2="710.1" stroke="#000" stroke-width="1"/>
<text x="296" y="712.95" font-size="8.3" text-anchor="end">0</text>
<line x1="302.45" y1="710.1" x2="380" y2="710.1" stroke="#000" stroke-width="1.2"/>
<line x1="311.8" y1="710.1" x2="311.8" y2="712.7" stroke="#000" stroke-width="1"/>
<line x1="331" y1="710.1" x2="331" y2="712.7" stroke="#000" stroke-width="1"/>
<line x1="350.2" y1="710.1" x2="350.2" y2="712.7" stroke="#000" stroke-width="1"/>
<line x1="370.5" y1="710.1" x2="370.5" y2="712.7" stroke="#000" stroke-width="1"/>
<circle cx="309.3" cy="709.3" r="1.7" fill="#000"/>
<circle cx="312" cy="709.6" r="1.7" fill="#000"/>
<circle cx="314.7" cy="709.3" r="1.7" fill="#000"/>
<line x1="331" y1="707.76" x2="331" y2="704.2" stroke="#000" stroke-width="0.9"/>
<line x1="327.5" y1="704.2" x2="334.5" y2="704.2" stroke="#000" stroke-width="0.9"/>
<path d="M331 702.5L332.85 705.83L329.15 705.83Z" fill="#000"/>
<path d="M326.5 707L328.35 710.33L324.65 710.33Z" fill="#000"/>
<path d="M335.5 707L337.35 710.33L333.65 710.33Z" fill="#000"/>
<circle cx="347" cy="708" r="1.8" fill="#000"/>
<circle cx="350" cy="707.2" r="1.8" fill="#000"/>
<circle cx="353" cy="708" r="1.8" fill="#000"/>
<line x1="370.5" y1="679.33" x2="370.5" y2="662.5" stroke="#000" stroke-width="0.9"/>
<line x1="366.5" y1="662.5" x2="374.5" y2="662.5" stroke="#000" stroke-width="0.9"/>
<path d="M370 652.9L371.85 656.23L368.15 656.23Z" fill="#000"/>
<path d="M370 671.9L371.85 675.23L368.15 675.23Z" fill="#000"/>
<path d="M370 679.7L371.85 683.03L368.15 683.03Z" fill="#000"/>
<path d="M370 689.2L371.85 692.53L368.15 692.53Z" fill="#000"/>
<path d="M370 694.4L371.85 697.73L368.15 697.73Z" fill="#000"/>
<text x="361.8" y="649.5" font-size="7.2" text-anchor="middle">**</text>
<text x="322" y="723" font-size="8" text-anchor="middle">Vehicle</text>
<text x="360" y="723" font-size="8" text-anchor="middle">LPS</text>
<text transform="translate(271,674.9) rotate(-90)" x="0" y="0" font-size="9.4" text-anchor="middle" textLength="40.2" lengthAdjust="spacingAndGlyphs" class="c">TNF (pg/mL)</text>
<path d="M296.4 708.5L299 710.1L296.4 711.7Z" fill="#2c5aa0"/>
<text x="474.3" y="634.2" font-size="10" text-anchor="middle" fill="#2a4888" class="n" textLength="46.5" lengthAdjust="spacingAndGlyphs">Monocytes</text>
<line x1="474.2" y1="642" x2="474.2" y2="710.1" stroke="#333" stroke-width="0.85" stroke-dasharray="1 1.1"/>
<rect x="439.2" y="705.05" width="12.2" height="5.05" fill="#d08b82"/>
<rect x="458" y="706.06" width="12.2" height="4.04" fill="#b9d69d"/>
<rect x="477.6" y="695.95" width="12.2" height="14.15" fill="#d08b82"/>
<rect x="497.1" y="687.86" width="12.2" height="22.24" fill="#b9d69d"/>
<line x1="435.75" y1="640.9" x2="435.75" y2="710.6" stroke="#000" stroke-width="1.2"/>
<line x1="432.75" y1="642.7" x2="435.75" y2="642.7" stroke="#000" stroke-width="1"/>
<text x="429.2" y="645.55" font-size="8.3" text-anchor="end">1000</text>
<line x1="432.75" y1="656.18" x2="435.75" y2="656.18" stroke="#000" stroke-width="1"/>
<text x="429.2" y="659.03" font-size="8.3" text-anchor="end">800</text>
<line x1="432.75" y1="669.66" x2="435.75" y2="669.66" stroke="#000" stroke-width="1"/>
<text x="429.2" y="672.51" font-size="8.3" text-anchor="end">600</text>
<line x1="432.75" y1="683.14" x2="435.75" y2="683.14" stroke="#000" stroke-width="1"/>
<text x="429.2" y="685.99" font-size="8.3" text-anchor="end">400</text>
<line x1="432.75" y1="696.62" x2="435.75" y2="696.62" stroke="#000" stroke-width="1"/>
<text x="429.2" y="699.47" font-size="8.3" text-anchor="end">200</text>
<line x1="432.75" y1="710.1" x2="435.75" y2="710.1" stroke="#000" stroke-width="1"/>
<text x="429.2" y="712.95" font-size="8.3" text-anchor="end">0</text>
<line x1="435.15" y1="710.1" x2="510.6" y2="710.1" stroke="#000" stroke-width="1.2"/>
<line x1="445.3" y1="710.1" x2="445.3" y2="712.7" stroke="#000" stroke-width="1"/>
<line x1="464.1" y1="710.1" x2="464.1" y2="712.7" stroke="#000" stroke-width="1"/>
<line x1="483.7" y1="710.1" x2="483.7" y2="712.7" stroke="#000" stroke-width="1"/>
<line x1="503.2" y1="710.1" x2="503.2" y2="712.7" stroke="#000" stroke-width="1"/>
<line x1="445.3" y1="705.05" x2="445.3" y2="699.6" stroke="#000" stroke-width="0.9"/>
<line x1="442.3" y1="699.6" x2="448.3" y2="699.6" stroke="#000" stroke-width="0.9"/>
<circle cx="445.2" cy="695.5" r="1.8" fill="#000"/>
<circle cx="448" cy="703.6" r="1.8" fill="#000"/>
<circle cx="442.7" cy="707.7" r="1.8" fill="#000"/>
<circle cx="446.3" cy="707.7" r="1.8" fill="#000"/>
<line x1="464.1" y1="706.06" x2="464.1" y2="701.5" stroke="#000" stroke-width="0.9"/>
<line x1="461.1" y1="701.5" x2="467.1" y2="701.5" stroke="#000" stroke-width="0.9"/>
<path d="M461.6 699.8L463.45 703.13L459.75 703.13Z" fill="#000"/>
<path d="M467.5 699.8L469.35 703.13L465.65 703.13Z" fill="#000"/>
<path d="M459 706L460.85 709.33L457.15 709.33Z" fill="#000"/>
<path d="M468.5 706L470.35 709.33L466.65 709.33Z" fill="#000"/>
<line x1="483.7" y1="695.95" x2="483.7" y2="691.4" stroke="#000" stroke-width="0.9"/>
<line x1="480.7" y1="691.4" x2="486.7" y2="691.4" stroke="#000" stroke-width="0.9"/>
<circle cx="481.5" cy="689.4" r="1.8" fill="#000"/>
<circle cx="486.4" cy="693" r="1.8" fill="#000"/>
<circle cx="480.5" cy="697.1" r="1.8" fill="#000"/>
<circle cx="483.9" cy="698.7" r="1.8" fill="#000"/>
<circle cx="488" cy="698.4" r="1.8" fill="#000"/>
<line x1="503.2" y1="687.86" x2="503.2" y2="680.2" stroke="#000" stroke-width="0.9"/>
<line x1="500.2" y1="680.2" x2="506.2" y2="680.2" stroke="#000" stroke-width="0.9"/>
<path d="M502.7 678.8L504.55 682.13L500.85 682.13Z" fill="#000"/>
<path d="M501.1 682L502.95 685.33L499.25 685.33Z" fill="#000"/>
<path d="M505.5 685.3L507.35 688.63L503.65 688.63Z" fill="#000"/>
<path d="M506 690.2L507.85 693.53L504.15 693.53Z" fill="#000"/>
<path d="M500.6 694.3L502.45 697.63L498.75 697.63Z" fill="#000"/>
<text x="481.8" y="648.5" font-size="7.9">P=0.06</text>
<text x="455" y="723.3" font-size="8" text-anchor="middle">Vehicle</text>
<text x="493.4" y="723.3" font-size="8" text-anchor="middle">LPS</text>
<text transform="translate(403.6,674.9) rotate(-90)" x="0" y="0" font-size="9.4" text-anchor="middle" textLength="40.2" lengthAdjust="spacingAndGlyphs" class="c">TNF (pg/mL)</text>
<path d="M429.3 708.5L431.9 710.1L429.3 711.7Z" fill="#2c5aa0"/>
</svg></body></html>
